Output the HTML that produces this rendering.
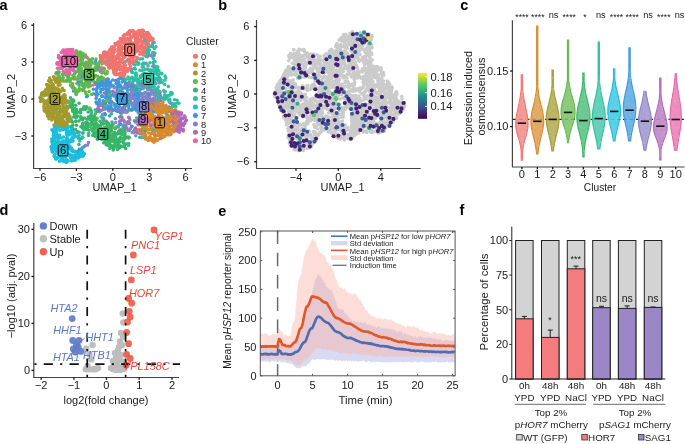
<!DOCTYPE html>
<html><head><meta charset="utf-8"><style>
html,body{margin:0;padding:0;background:#fff;}
svg{display:block;will-change:transform;}
text{font-family:"Liberation Sans", sans-serif;}
</style></head><body>
<svg width="685" height="444" viewBox="0 0 685 444">
<rect width="685" height="444" fill="#fff"/>
<g>
<circle cx="142.9" cy="122.1" r="1.75" fill="#D98B2B"/>
<circle cx="83.1" cy="53.5" r="1.75" fill="#62B84A"/>
<circle cx="57.6" cy="141.9" r="1.75" fill="#1CBEE0"/>
<circle cx="123.4" cy="127.8" r="1.75" fill="#B06AB8"/>
<circle cx="117.2" cy="143.4" r="1.75" fill="#37B56B"/>
<circle cx="100.5" cy="71.8" r="1.75" fill="#62B84A"/>
<circle cx="48.3" cy="108.1" r="1.75" fill="#A39A2E"/>
<circle cx="67.4" cy="63.2" r="1.75" fill="#E864A8"/>
<circle cx="148.5" cy="44.6" r="1.75" fill="#F07470"/>
<circle cx="125.8" cy="49.1" r="1.75" fill="#F07470"/>
<circle cx="172.8" cy="111.2" r="1.75" fill="#B06AB8"/>
<circle cx="125.8" cy="93.8" r="1.75" fill="#3A98DC"/>
<circle cx="56.3" cy="158" r="1.75" fill="#1CBEE0"/>
<circle cx="107" cy="63.2" r="1.75" fill="#F07470"/>
<circle cx="82.2" cy="60" r="1.75" fill="#62B84A"/>
<circle cx="107.8" cy="123.1" r="1.75" fill="#37B56B"/>
<circle cx="48.6" cy="84.9" r="1.75" fill="#A39A2E"/>
<circle cx="90.8" cy="125.3" r="1.75" fill="#37B56B"/>
<circle cx="80" cy="52.1" r="1.75" fill="#62B84A"/>
<circle cx="74" cy="61.1" r="1.75" fill="#E864A8"/>
<circle cx="76.9" cy="83.3" r="1.75" fill="#62B84A"/>
<circle cx="127.1" cy="68.8" r="1.75" fill="#F07470"/>
<circle cx="132.4" cy="86" r="1.75" fill="#3A98DC"/>
<circle cx="129.6" cy="84.2" r="1.75" fill="#3A98DC"/>
<circle cx="64" cy="108.3" r="1.75" fill="#A39A2E"/>
<circle cx="60.9" cy="57.8" r="1.75" fill="#E864A8"/>
<circle cx="141.2" cy="44.9" r="1.75" fill="#F07470"/>
<circle cx="160.1" cy="126.7" r="1.75" fill="#D98B2B"/>
<circle cx="71.2" cy="134" r="1.75" fill="#1CBEE0"/>
<circle cx="113.3" cy="56.1" r="1.75" fill="#F07470"/>
<circle cx="125.1" cy="112" r="1.75" fill="#3A98DC"/>
<circle cx="136.1" cy="91.1" r="1.75" fill="#62B84A"/>
<circle cx="124.4" cy="65.3" r="1.75" fill="#F07470"/>
<circle cx="143" cy="81.6" r="1.75" fill="#2EBFA0"/>
<circle cx="62.2" cy="142.5" r="1.75" fill="#1CBEE0"/>
<circle cx="122" cy="48.7" r="1.75" fill="#F07470"/>
<circle cx="169.9" cy="100.7" r="1.75" fill="#2EBFA0"/>
<circle cx="49" cy="95.2" r="1.75" fill="#A39A2E"/>
<circle cx="148.9" cy="104.6" r="1.75" fill="#D98B2B"/>
<circle cx="147.7" cy="49.6" r="1.75" fill="#2EBFA0"/>
<circle cx="56.4" cy="109.8" r="1.75" fill="#A39A2E"/>
<circle cx="97.9" cy="86.5" r="1.75" fill="#3A98DC"/>
<circle cx="127.3" cy="47.1" r="1.75" fill="#F07470"/>
<circle cx="155.8" cy="118.6" r="1.75" fill="#D98B2B"/>
<circle cx="92.2" cy="69.4" r="1.75" fill="#62B84A"/>
<circle cx="59.6" cy="135" r="1.75" fill="#1CBEE0"/>
<circle cx="122.5" cy="76.5" r="1.75" fill="#F07470"/>
<circle cx="134.2" cy="106.2" r="1.75" fill="#3A98DC"/>
<circle cx="72.4" cy="127.9" r="1.75" fill="#1CBEE0"/>
<circle cx="73.1" cy="129.9" r="1.75" fill="#37B56B"/>
<circle cx="82.6" cy="125" r="1.75" fill="#37B56B"/>
<circle cx="70.2" cy="82.1" r="1.75" fill="#62B84A"/>
<circle cx="120.6" cy="99" r="1.75" fill="#3A98DC"/>
<circle cx="126.4" cy="43.8" r="1.75" fill="#F07470"/>
<circle cx="167.3" cy="95.7" r="1.75" fill="#2EBFA0"/>
<circle cx="96.5" cy="123.7" r="1.75" fill="#37B56B"/>
<circle cx="141.4" cy="137.6" r="1.75" fill="#8C80C8"/>
<circle cx="179.2" cy="132.3" r="1.75" fill="#B06AB8"/>
<circle cx="143.3" cy="30.9" r="1.75" fill="#F07470"/>
<circle cx="144.8" cy="85.7" r="1.75" fill="#8C80C8"/>
<circle cx="148.3" cy="98.9" r="1.75" fill="#8C80C8"/>
<circle cx="149.5" cy="87.7" r="1.75" fill="#2EBFA0"/>
<circle cx="127.4" cy="137.1" r="1.75" fill="#37B56B"/>
<circle cx="86.9" cy="75.2" r="1.75" fill="#62B84A"/>
<circle cx="62.3" cy="118.6" r="1.75" fill="#A39A2E"/>
<circle cx="170.4" cy="110.5" r="1.75" fill="#D98B2B"/>
<circle cx="133" cy="98.6" r="1.75" fill="#3A98DC"/>
<circle cx="132.5" cy="106" r="1.75" fill="#3A98DC"/>
<circle cx="94.8" cy="69.1" r="1.75" fill="#62B84A"/>
<circle cx="116.4" cy="99.2" r="1.75" fill="#3A98DC"/>
<circle cx="144.2" cy="35.5" r="1.75" fill="#F07470"/>
<circle cx="65.6" cy="156.7" r="1.75" fill="#1CBEE0"/>
<circle cx="178.4" cy="129.4" r="1.75" fill="#B06AB8"/>
<circle cx="73.5" cy="151.7" r="1.75" fill="#37B56B"/>
<circle cx="85.7" cy="55.1" r="1.75" fill="#62B84A"/>
<circle cx="88.3" cy="86.9" r="1.75" fill="#62B84A"/>
<circle cx="112" cy="54" r="1.75" fill="#F07470"/>
<circle cx="139.3" cy="41.7" r="1.75" fill="#F07470"/>
<circle cx="116" cy="105.3" r="1.75" fill="#3A98DC"/>
<circle cx="126.4" cy="111.3" r="1.75" fill="#37B56B"/>
<circle cx="136.3" cy="107.3" r="1.75" fill="#8C80C8"/>
<circle cx="164.7" cy="84.4" r="1.75" fill="#2EBFA0"/>
<circle cx="77.6" cy="132.7" r="1.75" fill="#2EBFA0"/>
<circle cx="98.5" cy="136" r="1.75" fill="#37B56B"/>
<circle cx="155.4" cy="91.7" r="1.75" fill="#8C80C8"/>
<circle cx="136.5" cy="90.3" r="1.75" fill="#3A98DC"/>
<circle cx="75" cy="77.5" r="1.75" fill="#62B84A"/>
<circle cx="136.1" cy="109.4" r="1.75" fill="#8C80C8"/>
<circle cx="64.5" cy="150.2" r="1.75" fill="#1CBEE0"/>
<circle cx="47.4" cy="100.7" r="1.75" fill="#A39A2E"/>
<circle cx="60.1" cy="100.4" r="1.75" fill="#A39A2E"/>
<circle cx="101.6" cy="129.1" r="1.75" fill="#37B56B"/>
<circle cx="114.7" cy="132.3" r="1.75" fill="#37B56B"/>
<circle cx="95.1" cy="110.1" r="1.75" fill="#2EBFA0"/>
<circle cx="84" cy="146.8" r="1.75" fill="#3A98DC"/>
<circle cx="75.5" cy="129.5" r="1.75" fill="#37B56B"/>
<circle cx="139" cy="133.1" r="1.75" fill="#8C80C8"/>
<circle cx="47.9" cy="111.4" r="1.75" fill="#A39A2E"/>
<circle cx="57.4" cy="114.2" r="1.75" fill="#A39A2E"/>
<circle cx="80.8" cy="58.1" r="1.75" fill="#62B84A"/>
<circle cx="151.6" cy="116.2" r="1.75" fill="#D98B2B"/>
<circle cx="53.3" cy="103.3" r="1.75" fill="#A39A2E"/>
<circle cx="63.1" cy="126.9" r="1.75" fill="#1CBEE0"/>
<circle cx="154.2" cy="90.8" r="1.75" fill="#2EBFA0"/>
<circle cx="85.8" cy="84.1" r="1.75" fill="#E864A8"/>
<circle cx="60.3" cy="145.6" r="1.75" fill="#1CBEE0"/>
<circle cx="57.2" cy="147.2" r="1.75" fill="#1CBEE0"/>
<circle cx="125.5" cy="70" r="1.75" fill="#F07470"/>
<circle cx="64" cy="108.4" r="1.75" fill="#A39A2E"/>
<circle cx="62" cy="116" r="1.75" fill="#A39A2E"/>
<circle cx="121.1" cy="86.8" r="1.75" fill="#3A98DC"/>
<circle cx="152.9" cy="56.1" r="1.75" fill="#2EBFA0"/>
<circle cx="79.8" cy="73.2" r="1.75" fill="#62B84A"/>
<circle cx="103.4" cy="102" r="1.75" fill="#62B84A"/>
<circle cx="63.9" cy="95.1" r="1.75" fill="#A39A2E"/>
<circle cx="144.5" cy="102.5" r="1.75" fill="#8C80C8"/>
<circle cx="160.1" cy="104.5" r="1.75" fill="#8C80C8"/>
<circle cx="141.5" cy="84.7" r="1.75" fill="#2EBFA0"/>
<circle cx="149.5" cy="111.9" r="1.75" fill="#D98B2B"/>
<circle cx="76.3" cy="116.6" r="1.75" fill="#37B56B"/>
<circle cx="121.5" cy="46.1" r="1.75" fill="#F07470"/>
<circle cx="77.9" cy="61.1" r="1.75" fill="#E864A8"/>
<circle cx="173.4" cy="123.1" r="1.75" fill="#D98B2B"/>
<circle cx="148.9" cy="40.9" r="1.75" fill="#F07470"/>
<circle cx="63" cy="152.2" r="1.75" fill="#1CBEE0"/>
<circle cx="132.5" cy="104.1" r="1.75" fill="#3A98DC"/>
<circle cx="88.3" cy="117" r="1.75" fill="#37B56B"/>
<circle cx="59.9" cy="100.2" r="1.75" fill="#A39A2E"/>
<circle cx="174.1" cy="127.8" r="1.75" fill="#D98B2B"/>
<circle cx="49.5" cy="81.3" r="1.75" fill="#A39A2E"/>
<circle cx="158.2" cy="97.4" r="1.75" fill="#3A98DC"/>
<circle cx="136.2" cy="75.9" r="1.75" fill="#2EBFA0"/>
<circle cx="82.1" cy="62.4" r="1.75" fill="#62B84A"/>
<circle cx="143.6" cy="93.9" r="1.75" fill="#3A98DC"/>
<circle cx="145.5" cy="139" r="1.75" fill="#D98B2B"/>
<circle cx="76.8" cy="151.8" r="1.75" fill="#1CBEE0"/>
<circle cx="119.6" cy="94" r="1.75" fill="#62B84A"/>
<circle cx="59.9" cy="81.9" r="1.75" fill="#A39A2E"/>
<circle cx="164" cy="129" r="1.75" fill="#D98B2B"/>
<circle cx="61.8" cy="154.9" r="1.75" fill="#1CBEE0"/>
<circle cx="146.5" cy="47.4" r="1.75" fill="#F07470"/>
<circle cx="139.4" cy="84.5" r="1.75" fill="#2EBFA0"/>
<circle cx="157.3" cy="91.2" r="1.75" fill="#2EBFA0"/>
<circle cx="54.2" cy="104.2" r="1.75" fill="#A39A2E"/>
<circle cx="135.9" cy="72.9" r="1.75" fill="#2EBFA0"/>
<circle cx="63.3" cy="126.7" r="1.75" fill="#A39A2E"/>
<circle cx="110.1" cy="128.6" r="1.75" fill="#37B56B"/>
<circle cx="76" cy="157.6" r="1.75" fill="#1CBEE0"/>
<circle cx="154.9" cy="104.4" r="1.75" fill="#D98B2B"/>
<circle cx="171.7" cy="113.3" r="1.75" fill="#D98B2B"/>
<circle cx="84.3" cy="76.3" r="1.75" fill="#E864A8"/>
<circle cx="128.2" cy="101.3" r="1.75" fill="#3A98DC"/>
<circle cx="147.3" cy="40.9" r="1.75" fill="#F07470"/>
<circle cx="156.8" cy="108.8" r="1.75" fill="#2EBFA0"/>
<circle cx="139.9" cy="70.2" r="1.75" fill="#2EBFA0"/>
<circle cx="55.5" cy="143.7" r="1.75" fill="#1CBEE0"/>
<circle cx="86.7" cy="122.3" r="1.75" fill="#37B56B"/>
<circle cx="56.8" cy="78.6" r="1.75" fill="#A39A2E"/>
<circle cx="120.1" cy="145.9" r="1.75" fill="#37B56B"/>
<circle cx="154.3" cy="89.3" r="1.75" fill="#2EBFA0"/>
<circle cx="126.6" cy="96" r="1.75" fill="#8C80C8"/>
<circle cx="167.9" cy="134.7" r="1.75" fill="#D98B2B"/>
<circle cx="113.1" cy="135.6" r="1.75" fill="#37B56B"/>
<circle cx="72.3" cy="87.8" r="1.75" fill="#62B84A"/>
<circle cx="58.2" cy="140.8" r="1.75" fill="#1CBEE0"/>
<circle cx="141.9" cy="133" r="1.75" fill="#D98B2B"/>
<circle cx="106.2" cy="64.2" r="1.75" fill="#F07470"/>
<circle cx="125.6" cy="138" r="1.75" fill="#37B56B"/>
<circle cx="99.8" cy="78.1" r="1.75" fill="#37B56B"/>
<circle cx="118.5" cy="66.2" r="1.75" fill="#F07470"/>
<circle cx="51.9" cy="141.6" r="1.75" fill="#1CBEE0"/>
<circle cx="58.7" cy="63.9" r="1.75" fill="#E864A8"/>
<circle cx="173.6" cy="129.1" r="1.75" fill="#D98B2B"/>
<circle cx="153.7" cy="83.2" r="1.75" fill="#2EBFA0"/>
<circle cx="133" cy="59.1" r="1.75" fill="#F07470"/>
<circle cx="60.4" cy="126.7" r="1.75" fill="#1CBEE0"/>
<circle cx="130.8" cy="41.6" r="1.75" fill="#F07470"/>
<circle cx="173.8" cy="113.9" r="1.75" fill="#D98B2B"/>
<circle cx="117.1" cy="90.8" r="1.75" fill="#8C80C8"/>
<circle cx="134.1" cy="68.6" r="1.75" fill="#2EBFA0"/>
<circle cx="136.9" cy="129.7" r="1.75" fill="#B06AB8"/>
<circle cx="162.4" cy="132.6" r="1.75" fill="#D98B2B"/>
<circle cx="113.8" cy="71.9" r="1.75" fill="#F07470"/>
<circle cx="163.7" cy="109.9" r="1.75" fill="#D98B2B"/>
<circle cx="149.2" cy="113.8" r="1.75" fill="#D98B2B"/>
<circle cx="109.2" cy="60.7" r="1.75" fill="#F07470"/>
<circle cx="117.1" cy="83.8" r="1.75" fill="#3A98DC"/>
<circle cx="145.7" cy="135" r="1.75" fill="#B06AB8"/>
<circle cx="85.4" cy="126.6" r="1.75" fill="#37B56B"/>
<circle cx="54.7" cy="137.4" r="1.75" fill="#1CBEE0"/>
<circle cx="152.5" cy="39.5" r="1.75" fill="#F07470"/>
<circle cx="132" cy="54.7" r="1.75" fill="#F07470"/>
<circle cx="66.7" cy="57.9" r="1.75" fill="#E864A8"/>
<circle cx="171.5" cy="115.1" r="1.75" fill="#D98B2B"/>
<circle cx="127.7" cy="71.3" r="1.75" fill="#F07470"/>
<circle cx="155.7" cy="124.8" r="1.75" fill="#D98B2B"/>
<circle cx="143.6" cy="83.2" r="1.75" fill="#2EBFA0"/>
<circle cx="98" cy="83.4" r="1.75" fill="#3A98DC"/>
<circle cx="134.9" cy="85.7" r="1.75" fill="#8C80C8"/>
<circle cx="63.1" cy="96.5" r="1.75" fill="#A39A2E"/>
<circle cx="151" cy="106.5" r="1.75" fill="#2EBFA0"/>
<circle cx="162.6" cy="98.3" r="1.75" fill="#8C80C8"/>
<circle cx="58.4" cy="80.1" r="1.75" fill="#A39A2E"/>
<circle cx="72.8" cy="150.2" r="1.75" fill="#1CBEE0"/>
<circle cx="51.5" cy="85.9" r="1.75" fill="#A39A2E"/>
<circle cx="95.6" cy="124.5" r="1.75" fill="#37B56B"/>
<circle cx="58.9" cy="148.7" r="1.75" fill="#1CBEE0"/>
<circle cx="114.9" cy="145.9" r="1.75" fill="#37B56B"/>
<circle cx="154.6" cy="53.3" r="1.75" fill="#2EBFA0"/>
<circle cx="147.3" cy="74.1" r="1.75" fill="#8C80C8"/>
<circle cx="139.5" cy="48.5" r="1.75" fill="#F07470"/>
<circle cx="156.8" cy="127.9" r="1.75" fill="#D98B2B"/>
<circle cx="110.3" cy="95.1" r="1.75" fill="#3A98DC"/>
<circle cx="54.6" cy="79.2" r="1.75" fill="#A39A2E"/>
<circle cx="154" cy="106.1" r="1.75" fill="#2EBFA0"/>
<circle cx="92.6" cy="59.1" r="1.75" fill="#62B84A"/>
<circle cx="118.4" cy="82.1" r="1.75" fill="#3A98DC"/>
<circle cx="134.9" cy="34.1" r="1.75" fill="#F07470"/>
<circle cx="176" cy="122.7" r="1.75" fill="#B06AB8"/>
<circle cx="53.3" cy="135.6" r="1.75" fill="#1CBEE0"/>
<circle cx="72.6" cy="141.1" r="1.75" fill="#1CBEE0"/>
<circle cx="56.1" cy="72.7" r="1.75" fill="#62B84A"/>
<circle cx="130.6" cy="102.2" r="1.75" fill="#8C80C8"/>
<circle cx="156.9" cy="68.7" r="1.75" fill="#2EBFA0"/>
<circle cx="132.2" cy="53.2" r="1.75" fill="#F07470"/>
<circle cx="69.8" cy="54.3" r="1.75" fill="#E864A8"/>
<circle cx="68.6" cy="50" r="1.75" fill="#E864A8"/>
<circle cx="67.4" cy="146.7" r="1.75" fill="#1CBEE0"/>
<circle cx="129" cy="108.5" r="1.75" fill="#3A98DC"/>
<circle cx="123" cy="108.9" r="1.75" fill="#3A98DC"/>
<circle cx="102.3" cy="80.1" r="1.75" fill="#62B84A"/>
<circle cx="153.4" cy="86.4" r="1.75" fill="#8C80C8"/>
<circle cx="180.7" cy="126" r="1.75" fill="#B06AB8"/>
<circle cx="153.2" cy="103.3" r="1.75" fill="#D98B2B"/>
<circle cx="133" cy="43.8" r="1.75" fill="#F07470"/>
<circle cx="118.3" cy="127" r="1.75" fill="#B06AB8"/>
<circle cx="119.8" cy="68.9" r="1.75" fill="#F07470"/>
<circle cx="160.4" cy="127.3" r="1.75" fill="#D98B2B"/>
<circle cx="111.3" cy="66" r="1.75" fill="#F07470"/>
<circle cx="118.9" cy="131.1" r="1.75" fill="#37B56B"/>
<circle cx="65.3" cy="107.2" r="1.75" fill="#A39A2E"/>
<circle cx="73.3" cy="58.2" r="1.75" fill="#E864A8"/>
<circle cx="104.3" cy="106.8" r="1.75" fill="#3A98DC"/>
<circle cx="70.6" cy="85.6" r="1.75" fill="#E864A8"/>
<circle cx="73.8" cy="79.1" r="1.75" fill="#E864A8"/>
<circle cx="173" cy="115.1" r="1.75" fill="#D98B2B"/>
<circle cx="183.3" cy="129.4" r="1.75" fill="#B06AB8"/>
<circle cx="119.3" cy="59" r="1.75" fill="#F07470"/>
<circle cx="54.1" cy="141.6" r="1.75" fill="#1CBEE0"/>
<circle cx="72.9" cy="86.3" r="1.75" fill="#62B84A"/>
<circle cx="58.2" cy="152.4" r="1.75" fill="#1CBEE0"/>
<circle cx="151.9" cy="101.3" r="1.75" fill="#8C80C8"/>
<circle cx="129.9" cy="119.8" r="1.75" fill="#2EBFA0"/>
<circle cx="103.6" cy="107.7" r="1.75" fill="#3A98DC"/>
<circle cx="62.6" cy="62.2" r="1.75" fill="#E864A8"/>
<circle cx="151.3" cy="55.9" r="1.75" fill="#2EBFA0"/>
<circle cx="115.3" cy="60.9" r="1.75" fill="#F07470"/>
<circle cx="102.6" cy="96.4" r="1.75" fill="#8C80C8"/>
<circle cx="129.6" cy="110.1" r="1.75" fill="#3A98DC"/>
<circle cx="144.6" cy="136.7" r="1.75" fill="#D98B2B"/>
<circle cx="55.4" cy="119.2" r="1.75" fill="#37B56B"/>
<circle cx="114.3" cy="87.7" r="1.75" fill="#62B84A"/>
<circle cx="141.4" cy="84.7" r="1.75" fill="#8C80C8"/>
<circle cx="109.2" cy="100.1" r="1.75" fill="#3A98DC"/>
<circle cx="55.7" cy="159" r="1.75" fill="#1CBEE0"/>
<circle cx="121.5" cy="47.2" r="1.75" fill="#F07470"/>
<circle cx="128.1" cy="144.1" r="1.75" fill="#37B56B"/>
<circle cx="131.9" cy="69.2" r="1.75" fill="#2EBFA0"/>
<circle cx="66.7" cy="149" r="1.75" fill="#1CBEE0"/>
<circle cx="65.9" cy="63.6" r="1.75" fill="#E864A8"/>
<circle cx="77.2" cy="57.5" r="1.75" fill="#62B84A"/>
<circle cx="158.3" cy="118.6" r="1.75" fill="#D98B2B"/>
<circle cx="168.3" cy="86.6" r="1.75" fill="#2EBFA0"/>
<circle cx="72.9" cy="140.8" r="1.75" fill="#1CBEE0"/>
<circle cx="130.7" cy="98" r="1.75" fill="#8C80C8"/>
<circle cx="74.7" cy="66.8" r="1.75" fill="#E864A8"/>
<circle cx="146.6" cy="98.8" r="1.75" fill="#2EBFA0"/>
<circle cx="105.5" cy="139.2" r="1.75" fill="#37B56B"/>
<circle cx="94.1" cy="127.7" r="1.75" fill="#37B56B"/>
<circle cx="159.7" cy="123.5" r="1.75" fill="#D98B2B"/>
<circle cx="127.9" cy="86.5" r="1.75" fill="#3A98DC"/>
<circle cx="133.7" cy="132.8" r="1.75" fill="#B06AB8"/>
<circle cx="111.5" cy="85.6" r="1.75" fill="#3A98DC"/>
<circle cx="57.7" cy="126" r="1.75" fill="#1CBEE0"/>
<circle cx="56.6" cy="113.2" r="1.75" fill="#A39A2E"/>
<circle cx="78.4" cy="158.1" r="1.75" fill="#1CBEE0"/>
<circle cx="90.1" cy="118.6" r="1.75" fill="#62B84A"/>
<circle cx="157.2" cy="71.5" r="1.75" fill="#2EBFA0"/>
<circle cx="53.2" cy="145.4" r="1.75" fill="#1CBEE0"/>
<circle cx="86.5" cy="123.6" r="1.75" fill="#37B56B"/>
<circle cx="134.7" cy="100" r="1.75" fill="#2EBFA0"/>
<circle cx="52.1" cy="91.8" r="1.75" fill="#A39A2E"/>
<circle cx="122.3" cy="130.6" r="1.75" fill="#37B56B"/>
<circle cx="47.6" cy="89.1" r="1.75" fill="#A39A2E"/>
<circle cx="54.1" cy="138.1" r="1.75" fill="#1CBEE0"/>
<circle cx="130.8" cy="44.4" r="1.75" fill="#F07470"/>
<circle cx="72.7" cy="137.1" r="1.75" fill="#1CBEE0"/>
<circle cx="91.3" cy="110.9" r="1.75" fill="#37B56B"/>
<circle cx="120.2" cy="72.9" r="1.75" fill="#F07470"/>
<circle cx="90.9" cy="123.7" r="1.75" fill="#37B56B"/>
<circle cx="152.2" cy="133.3" r="1.75" fill="#D98B2B"/>
<circle cx="81.2" cy="68.1" r="1.75" fill="#62B84A"/>
<circle cx="63.6" cy="64.2" r="1.75" fill="#E864A8"/>
<circle cx="120.6" cy="59.2" r="1.75" fill="#F07470"/>
<circle cx="148.9" cy="94.2" r="1.75" fill="#8C80C8"/>
<circle cx="94.8" cy="123.8" r="1.75" fill="#37B56B"/>
<circle cx="80.7" cy="156" r="1.75" fill="#1CBEE0"/>
<circle cx="136.5" cy="61.4" r="1.75" fill="#2EBFA0"/>
<circle cx="81.6" cy="57.5" r="1.75" fill="#62B84A"/>
<circle cx="70.1" cy="107" r="1.75" fill="#37B56B"/>
<circle cx="62.6" cy="125.9" r="1.75" fill="#1CBEE0"/>
<circle cx="170" cy="134.8" r="1.75" fill="#D98B2B"/>
<circle cx="124.1" cy="80.1" r="1.75" fill="#62B84A"/>
<circle cx="64.4" cy="55.5" r="1.75" fill="#E864A8"/>
<circle cx="124.4" cy="139.3" r="1.75" fill="#37B56B"/>
<circle cx="108.3" cy="108.2" r="1.75" fill="#B06AB8"/>
<circle cx="152.5" cy="109.1" r="1.75" fill="#8C80C8"/>
<circle cx="89.6" cy="61" r="1.75" fill="#62B84A"/>
<circle cx="95" cy="134.3" r="1.75" fill="#37B56B"/>
<circle cx="96.6" cy="133.2" r="1.75" fill="#37B56B"/>
<circle cx="106.6" cy="61.6" r="1.75" fill="#F07470"/>
<circle cx="79.1" cy="90.8" r="1.75" fill="#62B84A"/>
<circle cx="143.9" cy="134.1" r="1.75" fill="#D98B2B"/>
<circle cx="148.1" cy="65.7" r="1.75" fill="#2EBFA0"/>
<circle cx="111.8" cy="101.8" r="1.75" fill="#3A98DC"/>
<circle cx="115.6" cy="62.8" r="1.75" fill="#F07470"/>
<circle cx="146.9" cy="118.9" r="1.75" fill="#D98B2B"/>
<circle cx="143.2" cy="120.5" r="1.75" fill="#D98B2B"/>
<circle cx="71.3" cy="129.2" r="1.75" fill="#1CBEE0"/>
<circle cx="163.6" cy="136.9" r="1.75" fill="#D98B2B"/>
<circle cx="101.7" cy="85.5" r="1.75" fill="#3A98DC"/>
<circle cx="155.1" cy="92" r="1.75" fill="#2EBFA0"/>
<circle cx="154.7" cy="53.2" r="1.75" fill="#2EBFA0"/>
<circle cx="96.8" cy="96" r="1.75" fill="#3A98DC"/>
<circle cx="46.7" cy="107.1" r="1.75" fill="#A39A2E"/>
<circle cx="153.6" cy="65.6" r="1.75" fill="#8C80C8"/>
<circle cx="79.4" cy="131.9" r="1.75" fill="#1CBEE0"/>
<circle cx="107" cy="73.4" r="1.75" fill="#62B84A"/>
<circle cx="109.6" cy="101.9" r="1.75" fill="#3A98DC"/>
<circle cx="113.5" cy="93.5" r="1.75" fill="#3A98DC"/>
<circle cx="137.5" cy="102.2" r="1.75" fill="#3A98DC"/>
<circle cx="137" cy="106.4" r="1.75" fill="#8C80C8"/>
<circle cx="75.8" cy="121.1" r="1.75" fill="#37B56B"/>
<circle cx="96.5" cy="69.3" r="1.75" fill="#E864A8"/>
<circle cx="137.5" cy="89.8" r="1.75" fill="#8C80C8"/>
<circle cx="96.1" cy="98.6" r="1.75" fill="#3A98DC"/>
<circle cx="65.9" cy="52.7" r="1.75" fill="#E864A8"/>
<circle cx="158.5" cy="77.5" r="1.75" fill="#2EBFA0"/>
<circle cx="136.9" cy="79.8" r="1.75" fill="#2EBFA0"/>
<circle cx="125.9" cy="61.6" r="1.75" fill="#2EBFA0"/>
<circle cx="172.6" cy="115.3" r="1.75" fill="#D98B2B"/>
<circle cx="64.9" cy="145.8" r="1.75" fill="#1CBEE0"/>
<circle cx="141.2" cy="122.7" r="1.75" fill="#D98B2B"/>
<circle cx="52.9" cy="108.9" r="1.75" fill="#A39A2E"/>
<circle cx="80.4" cy="112.7" r="1.75" fill="#37B56B"/>
<circle cx="147.6" cy="129.8" r="1.75" fill="#D98B2B"/>
<circle cx="173.1" cy="103.9" r="1.75" fill="#2EBFA0"/>
<circle cx="120.3" cy="51.3" r="1.75" fill="#F07470"/>
<circle cx="131.2" cy="89.2" r="1.75" fill="#3A98DC"/>
<circle cx="60.6" cy="124.7" r="1.75" fill="#1CBEE0"/>
<circle cx="161.5" cy="138.1" r="1.75" fill="#D98B2B"/>
<circle cx="183.5" cy="125.8" r="1.75" fill="#D98B2B"/>
<circle cx="111.9" cy="127.4" r="1.75" fill="#37B56B"/>
<circle cx="68.1" cy="125.9" r="1.75" fill="#1CBEE0"/>
<circle cx="108.4" cy="107" r="1.75" fill="#3A98DC"/>
<circle cx="148" cy="99.5" r="1.75" fill="#2EBFA0"/>
<circle cx="73.3" cy="65.8" r="1.75" fill="#E864A8"/>
<circle cx="74.7" cy="155.5" r="1.75" fill="#1CBEE0"/>
<circle cx="110.2" cy="91.8" r="1.75" fill="#3A98DC"/>
<circle cx="105.3" cy="132.8" r="1.75" fill="#37B56B"/>
<circle cx="121.1" cy="97.8" r="1.75" fill="#3A98DC"/>
<circle cx="53.6" cy="137.9" r="1.75" fill="#1CBEE0"/>
<circle cx="65" cy="154.9" r="1.75" fill="#1CBEE0"/>
<circle cx="108.2" cy="140.6" r="1.75" fill="#37B56B"/>
<circle cx="64.6" cy="129.1" r="1.75" fill="#1CBEE0"/>
<circle cx="117.3" cy="134" r="1.75" fill="#37B56B"/>
<circle cx="116.3" cy="126.9" r="1.75" fill="#2EBFA0"/>
<circle cx="136.2" cy="51.7" r="1.75" fill="#F07470"/>
<circle cx="63.3" cy="63.4" r="1.75" fill="#E864A8"/>
<circle cx="134.6" cy="43.9" r="1.75" fill="#F07470"/>
<circle cx="125.5" cy="105.3" r="1.75" fill="#3A98DC"/>
<circle cx="120.4" cy="129.8" r="1.75" fill="#37B56B"/>
<circle cx="166.1" cy="98.5" r="1.75" fill="#2EBFA0"/>
<circle cx="51.3" cy="147.4" r="1.75" fill="#1CBEE0"/>
<circle cx="160" cy="138.6" r="1.75" fill="#B06AB8"/>
<circle cx="74.4" cy="74.2" r="1.75" fill="#62B84A"/>
<circle cx="56.6" cy="104.6" r="1.75" fill="#A39A2E"/>
<circle cx="174.4" cy="123.9" r="1.75" fill="#D98B2B"/>
<circle cx="141.4" cy="122.1" r="1.75" fill="#B06AB8"/>
<circle cx="130.6" cy="128.6" r="1.75" fill="#8C80C8"/>
<circle cx="66.7" cy="151" r="1.75" fill="#1CBEE0"/>
<circle cx="129.2" cy="68.7" r="1.75" fill="#F07470"/>
<circle cx="95.5" cy="70.1" r="1.75" fill="#62B84A"/>
<circle cx="120" cy="78" r="1.75" fill="#3A98DC"/>
<circle cx="124.4" cy="37.4" r="1.75" fill="#F07470"/>
<circle cx="113.4" cy="141.3" r="1.75" fill="#37B56B"/>
<circle cx="79" cy="68.6" r="1.75" fill="#62B84A"/>
<circle cx="130.6" cy="94" r="1.75" fill="#8C80C8"/>
<circle cx="75.5" cy="62" r="1.75" fill="#E864A8"/>
<circle cx="137.3" cy="98" r="1.75" fill="#3A98DC"/>
<circle cx="114.1" cy="72.4" r="1.75" fill="#F07470"/>
<circle cx="93.6" cy="117.1" r="1.75" fill="#37B56B"/>
<circle cx="176.4" cy="125.9" r="1.75" fill="#B06AB8"/>
<circle cx="109.5" cy="84.7" r="1.75" fill="#3A98DC"/>
<circle cx="80.9" cy="52.6" r="1.75" fill="#62B84A"/>
<circle cx="113.9" cy="64.4" r="1.75" fill="#F07470"/>
<circle cx="58.7" cy="72.1" r="1.75" fill="#62B84A"/>
<circle cx="85.9" cy="93.5" r="1.75" fill="#62B84A"/>
<circle cx="155.8" cy="95.7" r="1.75" fill="#3A98DC"/>
<circle cx="67.8" cy="121.6" r="1.75" fill="#A39A2E"/>
<circle cx="115.6" cy="71.2" r="1.75" fill="#F07470"/>
<circle cx="42.5" cy="99.2" r="1.75" fill="#A39A2E"/>
<circle cx="71.1" cy="157.1" r="1.75" fill="#1CBEE0"/>
<circle cx="120.3" cy="50.2" r="1.75" fill="#F07470"/>
<circle cx="63.8" cy="161.2" r="1.75" fill="#1CBEE0"/>
<circle cx="57.4" cy="137.6" r="1.75" fill="#1CBEE0"/>
<circle cx="133.8" cy="34.1" r="1.75" fill="#F07470"/>
<circle cx="119" cy="41.7" r="1.75" fill="#F07470"/>
<circle cx="159" cy="127.4" r="1.75" fill="#D98B2B"/>
<circle cx="104.8" cy="113.4" r="1.75" fill="#B06AB8"/>
<circle cx="150.5" cy="38.2" r="1.75" fill="#F07470"/>
<circle cx="55.1" cy="119.8" r="1.75" fill="#A39A2E"/>
<circle cx="61.7" cy="110.4" r="1.75" fill="#A39A2E"/>
<circle cx="155.1" cy="66.3" r="1.75" fill="#2EBFA0"/>
<circle cx="62.5" cy="74.3" r="1.75" fill="#37B56B"/>
<circle cx="53.4" cy="141.4" r="1.75" fill="#1CBEE0"/>
<circle cx="69.8" cy="142" r="1.75" fill="#1CBEE0"/>
<circle cx="136.5" cy="104.9" r="1.75" fill="#3A98DC"/>
<circle cx="56.1" cy="110.6" r="1.75" fill="#A39A2E"/>
<circle cx="118.3" cy="53.7" r="1.75" fill="#F07470"/>
<circle cx="96.4" cy="70.2" r="1.75" fill="#62B84A"/>
<circle cx="111.3" cy="130" r="1.75" fill="#37B56B"/>
<circle cx="123" cy="103.6" r="1.75" fill="#3A98DC"/>
<circle cx="137" cy="104.6" r="1.75" fill="#3A98DC"/>
<circle cx="153" cy="140.6" r="1.75" fill="#B06AB8"/>
<circle cx="172.2" cy="129.1" r="1.75" fill="#D98B2B"/>
<circle cx="151.8" cy="105.7" r="1.75" fill="#8C80C8"/>
<circle cx="175.6" cy="110.1" r="1.75" fill="#D98B2B"/>
<circle cx="70" cy="132.2" r="1.75" fill="#1CBEE0"/>
<circle cx="138.2" cy="84.1" r="1.75" fill="#8C80C8"/>
<circle cx="80.8" cy="117.1" r="1.75" fill="#37B56B"/>
<circle cx="68.4" cy="72.1" r="1.75" fill="#E864A8"/>
<circle cx="64.7" cy="65.8" r="1.75" fill="#E864A8"/>
<circle cx="134" cy="52.1" r="1.75" fill="#F07470"/>
<circle cx="67.9" cy="79" r="1.75" fill="#62B84A"/>
<circle cx="65.1" cy="116.7" r="1.75" fill="#37B56B"/>
<circle cx="51.8" cy="139" r="1.75" fill="#1CBEE0"/>
<circle cx="172.8" cy="121.3" r="1.75" fill="#D98B2B"/>
<circle cx="97.9" cy="79.6" r="1.75" fill="#62B84A"/>
<circle cx="169.1" cy="128.9" r="1.75" fill="#D98B2B"/>
<circle cx="68.5" cy="115.3" r="1.75" fill="#A39A2E"/>
<circle cx="160.8" cy="80.1" r="1.75" fill="#8C80C8"/>
<circle cx="67.1" cy="138.6" r="1.75" fill="#1CBEE0"/>
<circle cx="125.9" cy="110.6" r="1.75" fill="#3A98DC"/>
<circle cx="124.4" cy="101.8" r="1.75" fill="#3A98DC"/>
<circle cx="127.4" cy="34.4" r="1.75" fill="#F07470"/>
<circle cx="118.9" cy="47.1" r="1.75" fill="#F07470"/>
<circle cx="82.8" cy="84.3" r="1.75" fill="#62B84A"/>
<circle cx="92" cy="72.5" r="1.75" fill="#62B84A"/>
<circle cx="154.6" cy="81.4" r="1.75" fill="#2EBFA0"/>
<circle cx="51.9" cy="109.3" r="1.75" fill="#A39A2E"/>
<circle cx="129.4" cy="122.9" r="1.75" fill="#8C80C8"/>
<circle cx="141.6" cy="86" r="1.75" fill="#8C80C8"/>
<circle cx="60.2" cy="108.4" r="1.75" fill="#A39A2E"/>
<circle cx="166" cy="105.5" r="1.75" fill="#D98B2B"/>
<circle cx="147.3" cy="44.7" r="1.75" fill="#F07470"/>
<circle cx="113.7" cy="86" r="1.75" fill="#3A98DC"/>
<circle cx="88" cy="64.3" r="1.75" fill="#37B56B"/>
<circle cx="159.4" cy="129.1" r="1.75" fill="#D98B2B"/>
<circle cx="142.1" cy="41.5" r="1.75" fill="#F07470"/>
<circle cx="160.1" cy="127.7" r="1.75" fill="#D98B2B"/>
<circle cx="115.2" cy="106.3" r="1.75" fill="#3A98DC"/>
<circle cx="163.5" cy="120.1" r="1.75" fill="#D98B2B"/>
<circle cx="74.4" cy="61.8" r="1.75" fill="#E864A8"/>
<circle cx="157" cy="100.8" r="1.75" fill="#3A98DC"/>
<circle cx="92.4" cy="74.7" r="1.75" fill="#62B84A"/>
<circle cx="154.1" cy="55.4" r="1.75" fill="#8C80C8"/>
<circle cx="117" cy="139.2" r="1.75" fill="#37B56B"/>
<circle cx="163.2" cy="131.4" r="1.75" fill="#D98B2B"/>
<circle cx="81.9" cy="151.6" r="1.75" fill="#1CBEE0"/>
<circle cx="109.1" cy="133.1" r="1.75" fill="#37B56B"/>
<circle cx="170.5" cy="116.7" r="1.75" fill="#D98B2B"/>
<circle cx="146.3" cy="119.4" r="1.75" fill="#D98B2B"/>
<circle cx="65.3" cy="114.4" r="1.75" fill="#A39A2E"/>
<circle cx="125.9" cy="101" r="1.75" fill="#8C80C8"/>
<circle cx="138.5" cy="39.5" r="1.75" fill="#F07470"/>
<circle cx="99.1" cy="69.1" r="1.75" fill="#62B84A"/>
<circle cx="91.7" cy="122" r="1.75" fill="#37B56B"/>
<circle cx="54.5" cy="127.6" r="1.75" fill="#1CBEE0"/>
<circle cx="99.9" cy="80.7" r="1.75" fill="#3A98DC"/>
<circle cx="67" cy="130.4" r="1.75" fill="#1CBEE0"/>
<circle cx="144.5" cy="39.7" r="1.75" fill="#F07470"/>
<circle cx="143.2" cy="117.8" r="1.75" fill="#D98B2B"/>
<circle cx="133.3" cy="131.6" r="1.75" fill="#B06AB8"/>
<circle cx="82.4" cy="137.2" r="1.75" fill="#1CBEE0"/>
<circle cx="105.7" cy="106.8" r="1.75" fill="#3A98DC"/>
<circle cx="125.7" cy="111.6" r="1.75" fill="#8C80C8"/>
<circle cx="107" cy="90.5" r="1.75" fill="#B06AB8"/>
<circle cx="112.1" cy="64.5" r="1.75" fill="#F07470"/>
<circle cx="120.2" cy="85.2" r="1.75" fill="#3A98DC"/>
<circle cx="140.6" cy="46.4" r="1.75" fill="#F07470"/>
<circle cx="110.9" cy="138.4" r="1.75" fill="#37B56B"/>
<circle cx="101.4" cy="61.2" r="1.75" fill="#F07470"/>
<circle cx="83.6" cy="85.9" r="1.75" fill="#62B84A"/>
<circle cx="149.9" cy="126.1" r="1.75" fill="#D98B2B"/>
<circle cx="107" cy="94.7" r="1.75" fill="#62B84A"/>
<circle cx="106.3" cy="121.3" r="1.75" fill="#37B56B"/>
<circle cx="158.3" cy="116.5" r="1.75" fill="#B06AB8"/>
<circle cx="119.3" cy="140.8" r="1.75" fill="#37B56B"/>
<circle cx="148" cy="51.1" r="1.75" fill="#2EBFA0"/>
<circle cx="160.9" cy="106.4" r="1.75" fill="#D98B2B"/>
<circle cx="56.5" cy="158.9" r="1.75" fill="#1CBEE0"/>
<circle cx="45.5" cy="95.3" r="1.75" fill="#A39A2E"/>
<circle cx="76.1" cy="72.1" r="1.75" fill="#37B56B"/>
<circle cx="55.3" cy="141.1" r="1.75" fill="#1CBEE0"/>
<circle cx="142.3" cy="43" r="1.75" fill="#F07470"/>
<circle cx="51.3" cy="95.1" r="1.75" fill="#A39A2E"/>
<circle cx="133.1" cy="51.8" r="1.75" fill="#F07470"/>
<circle cx="110.7" cy="135.1" r="1.75" fill="#37B56B"/>
<circle cx="66.3" cy="125.1" r="1.75" fill="#A39A2E"/>
<circle cx="102.9" cy="86.3" r="1.75" fill="#3A98DC"/>
<circle cx="50" cy="101.2" r="1.75" fill="#A39A2E"/>
<circle cx="60.6" cy="160.5" r="1.75" fill="#1CBEE0"/>
<circle cx="95.3" cy="136.6" r="1.75" fill="#37B56B"/>
<circle cx="155.6" cy="103.5" r="1.75" fill="#8C80C8"/>
<circle cx="156.2" cy="110.1" r="1.75" fill="#D98B2B"/>
<circle cx="134.2" cy="46.7" r="1.75" fill="#F07470"/>
<circle cx="164.4" cy="120.9" r="1.75" fill="#2EBFA0"/>
<circle cx="110.4" cy="126.7" r="1.75" fill="#37B56B"/>
<circle cx="105.9" cy="95.1" r="1.75" fill="#3A98DC"/>
<circle cx="52.5" cy="141.9" r="1.75" fill="#1CBEE0"/>
<circle cx="128.1" cy="77.1" r="1.75" fill="#2EBFA0"/>
<circle cx="60.3" cy="124.4" r="1.75" fill="#A39A2E"/>
<circle cx="168.2" cy="123.8" r="1.75" fill="#D98B2B"/>
<circle cx="101.7" cy="139.2" r="1.75" fill="#37B56B"/>
<circle cx="55.4" cy="157.7" r="1.75" fill="#1CBEE0"/>
<circle cx="49.4" cy="92.8" r="1.75" fill="#A39A2E"/>
<circle cx="66.9" cy="123.2" r="1.75" fill="#A39A2E"/>
<circle cx="178.9" cy="119.9" r="1.75" fill="#B06AB8"/>
<circle cx="88.5" cy="142.5" r="1.75" fill="#8C80C8"/>
<circle cx="160.2" cy="121.8" r="1.75" fill="#D98B2B"/>
<circle cx="149.4" cy="110.1" r="1.75" fill="#D98B2B"/>
<circle cx="67.2" cy="74.5" r="1.75" fill="#E864A8"/>
<circle cx="118.4" cy="95.4" r="1.75" fill="#3A98DC"/>
<circle cx="156.4" cy="79.5" r="1.75" fill="#2EBFA0"/>
<circle cx="128.4" cy="130.3" r="1.75" fill="#B06AB8"/>
<circle cx="169.1" cy="123.3" r="1.75" fill="#2EBFA0"/>
<circle cx="63.8" cy="66.4" r="1.75" fill="#E864A8"/>
<circle cx="53.3" cy="108.7" r="1.75" fill="#A39A2E"/>
<circle cx="106.6" cy="96.5" r="1.75" fill="#3A98DC"/>
<circle cx="58.5" cy="147.2" r="1.75" fill="#1CBEE0"/>
<circle cx="50.6" cy="97.8" r="1.75" fill="#A39A2E"/>
<circle cx="125.9" cy="44.8" r="1.75" fill="#F07470"/>
<circle cx="92.1" cy="123" r="1.75" fill="#37B56B"/>
<circle cx="152.6" cy="85.5" r="1.75" fill="#2EBFA0"/>
<circle cx="144.1" cy="51.1" r="1.75" fill="#F07470"/>
<circle cx="92.6" cy="120.2" r="1.75" fill="#37B56B"/>
<circle cx="92.9" cy="76.8" r="1.75" fill="#62B84A"/>
<circle cx="164.7" cy="111.9" r="1.75" fill="#D98B2B"/>
<circle cx="148.7" cy="133" r="1.75" fill="#D98B2B"/>
<circle cx="72.5" cy="132.4" r="1.75" fill="#1CBEE0"/>
<circle cx="44.2" cy="110.6" r="1.75" fill="#A39A2E"/>
<circle cx="124.8" cy="46.8" r="1.75" fill="#F07470"/>
<circle cx="146.9" cy="87.2" r="1.75" fill="#8C80C8"/>
<circle cx="83.3" cy="85.2" r="1.75" fill="#62B84A"/>
<circle cx="131.8" cy="77.3" r="1.75" fill="#2EBFA0"/>
<circle cx="146.5" cy="79.8" r="1.75" fill="#2EBFA0"/>
<circle cx="142.5" cy="100.4" r="1.75" fill="#8C80C8"/>
<circle cx="54.5" cy="95.9" r="1.75" fill="#A39A2E"/>
<circle cx="175.3" cy="110.2" r="1.75" fill="#D98B2B"/>
<circle cx="101.9" cy="134" r="1.75" fill="#37B56B"/>
<circle cx="109.6" cy="103" r="1.75" fill="#3A98DC"/>
<circle cx="140.4" cy="118.3" r="1.75" fill="#8C80C8"/>
<circle cx="59" cy="127" r="1.75" fill="#1CBEE0"/>
<circle cx="122.8" cy="69.2" r="1.75" fill="#F07470"/>
<circle cx="118.9" cy="48" r="1.75" fill="#F07470"/>
<circle cx="151.8" cy="114.3" r="1.75" fill="#D98B2B"/>
<circle cx="144.3" cy="129.1" r="1.75" fill="#D98B2B"/>
<circle cx="83.6" cy="72.2" r="1.75" fill="#37B56B"/>
<circle cx="119.6" cy="117" r="1.75" fill="#B06AB8"/>
<circle cx="155" cy="61.4" r="1.75" fill="#2EBFA0"/>
<circle cx="143.9" cy="73.2" r="1.75" fill="#8C80C8"/>
<circle cx="154.5" cy="125.3" r="1.75" fill="#D98B2B"/>
<circle cx="148" cy="96.8" r="1.75" fill="#3A98DC"/>
<circle cx="98.8" cy="138" r="1.75" fill="#37B56B"/>
<circle cx="147.9" cy="116.7" r="1.75" fill="#D98B2B"/>
<circle cx="149.8" cy="79.9" r="1.75" fill="#2EBFA0"/>
<circle cx="109" cy="135.6" r="1.75" fill="#37B56B"/>
<circle cx="145.8" cy="52.6" r="1.75" fill="#2EBFA0"/>
<circle cx="63.1" cy="129.7" r="1.75" fill="#1CBEE0"/>
<circle cx="123.9" cy="57.7" r="1.75" fill="#F07470"/>
<circle cx="101.9" cy="70.7" r="1.75" fill="#62B84A"/>
<circle cx="137.4" cy="37.2" r="1.75" fill="#F07470"/>
<circle cx="99.5" cy="84.8" r="1.75" fill="#3A98DC"/>
<circle cx="135.3" cy="69" r="1.75" fill="#2EBFA0"/>
<circle cx="74.7" cy="112.7" r="1.75" fill="#37B56B"/>
<circle cx="166.2" cy="124.6" r="1.75" fill="#D98B2B"/>
<circle cx="69.8" cy="81.6" r="1.75" fill="#62B84A"/>
<circle cx="118.6" cy="145.3" r="1.75" fill="#62B84A"/>
<circle cx="69.9" cy="149.1" r="1.75" fill="#1CBEE0"/>
<circle cx="61.4" cy="80.3" r="1.75" fill="#A39A2E"/>
<circle cx="48" cy="94" r="1.75" fill="#A39A2E"/>
<circle cx="110.3" cy="140.3" r="1.75" fill="#37B56B"/>
<circle cx="73.5" cy="90.9" r="1.75" fill="#3A98DC"/>
<circle cx="134.1" cy="53.6" r="1.75" fill="#F07470"/>
<circle cx="160" cy="119.5" r="1.75" fill="#D98B2B"/>
<circle cx="105.2" cy="140.6" r="1.75" fill="#37B56B"/>
<circle cx="104.4" cy="135.5" r="1.75" fill="#37B56B"/>
<circle cx="67.2" cy="54.7" r="1.75" fill="#E864A8"/>
<circle cx="150.6" cy="75.9" r="1.75" fill="#2EBFA0"/>
<circle cx="64.9" cy="123.1" r="1.75" fill="#A39A2E"/>
<circle cx="114.2" cy="109.7" r="1.75" fill="#3A98DC"/>
<circle cx="136.1" cy="32.1" r="1.75" fill="#F07470"/>
<circle cx="137.9" cy="87.7" r="1.75" fill="#8C80C8"/>
<circle cx="144.6" cy="43.6" r="1.75" fill="#F07470"/>
<circle cx="96.5" cy="103" r="1.75" fill="#8C80C8"/>
<circle cx="124.6" cy="66.5" r="1.75" fill="#F07470"/>
<circle cx="40.2" cy="97.5" r="1.75" fill="#37B56B"/>
<circle cx="125.8" cy="49.4" r="1.75" fill="#F07470"/>
<circle cx="129.3" cy="130.8" r="1.75" fill="#B06AB8"/>
<circle cx="58.1" cy="104.3" r="1.75" fill="#A39A2E"/>
<circle cx="174.4" cy="114.4" r="1.75" fill="#D98B2B"/>
<circle cx="152.7" cy="42.7" r="1.75" fill="#2EBFA0"/>
<circle cx="69.1" cy="75" r="1.75" fill="#62B84A"/>
<circle cx="80.9" cy="119" r="1.75" fill="#37B56B"/>
<circle cx="104.1" cy="85.8" r="1.75" fill="#3A98DC"/>
<circle cx="131.6" cy="78.1" r="1.75" fill="#2EBFA0"/>
<circle cx="110.8" cy="140.1" r="1.75" fill="#37B56B"/>
<circle cx="113" cy="47.9" r="1.75" fill="#F07470"/>
<circle cx="155.1" cy="116.8" r="1.75" fill="#D98B2B"/>
<circle cx="96.1" cy="125.4" r="1.75" fill="#37B56B"/>
<circle cx="139.6" cy="120.8" r="1.75" fill="#D98B2B"/>
<circle cx="153.3" cy="118.4" r="1.75" fill="#3A98DC"/>
<circle cx="153.8" cy="117.8" r="1.75" fill="#D98B2B"/>
<circle cx="106.1" cy="142.3" r="1.75" fill="#62B84A"/>
<circle cx="183.5" cy="118.3" r="1.75" fill="#B06AB8"/>
<circle cx="172.8" cy="130.1" r="1.75" fill="#D98B2B"/>
<circle cx="113.4" cy="70.1" r="1.75" fill="#2EBFA0"/>
<circle cx="134.3" cy="106.4" r="1.75" fill="#3A98DC"/>
<circle cx="118" cy="67.3" r="1.75" fill="#F07470"/>
<circle cx="72.1" cy="51.8" r="1.75" fill="#E864A8"/>
<circle cx="58.8" cy="112.8" r="1.75" fill="#A39A2E"/>
<circle cx="123.9" cy="76.8" r="1.75" fill="#F07470"/>
<circle cx="105" cy="108.7" r="1.75" fill="#3A98DC"/>
<circle cx="51" cy="91.2" r="1.75" fill="#A39A2E"/>
<circle cx="175.9" cy="106.6" r="1.75" fill="#2EBFA0"/>
<circle cx="99.5" cy="81.1" r="1.75" fill="#62B84A"/>
<circle cx="144.9" cy="36.6" r="1.75" fill="#F07470"/>
<circle cx="76.6" cy="112.7" r="1.75" fill="#37B56B"/>
<circle cx="59.8" cy="119.2" r="1.75" fill="#A39A2E"/>
<circle cx="112.6" cy="59.4" r="1.75" fill="#F07470"/>
<circle cx="118.3" cy="148.3" r="1.75" fill="#37B56B"/>
<circle cx="143.5" cy="31.1" r="1.75" fill="#2EBFA0"/>
<circle cx="135.6" cy="101" r="1.75" fill="#3A98DC"/>
<circle cx="143.9" cy="34.7" r="1.75" fill="#F07470"/>
<circle cx="66.7" cy="72.8" r="1.75" fill="#E864A8"/>
<circle cx="153.1" cy="62.5" r="1.75" fill="#2EBFA0"/>
<circle cx="98" cy="82" r="1.75" fill="#3A98DC"/>
<circle cx="64" cy="114.9" r="1.75" fill="#A39A2E"/>
<circle cx="167.5" cy="126" r="1.75" fill="#D98B2B"/>
<circle cx="139.7" cy="120.7" r="1.75" fill="#D98B2B"/>
<circle cx="78.9" cy="144.5" r="1.75" fill="#37B56B"/>
<circle cx="113.1" cy="67.7" r="1.75" fill="#F07470"/>
<circle cx="101.3" cy="61.2" r="1.75" fill="#F07470"/>
<circle cx="153.2" cy="91.7" r="1.75" fill="#8C80C8"/>
<circle cx="91.7" cy="129" r="1.75" fill="#37B56B"/>
<circle cx="56.7" cy="141.7" r="1.75" fill="#1CBEE0"/>
<circle cx="107.9" cy="78.9" r="1.75" fill="#3A98DC"/>
<circle cx="61.8" cy="118.5" r="1.75" fill="#A39A2E"/>
<circle cx="175.8" cy="118.1" r="1.75" fill="#D98B2B"/>
<circle cx="150.5" cy="89.8" r="1.75" fill="#2EBFA0"/>
<circle cx="131.5" cy="71.8" r="1.75" fill="#2EBFA0"/>
<circle cx="118.1" cy="58.5" r="1.75" fill="#F07470"/>
<circle cx="140.3" cy="131.5" r="1.75" fill="#D98B2B"/>
<circle cx="166" cy="129.1" r="1.75" fill="#D98B2B"/>
<circle cx="142.6" cy="126.1" r="1.75" fill="#D98B2B"/>
<circle cx="78.5" cy="76.4" r="1.75" fill="#E864A8"/>
<circle cx="130.5" cy="66.6" r="1.75" fill="#F07470"/>
<circle cx="59.3" cy="64.8" r="1.75" fill="#E864A8"/>
<circle cx="142.3" cy="67.1" r="1.75" fill="#8C80C8"/>
<circle cx="175.4" cy="120" r="1.75" fill="#D98B2B"/>
<circle cx="133.6" cy="104.2" r="1.75" fill="#8C80C8"/>
<circle cx="107.3" cy="124.9" r="1.75" fill="#37B56B"/>
<circle cx="108.8" cy="98.3" r="1.75" fill="#B06AB8"/>
<circle cx="81.7" cy="150.3" r="1.75" fill="#1CBEE0"/>
<circle cx="180.3" cy="129.6" r="1.75" fill="#B06AB8"/>
<circle cx="66" cy="141.7" r="1.75" fill="#1CBEE0"/>
<circle cx="118.7" cy="73.9" r="1.75" fill="#F07470"/>
<circle cx="115.3" cy="59.9" r="1.75" fill="#F07470"/>
<circle cx="59.9" cy="142.1" r="1.75" fill="#1CBEE0"/>
<circle cx="129.6" cy="95.2" r="1.75" fill="#3A98DC"/>
<circle cx="48.5" cy="86.5" r="1.75" fill="#A39A2E"/>
<circle cx="142.5" cy="58.8" r="1.75" fill="#2EBFA0"/>
<circle cx="113.1" cy="47" r="1.75" fill="#F07470"/>
<circle cx="128" cy="93.9" r="1.75" fill="#3A98DC"/>
<circle cx="82.7" cy="133" r="1.75" fill="#37B56B"/>
<circle cx="136.4" cy="96" r="1.75" fill="#8C80C8"/>
<circle cx="104" cy="68.3" r="1.75" fill="#62B84A"/>
<circle cx="129.1" cy="101" r="1.75" fill="#2EBFA0"/>
<circle cx="112.2" cy="49.9" r="1.75" fill="#F07470"/>
<circle cx="175.1" cy="115.5" r="1.75" fill="#D98B2B"/>
<circle cx="103.5" cy="132.5" r="1.75" fill="#37B56B"/>
<circle cx="74.1" cy="59.2" r="1.75" fill="#E864A8"/>
<circle cx="44.9" cy="111.2" r="1.75" fill="#A39A2E"/>
<circle cx="152.5" cy="113.9" r="1.75" fill="#D98B2B"/>
<circle cx="181.6" cy="129.9" r="1.75" fill="#B06AB8"/>
<circle cx="62.8" cy="80.7" r="1.75" fill="#62B84A"/>
<circle cx="74.6" cy="71.5" r="1.75" fill="#62B84A"/>
<circle cx="124.5" cy="107.9" r="1.75" fill="#3A98DC"/>
<circle cx="138.9" cy="90.6" r="1.75" fill="#2EBFA0"/>
<circle cx="70" cy="69.2" r="1.75" fill="#E864A8"/>
<circle cx="157.3" cy="135.6" r="1.75" fill="#D98B2B"/>
<circle cx="136.5" cy="106.8" r="1.75" fill="#3A98DC"/>
<circle cx="120.3" cy="38.4" r="1.75" fill="#F07470"/>
<circle cx="76.1" cy="110.2" r="1.75" fill="#37B56B"/>
<circle cx="122.1" cy="82" r="1.75" fill="#3A98DC"/>
<circle cx="40.6" cy="101.4" r="1.75" fill="#A39A2E"/>
<circle cx="110.2" cy="53.4" r="1.75" fill="#F07470"/>
<circle cx="129.8" cy="40.6" r="1.75" fill="#F07470"/>
<circle cx="136.7" cy="75.1" r="1.75" fill="#2EBFA0"/>
<circle cx="150.3" cy="94" r="1.75" fill="#2EBFA0"/>
<circle cx="149.6" cy="89.1" r="1.75" fill="#8C80C8"/>
<circle cx="55.9" cy="104" r="1.75" fill="#A39A2E"/>
<circle cx="94.3" cy="77.2" r="1.75" fill="#62B84A"/>
<circle cx="142.7" cy="126.4" r="1.75" fill="#D98B2B"/>
<circle cx="130" cy="38.3" r="1.75" fill="#F07470"/>
<circle cx="74.9" cy="52.3" r="1.75" fill="#E864A8"/>
<circle cx="148.2" cy="88" r="1.75" fill="#2EBFA0"/>
<circle cx="125" cy="47.4" r="1.75" fill="#F07470"/>
<circle cx="150" cy="118.4" r="1.75" fill="#D98B2B"/>
<circle cx="149" cy="34.6" r="1.75" fill="#F07470"/>
<circle cx="113.8" cy="96" r="1.75" fill="#3A98DC"/>
<circle cx="73.6" cy="69.6" r="1.75" fill="#E864A8"/>
<circle cx="57.4" cy="120.7" r="1.75" fill="#A39A2E"/>
<circle cx="142.8" cy="116.1" r="1.75" fill="#B06AB8"/>
<circle cx="126" cy="125.1" r="1.75" fill="#B06AB8"/>
<circle cx="167.8" cy="123.5" r="1.75" fill="#B06AB8"/>
<circle cx="50.8" cy="97.4" r="1.75" fill="#A39A2E"/>
<circle cx="53.9" cy="87.8" r="1.75" fill="#A39A2E"/>
<circle cx="144.7" cy="83.8" r="1.75" fill="#8C80C8"/>
<circle cx="123.5" cy="53.5" r="1.75" fill="#F07470"/>
<circle cx="156.4" cy="139.7" r="1.75" fill="#D98B2B"/>
<circle cx="124.6" cy="132.5" r="1.75" fill="#37B56B"/>
<circle cx="132" cy="126.2" r="1.75" fill="#3A98DC"/>
<circle cx="174.5" cy="99.7" r="1.75" fill="#2EBFA0"/>
<circle cx="132.3" cy="132.6" r="1.75" fill="#2EBFA0"/>
<circle cx="76.6" cy="109.8" r="1.75" fill="#37B56B"/>
<circle cx="84" cy="153.3" r="1.75" fill="#1CBEE0"/>
<circle cx="83.4" cy="90.5" r="1.75" fill="#62B84A"/>
<circle cx="124.6" cy="40.6" r="1.75" fill="#F07470"/>
<circle cx="127.3" cy="123.1" r="1.75" fill="#B06AB8"/>
<circle cx="152.7" cy="66.3" r="1.75" fill="#8C80C8"/>
<circle cx="99.8" cy="133.1" r="1.75" fill="#37B56B"/>
<circle cx="71" cy="127.5" r="1.75" fill="#1CBEE0"/>
<circle cx="79.6" cy="111.7" r="1.75" fill="#37B56B"/>
<circle cx="112.2" cy="64.2" r="1.75" fill="#F07470"/>
<circle cx="113" cy="91.2" r="1.75" fill="#B06AB8"/>
<circle cx="139.8" cy="119.9" r="1.75" fill="#D98B2B"/>
<circle cx="70.6" cy="119.2" r="1.75" fill="#A39A2E"/>
<circle cx="142.6" cy="86.5" r="1.75" fill="#2EBFA0"/>
<circle cx="124.4" cy="110" r="1.75" fill="#3A98DC"/>
<circle cx="110" cy="142.5" r="1.75" fill="#37B56B"/>
<circle cx="135.5" cy="92.9" r="1.75" fill="#8C80C8"/>
<circle cx="133.8" cy="45.7" r="1.75" fill="#F07470"/>
<circle cx="138.4" cy="104.4" r="1.75" fill="#3A98DC"/>
<circle cx="49" cy="118.7" r="1.75" fill="#A39A2E"/>
<circle cx="151.4" cy="114.9" r="1.75" fill="#D98B2B"/>
<circle cx="157.5" cy="89.6" r="1.75" fill="#2EBFA0"/>
<circle cx="60.5" cy="146.8" r="1.75" fill="#1CBEE0"/>
<circle cx="162" cy="124.2" r="1.75" fill="#D98B2B"/>
<circle cx="122.2" cy="59.6" r="1.75" fill="#F07470"/>
<circle cx="123.2" cy="56.3" r="1.75" fill="#F07470"/>
<circle cx="161.7" cy="128.2" r="1.75" fill="#D98B2B"/>
<circle cx="129.9" cy="31.1" r="1.75" fill="#F07470"/>
<circle cx="67.3" cy="145.8" r="1.75" fill="#1CBEE0"/>
<circle cx="133.8" cy="34.2" r="1.75" fill="#F07470"/>
<circle cx="91.5" cy="70.9" r="1.75" fill="#62B84A"/>
<circle cx="81.8" cy="118.2" r="1.75" fill="#37B56B"/>
<circle cx="131.6" cy="126.4" r="1.75" fill="#3A98DC"/>
<circle cx="157.1" cy="126.7" r="1.75" fill="#D98B2B"/>
<circle cx="171.3" cy="109" r="1.75" fill="#D98B2B"/>
<circle cx="57.7" cy="72.1" r="1.75" fill="#62B84A"/>
<circle cx="61.7" cy="110.5" r="1.75" fill="#A39A2E"/>
<circle cx="64.6" cy="126.5" r="1.75" fill="#1CBEE0"/>
<circle cx="133.4" cy="46.3" r="1.75" fill="#F07470"/>
<circle cx="75.1" cy="108.4" r="1.75" fill="#37B56B"/>
<circle cx="145.5" cy="112.6" r="1.75" fill="#D98B2B"/>
<circle cx="135.9" cy="92.8" r="1.75" fill="#3A98DC"/>
<circle cx="108.1" cy="79.2" r="1.75" fill="#3A98DC"/>
<circle cx="134.6" cy="129.2" r="1.75" fill="#2EBFA0"/>
<circle cx="120" cy="65" r="1.75" fill="#F07470"/>
<circle cx="101.4" cy="77" r="1.75" fill="#37B56B"/>
<circle cx="159.5" cy="100.7" r="1.75" fill="#D98B2B"/>
<circle cx="145.7" cy="106.5" r="1.75" fill="#8C80C8"/>
<circle cx="153.3" cy="58.8" r="1.75" fill="#2EBFA0"/>
<circle cx="110.7" cy="107.6" r="1.75" fill="#3A98DC"/>
<circle cx="62.5" cy="144" r="1.75" fill="#1CBEE0"/>
<circle cx="180.9" cy="126.2" r="1.75" fill="#B06AB8"/>
<circle cx="132.9" cy="63.1" r="1.75" fill="#F07470"/>
<circle cx="127.4" cy="92.4" r="1.75" fill="#2EBFA0"/>
<circle cx="151" cy="71.7" r="1.75" fill="#2EBFA0"/>
<circle cx="105.3" cy="57" r="1.75" fill="#F07470"/>
<circle cx="66.5" cy="132.3" r="1.75" fill="#1CBEE0"/>
<circle cx="106.9" cy="59.7" r="1.75" fill="#F07470"/>
<circle cx="139" cy="93.9" r="1.75" fill="#3A98DC"/>
<circle cx="85.5" cy="145.6" r="1.75" fill="#8C80C8"/>
<circle cx="174.9" cy="111.7" r="1.75" fill="#D98B2B"/>
<circle cx="101.1" cy="131.5" r="1.75" fill="#37B56B"/>
<circle cx="144.1" cy="53.1" r="1.75" fill="#F07470"/>
<circle cx="68.5" cy="77" r="1.75" fill="#62B84A"/>
<circle cx="152.5" cy="44.7" r="1.75" fill="#8C80C8"/>
<circle cx="152.5" cy="110" r="1.75" fill="#8C80C8"/>
<circle cx="142.3" cy="41.6" r="1.75" fill="#F07470"/>
<circle cx="41.8" cy="93.2" r="1.75" fill="#A39A2E"/>
<circle cx="71.6" cy="121.1" r="1.75" fill="#37B56B"/>
<circle cx="86.2" cy="125.7" r="1.75" fill="#37B56B"/>
<circle cx="64.3" cy="146.4" r="1.75" fill="#1CBEE0"/>
<circle cx="175.2" cy="127.3" r="1.75" fill="#D98B2B"/>
<circle cx="81.5" cy="56.7" r="1.75" fill="#62B84A"/>
<circle cx="119.6" cy="103.9" r="1.75" fill="#3A98DC"/>
<circle cx="54.3" cy="87.3" r="1.75" fill="#A39A2E"/>
<circle cx="98.3" cy="125.4" r="1.75" fill="#37B56B"/>
<circle cx="150.9" cy="138.6" r="1.75" fill="#D98B2B"/>
<circle cx="52.8" cy="111.2" r="1.75" fill="#A39A2E"/>
<circle cx="52.6" cy="145.3" r="1.75" fill="#1CBEE0"/>
<circle cx="151.5" cy="78.7" r="1.75" fill="#2EBFA0"/>
<circle cx="60" cy="79.2" r="1.75" fill="#A39A2E"/>
<circle cx="52.5" cy="151.9" r="1.75" fill="#1CBEE0"/>
<circle cx="158.3" cy="74.7" r="1.75" fill="#2EBFA0"/>
<circle cx="59.2" cy="143.3" r="1.75" fill="#1CBEE0"/>
<circle cx="72.7" cy="83.7" r="1.75" fill="#62B84A"/>
<circle cx="151.9" cy="86.7" r="1.75" fill="#2EBFA0"/>
<circle cx="43.5" cy="100.3" r="1.75" fill="#A39A2E"/>
<circle cx="67.4" cy="56.8" r="1.75" fill="#E864A8"/>
<circle cx="56.2" cy="125.4" r="1.75" fill="#A39A2E"/>
<circle cx="162.3" cy="106" r="1.75" fill="#D98B2B"/>
<circle cx="64.6" cy="111" r="1.75" fill="#A39A2E"/>
<circle cx="160" cy="135.7" r="1.75" fill="#D98B2B"/>
<circle cx="100.8" cy="129.4" r="1.75" fill="#37B56B"/>
<circle cx="65.5" cy="72.3" r="1.75" fill="#E864A8"/>
<circle cx="97.4" cy="84.4" r="1.75" fill="#3A98DC"/>
<circle cx="137" cy="132.7" r="1.75" fill="#B06AB8"/>
<circle cx="73" cy="101.5" r="1.75" fill="#37B56B"/>
<circle cx="93.5" cy="118.8" r="1.75" fill="#37B56B"/>
<circle cx="117.9" cy="88.2" r="1.75" fill="#B06AB8"/>
<circle cx="175.5" cy="126.7" r="1.75" fill="#D98B2B"/>
<circle cx="67" cy="60.9" r="1.75" fill="#E864A8"/>
<circle cx="175.7" cy="118.1" r="1.75" fill="#D98B2B"/>
<circle cx="124.8" cy="54.8" r="1.75" fill="#F07470"/>
<circle cx="151.2" cy="79.9" r="1.75" fill="#2EBFA0"/>
<circle cx="179.9" cy="119.1" r="1.75" fill="#B06AB8"/>
<circle cx="57.5" cy="115.6" r="1.75" fill="#A39A2E"/>
<circle cx="161" cy="128.5" r="1.75" fill="#D98B2B"/>
<circle cx="154.4" cy="117.2" r="1.75" fill="#B06AB8"/>
<circle cx="73" cy="104.5" r="1.75" fill="#37B56B"/>
<circle cx="98.9" cy="133.9" r="1.75" fill="#2EBFA0"/>
<circle cx="148.7" cy="52" r="1.75" fill="#2EBFA0"/>
<circle cx="153.3" cy="141.3" r="1.75" fill="#D98B2B"/>
<circle cx="65.9" cy="162.2" r="1.75" fill="#1CBEE0"/>
<circle cx="63.2" cy="71.4" r="1.75" fill="#E864A8"/>
<circle cx="109.1" cy="111" r="1.75" fill="#8C80C8"/>
<circle cx="70.2" cy="146.8" r="1.75" fill="#1CBEE0"/>
<circle cx="109.3" cy="68.2" r="1.75" fill="#F07470"/>
<circle cx="135.3" cy="122" r="1.75" fill="#B06AB8"/>
<circle cx="167.1" cy="119.3" r="1.75" fill="#D98B2B"/>
<circle cx="151.4" cy="118.9" r="1.75" fill="#D98B2B"/>
<circle cx="66" cy="114.8" r="1.75" fill="#A39A2E"/>
<circle cx="162.8" cy="132.1" r="1.75" fill="#D98B2B"/>
<circle cx="143.2" cy="94.1" r="1.75" fill="#3A98DC"/>
<circle cx="154.1" cy="109.4" r="1.75" fill="#D98B2B"/>
<circle cx="67.7" cy="153.3" r="1.75" fill="#1CBEE0"/>
<circle cx="112.7" cy="58" r="1.75" fill="#F07470"/>
<circle cx="66.8" cy="55.3" r="1.75" fill="#E864A8"/>
<circle cx="132.7" cy="62.6" r="1.75" fill="#F07470"/>
<circle cx="141.8" cy="84.2" r="1.75" fill="#8C80C8"/>
<circle cx="127" cy="96.7" r="1.75" fill="#3A98DC"/>
<circle cx="130.3" cy="90.1" r="1.75" fill="#8C80C8"/>
<circle cx="50.1" cy="92.7" r="1.75" fill="#A39A2E"/>
<circle cx="52.4" cy="107.9" r="1.75" fill="#A39A2E"/>
<circle cx="55.1" cy="92.8" r="1.75" fill="#A39A2E"/>
<circle cx="149" cy="89.5" r="1.75" fill="#8C80C8"/>
<circle cx="130.7" cy="94.5" r="1.75" fill="#8C80C8"/>
<circle cx="97.8" cy="76.5" r="1.75" fill="#62B84A"/>
<circle cx="118" cy="74.6" r="1.75" fill="#F07470"/>
<circle cx="141.6" cy="93.8" r="1.75" fill="#3A98DC"/>
<circle cx="115.4" cy="80.4" r="1.75" fill="#3A98DC"/>
<circle cx="136.8" cy="59.2" r="1.75" fill="#F07470"/>
<circle cx="84.3" cy="57" r="1.75" fill="#37B56B"/>
<circle cx="97.3" cy="87.7" r="1.75" fill="#3A98DC"/>
<circle cx="148.6" cy="119.4" r="1.75" fill="#D98B2B"/>
<circle cx="147.2" cy="52.9" r="1.75" fill="#2EBFA0"/>
<circle cx="88.5" cy="135.4" r="1.75" fill="#37B56B"/>
<circle cx="84.3" cy="66" r="1.75" fill="#62B84A"/>
<circle cx="66.9" cy="70.2" r="1.75" fill="#E864A8"/>
<circle cx="106" cy="92.5" r="1.75" fill="#3A98DC"/>
<circle cx="119.7" cy="94.6" r="1.75" fill="#3A98DC"/>
<circle cx="174.2" cy="106.1" r="1.75" fill="#2EBFA0"/>
<circle cx="170.6" cy="118.4" r="1.75" fill="#D98B2B"/>
<circle cx="103.5" cy="52.6" r="1.75" fill="#F07470"/>
<circle cx="142.8" cy="33.4" r="1.75" fill="#F07470"/>
<circle cx="59" cy="72" r="1.75" fill="#62B84A"/>
<circle cx="64.7" cy="100.6" r="1.75" fill="#A39A2E"/>
<circle cx="148.7" cy="70.3" r="1.75" fill="#2EBFA0"/>
<circle cx="62.3" cy="88.3" r="1.75" fill="#A39A2E"/>
<circle cx="140.5" cy="33.1" r="1.75" fill="#F07470"/>
<circle cx="80.6" cy="77.9" r="1.75" fill="#62B84A"/>
<circle cx="57.9" cy="123.3" r="1.75" fill="#A39A2E"/>
<circle cx="124.2" cy="73.5" r="1.75" fill="#F07470"/>
<circle cx="146.5" cy="97.6" r="1.75" fill="#8C80C8"/>
<circle cx="78.8" cy="64" r="1.75" fill="#62B84A"/>
<circle cx="163" cy="102.5" r="1.75" fill="#D98B2B"/>
<circle cx="165.4" cy="123" r="1.75" fill="#D98B2B"/>
<circle cx="176.7" cy="124.8" r="1.75" fill="#B06AB8"/>
<circle cx="126.8" cy="111.8" r="1.75" fill="#3A98DC"/>
<circle cx="106.9" cy="95.7" r="1.75" fill="#B06AB8"/>
<circle cx="136.1" cy="41.5" r="1.75" fill="#F07470"/>
<circle cx="121.3" cy="41.6" r="1.75" fill="#F07470"/>
<circle cx="56.5" cy="88.8" r="1.75" fill="#A39A2E"/>
<circle cx="57.3" cy="116.6" r="1.75" fill="#A39A2E"/>
<circle cx="143.8" cy="107.4" r="1.75" fill="#8C80C8"/>
<circle cx="89.8" cy="84.6" r="1.75" fill="#62B84A"/>
<circle cx="73.7" cy="160.2" r="1.75" fill="#1CBEE0"/>
<circle cx="78.4" cy="71.2" r="1.75" fill="#E864A8"/>
<circle cx="60.4" cy="119.4" r="1.75" fill="#A39A2E"/>
<circle cx="174.9" cy="129.8" r="1.75" fill="#D98B2B"/>
<circle cx="62.3" cy="129.6" r="1.75" fill="#1CBEE0"/>
<circle cx="115.3" cy="96.1" r="1.75" fill="#3A98DC"/>
<circle cx="80" cy="156.6" r="1.75" fill="#1CBEE0"/>
<circle cx="61.2" cy="60.1" r="1.75" fill="#E864A8"/>
<circle cx="135.3" cy="98.3" r="1.75" fill="#8C80C8"/>
<circle cx="115.4" cy="128.4" r="1.75" fill="#37B56B"/>
<circle cx="69.5" cy="51.1" r="1.75" fill="#E864A8"/>
<circle cx="152.6" cy="100.1" r="1.75" fill="#D98B2B"/>
<circle cx="140" cy="93.4" r="1.75" fill="#8C80C8"/>
<circle cx="133.7" cy="80.8" r="1.75" fill="#8C80C8"/>
<circle cx="140" cy="101.3" r="1.75" fill="#8C80C8"/>
<circle cx="60.9" cy="100.1" r="1.75" fill="#A39A2E"/>
<circle cx="70.5" cy="105.7" r="1.75" fill="#37B56B"/>
<circle cx="127.1" cy="50" r="1.75" fill="#F07470"/>
<circle cx="155.8" cy="111.9" r="1.75" fill="#D98B2B"/>
<circle cx="70.8" cy="131.2" r="1.75" fill="#1CBEE0"/>
<circle cx="100" cy="121.3" r="1.75" fill="#37B56B"/>
<circle cx="147.5" cy="100.5" r="1.75" fill="#8C80C8"/>
<circle cx="118.3" cy="48.4" r="1.75" fill="#F07470"/>
<circle cx="153.3" cy="52.2" r="1.75" fill="#2EBFA0"/>
<circle cx="146.4" cy="120.4" r="1.75" fill="#D98B2B"/>
<circle cx="59" cy="101.9" r="1.75" fill="#A39A2E"/>
<circle cx="104.6" cy="127.6" r="1.75" fill="#37B56B"/>
<circle cx="102" cy="72.9" r="1.75" fill="#62B84A"/>
<circle cx="93.4" cy="89.3" r="1.75" fill="#3A98DC"/>
<circle cx="125.8" cy="71.8" r="1.75" fill="#F07470"/>
<circle cx="158.4" cy="104.5" r="1.75" fill="#B06AB8"/>
<circle cx="88.6" cy="62.7" r="1.75" fill="#62B84A"/>
<circle cx="120.8" cy="133.8" r="1.75" fill="#37B56B"/>
<circle cx="100.7" cy="58.8" r="1.75" fill="#F07470"/>
<circle cx="135.5" cy="74.8" r="1.75" fill="#2EBFA0"/>
<circle cx="166.4" cy="124" r="1.75" fill="#B06AB8"/>
<circle cx="122.9" cy="40.4" r="1.75" fill="#F07470"/>
<circle cx="48.4" cy="89.6" r="1.75" fill="#A39A2E"/>
<circle cx="174.9" cy="124.4" r="1.75" fill="#D98B2B"/>
<circle cx="52" cy="86.6" r="1.75" fill="#A39A2E"/>
<circle cx="138.2" cy="50.8" r="1.75" fill="#F07470"/>
<circle cx="58.7" cy="73" r="1.75" fill="#62B84A"/>
<circle cx="138.4" cy="97.1" r="1.75" fill="#3A98DC"/>
<circle cx="60.4" cy="110.8" r="1.75" fill="#A39A2E"/>
<circle cx="96.5" cy="89.7" r="1.75" fill="#3A98DC"/>
<circle cx="146.8" cy="49.2" r="1.75" fill="#8C80C8"/>
<circle cx="122.1" cy="107.9" r="1.75" fill="#3A98DC"/>
<circle cx="53.6" cy="147.8" r="1.75" fill="#1CBEE0"/>
<circle cx="68.7" cy="147.7" r="1.75" fill="#1CBEE0"/>
<circle cx="51.7" cy="88.6" r="1.75" fill="#A39A2E"/>
<circle cx="63.2" cy="77.7" r="1.75" fill="#62B84A"/>
<circle cx="149.1" cy="103.3" r="1.75" fill="#D98B2B"/>
<circle cx="139.2" cy="120.9" r="1.75" fill="#8C80C8"/>
<circle cx="151.6" cy="70.5" r="1.75" fill="#2EBFA0"/>
<circle cx="112" cy="138.8" r="1.75" fill="#37B56B"/>
<circle cx="84" cy="106.5" r="1.75" fill="#62B84A"/>
<circle cx="110.8" cy="139.2" r="1.75" fill="#37B56B"/>
<circle cx="181.1" cy="117.9" r="1.75" fill="#B06AB8"/>
<circle cx="93.9" cy="118.5" r="1.75" fill="#37B56B"/>
<circle cx="87.1" cy="57.6" r="1.75" fill="#E864A8"/>
<circle cx="58.2" cy="117.7" r="1.75" fill="#A39A2E"/>
<circle cx="163.6" cy="136.5" r="1.75" fill="#D98B2B"/>
<circle cx="80.6" cy="109.5" r="1.75" fill="#37B56B"/>
<circle cx="121.7" cy="53.6" r="1.75" fill="#F07470"/>
<circle cx="57.5" cy="80.1" r="1.75" fill="#A39A2E"/>
<circle cx="66.7" cy="50.8" r="1.75" fill="#E864A8"/>
<circle cx="110.8" cy="59.9" r="1.75" fill="#F07470"/>
<circle cx="93.2" cy="124.9" r="1.75" fill="#37B56B"/>
<circle cx="89.1" cy="60" r="1.75" fill="#62B84A"/>
<circle cx="56.8" cy="146.3" r="1.75" fill="#1CBEE0"/>
<circle cx="117.4" cy="89.6" r="1.75" fill="#3A98DC"/>
<circle cx="103.9" cy="53.2" r="1.75" fill="#F07470"/>
<circle cx="128.4" cy="40.1" r="1.75" fill="#2EBFA0"/>
<circle cx="67.1" cy="119.2" r="1.75" fill="#A39A2E"/>
<circle cx="142.2" cy="129" r="1.75" fill="#D98B2B"/>
<circle cx="165.9" cy="133.6" r="1.75" fill="#D98B2B"/>
<circle cx="77.8" cy="54.1" r="1.75" fill="#62B84A"/>
<circle cx="55" cy="80.3" r="1.75" fill="#A39A2E"/>
<circle cx="171.6" cy="94.3" r="1.75" fill="#2EBFA0"/>
<circle cx="153.9" cy="124" r="1.75" fill="#B06AB8"/>
<circle cx="158.9" cy="109.1" r="1.75" fill="#D98B2B"/>
<circle cx="135.5" cy="96.8" r="1.75" fill="#3A98DC"/>
<circle cx="125.3" cy="71.8" r="1.75" fill="#F07470"/>
<circle cx="106.9" cy="52.4" r="1.75" fill="#F07470"/>
<circle cx="127.2" cy="54" r="1.75" fill="#F07470"/>
<circle cx="157.1" cy="69.6" r="1.75" fill="#2EBFA0"/>
<circle cx="66.6" cy="146.5" r="1.75" fill="#1CBEE0"/>
<circle cx="95.1" cy="84.3" r="1.75" fill="#B06AB8"/>
<circle cx="149.7" cy="70.3" r="1.75" fill="#8C80C8"/>
<circle cx="51.8" cy="147.7" r="1.75" fill="#1CBEE0"/>
<circle cx="118.9" cy="45.1" r="1.75" fill="#F07470"/>
<circle cx="147.1" cy="93.4" r="1.75" fill="#8C80C8"/>
<circle cx="157.9" cy="94.4" r="1.75" fill="#2EBFA0"/>
<circle cx="115" cy="74.1" r="1.75" fill="#F07470"/>
<circle cx="148.3" cy="87.4" r="1.75" fill="#8C80C8"/>
<circle cx="151.6" cy="117.2" r="1.75" fill="#D98B2B"/>
<circle cx="154.4" cy="130" r="1.75" fill="#D98B2B"/>
<circle cx="143.6" cy="121.1" r="1.75" fill="#D98B2B"/>
<circle cx="93" cy="70" r="1.75" fill="#62B84A"/>
<circle cx="136.8" cy="47.5" r="1.75" fill="#F07470"/>
<circle cx="82.4" cy="76.5" r="1.75" fill="#62B84A"/>
<circle cx="100.5" cy="57.1" r="1.75" fill="#F07470"/>
<circle cx="71.6" cy="126.2" r="1.75" fill="#37B56B"/>
<circle cx="169.7" cy="102.4" r="1.75" fill="#2EBFA0"/>
<circle cx="70.5" cy="97.7" r="1.75" fill="#37B56B"/>
<circle cx="110.2" cy="87" r="1.75" fill="#8C80C8"/>
<circle cx="173.2" cy="117.6" r="1.75" fill="#D98B2B"/>
<circle cx="138.5" cy="124.9" r="1.75" fill="#D98B2B"/>
<circle cx="69.9" cy="116.5" r="1.75" fill="#A39A2E"/>
<circle cx="160" cy="118.7" r="1.75" fill="#D98B2B"/>
<circle cx="51.3" cy="82.7" r="1.75" fill="#A39A2E"/>
<circle cx="113.8" cy="148.8" r="1.75" fill="#37B56B"/>
<circle cx="54.5" cy="155.7" r="1.75" fill="#1CBEE0"/>
<circle cx="141.8" cy="99.1" r="1.75" fill="#8C80C8"/>
<circle cx="93.6" cy="128" r="1.75" fill="#37B56B"/>
<circle cx="53.6" cy="131.7" r="1.75" fill="#1CBEE0"/>
<circle cx="100.8" cy="89.6" r="1.75" fill="#3A98DC"/>
<circle cx="141.6" cy="37.2" r="1.75" fill="#F07470"/>
<circle cx="127.6" cy="103.4" r="1.75" fill="#8C80C8"/>
<circle cx="112.5" cy="110.7" r="1.75" fill="#B06AB8"/>
<circle cx="73.1" cy="70.4" r="1.75" fill="#E864A8"/>
<circle cx="108.3" cy="143.5" r="1.75" fill="#62B84A"/>
<circle cx="95.9" cy="120.3" r="1.75" fill="#37B56B"/>
<circle cx="131.7" cy="50.3" r="1.75" fill="#F07470"/>
<circle cx="84.1" cy="129.8" r="1.75" fill="#2EBFA0"/>
<circle cx="58.5" cy="108.8" r="1.75" fill="#A39A2E"/>
<circle cx="99.6" cy="70.3" r="1.75" fill="#3A98DC"/>
<circle cx="113.9" cy="137.6" r="1.75" fill="#37B56B"/>
<circle cx="140.7" cy="112.9" r="1.75" fill="#2EBFA0"/>
<circle cx="158.9" cy="106.2" r="1.75" fill="#D98B2B"/>
<circle cx="69.1" cy="49.8" r="1.75" fill="#E864A8"/>
<circle cx="102.7" cy="132.7" r="1.75" fill="#37B56B"/>
<circle cx="54.7" cy="142.3" r="1.75" fill="#1CBEE0"/>
<circle cx="168.9" cy="116.1" r="1.75" fill="#D98B2B"/>
<circle cx="60.9" cy="138" r="1.75" fill="#1CBEE0"/>
<circle cx="119" cy="48.5" r="1.75" fill="#F07470"/>
<circle cx="99.7" cy="69.5" r="1.75" fill="#62B84A"/>
<circle cx="103.9" cy="106.5" r="1.75" fill="#B06AB8"/>
<circle cx="54.3" cy="102.2" r="1.75" fill="#A39A2E"/>
<circle cx="59" cy="84.6" r="1.75" fill="#A39A2E"/>
<circle cx="82.1" cy="77.7" r="1.75" fill="#62B84A"/>
<circle cx="62.1" cy="102" r="1.75" fill="#A39A2E"/>
<circle cx="59.9" cy="103" r="1.75" fill="#A39A2E"/>
<circle cx="71.4" cy="120.9" r="1.75" fill="#A39A2E"/>
<circle cx="66.2" cy="138.9" r="1.75" fill="#1CBEE0"/>
<circle cx="148.8" cy="93.4" r="1.75" fill="#8C80C8"/>
<circle cx="100.6" cy="104" r="1.75" fill="#3A98DC"/>
<circle cx="153.8" cy="95" r="1.75" fill="#8C80C8"/>
<circle cx="148.9" cy="83" r="1.75" fill="#2EBFA0"/>
<circle cx="116.5" cy="64.9" r="1.75" fill="#F07470"/>
<circle cx="67.8" cy="54.9" r="1.75" fill="#E864A8"/>
<circle cx="67.5" cy="147.9" r="1.75" fill="#1CBEE0"/>
<circle cx="104.7" cy="51.9" r="1.75" fill="#F07470"/>
<circle cx="93.8" cy="124.4" r="1.75" fill="#37B56B"/>
<circle cx="70.7" cy="141.4" r="1.75" fill="#1CBEE0"/>
<circle cx="160.4" cy="120" r="1.75" fill="#D98B2B"/>
<circle cx="151.8" cy="111.1" r="1.75" fill="#D98B2B"/>
<circle cx="93" cy="63" r="1.75" fill="#62B84A"/>
<circle cx="80.9" cy="126.7" r="1.75" fill="#37B56B"/>
<circle cx="156.7" cy="68.6" r="1.75" fill="#2EBFA0"/>
<circle cx="112.7" cy="141.6" r="1.75" fill="#62B84A"/>
<circle cx="104.2" cy="61.6" r="1.75" fill="#F07470"/>
<circle cx="90.4" cy="117.3" r="1.75" fill="#62B84A"/>
<circle cx="65.4" cy="73.7" r="1.75" fill="#62B84A"/>
<circle cx="84.7" cy="109.2" r="1.75" fill="#37B56B"/>
<circle cx="58.4" cy="77.3" r="1.75" fill="#A39A2E"/>
<circle cx="62.6" cy="101.2" r="1.75" fill="#A39A2E"/>
<circle cx="133.5" cy="31.4" r="1.75" fill="#F07470"/>
<circle cx="161" cy="130.9" r="1.75" fill="#D98B2B"/>
<circle cx="49.1" cy="87.1" r="1.75" fill="#A39A2E"/>
<circle cx="128.8" cy="105.4" r="1.75" fill="#8C80C8"/>
<circle cx="162.9" cy="118.5" r="1.75" fill="#D98B2B"/>
<circle cx="170.8" cy="132.5" r="1.75" fill="#D98B2B"/>
<circle cx="138.5" cy="96" r="1.75" fill="#3A98DC"/>
<circle cx="119.7" cy="52.6" r="1.75" fill="#F07470"/>
<circle cx="156.2" cy="140.4" r="1.75" fill="#D98B2B"/>
<circle cx="151" cy="126.1" r="1.75" fill="#B06AB8"/>
<circle cx="153.2" cy="106.9" r="1.75" fill="#2EBFA0"/>
<circle cx="112.4" cy="57.7" r="1.75" fill="#2EBFA0"/>
<circle cx="136.6" cy="35.7" r="1.75" fill="#F07470"/>
<circle cx="147.9" cy="121.7" r="1.75" fill="#D98B2B"/>
<circle cx="153.9" cy="119.2" r="1.75" fill="#D98B2B"/>
<circle cx="144.8" cy="63.7" r="1.75" fill="#2EBFA0"/>
<circle cx="171.3" cy="107.4" r="1.75" fill="#D98B2B"/>
<circle cx="107.3" cy="82.4" r="1.75" fill="#3A98DC"/>
<circle cx="127.3" cy="89.8" r="1.75" fill="#3A98DC"/>
<circle cx="134.7" cy="35.6" r="1.75" fill="#F07470"/>
<circle cx="161.1" cy="118.2" r="1.75" fill="#D98B2B"/>
<circle cx="172.4" cy="125.5" r="1.75" fill="#D98B2B"/>
<circle cx="132.6" cy="81.8" r="1.75" fill="#2EBFA0"/>
<circle cx="59.4" cy="112.2" r="1.75" fill="#37B56B"/>
<circle cx="70.4" cy="148.5" r="1.75" fill="#1CBEE0"/>
<circle cx="130.5" cy="101.6" r="1.75" fill="#8C80C8"/>
<circle cx="67.3" cy="128.6" r="1.75" fill="#1CBEE0"/>
<circle cx="152.6" cy="38.4" r="1.75" fill="#F07470"/>
<circle cx="114.2" cy="46.7" r="1.75" fill="#F07470"/>
<circle cx="96.5" cy="130.1" r="1.75" fill="#37B56B"/>
<circle cx="159.5" cy="82.1" r="1.75" fill="#2EBFA0"/>
<circle cx="110.4" cy="109.6" r="1.75" fill="#8C80C8"/>
<circle cx="149.5" cy="55.1" r="1.75" fill="#2EBFA0"/>
<circle cx="150.8" cy="76.7" r="1.75" fill="#2EBFA0"/>
<circle cx="46.9" cy="113.4" r="1.75" fill="#A39A2E"/>
<circle cx="184.6" cy="115.9" r="1.75" fill="#B06AB8"/>
<circle cx="109.3" cy="86" r="1.75" fill="#8C80C8"/>
<circle cx="72.4" cy="106.8" r="1.75" fill="#37B56B"/>
<circle cx="109.1" cy="67.7" r="1.75" fill="#F07470"/>
<circle cx="146.6" cy="111" r="1.75" fill="#D98B2B"/>
<circle cx="111.5" cy="102" r="1.75" fill="#3A98DC"/>
<circle cx="125.9" cy="97.1" r="1.75" fill="#2EBFA0"/>
<circle cx="135.4" cy="33" r="1.75" fill="#F07470"/>
<circle cx="98.4" cy="80.9" r="1.75" fill="#37B56B"/>
<circle cx="66.1" cy="112.9" r="1.75" fill="#A39A2E"/>
<circle cx="87.1" cy="129.1" r="1.75" fill="#37B56B"/>
<circle cx="134.6" cy="42.8" r="1.75" fill="#F07470"/>
<circle cx="114.5" cy="58.6" r="1.75" fill="#F07470"/>
<circle cx="113" cy="124.6" r="1.75" fill="#B06AB8"/>
<circle cx="58.4" cy="113.2" r="1.75" fill="#A39A2E"/>
<circle cx="153.6" cy="106.1" r="1.75" fill="#2EBFA0"/>
<circle cx="67.2" cy="62.8" r="1.75" fill="#E864A8"/>
<circle cx="61.3" cy="52.3" r="1.75" fill="#E864A8"/>
<circle cx="87.3" cy="128.9" r="1.75" fill="#37B56B"/>
<circle cx="126.1" cy="50.3" r="1.75" fill="#F07470"/>
<circle cx="65.8" cy="156.1" r="1.75" fill="#1CBEE0"/>
<circle cx="65.3" cy="97.8" r="1.75" fill="#A39A2E"/>
<circle cx="110" cy="62.4" r="1.75" fill="#F07470"/>
<circle cx="160" cy="122.7" r="1.75" fill="#D98B2B"/>
<circle cx="51.1" cy="101.4" r="1.75" fill="#A39A2E"/>
<circle cx="97" cy="66.7" r="1.75" fill="#62B84A"/>
<circle cx="160.4" cy="124.5" r="1.75" fill="#D98B2B"/>
<circle cx="157.7" cy="125.3" r="1.75" fill="#D98B2B"/>
<circle cx="155.4" cy="130.1" r="1.75" fill="#D98B2B"/>
<circle cx="47.6" cy="115.9" r="1.75" fill="#A39A2E"/>
<circle cx="53.5" cy="97.4" r="1.75" fill="#A39A2E"/>
<circle cx="115.5" cy="93.3" r="1.75" fill="#3A98DC"/>
<circle cx="150.8" cy="38.2" r="1.75" fill="#F07470"/>
<circle cx="82.8" cy="123.3" r="1.75" fill="#37B56B"/>
<circle cx="55.7" cy="124.6" r="1.75" fill="#1CBEE0"/>
<circle cx="99.8" cy="111.7" r="1.75" fill="#8C80C8"/>
<circle cx="75.1" cy="159.8" r="1.75" fill="#1CBEE0"/>
<circle cx="117.4" cy="81.3" r="1.75" fill="#B06AB8"/>
<circle cx="103.6" cy="61.9" r="1.75" fill="#F07470"/>
<circle cx="174.7" cy="124.4" r="1.75" fill="#B06AB8"/>
<circle cx="142.4" cy="64.3" r="1.75" fill="#2EBFA0"/>
<circle cx="68.5" cy="119.2" r="1.75" fill="#A39A2E"/>
<circle cx="130.3" cy="101.6" r="1.75" fill="#8C80C8"/>
<circle cx="108.3" cy="56.9" r="1.75" fill="#F07470"/>
<circle cx="116.2" cy="146" r="1.75" fill="#37B56B"/>
<circle cx="122.9" cy="141.5" r="1.75" fill="#37B56B"/>
<circle cx="53" cy="87.6" r="1.75" fill="#A39A2E"/>
<circle cx="144.8" cy="74.5" r="1.75" fill="#2EBFA0"/>
<circle cx="143.4" cy="131.3" r="1.75" fill="#8C80C8"/>
<circle cx="52" cy="107.4" r="1.75" fill="#A39A2E"/>
<circle cx="62.1" cy="68.4" r="1.75" fill="#E864A8"/>
<circle cx="154.4" cy="128.8" r="1.75" fill="#D98B2B"/>
<circle cx="65.7" cy="149" r="1.75" fill="#1CBEE0"/>
<circle cx="118" cy="111.4" r="1.75" fill="#3A98DC"/>
<circle cx="133.6" cy="95.4" r="1.75" fill="#B06AB8"/>
<circle cx="100.6" cy="127.7" r="1.75" fill="#62B84A"/>
<circle cx="167.5" cy="111.4" r="1.75" fill="#D98B2B"/>
<circle cx="85.4" cy="129.2" r="1.75" fill="#37B56B"/>
<circle cx="174.1" cy="119" r="1.75" fill="#B06AB8"/>
<circle cx="76.9" cy="136.4" r="1.75" fill="#1CBEE0"/>
<circle cx="86.6" cy="106.7" r="1.75" fill="#37B56B"/>
<circle cx="119.6" cy="138.2" r="1.75" fill="#37B56B"/>
<circle cx="73.6" cy="60.9" r="1.75" fill="#E864A8"/>
<circle cx="125.9" cy="44.7" r="1.75" fill="#F07470"/>
<circle cx="120" cy="110" r="1.75" fill="#B06AB8"/>
<circle cx="57" cy="80.3" r="1.75" fill="#A39A2E"/>
<circle cx="166.6" cy="108" r="1.75" fill="#D98B2B"/>
<circle cx="109" cy="56.9" r="1.75" fill="#F07470"/>
<circle cx="66.1" cy="63.6" r="1.75" fill="#E864A8"/>
<circle cx="82.4" cy="58.5" r="1.75" fill="#62B84A"/>
<circle cx="63.6" cy="99.6" r="1.75" fill="#A39A2E"/>
<circle cx="124.6" cy="74.5" r="1.75" fill="#F07470"/>
<circle cx="116.6" cy="106.5" r="1.75" fill="#3A98DC"/>
<circle cx="112.6" cy="147.2" r="1.75" fill="#37B56B"/>
<circle cx="154.2" cy="42.5" r="1.75" fill="#2EBFA0"/>
<circle cx="74.3" cy="61.1" r="1.75" fill="#E864A8"/>
<circle cx="69.7" cy="140.6" r="1.75" fill="#1CBEE0"/>
<circle cx="134.5" cy="61.7" r="1.75" fill="#2EBFA0"/>
<circle cx="142.5" cy="30.3" r="1.75" fill="#F07470"/>
<circle cx="60.6" cy="60" r="1.75" fill="#E864A8"/>
<circle cx="85.8" cy="107.8" r="1.75" fill="#37B56B"/>
<circle cx="61.1" cy="91" r="1.75" fill="#A39A2E"/>
<circle cx="121.8" cy="73.2" r="1.75" fill="#F07470"/>
<circle cx="156.4" cy="69.5" r="1.75" fill="#2EBFA0"/>
<circle cx="186.3" cy="120.2" r="1.75" fill="#B06AB8"/>
<circle cx="155.5" cy="68.5" r="1.75" fill="#2EBFA0"/>
<circle cx="131.2" cy="56" r="1.75" fill="#F07470"/>
<circle cx="71.4" cy="100.2" r="1.75" fill="#2EBFA0"/>
<circle cx="100.3" cy="127.5" r="1.75" fill="#37B56B"/>
<circle cx="125.2" cy="144.6" r="1.75" fill="#37B56B"/>
<circle cx="146.4" cy="127.5" r="1.75" fill="#D98B2B"/>
<circle cx="71.7" cy="155.1" r="1.75" fill="#1CBEE0"/>
<circle cx="54.6" cy="126.4" r="1.75" fill="#1CBEE0"/>
<circle cx="97.4" cy="139.3" r="1.75" fill="#37B56B"/>
<circle cx="57.3" cy="82.2" r="1.75" fill="#A39A2E"/>
<circle cx="57.5" cy="68.2" r="1.75" fill="#E864A8"/>
<circle cx="129.7" cy="64.2" r="1.75" fill="#F07470"/>
<circle cx="114.6" cy="69" r="1.75" fill="#F07470"/>
<circle cx="148.3" cy="140.3" r="1.75" fill="#D98B2B"/>
<circle cx="66.8" cy="126" r="1.75" fill="#37B56B"/>
<circle cx="48.6" cy="116" r="1.75" fill="#A39A2E"/>
<circle cx="52.8" cy="148.4" r="1.75" fill="#1CBEE0"/>
<circle cx="78.1" cy="154.3" r="1.75" fill="#1CBEE0"/>
<circle cx="72.9" cy="125" r="1.75" fill="#37B56B"/>
<circle cx="124.3" cy="106.5" r="1.75" fill="#62B84A"/>
<circle cx="61.3" cy="64.6" r="1.75" fill="#E864A8"/>
<circle cx="124.9" cy="56.7" r="1.75" fill="#F07470"/>
<circle cx="129.2" cy="54.8" r="1.75" fill="#F07470"/>
<circle cx="155.9" cy="46.7" r="1.75" fill="#2EBFA0"/>
<circle cx="180.3" cy="124.9" r="1.75" fill="#B06AB8"/>
<circle cx="129.1" cy="97.2" r="1.75" fill="#8C80C8"/>
<circle cx="152.6" cy="91.5" r="1.75" fill="#2EBFA0"/>
<circle cx="154.3" cy="48.5" r="1.75" fill="#2EBFA0"/>
<circle cx="86" cy="108.7" r="1.75" fill="#37B56B"/>
<circle cx="111.1" cy="138.7" r="1.75" fill="#37B56B"/>
<circle cx="146.6" cy="32.8" r="1.75" fill="#F07470"/>
<circle cx="65.2" cy="125.9" r="1.75" fill="#A39A2E"/>
<circle cx="137.3" cy="81.5" r="1.75" fill="#2EBFA0"/>
<circle cx="108.8" cy="54.1" r="1.75" fill="#F07470"/>
<circle cx="96.3" cy="95.6" r="1.75" fill="#8C80C8"/>
<circle cx="117.9" cy="51.4" r="1.75" fill="#F07470"/>
<circle cx="94.9" cy="122.1" r="1.75" fill="#62B84A"/>
<circle cx="53.6" cy="134" r="1.75" fill="#1CBEE0"/>
<circle cx="143.1" cy="55" r="1.75" fill="#F07470"/>
<circle cx="60" cy="130.4" r="1.75" fill="#1CBEE0"/>
<circle cx="55.5" cy="112.6" r="1.75" fill="#A39A2E"/>
<circle cx="129.7" cy="68.2" r="1.75" fill="#F07470"/>
<circle cx="71.6" cy="148.2" r="1.75" fill="#1CBEE0"/>
<circle cx="142" cy="119.1" r="1.75" fill="#D98B2B"/>
<circle cx="161" cy="133.9" r="1.75" fill="#D98B2B"/>
<circle cx="144.7" cy="86.6" r="1.75" fill="#8C80C8"/>
<circle cx="144" cy="129" r="1.75" fill="#D98B2B"/>
<circle cx="62.1" cy="58.7" r="1.75" fill="#E864A8"/>
<circle cx="150.8" cy="113.1" r="1.75" fill="#D98B2B"/>
<circle cx="160.2" cy="109.5" r="1.75" fill="#D98B2B"/>
<circle cx="109.9" cy="144.4" r="1.75" fill="#37B56B"/>
<circle cx="68.1" cy="106.7" r="1.75" fill="#A39A2E"/>
<circle cx="165.7" cy="119.4" r="1.75" fill="#D98B2B"/>
<circle cx="55.8" cy="131.6" r="1.75" fill="#1CBEE0"/>
<circle cx="106" cy="122.9" r="1.75" fill="#37B56B"/>
<circle cx="55.3" cy="125.3" r="1.75" fill="#1CBEE0"/>
<circle cx="108.2" cy="145.4" r="1.75" fill="#37B56B"/>
<circle cx="75.8" cy="116.9" r="1.75" fill="#37B56B"/>
<circle cx="85.7" cy="72.1" r="1.75" fill="#62B84A"/>
<circle cx="156.1" cy="92" r="1.75" fill="#8C80C8"/>
<circle cx="93.7" cy="119.2" r="1.75" fill="#37B56B"/>
<circle cx="42.3" cy="101" r="1.75" fill="#A39A2E"/>
<circle cx="105.2" cy="140.1" r="1.75" fill="#37B56B"/>
<circle cx="159.7" cy="105.6" r="1.75" fill="#D98B2B"/>
<circle cx="66.6" cy="162.2" r="1.75" fill="#1CBEE0"/>
<circle cx="78.9" cy="120.9" r="1.75" fill="#37B56B"/>
<circle cx="137.4" cy="33.9" r="1.75" fill="#F07470"/>
<circle cx="174.2" cy="127.6" r="1.75" fill="#D98B2B"/>
<circle cx="167.3" cy="114.8" r="1.75" fill="#D98B2B"/>
<circle cx="129.1" cy="137.4" r="1.75" fill="#37B56B"/>
<circle cx="106.8" cy="63.8" r="1.75" fill="#F07470"/>
<circle cx="103.8" cy="79.7" r="1.75" fill="#3A98DC"/>
<circle cx="70.3" cy="58.5" r="1.75" fill="#E864A8"/>
<circle cx="134.4" cy="120.8" r="1.75" fill="#B06AB8"/>
<circle cx="139.6" cy="84.3" r="1.75" fill="#8C80C8"/>
<circle cx="113.8" cy="51.7" r="1.75" fill="#F07470"/>
<circle cx="171.8" cy="113.5" r="1.75" fill="#D98B2B"/>
<circle cx="179.7" cy="112.2" r="1.75" fill="#D98B2B"/>
<circle cx="158.3" cy="80.5" r="1.75" fill="#8C80C8"/>
<circle cx="151.1" cy="129.1" r="1.75" fill="#D98B2B"/>
<circle cx="77.5" cy="116" r="1.75" fill="#37B56B"/>
<circle cx="73.8" cy="65" r="1.75" fill="#E864A8"/>
<circle cx="154.5" cy="71" r="1.75" fill="#2EBFA0"/>
<circle cx="174.4" cy="126.7" r="1.75" fill="#B06AB8"/>
<circle cx="72" cy="61" r="1.75" fill="#E864A8"/>
<circle cx="52.8" cy="140.6" r="1.75" fill="#37B56B"/>
<circle cx="128.4" cy="100.5" r="1.75" fill="#B06AB8"/>
<circle cx="51.7" cy="149.5" r="1.75" fill="#1CBEE0"/>
<circle cx="67.3" cy="114" r="1.75" fill="#A39A2E"/>
<circle cx="97.9" cy="80.5" r="1.75" fill="#62B84A"/>
<circle cx="133.2" cy="88.3" r="1.75" fill="#8C80C8"/>
<circle cx="75.3" cy="109.4" r="1.75" fill="#37B56B"/>
<circle cx="145.6" cy="37.7" r="1.75" fill="#F07470"/>
<circle cx="146.5" cy="129.2" r="1.75" fill="#D98B2B"/>
<circle cx="170.5" cy="118.6" r="1.75" fill="#D98B2B"/>
<circle cx="127.2" cy="48.8" r="1.75" fill="#F07470"/>
<circle cx="139.8" cy="94.8" r="1.75" fill="#3A98DC"/>
<circle cx="64.4" cy="152.2" r="1.75" fill="#1CBEE0"/>
<circle cx="162.1" cy="117.6" r="1.75" fill="#D98B2B"/>
<circle cx="68.6" cy="133.6" r="1.75" fill="#37B56B"/>
<circle cx="119" cy="87.7" r="1.75" fill="#3A98DC"/>
<circle cx="140.6" cy="106" r="1.75" fill="#8C80C8"/>
<circle cx="84.7" cy="127.2" r="1.75" fill="#37B56B"/>
<circle cx="105.6" cy="88.7" r="1.75" fill="#3A98DC"/>
<circle cx="108.2" cy="129.1" r="1.75" fill="#37B56B"/>
<circle cx="148.1" cy="86.9" r="1.75" fill="#2EBFA0"/>
<circle cx="64.2" cy="98.9" r="1.75" fill="#A39A2E"/>
<circle cx="63.7" cy="103.3" r="1.75" fill="#A39A2E"/>
<circle cx="82.3" cy="58.2" r="1.75" fill="#62B84A"/>
<circle cx="119.3" cy="58.9" r="1.75" fill="#F07470"/>
<circle cx="105.6" cy="52.7" r="1.75" fill="#F07470"/>
<circle cx="158.4" cy="116.3" r="1.75" fill="#B06AB8"/>
<circle cx="175.8" cy="110.5" r="1.75" fill="#D98B2B"/>
<circle cx="144.3" cy="37.5" r="1.75" fill="#F07470"/>
<circle cx="129" cy="85.9" r="1.75" fill="#3A98DC"/>
<circle cx="147.1" cy="42.3" r="1.75" fill="#F07470"/>
<circle cx="140.7" cy="77.7" r="1.75" fill="#2EBFA0"/>
<circle cx="82.7" cy="89.7" r="1.75" fill="#62B84A"/>
<circle cx="103.7" cy="62.8" r="1.75" fill="#F07470"/>
<circle cx="56" cy="149" r="1.75" fill="#1CBEE0"/>
<circle cx="62.7" cy="142.6" r="1.75" fill="#1CBEE0"/>
<circle cx="177.2" cy="129.1" r="1.75" fill="#B06AB8"/>
<circle cx="152.4" cy="121" r="1.75" fill="#D98B2B"/>
<circle cx="75" cy="152" r="1.75" fill="#1CBEE0"/>
<circle cx="70.9" cy="140.6" r="1.75" fill="#1CBEE0"/>
<circle cx="102.9" cy="114.3" r="1.75" fill="#2EBFA0"/>
<circle cx="104.8" cy="138" r="1.75" fill="#37B56B"/>
<circle cx="147" cy="125.8" r="1.75" fill="#D98B2B"/>
<circle cx="56.9" cy="64" r="1.75" fill="#E864A8"/>
<circle cx="147.6" cy="54.2" r="1.75" fill="#2EBFA0"/>
<circle cx="125.6" cy="48" r="1.75" fill="#F07470"/>
<circle cx="99.6" cy="137.7" r="1.75" fill="#37B56B"/>
<circle cx="136.4" cy="102.4" r="1.75" fill="#3A98DC"/>
<circle cx="153.9" cy="110.8" r="1.75" fill="#D98B2B"/>
<circle cx="120.5" cy="132.3" r="1.75" fill="#37B56B"/>
<circle cx="120.5" cy="59.4" r="1.75" fill="#F07470"/>
<circle cx="77" cy="63.2" r="1.75" fill="#E864A8"/>
<circle cx="156.7" cy="122.4" r="1.75" fill="#D98B2B"/>
<circle cx="111.8" cy="108.8" r="1.75" fill="#3A98DC"/>
<circle cx="59.9" cy="84.9" r="1.75" fill="#A39A2E"/>
<circle cx="103.5" cy="79.7" r="1.75" fill="#B06AB8"/>
<circle cx="150.2" cy="70" r="1.75" fill="#2EBFA0"/>
<circle cx="175.9" cy="130.5" r="1.75" fill="#D98B2B"/>
<circle cx="65.9" cy="100.6" r="1.75" fill="#A39A2E"/>
<circle cx="74.1" cy="132.7" r="1.75" fill="#1CBEE0"/>
<circle cx="151.2" cy="106.8" r="1.75" fill="#D98B2B"/>
<circle cx="118.4" cy="146.8" r="1.75" fill="#37B56B"/>
<circle cx="140.5" cy="132.9" r="1.75" fill="#37B56B"/>
<circle cx="131.9" cy="94" r="1.75" fill="#3A98DC"/>
<circle cx="151.9" cy="77.1" r="1.75" fill="#8C80C8"/>
<circle cx="147.5" cy="56.8" r="1.75" fill="#8C80C8"/>
<circle cx="107.9" cy="93.6" r="1.75" fill="#62B84A"/>
<circle cx="109.6" cy="93.4" r="1.75" fill="#3A98DC"/>
<circle cx="86.6" cy="96.7" r="1.75" fill="#62B84A"/>
<circle cx="72.5" cy="111.1" r="1.75" fill="#37B56B"/>
<circle cx="50.4" cy="109.1" r="1.75" fill="#A39A2E"/>
<circle cx="109.3" cy="101.6" r="1.75" fill="#3A98DC"/>
<circle cx="134.3" cy="56.5" r="1.75" fill="#F07470"/>
<circle cx="88.3" cy="67.3" r="1.75" fill="#62B84A"/>
<circle cx="113.9" cy="103.8" r="1.75" fill="#62B84A"/>
<circle cx="59.9" cy="106.5" r="1.75" fill="#A39A2E"/>
<circle cx="99.3" cy="137.6" r="1.75" fill="#37B56B"/>
<circle cx="164.8" cy="80.2" r="1.75" fill="#2EBFA0"/>
<circle cx="66.7" cy="49.7" r="1.75" fill="#E864A8"/>
<circle cx="120.3" cy="69.4" r="1.75" fill="#F07470"/>
<circle cx="125.1" cy="134.7" r="1.75" fill="#62B84A"/>
<circle cx="170.5" cy="129.9" r="1.75" fill="#D98B2B"/>
<circle cx="120.4" cy="43" r="1.75" fill="#F07470"/>
<circle cx="169.5" cy="126.3" r="1.75" fill="#D98B2B"/>
<circle cx="63.9" cy="159.5" r="1.75" fill="#1CBEE0"/>
<circle cx="108.3" cy="129" r="1.75" fill="#37B56B"/>
<circle cx="110.3" cy="98.5" r="1.75" fill="#3A98DC"/>
<circle cx="174.4" cy="125.8" r="1.75" fill="#D98B2B"/>
<circle cx="62.4" cy="123.8" r="1.75" fill="#1CBEE0"/>
<circle cx="152.6" cy="110.4" r="1.75" fill="#8C80C8"/>
<circle cx="62" cy="157.9" r="1.75" fill="#1CBEE0"/>
<circle cx="44.9" cy="93.6" r="1.75" fill="#A39A2E"/>
<circle cx="156.3" cy="73.4" r="1.75" fill="#2EBFA0"/>
<circle cx="180.3" cy="119.8" r="1.75" fill="#B06AB8"/>
<circle cx="129.7" cy="60.9" r="1.75" fill="#F07470"/>
<circle cx="123.2" cy="142.5" r="1.75" fill="#37B56B"/>
<circle cx="103.3" cy="80.3" r="1.75" fill="#62B84A"/>
<circle cx="74.7" cy="113.6" r="1.75" fill="#37B56B"/>
<circle cx="157" cy="88.8" r="1.75" fill="#2EBFA0"/>
<circle cx="128.5" cy="105.7" r="1.75" fill="#3A98DC"/>
<circle cx="163.7" cy="108.8" r="1.75" fill="#D98B2B"/>
<circle cx="132.2" cy="84.4" r="1.75" fill="#3A98DC"/>
<circle cx="96" cy="94.6" r="1.75" fill="#3A98DC"/>
<circle cx="54.6" cy="144.3" r="1.75" fill="#1CBEE0"/>
<circle cx="56.7" cy="122.2" r="1.75" fill="#A39A2E"/>
<circle cx="144.2" cy="36.8" r="1.75" fill="#F07470"/>
<circle cx="124.6" cy="136" r="1.75" fill="#37B56B"/>
<circle cx="68.7" cy="147.6" r="1.75" fill="#1CBEE0"/>
<circle cx="150.2" cy="109.1" r="1.75" fill="#D98B2B"/>
<circle cx="76.5" cy="125.3" r="1.75" fill="#37B56B"/>
<circle cx="136.5" cy="110.7" r="1.75" fill="#2EBFA0"/>
<circle cx="58.2" cy="152.4" r="1.75" fill="#1CBEE0"/>
<circle cx="145.3" cy="126.6" r="1.75" fill="#D98B2B"/>
<circle cx="113.6" cy="127.7" r="1.75" fill="#62B84A"/>
<circle cx="126" cy="100.7" r="1.75" fill="#8C80C8"/>
<circle cx="145.3" cy="85.4" r="1.75" fill="#8C80C8"/>
<circle cx="79.1" cy="135.2" r="1.75" fill="#1CBEE0"/>
<circle cx="119.1" cy="133.7" r="1.75" fill="#37B56B"/>
<circle cx="142.5" cy="76" r="1.75" fill="#2EBFA0"/>
<circle cx="124.5" cy="39.5" r="1.75" fill="#F07470"/>
<circle cx="156.9" cy="90.8" r="1.75" fill="#2EBFA0"/>
<circle cx="140" cy="59" r="1.75" fill="#2EBFA0"/>
<circle cx="111.4" cy="113.8" r="1.75" fill="#37B56B"/>
<circle cx="65.7" cy="51.2" r="1.75" fill="#E864A8"/>
<circle cx="51.1" cy="116" r="1.75" fill="#A39A2E"/>
<circle cx="57.1" cy="134.5" r="1.75" fill="#1CBEE0"/>
<circle cx="114.2" cy="48.4" r="1.75" fill="#F07470"/>
<circle cx="146.2" cy="52.2" r="1.75" fill="#2EBFA0"/>
<circle cx="148.6" cy="88.3" r="1.75" fill="#8C80C8"/>
<circle cx="142.1" cy="98" r="1.75" fill="#8C80C8"/>
<circle cx="107.7" cy="60.1" r="1.75" fill="#F07470"/>
<circle cx="135" cy="46" r="1.75" fill="#F07470"/>
<circle cx="168.5" cy="124.1" r="1.75" fill="#D98B2B"/>
<circle cx="76.2" cy="91.1" r="1.75" fill="#62B84A"/>
<circle cx="121.7" cy="77" r="1.75" fill="#F07470"/>
<circle cx="128.9" cy="42.3" r="1.75" fill="#F07470"/>
<circle cx="133.2" cy="106.2" r="1.75" fill="#2EBFA0"/>
<circle cx="73.3" cy="78.1" r="1.75" fill="#62B84A"/>
<circle cx="67.1" cy="137.7" r="1.75" fill="#1CBEE0"/>
<circle cx="125.9" cy="144.1" r="1.75" fill="#37B56B"/>
<circle cx="52.2" cy="113.2" r="1.75" fill="#A39A2E"/>
<circle cx="146" cy="84.4" r="1.75" fill="#8C80C8"/>
<circle cx="60.5" cy="98.6" r="1.75" fill="#A39A2E"/>
<circle cx="48.5" cy="95.3" r="1.75" fill="#A39A2E"/>
<circle cx="117.9" cy="69.4" r="1.75" fill="#F07470"/>
<circle cx="131.7" cy="85.7" r="1.75" fill="#8C80C8"/>
<circle cx="95.1" cy="129.5" r="1.75" fill="#37B56B"/>
<circle cx="121.1" cy="111.1" r="1.75" fill="#3A98DC"/>
<circle cx="166.6" cy="117.6" r="1.75" fill="#D98B2B"/>
<circle cx="49.5" cy="108.3" r="1.75" fill="#A39A2E"/>
<circle cx="51.3" cy="80.2" r="1.75" fill="#A39A2E"/>
<circle cx="85.7" cy="74.4" r="1.75" fill="#62B84A"/>
<circle cx="118.5" cy="54.8" r="1.75" fill="#F07470"/>
<circle cx="161.2" cy="124.4" r="1.75" fill="#D98B2B"/>
<circle cx="64.6" cy="110.5" r="1.75" fill="#A39A2E"/>
<circle cx="73.1" cy="138" r="1.75" fill="#1CBEE0"/>
<circle cx="66.5" cy="75.1" r="1.75" fill="#E864A8"/>
<circle cx="183.3" cy="117.9" r="1.75" fill="#B06AB8"/>
<circle cx="114.5" cy="133.7" r="1.75" fill="#37B56B"/>
<circle cx="144.7" cy="123.2" r="1.75" fill="#D98B2B"/>
<circle cx="166" cy="131.6" r="1.75" fill="#B06AB8"/>
<circle cx="54.1" cy="156" r="1.75" fill="#1CBEE0"/>
<circle cx="115.1" cy="43.6" r="1.75" fill="#F07470"/>
<circle cx="103.7" cy="72.2" r="1.75" fill="#62B84A"/>
<circle cx="113.4" cy="51.2" r="1.75" fill="#F07470"/>
<circle cx="133.3" cy="60.5" r="1.75" fill="#F07470"/>
<circle cx="141.4" cy="130.3" r="1.75" fill="#B06AB8"/>
<circle cx="114.3" cy="140.6" r="1.75" fill="#37B56B"/>
<circle cx="116" cy="74.8" r="1.75" fill="#F07470"/>
<circle cx="127.4" cy="105.7" r="1.75" fill="#2EBFA0"/>
<circle cx="60.8" cy="60" r="1.75" fill="#E864A8"/>
<circle cx="71.2" cy="151.1" r="1.75" fill="#1CBEE0"/>
<circle cx="171.7" cy="112" r="1.75" fill="#D98B2B"/>
<circle cx="114.2" cy="68.2" r="1.75" fill="#F07470"/>
<circle cx="67.6" cy="108.8" r="1.75" fill="#A39A2E"/>
<circle cx="166.6" cy="120.9" r="1.75" fill="#D98B2B"/>
<circle cx="66.2" cy="129" r="1.75" fill="#1CBEE0"/>
<circle cx="65.9" cy="141.7" r="1.75" fill="#1CBEE0"/>
<circle cx="64.1" cy="90.4" r="1.75" fill="#A39A2E"/>
<circle cx="72.5" cy="100.7" r="1.75" fill="#37B56B"/>
<circle cx="108.2" cy="109.9" r="1.75" fill="#3A98DC"/>
<circle cx="80.3" cy="54.3" r="1.75" fill="#62B84A"/>
<circle cx="174.1" cy="115.4" r="1.75" fill="#B06AB8"/>
<circle cx="101.9" cy="63.9" r="1.75" fill="#62B84A"/>
<circle cx="147.5" cy="42.3" r="1.75" fill="#F07470"/>
<circle cx="96" cy="59" r="1.75" fill="#62B84A"/>
<circle cx="84.3" cy="87.9" r="1.75" fill="#62B84A"/>
<circle cx="54.1" cy="113.6" r="1.75" fill="#A39A2E"/>
<circle cx="137.8" cy="124.6" r="1.75" fill="#B06AB8"/>
<circle cx="146.4" cy="110.2" r="1.75" fill="#8C80C8"/>
<circle cx="143.3" cy="121.9" r="1.75" fill="#D98B2B"/>
<circle cx="119.7" cy="147.5" r="1.75" fill="#37B56B"/>
<circle cx="108.1" cy="141.2" r="1.75" fill="#37B56B"/>
<circle cx="140.3" cy="35.6" r="1.75" fill="#F07470"/>
<circle cx="137.9" cy="96.2" r="1.75" fill="#8C80C8"/>
<circle cx="76.4" cy="66.5" r="1.75" fill="#3A98DC"/>
<circle cx="92.8" cy="135.5" r="1.75" fill="#37B56B"/>
<circle cx="66.5" cy="130.1" r="1.75" fill="#1CBEE0"/>
<circle cx="108.5" cy="128.6" r="1.75" fill="#37B56B"/>
<circle cx="121.5" cy="38.7" r="1.75" fill="#F07470"/>
<circle cx="115.5" cy="137" r="1.75" fill="#2EBFA0"/>
<circle cx="123.1" cy="62.7" r="1.75" fill="#F07470"/>
<circle cx="55.4" cy="125.1" r="1.75" fill="#37B56B"/>
<circle cx="54.3" cy="133.3" r="1.75" fill="#1CBEE0"/>
<circle cx="163.2" cy="129.7" r="1.75" fill="#D98B2B"/>
<circle cx="173.5" cy="111.1" r="1.75" fill="#B06AB8"/>
<circle cx="88.7" cy="124.3" r="1.75" fill="#2EBFA0"/>
<circle cx="59.3" cy="64.9" r="1.75" fill="#E864A8"/>
<circle cx="78.2" cy="138.1" r="1.75" fill="#1CBEE0"/>
<circle cx="52.4" cy="117.9" r="1.75" fill="#A39A2E"/>
<circle cx="73" cy="63.2" r="1.75" fill="#62B84A"/>
<circle cx="97.2" cy="118.3" r="1.75" fill="#62B84A"/>
<circle cx="121.5" cy="55.1" r="1.75" fill="#F07470"/>
<circle cx="74.5" cy="134.4" r="1.75" fill="#1CBEE0"/>
<circle cx="136.6" cy="118.1" r="1.75" fill="#2EBFA0"/>
<circle cx="76" cy="155.1" r="1.75" fill="#1CBEE0"/>
<circle cx="57.8" cy="143.1" r="1.75" fill="#1CBEE0"/>
<circle cx="102.4" cy="129.6" r="1.75" fill="#37B56B"/>
<circle cx="98" cy="126.9" r="1.75" fill="#37B56B"/>
<circle cx="75.2" cy="54.5" r="1.75" fill="#E864A8"/>
<circle cx="182" cy="129.5" r="1.75" fill="#B06AB8"/>
<circle cx="104.2" cy="93" r="1.75" fill="#B06AB8"/>
<circle cx="91.6" cy="68.9" r="1.75" fill="#62B84A"/>
<circle cx="89.1" cy="91.4" r="1.75" fill="#62B84A"/>
<circle cx="137" cy="49.7" r="1.75" fill="#F07470"/>
<circle cx="155.9" cy="83.6" r="1.75" fill="#8C80C8"/>
<circle cx="105.5" cy="102.8" r="1.75" fill="#3A98DC"/>
<circle cx="146.1" cy="118.5" r="1.75" fill="#D98B2B"/>
<circle cx="73.6" cy="117" r="1.75" fill="#37B56B"/>
<circle cx="128" cy="32.4" r="1.75" fill="#F07470"/>
<circle cx="92.2" cy="120" r="1.75" fill="#37B56B"/>
<circle cx="58.5" cy="64.2" r="1.75" fill="#E864A8"/>
<circle cx="152.4" cy="128" r="1.75" fill="#D98B2B"/>
<circle cx="54.2" cy="95.7" r="1.75" fill="#A39A2E"/>
<circle cx="118" cy="79.6" r="1.75" fill="#3A98DC"/>
<circle cx="174.1" cy="113.9" r="1.75" fill="#D98B2B"/>
<circle cx="158.6" cy="101.4" r="1.75" fill="#8C80C8"/>
<circle cx="66.3" cy="153.7" r="1.75" fill="#1CBEE0"/>
<circle cx="141.1" cy="95.6" r="1.75" fill="#3A98DC"/>
<circle cx="152.4" cy="128.8" r="1.75" fill="#D98B2B"/>
<circle cx="101.4" cy="137.4" r="1.75" fill="#37B56B"/>
<circle cx="158.5" cy="133" r="1.75" fill="#D98B2B"/>
<circle cx="102" cy="122.9" r="1.75" fill="#2EBFA0"/>
<circle cx="124.1" cy="43.4" r="1.75" fill="#F07470"/>
<circle cx="134.8" cy="37.2" r="1.75" fill="#F07470"/>
<circle cx="109" cy="141.1" r="1.75" fill="#37B56B"/>
<circle cx="95.5" cy="75.4" r="1.75" fill="#62B84A"/>
<circle cx="68.5" cy="64.5" r="1.75" fill="#E864A8"/>
<circle cx="122.1" cy="130.2" r="1.75" fill="#37B56B"/>
<circle cx="113.5" cy="69.5" r="1.75" fill="#F07470"/>
<circle cx="156.3" cy="68.1" r="1.75" fill="#2EBFA0"/>
<circle cx="159.5" cy="96.6" r="1.75" fill="#8C80C8"/>
<circle cx="105.1" cy="103.8" r="1.75" fill="#3A98DC"/>
<circle cx="179.2" cy="114.9" r="1.75" fill="#B06AB8"/>
<circle cx="145.3" cy="135.7" r="1.75" fill="#D98B2B"/>
<circle cx="111.1" cy="64.4" r="1.75" fill="#F07470"/>
<circle cx="164.4" cy="92.1" r="1.75" fill="#2EBFA0"/>
<circle cx="52.4" cy="98.5" r="1.75" fill="#A39A2E"/>
<circle cx="123.3" cy="92.9" r="1.75" fill="#3A98DC"/>
<circle cx="152.5" cy="101" r="1.75" fill="#3A98DC"/>
<circle cx="85.1" cy="79.2" r="1.75" fill="#62B84A"/>
<circle cx="52" cy="100.8" r="1.75" fill="#A39A2E"/>
<circle cx="93.8" cy="133.4" r="1.75" fill="#37B56B"/>
<circle cx="158.3" cy="133.7" r="1.75" fill="#D98B2B"/>
<circle cx="99.8" cy="61.5" r="1.75" fill="#62B84A"/>
<circle cx="147.7" cy="32.5" r="1.75" fill="#F07470"/>
<circle cx="89.8" cy="117.5" r="1.75" fill="#37B56B"/>
<circle cx="175.6" cy="119.4" r="1.75" fill="#D98B2B"/>
<circle cx="132.4" cy="62.2" r="1.75" fill="#F07470"/>
<circle cx="132.8" cy="54.5" r="1.75" fill="#F07470"/>
<circle cx="62.3" cy="119.2" r="1.75" fill="#A39A2E"/>
<circle cx="97.5" cy="136.5" r="1.75" fill="#37B56B"/>
<circle cx="92.5" cy="120" r="1.75" fill="#37B56B"/>
<circle cx="95.6" cy="61.5" r="1.75" fill="#3A98DC"/>
<circle cx="79.4" cy="74.2" r="1.75" fill="#62B84A"/>
<circle cx="163.3" cy="112.5" r="1.75" fill="#D98B2B"/>
<circle cx="104.4" cy="54.5" r="1.75" fill="#F07470"/>
<circle cx="78.5" cy="78.5" r="1.75" fill="#62B84A"/>
<circle cx="66.6" cy="134.8" r="1.75" fill="#1CBEE0"/>
<circle cx="128.5" cy="47.6" r="1.75" fill="#F07470"/>
<circle cx="52.7" cy="85.1" r="1.75" fill="#A39A2E"/>
<circle cx="53.8" cy="105.3" r="1.75" fill="#A39A2E"/>
<circle cx="169.8" cy="121.9" r="1.75" fill="#D98B2B"/>
<circle cx="51.6" cy="100.4" r="1.75" fill="#A39A2E"/>
<circle cx="89" cy="59.2" r="1.75" fill="#62B84A"/>
<circle cx="76.4" cy="117.5" r="1.75" fill="#37B56B"/>
<circle cx="175.3" cy="116.8" r="1.75" fill="#B06AB8"/>
<circle cx="98" cy="94.2" r="1.75" fill="#3A98DC"/>
<circle cx="78.8" cy="54" r="1.75" fill="#62B84A"/>
<circle cx="162.9" cy="105" r="1.75" fill="#D98B2B"/>
<circle cx="129.8" cy="79.3" r="1.75" fill="#2EBFA0"/>
<circle cx="135.6" cy="98.3" r="1.75" fill="#8C80C8"/>
<circle cx="138.2" cy="48.4" r="1.75" fill="#F07470"/>
<circle cx="159.7" cy="108.9" r="1.75" fill="#D98B2B"/>
<circle cx="184.6" cy="123.4" r="1.75" fill="#B06AB8"/>
<circle cx="59.2" cy="107.6" r="1.75" fill="#A39A2E"/>
<circle cx="82" cy="148.1" r="1.75" fill="#3A98DC"/>
<circle cx="138.4" cy="83.5" r="1.75" fill="#2EBFA0"/>
<circle cx="53.3" cy="105.6" r="1.75" fill="#A39A2E"/>
<circle cx="164.1" cy="135.9" r="1.75" fill="#B06AB8"/>
<circle cx="93" cy="77.5" r="1.75" fill="#62B84A"/>
<circle cx="50.8" cy="106.5" r="1.75" fill="#A39A2E"/>
<circle cx="121.9" cy="134.5" r="1.75" fill="#37B56B"/>
<circle cx="57.8" cy="142.4" r="1.75" fill="#1CBEE0"/>
<circle cx="68" cy="147.4" r="1.75" fill="#1CBEE0"/>
<circle cx="169.1" cy="111.5" r="1.75" fill="#B06AB8"/>
<circle cx="152.6" cy="53" r="1.75" fill="#2EBFA0"/>
<circle cx="89.7" cy="119.5" r="1.75" fill="#37B56B"/>
<circle cx="129.7" cy="39.3" r="1.75" fill="#F07470"/>
<circle cx="67.2" cy="76" r="1.75" fill="#62B84A"/>
<circle cx="53.5" cy="76.8" r="1.75" fill="#A39A2E"/>
<circle cx="138.9" cy="122.9" r="1.75" fill="#D98B2B"/>
<circle cx="108.7" cy="88.7" r="1.75" fill="#3A98DC"/>
<circle cx="68.8" cy="144.9" r="1.75" fill="#1CBEE0"/>
<circle cx="59.2" cy="58.1" r="1.75" fill="#E864A8"/>
<circle cx="88.9" cy="66.2" r="1.75" fill="#3A98DC"/>
<circle cx="137.2" cy="57.6" r="1.75" fill="#F07470"/>
<circle cx="118.9" cy="51.2" r="1.75" fill="#F07470"/>
<circle cx="51.3" cy="116.2" r="1.75" fill="#A39A2E"/>
<circle cx="151.8" cy="111.9" r="1.75" fill="#D98B2B"/>
<circle cx="174.6" cy="112.2" r="1.75" fill="#B06AB8"/>
<circle cx="98.5" cy="63.5" r="1.75" fill="#62B84A"/>
<circle cx="148.7" cy="129.6" r="1.75" fill="#D98B2B"/>
<circle cx="148.8" cy="36" r="1.75" fill="#F07470"/>
<circle cx="51.7" cy="120.1" r="1.75" fill="#A39A2E"/>
<circle cx="109.6" cy="109.5" r="1.75" fill="#B06AB8"/>
<circle cx="115" cy="142.4" r="1.75" fill="#37B56B"/>
<circle cx="51.3" cy="146.6" r="1.75" fill="#1CBEE0"/>
<circle cx="64.4" cy="156.8" r="1.75" fill="#1CBEE0"/>
<circle cx="46.1" cy="111.7" r="1.75" fill="#A39A2E"/>
<circle cx="139" cy="103" r="1.75" fill="#3A98DC"/>
<circle cx="79" cy="89.6" r="1.75" fill="#62B84A"/>
<circle cx="158.8" cy="123.5" r="1.75" fill="#B06AB8"/>
<circle cx="154.6" cy="108.7" r="1.75" fill="#D98B2B"/>
<circle cx="95.3" cy="82.4" r="1.75" fill="#8C80C8"/>
<circle cx="92.9" cy="129.3" r="1.75" fill="#37B56B"/>
<circle cx="66.2" cy="105.9" r="1.75" fill="#A39A2E"/>
<circle cx="175.3" cy="125.6" r="1.75" fill="#B06AB8"/>
<circle cx="100.2" cy="84" r="1.75" fill="#3A98DC"/>
<circle cx="149.1" cy="89.3" r="1.75" fill="#2EBFA0"/>
<circle cx="107.5" cy="52.2" r="1.75" fill="#F07470"/>
<circle cx="99.9" cy="105.1" r="1.75" fill="#37B56B"/>
<circle cx="55.5" cy="105.9" r="1.75" fill="#A39A2E"/>
<circle cx="125.3" cy="65.2" r="1.75" fill="#F07470"/>
<circle cx="88.6" cy="125.9" r="1.75" fill="#37B56B"/>
<circle cx="127.3" cy="97.5" r="1.75" fill="#8C80C8"/>
<circle cx="57.9" cy="136" r="1.75" fill="#1CBEE0"/>
<circle cx="168" cy="119.9" r="1.75" fill="#B06AB8"/>
<circle cx="138.8" cy="110.9" r="1.75" fill="#8C80C8"/>
<circle cx="150.6" cy="37.1" r="1.75" fill="#F07470"/>
<circle cx="87.6" cy="95.6" r="1.75" fill="#62B84A"/>
<circle cx="65.4" cy="125.6" r="1.75" fill="#1CBEE0"/>
<circle cx="112.1" cy="58.5" r="1.75" fill="#F07470"/>
<circle cx="129.9" cy="31.1" r="1.75" fill="#F07470"/>
<circle cx="110" cy="108.5" r="1.75" fill="#3A98DC"/>
<circle cx="120.3" cy="100.9" r="1.75" fill="#3A98DC"/>
<circle cx="155.4" cy="136.6" r="1.75" fill="#D98B2B"/>
<circle cx="137.3" cy="105.8" r="1.75" fill="#3A98DC"/>
<circle cx="109.7" cy="101.4" r="1.75" fill="#3A98DC"/>
<circle cx="134.5" cy="89.7" r="1.75" fill="#3A98DC"/>
<circle cx="134.6" cy="68.6" r="1.75" fill="#2EBFA0"/>
<circle cx="150.9" cy="70.3" r="1.75" fill="#2EBFA0"/>
<circle cx="113.4" cy="58.9" r="1.75" fill="#F07470"/>
<circle cx="162.4" cy="109.6" r="1.75" fill="#D98B2B"/>
<circle cx="123.1" cy="125.6" r="1.75" fill="#2EBFA0"/>
<circle cx="151.1" cy="133.8" r="1.75" fill="#D98B2B"/>
<circle cx="61.2" cy="124.2" r="1.75" fill="#1CBEE0"/>
<circle cx="53.7" cy="107.5" r="1.75" fill="#A39A2E"/>
<circle cx="142.3" cy="74.8" r="1.75" fill="#2EBFA0"/>
<circle cx="47.3" cy="93.4" r="1.75" fill="#A39A2E"/>
<circle cx="158.7" cy="129.5" r="1.75" fill="#D98B2B"/>
<circle cx="72.6" cy="87.6" r="1.75" fill="#62B84A"/>
<circle cx="118.4" cy="81.4" r="1.75" fill="#3A98DC"/>
<circle cx="111" cy="56.8" r="1.75" fill="#F07470"/>
<circle cx="174.4" cy="122.9" r="1.75" fill="#B06AB8"/>
<circle cx="151.8" cy="115.4" r="1.75" fill="#D98B2B"/>
<circle cx="160.1" cy="122.7" r="1.75" fill="#D98B2B"/>
<circle cx="154.3" cy="117.1" r="1.75" fill="#D98B2B"/>
<circle cx="44.4" cy="91.7" r="1.75" fill="#A39A2E"/>
<circle cx="66.5" cy="159.8" r="1.75" fill="#1CBEE0"/>
<circle cx="57" cy="125.4" r="1.75" fill="#1CBEE0"/>
<circle cx="141.1" cy="46.8" r="1.75" fill="#F07470"/>
<circle cx="48.1" cy="103.4" r="1.75" fill="#A39A2E"/>
<circle cx="72.8" cy="99.7" r="1.75" fill="#37B56B"/>
<circle cx="124.2" cy="136.4" r="1.75" fill="#37B56B"/>
<circle cx="161.2" cy="136.7" r="1.75" fill="#D98B2B"/>
<circle cx="93.5" cy="93.7" r="1.75" fill="#3A98DC"/>
<circle cx="155" cy="100.4" r="1.75" fill="#D98B2B"/>
<circle cx="79.7" cy="74.1" r="1.75" fill="#62B84A"/>
<circle cx="145.6" cy="83.5" r="1.75" fill="#2EBFA0"/>
<circle cx="129.1" cy="55.3" r="1.75" fill="#F07470"/>
<circle cx="106.3" cy="86.6" r="1.75" fill="#B06AB8"/>
<circle cx="53.3" cy="86.2" r="1.75" fill="#A39A2E"/>
<circle cx="65.3" cy="148.1" r="1.75" fill="#1CBEE0"/>
<circle cx="154.4" cy="134.7" r="1.75" fill="#D98B2B"/>
<circle cx="111.9" cy="125.2" r="1.75" fill="#37B56B"/>
<circle cx="153.3" cy="76.6" r="1.75" fill="#2EBFA0"/>
<circle cx="127.3" cy="106" r="1.75" fill="#8C80C8"/>
<circle cx="135" cy="87.1" r="1.75" fill="#8C80C8"/>
<circle cx="76.4" cy="151.8" r="1.75" fill="#1CBEE0"/>
<circle cx="63.7" cy="116.3" r="1.75" fill="#A39A2E"/>
<circle cx="169.6" cy="99.1" r="1.75" fill="#2EBFA0"/>
<circle cx="105.5" cy="97.8" r="1.75" fill="#3A98DC"/>
<circle cx="55.8" cy="150.6" r="1.75" fill="#1CBEE0"/>
<circle cx="56.2" cy="74.1" r="1.75" fill="#E864A8"/>
<circle cx="178.9" cy="103.2" r="1.75" fill="#2EBFA0"/>
<circle cx="82.8" cy="155.4" r="1.75" fill="#1CBEE0"/>
<circle cx="148.3" cy="137.8" r="1.75" fill="#D98B2B"/>
<circle cx="176.4" cy="114.1" r="1.75" fill="#B06AB8"/>
<circle cx="68.7" cy="78.7" r="1.75" fill="#62B84A"/>
<circle cx="103.7" cy="109.1" r="1.75" fill="#37B56B"/>
<circle cx="58.3" cy="154.5" r="1.75" fill="#1CBEE0"/>
<circle cx="122.5" cy="61.9" r="1.75" fill="#F07470"/>
<circle cx="55.1" cy="89.2" r="1.75" fill="#A39A2E"/>
<circle cx="57.9" cy="62.5" r="1.75" fill="#E864A8"/>
<circle cx="65.4" cy="74.1" r="1.75" fill="#E864A8"/>
<circle cx="159.1" cy="74.2" r="1.75" fill="#2EBFA0"/>
<circle cx="133.5" cy="63.1" r="1.75" fill="#F07470"/>
<circle cx="71.5" cy="85.6" r="1.75" fill="#62B84A"/>
<circle cx="167" cy="112.2" r="1.75" fill="#D98B2B"/>
<circle cx="76" cy="156.3" r="1.75" fill="#1CBEE0"/>
<circle cx="56.3" cy="95.9" r="1.75" fill="#A39A2E"/>
<circle cx="119.8" cy="55.2" r="1.75" fill="#F07470"/>
<circle cx="79.1" cy="157" r="1.75" fill="#1CBEE0"/>
<circle cx="153.5" cy="104.1" r="1.75" fill="#D98B2B"/>
<circle cx="132.9" cy="77.9" r="1.75" fill="#2EBFA0"/>
<circle cx="72.5" cy="108.7" r="1.75" fill="#37B56B"/>
<circle cx="65.8" cy="128.5" r="1.75" fill="#1CBEE0"/>
<circle cx="70.8" cy="158.2" r="1.75" fill="#1CBEE0"/>
<circle cx="87.9" cy="81.7" r="1.75" fill="#3A98DC"/>
<circle cx="118.1" cy="125.9" r="1.75" fill="#2EBFA0"/>
<circle cx="148.3" cy="110.3" r="1.75" fill="#D98B2B"/>
<circle cx="144.9" cy="69.6" r="1.75" fill="#2EBFA0"/>
<circle cx="109.4" cy="127.8" r="1.75" fill="#37B56B"/>
<circle cx="119.8" cy="61.7" r="1.75" fill="#F07470"/>
<circle cx="101.4" cy="105.6" r="1.75" fill="#B06AB8"/>
<circle cx="89.7" cy="62.5" r="1.75" fill="#62B84A"/>
<circle cx="159.5" cy="93" r="1.75" fill="#8C80C8"/>
<circle cx="117.1" cy="110.8" r="1.75" fill="#8C80C8"/>
<circle cx="75.5" cy="59.4" r="1.75" fill="#E864A8"/>
<circle cx="63.8" cy="148" r="1.75" fill="#1CBEE0"/>
<circle cx="66.4" cy="101.5" r="1.75" fill="#A39A2E"/>
<circle cx="149.7" cy="84.5" r="1.75" fill="#2EBFA0"/>
<circle cx="55.6" cy="101.1" r="1.75" fill="#A39A2E"/>
<circle cx="124" cy="107" r="1.75" fill="#3A98DC"/>
<circle cx="66.5" cy="111.3" r="1.75" fill="#A39A2E"/>
<circle cx="153.4" cy="106.5" r="1.75" fill="#8C80C8"/>
<circle cx="80.1" cy="54" r="1.75" fill="#62B84A"/>
<circle cx="108.5" cy="107" r="1.75" fill="#3A98DC"/>
<circle cx="118.3" cy="74.5" r="1.75" fill="#F07470"/>
<circle cx="50.8" cy="100.2" r="1.75" fill="#A39A2E"/>
<circle cx="106.5" cy="134.1" r="1.75" fill="#37B56B"/>
<circle cx="124" cy="47.8" r="1.75" fill="#F07470"/>
<circle cx="144" cy="51.5" r="1.75" fill="#F07470"/>
<circle cx="178" cy="126.1" r="1.75" fill="#B06AB8"/>
<circle cx="100.3" cy="55.6" r="1.75" fill="#F07470"/>
<circle cx="53.3" cy="111.2" r="1.75" fill="#A39A2E"/>
<circle cx="158.8" cy="94.5" r="1.75" fill="#2EBFA0"/>
<circle cx="129.6" cy="32.8" r="1.75" fill="#F07470"/>
<circle cx="140.3" cy="119.7" r="1.75" fill="#D98B2B"/>
<circle cx="148.8" cy="87.8" r="1.75" fill="#8C80C8"/>
<circle cx="133.5" cy="63.9" r="1.75" fill="#8C80C8"/>
<circle cx="70.5" cy="118.5" r="1.75" fill="#2EBFA0"/>
<circle cx="80" cy="60.5" r="1.75" fill="#62B84A"/>
<circle cx="118.6" cy="48.5" r="1.75" fill="#F07470"/>
<circle cx="133.5" cy="96.5" r="1.75" fill="#8C80C8"/>
<circle cx="136.1" cy="40.3" r="1.75" fill="#F07470"/>
<circle cx="133.9" cy="45.3" r="1.75" fill="#F07470"/>
<circle cx="154.6" cy="77.9" r="1.75" fill="#2EBFA0"/>
<circle cx="146.1" cy="63.2" r="1.75" fill="#8C80C8"/>
<circle cx="135.4" cy="127.9" r="1.75" fill="#B06AB8"/>
<circle cx="48.1" cy="110.8" r="1.75" fill="#A39A2E"/>
<circle cx="70.9" cy="49.4" r="1.75" fill="#E864A8"/>
<circle cx="129.6" cy="34.4" r="1.75" fill="#F07470"/>
<circle cx="148.2" cy="52.2" r="1.75" fill="#2EBFA0"/>
<circle cx="161.2" cy="73.5" r="1.75" fill="#2EBFA0"/>
<circle cx="60.6" cy="65.1" r="1.75" fill="#E864A8"/>
<circle cx="59.7" cy="57.9" r="1.75" fill="#E864A8"/>
<circle cx="146.1" cy="37.1" r="1.75" fill="#F07470"/>
<circle cx="54" cy="125" r="1.75" fill="#A39A2E"/>
<circle cx="125" cy="70.5" r="1.75" fill="#F07470"/>
<circle cx="127.3" cy="96.8" r="1.75" fill="#8C80C8"/>
<circle cx="89.6" cy="108.4" r="1.75" fill="#37B56B"/>
<circle cx="118.4" cy="45.9" r="1.75" fill="#F07470"/>
<circle cx="164" cy="97.4" r="1.75" fill="#2EBFA0"/>
<circle cx="59.9" cy="114.7" r="1.75" fill="#A39A2E"/>
<circle cx="73.9" cy="55.5" r="1.75" fill="#E864A8"/>
<circle cx="137.1" cy="80.3" r="1.75" fill="#2EBFA0"/>
<circle cx="171.4" cy="93.7" r="1.75" fill="#2EBFA0"/>
<circle cx="137.8" cy="109.7" r="1.75" fill="#3A98DC"/>
<circle cx="141.6" cy="94.9" r="1.75" fill="#8C80C8"/>
<circle cx="151.8" cy="127.9" r="1.75" fill="#D98B2B"/>
<circle cx="81.7" cy="138.5" r="1.75" fill="#37B56B"/>
<circle cx="175.9" cy="113.2" r="1.75" fill="#B06AB8"/>
<circle cx="115.6" cy="43.9" r="1.75" fill="#F07470"/>
<circle cx="160.9" cy="98.1" r="1.75" fill="#2EBFA0"/>
<circle cx="122.6" cy="92" r="1.75" fill="#3A98DC"/>
<circle cx="64.2" cy="52.9" r="1.75" fill="#E864A8"/>
<circle cx="102.4" cy="80.2" r="1.75" fill="#E864A8"/>
<circle cx="68.4" cy="155.6" r="1.75" fill="#1CBEE0"/>
<circle cx="85.8" cy="81.5" r="1.75" fill="#62B84A"/>
<circle cx="48.6" cy="80.7" r="1.75" fill="#A39A2E"/>
<circle cx="147.3" cy="68.9" r="1.75" fill="#2EBFA0"/>
<circle cx="98.5" cy="106" r="1.75" fill="#3A98DC"/>
<circle cx="54.4" cy="77.8" r="1.75" fill="#A39A2E"/>
<circle cx="50.9" cy="103.2" r="1.75" fill="#A39A2E"/>
<circle cx="67.2" cy="130.9" r="1.75" fill="#1CBEE0"/>
<circle cx="113.3" cy="62.3" r="1.75" fill="#F07470"/>
<circle cx="172.5" cy="114.5" r="1.75" fill="#D98B2B"/>
<circle cx="149.3" cy="103.2" r="1.75" fill="#2EBFA0"/>
<circle cx="145.1" cy="115.5" r="1.75" fill="#D98B2B"/>
<circle cx="110.6" cy="49.1" r="1.75" fill="#F07470"/>
<circle cx="171.8" cy="119" r="1.75" fill="#D98B2B"/>
<circle cx="143.5" cy="99.8" r="1.75" fill="#3A98DC"/>
<circle cx="135.8" cy="91.2" r="1.75" fill="#2EBFA0"/>
<circle cx="106.1" cy="133.7" r="1.75" fill="#37B56B"/>
<circle cx="179.7" cy="120.5" r="1.75" fill="#B06AB8"/>
<circle cx="118.5" cy="55.6" r="1.75" fill="#F07470"/>
<circle cx="134.6" cy="50.7" r="1.75" fill="#F07470"/>
<circle cx="50.2" cy="87.6" r="1.75" fill="#A39A2E"/>
<circle cx="118.7" cy="141.4" r="1.75" fill="#37B56B"/>
<circle cx="71.7" cy="133.3" r="1.75" fill="#1CBEE0"/>
<circle cx="132.7" cy="72.6" r="1.75" fill="#2EBFA0"/>
<circle cx="78.3" cy="68.2" r="1.75" fill="#62B84A"/>
<circle cx="131.8" cy="37" r="1.75" fill="#F07470"/>
<circle cx="155.1" cy="122.7" r="1.75" fill="#D98B2B"/>
<circle cx="138.4" cy="42.5" r="1.75" fill="#F07470"/>
<circle cx="162.8" cy="105.2" r="1.75" fill="#D98B2B"/>
<circle cx="113" cy="139.3" r="1.75" fill="#37B56B"/>
<circle cx="54.3" cy="88.1" r="1.75" fill="#A39A2E"/>
<circle cx="124.2" cy="111" r="1.75" fill="#3A98DC"/>
<circle cx="143.5" cy="63.1" r="1.75" fill="#2EBFA0"/>
<circle cx="57" cy="81.9" r="1.75" fill="#A39A2E"/>
<circle cx="151.8" cy="104" r="1.75" fill="#8C80C8"/>
<circle cx="103.2" cy="89.3" r="1.75" fill="#3A98DC"/>
<circle cx="75.7" cy="105.3" r="1.75" fill="#37B56B"/>
<circle cx="118.3" cy="49.1" r="1.75" fill="#F07470"/>
<circle cx="97.2" cy="134.6" r="1.75" fill="#2EBFA0"/>
<circle cx="53.9" cy="143.1" r="1.75" fill="#1CBEE0"/>
<circle cx="68.2" cy="116.9" r="1.75" fill="#A39A2E"/>
<circle cx="70.5" cy="68.7" r="1.75" fill="#E864A8"/>
<circle cx="78.5" cy="55.9" r="1.75" fill="#62B84A"/>
<circle cx="80" cy="65.6" r="1.75" fill="#62B84A"/>
<circle cx="181.2" cy="123.8" r="1.75" fill="#B06AB8"/>
<circle cx="110.2" cy="53.3" r="1.75" fill="#F07470"/>
<circle cx="186.2" cy="120.3" r="1.75" fill="#B06AB8"/>
<circle cx="168.5" cy="117.1" r="1.75" fill="#D98B2B"/>
<circle cx="71.6" cy="155.8" r="1.75" fill="#1CBEE0"/>
<circle cx="128.7" cy="143.6" r="1.75" fill="#37B56B"/>
<circle cx="155.1" cy="104.5" r="1.75" fill="#8C80C8"/>
<circle cx="71" cy="121.6" r="1.75" fill="#A39A2E"/>
<circle cx="65.5" cy="53.2" r="1.75" fill="#E864A8"/>
<circle cx="148.3" cy="85.8" r="1.75" fill="#8C80C8"/>
<circle cx="137.2" cy="86.8" r="1.75" fill="#8C80C8"/>
<circle cx="168.4" cy="130" r="1.75" fill="#B06AB8"/>
<circle cx="106.1" cy="96.8" r="1.75" fill="#3A98DC"/>
<circle cx="143.7" cy="85.3" r="1.75" fill="#8C80C8"/>
<circle cx="133" cy="103.1" r="1.75" fill="#8C80C8"/>
<circle cx="49.6" cy="111.7" r="1.75" fill="#A39A2E"/>
<circle cx="143.4" cy="131.9" r="1.75" fill="#D98B2B"/>
<circle cx="62.9" cy="51.6" r="1.75" fill="#E864A8"/>
<circle cx="100.4" cy="132.8" r="1.75" fill="#37B56B"/>
<circle cx="102.8" cy="119.6" r="1.75" fill="#2EBFA0"/>
<circle cx="111.7" cy="51.2" r="1.75" fill="#F07470"/>
<circle cx="62.6" cy="104.1" r="1.75" fill="#A39A2E"/>
<circle cx="76.4" cy="94" r="1.75" fill="#62B84A"/>
<circle cx="149" cy="84.1" r="1.75" fill="#2EBFA0"/>
<circle cx="137.9" cy="41.6" r="1.75" fill="#F07470"/>
<circle cx="94.4" cy="116.5" r="1.75" fill="#37B56B"/>
<circle cx="162.2" cy="82.6" r="1.75" fill="#2EBFA0"/>
<circle cx="54.6" cy="129.2" r="1.75" fill="#1CBEE0"/>
<circle cx="139.5" cy="81.6" r="1.75" fill="#2EBFA0"/>
<circle cx="127" cy="128.1" r="1.75" fill="#B06AB8"/>
<circle cx="162" cy="118.7" r="1.75" fill="#D98B2B"/>
<circle cx="81" cy="153.2" r="1.75" fill="#1CBEE0"/>
<circle cx="120.3" cy="112.7" r="1.75" fill="#3A98DC"/>
<circle cx="98.9" cy="105.5" r="1.75" fill="#8C80C8"/>
<circle cx="136.5" cy="88.2" r="1.75" fill="#8C80C8"/>
<circle cx="78.5" cy="76.6" r="1.75" fill="#62B84A"/>
<circle cx="172.6" cy="114.6" r="1.75" fill="#B06AB8"/>
<circle cx="178.3" cy="126.3" r="1.75" fill="#B06AB8"/>
<circle cx="85.7" cy="109.1" r="1.75" fill="#37B56B"/>
<circle cx="66.5" cy="139.9" r="1.75" fill="#1CBEE0"/>
<circle cx="79.9" cy="70.9" r="1.75" fill="#3A98DC"/>
<circle cx="44.8" cy="103" r="1.75" fill="#A39A2E"/>
<circle cx="123" cy="70.8" r="1.75" fill="#F07470"/>
<circle cx="52" cy="89.9" r="1.75" fill="#A39A2E"/>
<circle cx="96.9" cy="88.7" r="1.75" fill="#3A98DC"/>
<circle cx="175.1" cy="103.7" r="1.75" fill="#2EBFA0"/>
<circle cx="99.3" cy="83.1" r="1.75" fill="#3A98DC"/>
<circle cx="101.7" cy="104" r="1.75" fill="#3A98DC"/>
<circle cx="87" cy="65.8" r="1.75" fill="#62B84A"/>
<circle cx="153.4" cy="84" r="1.75" fill="#2EBFA0"/>
<circle cx="155.2" cy="123" r="1.75" fill="#D98B2B"/>
<circle cx="62.5" cy="89.5" r="1.75" fill="#A39A2E"/>
<circle cx="178.4" cy="112.2" r="1.75" fill="#B06AB8"/>
<circle cx="145.3" cy="92.4" r="1.75" fill="#8C80C8"/>
<circle cx="147.6" cy="48.9" r="1.75" fill="#2EBFA0"/>
<circle cx="82.7" cy="155.9" r="1.75" fill="#1CBEE0"/>
<circle cx="85.9" cy="128.6" r="1.75" fill="#37B56B"/>
<circle cx="141.7" cy="85.3" r="1.75" fill="#2EBFA0"/>
<circle cx="75.9" cy="92.5" r="1.75" fill="#62B84A"/>
<circle cx="70.3" cy="102.9" r="1.75" fill="#37B56B"/>
<circle cx="138.9" cy="91.5" r="1.75" fill="#8C80C8"/>
<circle cx="145" cy="136.3" r="1.75" fill="#D98B2B"/>
<circle cx="137.1" cy="44.5" r="1.75" fill="#F07470"/>
<circle cx="149.4" cy="78.8" r="1.75" fill="#2EBFA0"/>
<circle cx="135.8" cy="94" r="1.75" fill="#8C80C8"/>
<circle cx="117.2" cy="86.8" r="1.75" fill="#3A98DC"/>
<circle cx="46.1" cy="103.4" r="1.75" fill="#A39A2E"/>
<circle cx="120.4" cy="75.9" r="1.75" fill="#F07470"/>
<circle cx="43.3" cy="93.8" r="1.75" fill="#A39A2E"/>
<circle cx="63.4" cy="59.1" r="1.75" fill="#E864A8"/>
<circle cx="57.1" cy="63" r="1.75" fill="#E864A8"/>
<circle cx="59.8" cy="91.9" r="1.75" fill="#A39A2E"/>
<circle cx="160.5" cy="108.5" r="1.75" fill="#D98B2B"/>
<circle cx="146.3" cy="32.8" r="1.75" fill="#F07470"/>
<circle cx="82.9" cy="71.4" r="1.75" fill="#62B84A"/>
<circle cx="90.3" cy="66.1" r="1.75" fill="#62B84A"/>
<circle cx="126.4" cy="79.3" r="1.75" fill="#2EBFA0"/>
<circle cx="110.2" cy="131.6" r="1.75" fill="#62B84A"/>
<circle cx="70.3" cy="131.6" r="1.75" fill="#1CBEE0"/>
<circle cx="78.6" cy="157.4" r="1.75" fill="#1CBEE0"/>
<circle cx="105.5" cy="74.1" r="1.75" fill="#62B84A"/>
<circle cx="87.6" cy="70.6" r="1.75" fill="#62B84A"/>
<circle cx="58.8" cy="137.9" r="1.75" fill="#37B56B"/>
<circle cx="166.4" cy="130.5" r="1.75" fill="#D98B2B"/>
<circle cx="132.3" cy="56.9" r="1.75" fill="#F07470"/>
<circle cx="145.8" cy="130.5" r="1.75" fill="#D98B2B"/>
<circle cx="154.3" cy="86.5" r="1.75" fill="#2EBFA0"/>
<circle cx="152.2" cy="46.5" r="1.75" fill="#2EBFA0"/>
<circle cx="123" cy="124.9" r="1.75" fill="#8C80C8"/>
<circle cx="124.3" cy="70.5" r="1.75" fill="#F07470"/>
<circle cx="152.4" cy="141" r="1.75" fill="#D98B2B"/>
<circle cx="84.7" cy="86.8" r="1.75" fill="#62B84A"/>
<circle cx="107.8" cy="84.3" r="1.75" fill="#3A98DC"/>
<circle cx="171.1" cy="129.4" r="1.75" fill="#D98B2B"/>
<circle cx="73.8" cy="157.5" r="1.75" fill="#1CBEE0"/>
<circle cx="66.8" cy="133.3" r="1.75" fill="#1CBEE0"/>
<circle cx="60.9" cy="126.3" r="1.75" fill="#1CBEE0"/>
<circle cx="70.6" cy="55.1" r="1.75" fill="#E864A8"/>
<circle cx="139.7" cy="137.2" r="1.75" fill="#2EBFA0"/>
<circle cx="164.5" cy="129.4" r="1.75" fill="#D98B2B"/>
<circle cx="66.7" cy="125.5" r="1.75" fill="#1CBEE0"/>
<circle cx="138.3" cy="98.8" r="1.75" fill="#3A98DC"/>
<circle cx="131.6" cy="44.7" r="1.75" fill="#F07470"/>
<circle cx="111.1" cy="95.4" r="1.75" fill="#3A98DC"/>
<circle cx="52.4" cy="109.5" r="1.75" fill="#A39A2E"/>
<circle cx="144.3" cy="128.4" r="1.75" fill="#2EBFA0"/>
<circle cx="95.9" cy="69.2" r="1.75" fill="#37B56B"/>
<circle cx="62.6" cy="97.1" r="1.75" fill="#A39A2E"/>
<circle cx="84.7" cy="63.5" r="1.75" fill="#62B84A"/>
<circle cx="56.6" cy="158" r="1.75" fill="#1CBEE0"/>
<circle cx="149.9" cy="104.7" r="1.75" fill="#D98B2B"/>
<circle cx="53.1" cy="84.7" r="1.75" fill="#A39A2E"/>
<circle cx="102" cy="68.1" r="1.75" fill="#62B84A"/>
<circle cx="152.8" cy="75" r="1.75" fill="#2EBFA0"/>
<circle cx="79.8" cy="112.7" r="1.75" fill="#37B56B"/>
<circle cx="101.2" cy="124.6" r="1.75" fill="#37B56B"/>
<circle cx="60" cy="117.7" r="1.75" fill="#A39A2E"/>
<circle cx="109.8" cy="100.8" r="1.75" fill="#8C80C8"/>
<circle cx="61.3" cy="156.1" r="1.75" fill="#1CBEE0"/>
<circle cx="146.2" cy="121.6" r="1.75" fill="#D98B2B"/>
<circle cx="157.7" cy="102.8" r="1.75" fill="#8C80C8"/>
<circle cx="106.6" cy="126.7" r="1.75" fill="#37B56B"/>
<circle cx="80.5" cy="112.3" r="1.75" fill="#37B56B"/>
<circle cx="117.1" cy="140.6" r="1.75" fill="#37B56B"/>
<circle cx="84" cy="108" r="1.75" fill="#37B56B"/>
<circle cx="158.9" cy="94.2" r="1.75" fill="#8C80C8"/>
<circle cx="76" cy="91.7" r="1.75" fill="#62B84A"/>
<circle cx="74.9" cy="110.1" r="1.75" fill="#37B56B"/>
<circle cx="152.3" cy="129.2" r="1.75" fill="#D98B2B"/>
<circle cx="80.1" cy="65" r="1.75" fill="#62B84A"/>
<circle cx="138" cy="84.4" r="1.75" fill="#2EBFA0"/>
<circle cx="133.6" cy="86.8" r="1.75" fill="#8C80C8"/>
<circle cx="151.5" cy="129.9" r="1.75" fill="#D98B2B"/>
<circle cx="126.7" cy="94.4" r="1.75" fill="#8C80C8"/>
<circle cx="108.8" cy="124" r="1.75" fill="#37B56B"/>
<circle cx="116.3" cy="146.6" r="1.75" fill="#37B56B"/>
<circle cx="145" cy="86.9" r="1.75" fill="#2EBFA0"/>
<circle cx="132.4" cy="109.3" r="1.75" fill="#3A98DC"/>
<circle cx="121" cy="115.9" r="1.75" fill="#37B56B"/>
<circle cx="61.2" cy="119.8" r="1.75" fill="#A39A2E"/>
<circle cx="121.3" cy="133.6" r="1.75" fill="#37B56B"/>
<circle cx="145.7" cy="129.2" r="1.75" fill="#D98B2B"/>
<circle cx="124.7" cy="122.1" r="1.75" fill="#2EBFA0"/>
<circle cx="59.9" cy="121.4" r="1.75" fill="#A39A2E"/>
<circle cx="183.3" cy="130.9" r="1.75" fill="#B06AB8"/>
<circle cx="181.6" cy="113.1" r="1.75" fill="#B06AB8"/>
<circle cx="166.6" cy="109.4" r="1.75" fill="#D98B2B"/>
<circle cx="71.2" cy="69.2" r="1.75" fill="#E864A8"/>
<circle cx="147.8" cy="37.5" r="1.75" fill="#F07470"/>
<circle cx="44.1" cy="108.4" r="1.75" fill="#A39A2E"/>
<circle cx="63.4" cy="125.3" r="1.75" fill="#A39A2E"/>
<circle cx="135.8" cy="49.4" r="1.75" fill="#F07470"/>
<circle cx="79.3" cy="149.2" r="1.75" fill="#3A98DC"/>
<circle cx="81.7" cy="82.8" r="1.75" fill="#62B84A"/>
<circle cx="98.7" cy="108.8" r="1.75" fill="#8C80C8"/>
<circle cx="161.4" cy="131.3" r="1.75" fill="#D98B2B"/>
<circle cx="151" cy="124.7" r="1.75" fill="#B06AB8"/>
<circle cx="141.8" cy="134.2" r="1.75" fill="#D98B2B"/>
<circle cx="142.4" cy="88.2" r="1.75" fill="#2EBFA0"/>
<circle cx="117.6" cy="88.5" r="1.75" fill="#3A98DC"/>
<circle cx="111.2" cy="67.2" r="1.75" fill="#F07470"/>
<circle cx="115" cy="105.9" r="1.75" fill="#3A98DC"/>
<circle cx="125.1" cy="41.3" r="1.75" fill="#F07470"/>
<circle cx="101.2" cy="117" r="1.75" fill="#2EBFA0"/>
<circle cx="58.4" cy="89.7" r="1.75" fill="#A39A2E"/>
<circle cx="66.8" cy="50.4" r="1.75" fill="#E864A8"/>
<circle cx="173.7" cy="131.7" r="1.75" fill="#D98B2B"/>
<circle cx="62.4" cy="112.2" r="1.75" fill="#A39A2E"/>
<circle cx="144" cy="129.8" r="1.75" fill="#D98B2B"/>
<circle cx="56.2" cy="133.2" r="1.75" fill="#1CBEE0"/>
<circle cx="135.8" cy="131.2" r="1.75" fill="#B06AB8"/>
<circle cx="117.4" cy="133.6" r="1.75" fill="#37B56B"/>
<circle cx="89.6" cy="117.2" r="1.75" fill="#37B56B"/>
<circle cx="154.3" cy="91.8" r="1.75" fill="#8C80C8"/>
<circle cx="134.1" cy="53.5" r="1.75" fill="#F07470"/>
<circle cx="62.2" cy="57" r="1.75" fill="#E864A8"/>
<circle cx="67.9" cy="107.4" r="1.75" fill="#A39A2E"/>
<circle cx="129.1" cy="95.1" r="1.75" fill="#B06AB8"/>
<circle cx="161.9" cy="73.7" r="1.75" fill="#2EBFA0"/>
<circle cx="140.9" cy="109.8" r="1.75" fill="#8C80C8"/>
<circle cx="147.2" cy="41.4" r="1.75" fill="#F07470"/>
<circle cx="181.1" cy="122.7" r="1.75" fill="#B06AB8"/>
<circle cx="176" cy="117.3" r="1.75" fill="#D98B2B"/>
<circle cx="177.3" cy="102.9" r="1.75" fill="#2EBFA0"/>
<circle cx="143.1" cy="46.7" r="1.75" fill="#F07470"/>
<circle cx="101.3" cy="84.2" r="1.75" fill="#3A98DC"/>
<circle cx="124.5" cy="129.7" r="1.75" fill="#37B56B"/>
<circle cx="141.7" cy="124.9" r="1.75" fill="#2EBFA0"/>
<circle cx="122.1" cy="109.9" r="1.75" fill="#3A98DC"/>
<circle cx="96.1" cy="125.3" r="1.75" fill="#37B56B"/>
<circle cx="72.2" cy="54.6" r="1.75" fill="#E864A8"/>
<circle cx="161.2" cy="134.1" r="1.75" fill="#D98B2B"/>
<circle cx="170.9" cy="92.5" r="1.75" fill="#2EBFA0"/>
<circle cx="59.7" cy="84.6" r="1.75" fill="#A39A2E"/>
<circle cx="144" cy="47.9" r="1.75" fill="#F07470"/>
<circle cx="178.3" cy="121.4" r="1.75" fill="#B06AB8"/>
<circle cx="128.8" cy="137.3" r="1.75" fill="#37B56B"/>
<circle cx="141.7" cy="130.4" r="1.75" fill="#D98B2B"/>
<circle cx="57.1" cy="151.9" r="1.75" fill="#1CBEE0"/>
<circle cx="156.5" cy="102.7" r="1.75" fill="#8C80C8"/>
<circle cx="129.4" cy="123.4" r="1.75" fill="#B06AB8"/>
<circle cx="62.2" cy="142.7" r="1.75" fill="#1CBEE0"/>
<circle cx="99.6" cy="99.7" r="1.75" fill="#3A98DC"/>
<circle cx="154.8" cy="116.5" r="1.75" fill="#D98B2B"/>
<circle cx="123.6" cy="67.2" r="1.75" fill="#F07470"/>
<circle cx="83.6" cy="154.2" r="1.75" fill="#1CBEE0"/>
<circle cx="53.3" cy="139.6" r="1.75" fill="#1CBEE0"/>
<circle cx="95.4" cy="131.1" r="1.75" fill="#37B56B"/>
<circle cx="51.9" cy="93.6" r="1.75" fill="#A39A2E"/>
<circle cx="54.8" cy="156.4" r="1.75" fill="#1CBEE0"/>
<circle cx="141.3" cy="30.4" r="1.75" fill="#F07470"/>
<circle cx="160.7" cy="79.5" r="1.75" fill="#2EBFA0"/>
<circle cx="106.8" cy="85" r="1.75" fill="#3A98DC"/>
<circle cx="143.7" cy="114.8" r="1.75" fill="#D98B2B"/>
<circle cx="62.1" cy="97.1" r="1.75" fill="#A39A2E"/>
<circle cx="44" cy="103.9" r="1.75" fill="#A39A2E"/>
<circle cx="70" cy="132.6" r="1.75" fill="#1CBEE0"/>
<circle cx="146.1" cy="118.4" r="1.75" fill="#B06AB8"/>
<circle cx="137.4" cy="48.1" r="1.75" fill="#F07470"/>
<circle cx="92.3" cy="70.2" r="1.75" fill="#62B84A"/>
<circle cx="106.5" cy="81.8" r="1.75" fill="#3A98DC"/>
<circle cx="151.9" cy="90.8" r="1.75" fill="#8C80C8"/>
<circle cx="148" cy="88.4" r="1.75" fill="#2EBFA0"/>
<circle cx="98.9" cy="67.1" r="1.75" fill="#3A98DC"/>
<circle cx="143.7" cy="97.1" r="1.75" fill="#8C80C8"/>
<circle cx="111.2" cy="84.7" r="1.75" fill="#3A98DC"/>
<circle cx="79.9" cy="154.9" r="1.75" fill="#1CBEE0"/>
<circle cx="181.1" cy="119.4" r="1.75" fill="#B06AB8"/>
<circle cx="53.9" cy="138.4" r="1.75" fill="#1CBEE0"/>
<circle cx="103.4" cy="60.8" r="1.75" fill="#F07470"/>
<circle cx="106.4" cy="55.3" r="1.75" fill="#F07470"/>
<circle cx="103.3" cy="59" r="1.75" fill="#F07470"/>
<circle cx="120.1" cy="123.5" r="1.75" fill="#B06AB8"/>
<circle cx="69.4" cy="140.2" r="1.75" fill="#1CBEE0"/>
<circle cx="159.8" cy="92.7" r="1.75" fill="#2EBFA0"/>
<circle cx="127.9" cy="130.5" r="1.75" fill="#8C80C8"/>
<circle cx="66.7" cy="53.6" r="1.75" fill="#E864A8"/>
<circle cx="118.9" cy="83.8" r="1.75" fill="#3A98DC"/>
<circle cx="140.3" cy="130.3" r="1.75" fill="#D98B2B"/>
<circle cx="52.8" cy="94.6" r="1.75" fill="#A39A2E"/>
<circle cx="99.1" cy="101.5" r="1.75" fill="#3A98DC"/>
<circle cx="103.4" cy="57.7" r="1.75" fill="#F07470"/>
<circle cx="151" cy="55.6" r="1.75" fill="#8C80C8"/>
<circle cx="70.1" cy="147.7" r="1.75" fill="#1CBEE0"/>
<circle cx="70.4" cy="54.5" r="1.75" fill="#E864A8"/>
<circle cx="156.3" cy="92.6" r="1.75" fill="#2EBFA0"/>
<circle cx="146.2" cy="46.3" r="1.75" fill="#F07470"/>
<circle cx="58.5" cy="57.5" r="1.75" fill="#E864A8"/>
<circle cx="52.1" cy="102.7" r="1.75" fill="#A39A2E"/>
<circle cx="146.7" cy="128.5" r="1.75" fill="#D98B2B"/>
<circle cx="128.9" cy="60.7" r="1.75" fill="#F07470"/>
<circle cx="167.7" cy="132.8" r="1.75" fill="#D98B2B"/>
<circle cx="157.2" cy="78" r="1.75" fill="#2EBFA0"/>
<circle cx="98.3" cy="80.9" r="1.75" fill="#62B84A"/>
<circle cx="160.3" cy="94.9" r="1.75" fill="#3A98DC"/>
<circle cx="47.7" cy="87" r="1.75" fill="#A39A2E"/>
<circle cx="156.4" cy="105.2" r="1.75" fill="#D98B2B"/>
<circle cx="113.5" cy="69.9" r="1.75" fill="#F07470"/>
<circle cx="76.5" cy="64.8" r="1.75" fill="#62B84A"/>
<circle cx="149.1" cy="86.7" r="1.75" fill="#2EBFA0"/>
<circle cx="69.7" cy="80.2" r="1.75" fill="#62B84A"/>
<circle cx="127.5" cy="111.1" r="1.75" fill="#62B84A"/>
<circle cx="148.4" cy="33.4" r="1.75" fill="#F07470"/>
<circle cx="69.1" cy="66.3" r="1.75" fill="#E864A8"/>
<circle cx="82.2" cy="152" r="1.75" fill="#1CBEE0"/>
<circle cx="156.1" cy="119.5" r="1.75" fill="#D98B2B"/>
<circle cx="116.1" cy="110.8" r="1.75" fill="#3A98DC"/>
<circle cx="85.7" cy="91.9" r="1.75" fill="#62B84A"/>
<circle cx="70" cy="105.3" r="1.75" fill="#37B56B"/>
<circle cx="106.7" cy="79.5" r="1.75" fill="#3A98DC"/>
<circle cx="69.3" cy="141.4" r="1.75" fill="#1CBEE0"/>
<circle cx="124.6" cy="34.5" r="1.75" fill="#F07470"/>
<circle cx="161.8" cy="111.2" r="1.75" fill="#D98B2B"/>
<circle cx="107.7" cy="105.8" r="1.75" fill="#8C80C8"/>
<circle cx="94.3" cy="116.3" r="1.75" fill="#37B56B"/>
<circle cx="142.3" cy="80.9" r="1.75" fill="#2EBFA0"/>
<circle cx="126.6" cy="45.7" r="1.75" fill="#F07470"/>
<circle cx="70.8" cy="120.8" r="1.75" fill="#A39A2E"/>
<circle cx="96.5" cy="111.7" r="1.75" fill="#37B56B"/>
<circle cx="102.3" cy="61.2" r="1.75" fill="#F07470"/>
<circle cx="144" cy="84.4" r="1.75" fill="#8C80C8"/>
<circle cx="150.3" cy="94.1" r="1.75" fill="#2EBFA0"/>
<circle cx="84.4" cy="75.6" r="1.75" fill="#62B84A"/>
<circle cx="130.2" cy="103" r="1.75" fill="#8C80C8"/>
<circle cx="125.7" cy="148.4" r="1.75" fill="#37B56B"/>
<circle cx="103.6" cy="142.8" r="1.75" fill="#37B56B"/>
<circle cx="170.7" cy="132.1" r="1.75" fill="#D98B2B"/>
<circle cx="144.9" cy="73.6" r="1.75" fill="#8C80C8"/>
<circle cx="68.3" cy="160.8" r="1.75" fill="#1CBEE0"/>
<circle cx="49.5" cy="99.2" r="1.75" fill="#A39A2E"/>
<circle cx="74.5" cy="158.1" r="1.75" fill="#1CBEE0"/>
<circle cx="124.7" cy="61.9" r="1.75" fill="#F07470"/>
<circle cx="129.1" cy="63" r="1.75" fill="#F07470"/>
<circle cx="147.7" cy="37.7" r="1.75" fill="#F07470"/>
<circle cx="115.6" cy="65.3" r="1.75" fill="#F07470"/>
<circle cx="156.7" cy="106.1" r="1.75" fill="#D98B2B"/>
<circle cx="86.4" cy="78.7" r="1.75" fill="#62B84A"/>
<circle cx="137.7" cy="48.3" r="1.75" fill="#F07470"/>
<circle cx="61.2" cy="153.2" r="1.75" fill="#1CBEE0"/>
<circle cx="184.6" cy="123.5" r="1.75" fill="#B06AB8"/>
<circle cx="66.5" cy="74.4" r="1.75" fill="#E864A8"/>
<circle cx="154.7" cy="134.1" r="1.75" fill="#B06AB8"/>
<circle cx="164.6" cy="136.4" r="1.75" fill="#D98B2B"/>
<circle cx="159.6" cy="92.6" r="1.75" fill="#8C80C8"/>
<circle cx="127.9" cy="121.7" r="1.75" fill="#B06AB8"/>
<circle cx="179.2" cy="121.2" r="1.75" fill="#B06AB8"/>
<circle cx="77.1" cy="65.6" r="1.75" fill="#37B56B"/>
<circle cx="84.2" cy="56.7" r="1.75" fill="#62B84A"/>
<circle cx="107.4" cy="80.4" r="1.75" fill="#3A98DC"/>
<circle cx="56.9" cy="121" r="1.75" fill="#A39A2E"/>
<circle cx="102.5" cy="133.4" r="1.75" fill="#37B56B"/>
<circle cx="105.3" cy="114.8" r="1.75" fill="#3A98DC"/>
<circle cx="128.8" cy="33" r="1.75" fill="#F07470"/>
<circle cx="115.7" cy="122.6" r="1.75" fill="#8C80C8"/>
<circle cx="101.5" cy="58.3" r="1.75" fill="#F07470"/>
<circle cx="142.4" cy="87.9" r="1.75" fill="#8C80C8"/>
<circle cx="128.7" cy="96.3" r="1.75" fill="#8C80C8"/>
<circle cx="153.2" cy="105.8" r="1.75" fill="#8C80C8"/>
<circle cx="75.7" cy="52.5" r="1.75" fill="#E864A8"/>
<circle cx="141" cy="132.4" r="1.75" fill="#B06AB8"/>
<circle cx="150.4" cy="84.4" r="1.75" fill="#2EBFA0"/>
<circle cx="99.4" cy="79" r="1.75" fill="#37B56B"/>
<circle cx="136.6" cy="102.2" r="1.75" fill="#8C80C8"/>
<circle cx="41.3" cy="94.9" r="1.75" fill="#A39A2E"/>
<circle cx="147.4" cy="83.6" r="1.75" fill="#8C80C8"/>
<circle cx="56.9" cy="90.1" r="1.75" fill="#A39A2E"/>
<circle cx="105.5" cy="136.9" r="1.75" fill="#37B56B"/>
<circle cx="150.8" cy="104.6" r="1.75" fill="#D98B2B"/>
<circle cx="95.8" cy="82.4" r="1.75" fill="#3A98DC"/>
<circle cx="152.3" cy="81.7" r="1.75" fill="#2EBFA0"/>
<circle cx="144.8" cy="110.4" r="1.75" fill="#8C80C8"/>
<circle cx="94.9" cy="124.1" r="1.75" fill="#37B56B"/>
<circle cx="138.2" cy="94.9" r="1.75" fill="#3A98DC"/>
<circle cx="61.1" cy="122.3" r="1.75" fill="#A39A2E"/>
<circle cx="102.2" cy="69.2" r="1.75" fill="#62B84A"/>
<circle cx="101.8" cy="95.7" r="1.75" fill="#3A98DC"/>
<circle cx="42.3" cy="100.5" r="1.75" fill="#A39A2E"/>
<circle cx="170.9" cy="134.3" r="1.75" fill="#D98B2B"/>
<circle cx="90.4" cy="110" r="1.75" fill="#37B56B"/>
<circle cx="69.2" cy="71.5" r="1.75" fill="#E864A8"/>
<circle cx="122.8" cy="131" r="1.75" fill="#37B56B"/>
<circle cx="144.3" cy="73.6" r="1.75" fill="#2EBFA0"/>
<circle cx="92.1" cy="59.1" r="1.75" fill="#62B84A"/>
<circle cx="146.4" cy="107.2" r="1.75" fill="#D98B2B"/>
<circle cx="65.7" cy="122.2" r="1.75" fill="#A39A2E"/>
<circle cx="144.1" cy="117" r="1.75" fill="#D98B2B"/>
<circle cx="121.3" cy="66.2" r="1.75" fill="#F07470"/>
<circle cx="137" cy="106.1" r="1.75" fill="#3A98DC"/>
<circle cx="117" cy="93.2" r="1.75" fill="#3A98DC"/>
<circle cx="108.5" cy="138.3" r="1.75" fill="#37B56B"/>
<circle cx="144.1" cy="119.1" r="1.75" fill="#D98B2B"/>
<circle cx="158.9" cy="100.2" r="1.75" fill="#D98B2B"/>
<circle cx="173.7" cy="120.7" r="1.75" fill="#D98B2B"/>
<circle cx="69" cy="54.9" r="1.75" fill="#E864A8"/>
<circle cx="109.4" cy="60" r="1.75" fill="#F07470"/>
<circle cx="62.5" cy="61.2" r="1.75" fill="#E864A8"/>
<circle cx="47.4" cy="106.6" r="1.75" fill="#A39A2E"/>
<circle cx="129" cy="32.2" r="1.75" fill="#F07470"/>
<circle cx="165" cy="75.9" r="1.75" fill="#2EBFA0"/>
<circle cx="135.3" cy="88.1" r="1.75" fill="#3A98DC"/>
<circle cx="117.4" cy="66.8" r="1.75" fill="#F07470"/>
<circle cx="107.4" cy="99.7" r="1.75" fill="#B06AB8"/>
<circle cx="58.5" cy="89.1" r="1.75" fill="#A39A2E"/>
<circle cx="109.8" cy="148.4" r="1.75" fill="#37B56B"/>
<circle cx="109.6" cy="141" r="1.75" fill="#37B56B"/>
<circle cx="145.6" cy="114.6" r="1.75" fill="#D98B2B"/>
<circle cx="146.6" cy="79.4" r="1.75" fill="#8C80C8"/>
<circle cx="144.2" cy="115.6" r="1.75" fill="#D98B2B"/>
<circle cx="102.2" cy="89.4" r="1.75" fill="#3A98DC"/>
<circle cx="82.8" cy="89.6" r="1.75" fill="#62B84A"/>
<circle cx="137.5" cy="79.8" r="1.75" fill="#2EBFA0"/>
<circle cx="55.5" cy="122.1" r="1.75" fill="#A39A2E"/>
<circle cx="78.7" cy="82.1" r="1.75" fill="#3A98DC"/>
<circle cx="62" cy="120.1" r="1.75" fill="#A39A2E"/>
<circle cx="116.8" cy="141.7" r="1.75" fill="#37B56B"/>
<circle cx="161.8" cy="135.7" r="1.75" fill="#D98B2B"/>
<circle cx="172.1" cy="103.7" r="1.75" fill="#2EBFA0"/>
<circle cx="107.5" cy="93.8" r="1.75" fill="#3A98DC"/>
<circle cx="136.9" cy="33" r="1.75" fill="#F07470"/>
<circle cx="54.8" cy="116.8" r="1.75" fill="#A39A2E"/>
<circle cx="119.6" cy="142.1" r="1.75" fill="#37B56B"/>
<circle cx="175.3" cy="109.9" r="1.75" fill="#D98B2B"/>
<circle cx="57.6" cy="107.8" r="1.75" fill="#A39A2E"/>
<circle cx="117.4" cy="68.3" r="1.75" fill="#F07470"/>
<circle cx="147" cy="36.1" r="1.75" fill="#F07470"/>
<circle cx="155" cy="98.8" r="1.75" fill="#8C80C8"/>
<circle cx="159.4" cy="129.3" r="1.75" fill="#D98B2B"/>
<circle cx="129.1" cy="118.1" r="1.75" fill="#B06AB8"/>
<circle cx="161.8" cy="116.1" r="1.75" fill="#D98B2B"/>
<circle cx="55" cy="109" r="1.75" fill="#A39A2E"/>
<circle cx="144" cy="93.3" r="1.75" fill="#8C80C8"/>
<circle cx="145.8" cy="56.2" r="1.75" fill="#2EBFA0"/>
<circle cx="62.8" cy="126.6" r="1.75" fill="#A39A2E"/>
<circle cx="157.8" cy="100.7" r="1.75" fill="#D98B2B"/>
<circle cx="144.8" cy="87" r="1.75" fill="#8C80C8"/>
<circle cx="123.3" cy="80.8" r="1.75" fill="#3A98DC"/>
<circle cx="128.1" cy="122.2" r="1.75" fill="#8C80C8"/>
<circle cx="149.3" cy="87.6" r="1.75" fill="#3A98DC"/>
<circle cx="163.7" cy="90.5" r="1.75" fill="#2EBFA0"/>
<circle cx="172.8" cy="104.2" r="1.75" fill="#2EBFA0"/>
<circle cx="59.2" cy="75.9" r="1.75" fill="#62B84A"/>
<circle cx="180.6" cy="122.8" r="1.75" fill="#B06AB8"/>
<circle cx="50.6" cy="100.7" r="1.75" fill="#A39A2E"/>
<circle cx="140.4" cy="89.1" r="1.75" fill="#3A98DC"/>
<circle cx="60.6" cy="144.4" r="1.75" fill="#1CBEE0"/>
<circle cx="128.1" cy="97.9" r="1.75" fill="#8C80C8"/>
<circle cx="64.5" cy="154.3" r="1.75" fill="#1CBEE0"/>
<circle cx="69.7" cy="73.3" r="1.75" fill="#E864A8"/>
<circle cx="165.3" cy="96.2" r="1.75" fill="#2EBFA0"/>
<circle cx="167.7" cy="121" r="1.75" fill="#D98B2B"/>
<circle cx="155.3" cy="106.4" r="1.75" fill="#B06AB8"/>
<circle cx="168.6" cy="133.3" r="1.75" fill="#B06AB8"/>
<circle cx="160.6" cy="97.1" r="1.75" fill="#2EBFA0"/>
<circle cx="106.4" cy="82.3" r="1.75" fill="#3A98DC"/>
<circle cx="96.9" cy="126.8" r="1.75" fill="#37B56B"/>
<circle cx="114.5" cy="61.7" r="1.75" fill="#F07470"/>
<circle cx="62.3" cy="80.1" r="1.75" fill="#62B84A"/>
<circle cx="104.9" cy="57.3" r="1.75" fill="#F07470"/>
<circle cx="124.9" cy="87.7" r="1.75" fill="#8C80C8"/>
<circle cx="58.6" cy="105.7" r="1.75" fill="#A39A2E"/>
<circle cx="98.3" cy="131.5" r="1.75" fill="#37B56B"/>
<circle cx="112" cy="122" r="1.75" fill="#37B56B"/>
<circle cx="52.2" cy="151.8" r="1.75" fill="#1CBEE0"/>
<circle cx="149.8" cy="84.7" r="1.75" fill="#2EBFA0"/>
<circle cx="163.8" cy="127.9" r="1.75" fill="#D98B2B"/>
<circle cx="87" cy="64.1" r="1.75" fill="#E864A8"/>
<circle cx="134.1" cy="106.8" r="1.75" fill="#3A98DC"/>
<circle cx="125.5" cy="83.9" r="1.75" fill="#3A98DC"/>
<circle cx="62.2" cy="110.8" r="1.75" fill="#A39A2E"/>
<circle cx="108.5" cy="56.9" r="1.75" fill="#F07470"/>
<circle cx="84.5" cy="65.5" r="1.75" fill="#62B84A"/>
<circle cx="116" cy="61.9" r="1.75" fill="#F07470"/>
<circle cx="71.3" cy="131.2" r="1.75" fill="#1CBEE0"/>
<circle cx="62.3" cy="156.2" r="1.75" fill="#1CBEE0"/>
<circle cx="67.3" cy="144.2" r="1.75" fill="#1CBEE0"/>
<circle cx="129.7" cy="53.9" r="1.75" fill="#F07470"/>
<circle cx="109.3" cy="94.1" r="1.75" fill="#62B84A"/>
<circle cx="143.4" cy="75" r="1.75" fill="#2EBFA0"/>
<circle cx="178.1" cy="127.4" r="1.75" fill="#B06AB8"/>
<circle cx="138.1" cy="79.9" r="1.75" fill="#2EBFA0"/>
<circle cx="64.2" cy="81" r="1.75" fill="#A39A2E"/>
<circle cx="118.2" cy="54.8" r="1.75" fill="#F07470"/>
<circle cx="151.1" cy="118.1" r="1.75" fill="#B06AB8"/>
<circle cx="87.1" cy="76.9" r="1.75" fill="#62B84A"/>
<circle cx="153.9" cy="83.6" r="1.75" fill="#2EBFA0"/>
<circle cx="125.9" cy="85" r="1.75" fill="#3A98DC"/>
<circle cx="128.6" cy="117.3" r="1.75" fill="#B06AB8"/>
<circle cx="102.6" cy="136.2" r="1.75" fill="#62B84A"/>
<circle cx="99.2" cy="132.5" r="1.75" fill="#37B56B"/>
<circle cx="124.6" cy="87.7" r="1.75" fill="#3A98DC"/>
<circle cx="45.5" cy="93.1" r="1.75" fill="#A39A2E"/>
<circle cx="131" cy="69.8" r="1.75" fill="#8C80C8"/>
<circle cx="134.1" cy="97.9" r="1.75" fill="#8C80C8"/>
<circle cx="158.2" cy="113.5" r="1.75" fill="#D98B2B"/>
<circle cx="135.2" cy="64.9" r="1.75" fill="#2EBFA0"/>
<circle cx="69.9" cy="62.1" r="1.75" fill="#E864A8"/>
<circle cx="69.7" cy="154.7" r="1.75" fill="#1CBEE0"/>
<circle cx="104.4" cy="52.3" r="1.75" fill="#F07470"/>
<circle cx="161" cy="73.2" r="1.75" fill="#2EBFA0"/>
<circle cx="111.5" cy="131.2" r="1.75" fill="#37B56B"/>
<circle cx="64.8" cy="95.4" r="1.75" fill="#A39A2E"/>
<circle cx="57.5" cy="151.6" r="1.75" fill="#1CBEE0"/>
<circle cx="72.5" cy="133" r="1.75" fill="#1CBEE0"/>
<circle cx="148.6" cy="47.6" r="1.75" fill="#2EBFA0"/>
<circle cx="122.5" cy="88.4" r="1.75" fill="#3A98DC"/>
<circle cx="54.8" cy="89.9" r="1.75" fill="#A39A2E"/>
<circle cx="83.8" cy="64.7" r="1.75" fill="#62B84A"/>
<circle cx="118.2" cy="108.5" r="1.75" fill="#8C80C8"/>
<circle cx="58.7" cy="154.6" r="1.75" fill="#1CBEE0"/>
<circle cx="134" cy="78.4" r="1.75" fill="#2EBFA0"/>
<circle cx="67.8" cy="134.7" r="1.75" fill="#1CBEE0"/>
<circle cx="75.8" cy="121.6" r="1.75" fill="#37B56B"/>
<circle cx="43.7" cy="95.7" r="1.75" fill="#A39A2E"/>
<circle cx="132.1" cy="72" r="1.75" fill="#2EBFA0"/>
<circle cx="148.2" cy="139.1" r="1.75" fill="#B06AB8"/>
<circle cx="69.5" cy="56.5" r="1.75" fill="#E864A8"/>
<circle cx="123.2" cy="79.5" r="1.75" fill="#3A98DC"/>
<circle cx="57.5" cy="73.1" r="1.75" fill="#37B56B"/>
<circle cx="106.5" cy="63.2" r="1.75" fill="#F07470"/>
<circle cx="142.6" cy="46.2" r="1.75" fill="#F07470"/>
<circle cx="130.2" cy="86.3" r="1.75" fill="#3A98DC"/>
<circle cx="78.7" cy="60.6" r="1.75" fill="#62B84A"/>
<circle cx="83.1" cy="108.7" r="1.75" fill="#37B56B"/>
<circle cx="104.8" cy="130.5" r="1.75" fill="#37B56B"/>
<circle cx="60.8" cy="98" r="1.75" fill="#A39A2E"/>
<circle cx="59.8" cy="77.9" r="1.75" fill="#62B84A"/>
<circle cx="128.5" cy="59.6" r="1.75" fill="#F07470"/>
<circle cx="158.5" cy="132.2" r="1.75" fill="#D98B2B"/>
<circle cx="126.7" cy="96" r="1.75" fill="#8C80C8"/>
<circle cx="64.9" cy="57.7" r="1.75" fill="#E864A8"/>
<circle cx="96.3" cy="126.6" r="1.75" fill="#37B56B"/>
<circle cx="104.7" cy="108.5" r="1.75" fill="#3A98DC"/>
<circle cx="79.7" cy="82" r="1.75" fill="#3A98DC"/>
<circle cx="103.2" cy="55.7" r="1.75" fill="#F07470"/>
<circle cx="106.3" cy="53.2" r="1.75" fill="#F07470"/>
<circle cx="110.4" cy="82" r="1.75" fill="#3A98DC"/>
<circle cx="160.9" cy="100.7" r="1.75" fill="#B06AB8"/>
<circle cx="135.7" cy="102.3" r="1.75" fill="#3A98DC"/>
<circle cx="82.1" cy="75.7" r="1.75" fill="#62B84A"/>
<circle cx="139.2" cy="129.4" r="1.75" fill="#D98B2B"/>
<circle cx="144" cy="137.4" r="1.75" fill="#2EBFA0"/>
<circle cx="92.6" cy="116.4" r="1.75" fill="#37B56B"/>
<circle cx="175.6" cy="121.7" r="1.75" fill="#D98B2B"/>
<circle cx="128" cy="103.7" r="1.75" fill="#3A98DC"/>
<circle cx="87.6" cy="145.1" r="1.75" fill="#8C80C8"/>
<circle cx="153.8" cy="117.8" r="1.75" fill="#D98B2B"/>
<circle cx="116.4" cy="58.4" r="1.75" fill="#F07470"/>
<circle cx="155.5" cy="131.1" r="1.75" fill="#D98B2B"/>
<circle cx="129.8" cy="32.8" r="1.75" fill="#F07470"/>
<circle cx="159.8" cy="109.8" r="1.75" fill="#D98B2B"/>
<circle cx="94.4" cy="127.4" r="1.75" fill="#37B56B"/>
<circle cx="102.6" cy="56" r="1.75" fill="#F07470"/>
<circle cx="45.9" cy="110.2" r="1.75" fill="#A39A2E"/>
<circle cx="83.1" cy="85.7" r="1.75" fill="#37B56B"/>
<circle cx="86.5" cy="80" r="1.75" fill="#62B84A"/>
<circle cx="159.8" cy="106.5" r="1.75" fill="#8C80C8"/>
<circle cx="109.9" cy="84.7" r="1.75" fill="#3A98DC"/>
<circle cx="159.1" cy="129.2" r="1.75" fill="#D98B2B"/>
<circle cx="124.9" cy="56.2" r="1.75" fill="#F07470"/>
<circle cx="152.2" cy="109.6" r="1.75" fill="#8C80C8"/>
<circle cx="164.2" cy="117.8" r="1.75" fill="#D98B2B"/>
<circle cx="84.7" cy="83.5" r="1.75" fill="#62B84A"/>
<circle cx="89.9" cy="116.6" r="1.75" fill="#37B56B"/>
<circle cx="83.2" cy="73.7" r="1.75" fill="#37B56B"/>
<circle cx="83" cy="133.1" r="1.75" fill="#37B56B"/>
<circle cx="113.9" cy="52.3" r="1.75" fill="#F07470"/>
<circle cx="59.5" cy="62.6" r="1.75" fill="#E864A8"/>
<circle cx="47.9" cy="90.8" r="1.75" fill="#A39A2E"/>
<circle cx="108.1" cy="60.5" r="1.75" fill="#2EBFA0"/>
<circle cx="143.4" cy="106" r="1.75" fill="#8C80C8"/>
<circle cx="149.9" cy="140.1" r="1.75" fill="#D98B2B"/>
<circle cx="126.8" cy="34" r="1.75" fill="#F07470"/>
<circle cx="125.4" cy="98.3" r="1.75" fill="#8C80C8"/>
<circle cx="52.2" cy="83.4" r="1.75" fill="#A39A2E"/>
<circle cx="158.9" cy="70.8" r="1.75" fill="#2EBFA0"/>
<circle cx="145.6" cy="130.9" r="1.75" fill="#D98B2B"/>
<circle cx="141.4" cy="84" r="1.75" fill="#3A98DC"/>
<circle cx="96.7" cy="91.7" r="1.75" fill="#3A98DC"/>
<circle cx="125.1" cy="85.3" r="1.75" fill="#B06AB8"/>
<circle cx="81.9" cy="64.1" r="1.75" fill="#37B56B"/>
<circle cx="139.7" cy="90.5" r="1.75" fill="#8C80C8"/>
<circle cx="140.9" cy="35.9" r="1.75" fill="#F07470"/>
<circle cx="52.9" cy="92" r="1.75" fill="#A39A2E"/>
<circle cx="154.4" cy="108.8" r="1.75" fill="#D98B2B"/>
<circle cx="165.3" cy="91.5" r="1.75" fill="#2EBFA0"/>
<circle cx="143.5" cy="115.9" r="1.75" fill="#D98B2B"/>
<circle cx="152.5" cy="101.9" r="1.75" fill="#D98B2B"/>
<circle cx="144.2" cy="48.5" r="1.75" fill="#F07470"/>
<circle cx="103.2" cy="100.8" r="1.75" fill="#3A98DC"/>
<circle cx="67.9" cy="115.5" r="1.75" fill="#A39A2E"/>
<circle cx="82.8" cy="156.2" r="1.75" fill="#1CBEE0"/>
<circle cx="149.6" cy="112.6" r="1.75" fill="#D98B2B"/>
<circle cx="168.6" cy="100.5" r="1.75" fill="#2EBFA0"/>
<circle cx="144.9" cy="83.7" r="1.75" fill="#8C80C8"/>
<circle cx="122.1" cy="138.7" r="1.75" fill="#37B56B"/>
<circle cx="56.3" cy="127.4" r="1.75" fill="#1CBEE0"/>
<circle cx="133" cy="84.2" r="1.75" fill="#8C80C8"/>
<circle cx="57" cy="117.6" r="1.75" fill="#A39A2E"/>
<circle cx="63.9" cy="125.7" r="1.75" fill="#A39A2E"/>
<circle cx="140" cy="133.5" r="1.75" fill="#B06AB8"/>
<circle cx="167.9" cy="128.2" r="1.75" fill="#D98B2B"/>
<circle cx="60.5" cy="78.2" r="1.75" fill="#62B84A"/>
<circle cx="68.5" cy="78.9" r="1.75" fill="#62B84A"/>
<circle cx="153.2" cy="98.4" r="1.75" fill="#8C80C8"/>
<circle cx="142.9" cy="86.3" r="1.75" fill="#8C80C8"/>
<circle cx="111" cy="60" r="1.75" fill="#F07470"/>
<circle cx="119.3" cy="106.8" r="1.75" fill="#3A98DC"/>
<circle cx="121.4" cy="42.6" r="1.75" fill="#F07470"/>
<circle cx="98.9" cy="111.1" r="1.75" fill="#3A98DC"/>
<circle cx="55.5" cy="150.2" r="1.75" fill="#1CBEE0"/>
<circle cx="57" cy="82.5" r="1.75" fill="#A39A2E"/>
<circle cx="153.2" cy="81.6" r="1.75" fill="#2EBFA0"/>
<circle cx="97.9" cy="80.9" r="1.75" fill="#62B84A"/>
<circle cx="164.9" cy="96.6" r="1.75" fill="#2EBFA0"/>
<circle cx="79.3" cy="88.6" r="1.75" fill="#62B84A"/>
<circle cx="63.5" cy="141" r="1.75" fill="#1CBEE0"/>
<circle cx="129.6" cy="100.7" r="1.75" fill="#3A98DC"/>
<circle cx="76.2" cy="50.8" r="1.75" fill="#62B84A"/>
<circle cx="158.2" cy="91.5" r="1.75" fill="#2EBFA0"/>
<circle cx="158.1" cy="100.2" r="1.75" fill="#2EBFA0"/>
<circle cx="130.6" cy="36.8" r="1.75" fill="#F07470"/>
<circle cx="55.3" cy="108.3" r="1.75" fill="#A39A2E"/>
<circle cx="111.9" cy="145.8" r="1.75" fill="#37B56B"/>
<circle cx="153.7" cy="62" r="1.75" fill="#2EBFA0"/>
<circle cx="75.7" cy="58.1" r="1.75" fill="#E864A8"/>
<circle cx="91.3" cy="112.7" r="1.75" fill="#2EBFA0"/>
<circle cx="49.7" cy="91.9" r="1.75" fill="#A39A2E"/>
<circle cx="127" cy="111.5" r="1.75" fill="#3A98DC"/>
<circle cx="45.6" cy="107.4" r="1.75" fill="#A39A2E"/>
<circle cx="124.8" cy="132.8" r="1.75" fill="#37B56B"/>
<circle cx="149.9" cy="117.6" r="1.75" fill="#D98B2B"/>
<circle cx="112.8" cy="53" r="1.75" fill="#F07470"/>
<circle cx="114.1" cy="66.1" r="1.75" fill="#F07470"/>
<circle cx="157.7" cy="139.9" r="1.75" fill="#D98B2B"/>
<circle cx="55.7" cy="111.8" r="1.75" fill="#A39A2E"/>
<circle cx="138.8" cy="63.9" r="1.75" fill="#2EBFA0"/>
<circle cx="57.2" cy="80.8" r="1.75" fill="#A39A2E"/>
<circle cx="149.3" cy="89.4" r="1.75" fill="#3A98DC"/>
<circle cx="66.6" cy="80.9" r="1.75" fill="#3A98DC"/>
<circle cx="129.3" cy="95.8" r="1.75" fill="#8C80C8"/>
<circle cx="150.4" cy="113.9" r="1.75" fill="#D98B2B"/>
<circle cx="82.4" cy="53.6" r="1.75" fill="#62B84A"/>
<circle cx="154.7" cy="103.5" r="1.75" fill="#D98B2B"/>
<circle cx="116.4" cy="97.9" r="1.75" fill="#3A98DC"/>
<circle cx="78.6" cy="151.4" r="1.75" fill="#3A98DC"/>
<circle cx="73.5" cy="132.7" r="1.75" fill="#1CBEE0"/>
<circle cx="166.3" cy="114.5" r="1.75" fill="#2EBFA0"/>
<circle cx="74.7" cy="156.3" r="1.75" fill="#1CBEE0"/>
<circle cx="65.6" cy="112.9" r="1.75" fill="#A39A2E"/>
<circle cx="122.8" cy="128.5" r="1.75" fill="#8C80C8"/>
<circle cx="117.5" cy="149.4" r="1.75" fill="#37B56B"/>
<circle cx="107.1" cy="100.2" r="1.75" fill="#3A98DC"/>
<circle cx="172.2" cy="121.8" r="1.75" fill="#B06AB8"/>
<circle cx="48" cy="111.3" r="1.75" fill="#A39A2E"/>
<circle cx="171.1" cy="103.6" r="1.75" fill="#8C80C8"/>
<circle cx="82.9" cy="109.3" r="1.75" fill="#37B56B"/>
<circle cx="122" cy="117.6" r="1.75" fill="#B06AB8"/>
<circle cx="136.1" cy="94.1" r="1.75" fill="#B06AB8"/>
<circle cx="161.1" cy="133" r="1.75" fill="#D98B2B"/>
<circle cx="103.3" cy="77.9" r="1.75" fill="#62B84A"/>
<circle cx="169.2" cy="106.9" r="1.75" fill="#3A98DC"/>
<circle cx="146.4" cy="83.1" r="1.75" fill="#8C80C8"/>
<circle cx="143" cy="123.4" r="1.75" fill="#D98B2B"/>
<circle cx="89.9" cy="64.7" r="1.75" fill="#62B84A"/>
<circle cx="89.8" cy="108.1" r="1.75" fill="#62B84A"/>
<circle cx="91.1" cy="114.8" r="1.75" fill="#37B56B"/>
<circle cx="104.9" cy="142.2" r="1.75" fill="#37B56B"/>
<circle cx="141.2" cy="99.7" r="1.75" fill="#8C80C8"/>
<circle cx="122.5" cy="110.7" r="1.75" fill="#3A98DC"/>
<circle cx="49.2" cy="114.9" r="1.75" fill="#A39A2E"/>
<circle cx="93.3" cy="80.6" r="1.75" fill="#62B84A"/>
<circle cx="48.6" cy="106.3" r="1.75" fill="#A39A2E"/>
<circle cx="151.5" cy="116.6" r="1.75" fill="#D98B2B"/>
<circle cx="64.1" cy="156.6" r="1.75" fill="#1CBEE0"/>
<circle cx="129.5" cy="100.7" r="1.75" fill="#3A98DC"/>
<circle cx="128.6" cy="59.9" r="1.75" fill="#F07470"/>
<circle cx="120.9" cy="120.6" r="1.75" fill="#B06AB8"/>
<circle cx="87" cy="96.5" r="1.75" fill="#3A98DC"/>
<circle cx="145.7" cy="35.6" r="1.75" fill="#F07470"/>
<circle cx="66.3" cy="55.8" r="1.75" fill="#E864A8"/>
<circle cx="58.3" cy="85.3" r="1.75" fill="#A39A2E"/>
<circle cx="125" cy="127.4" r="1.75" fill="#37B56B"/>
<circle cx="58.9" cy="113.5" r="1.75" fill="#A39A2E"/>
<circle cx="62.7" cy="61.9" r="1.75" fill="#E864A8"/>
<circle cx="100.6" cy="67.9" r="1.75" fill="#E864A8"/>
<circle cx="123.6" cy="120.2" r="1.75" fill="#B06AB8"/>
<circle cx="68.1" cy="127.1" r="1.75" fill="#1CBEE0"/>
<circle cx="137.3" cy="101.1" r="1.75" fill="#3A98DC"/>
<circle cx="144.9" cy="131.5" r="1.75" fill="#37B56B"/>
<circle cx="110" cy="140.1" r="1.75" fill="#37B56B"/>
<circle cx="180.1" cy="126.8" r="1.75" fill="#B06AB8"/>
<circle cx="148.1" cy="139.9" r="1.75" fill="#D98B2B"/>
<circle cx="84.4" cy="117.9" r="1.75" fill="#37B56B"/>
<circle cx="131.4" cy="56.8" r="1.75" fill="#F07470"/>
<circle cx="52.4" cy="116.4" r="1.75" fill="#A39A2E"/>
<circle cx="73.2" cy="62.9" r="1.75" fill="#E864A8"/>
<circle cx="107" cy="91.1" r="1.75" fill="#3A98DC"/>
<circle cx="165.8" cy="134.9" r="1.75" fill="#D98B2B"/>
<circle cx="153.4" cy="111.9" r="1.75" fill="#3A98DC"/>
<circle cx="136.8" cy="106.1" r="1.75" fill="#3A98DC"/>
<circle cx="111.3" cy="67.6" r="1.75" fill="#F07470"/>
<circle cx="114.9" cy="72.5" r="1.75" fill="#F07470"/>
<circle cx="70.6" cy="68.3" r="1.75" fill="#E864A8"/>
<circle cx="108.7" cy="136.6" r="1.75" fill="#37B56B"/>
<circle cx="104" cy="109.2" r="1.75" fill="#8C80C8"/>
<circle cx="67.5" cy="76.4" r="1.75" fill="#62B84A"/>
<circle cx="111" cy="125.5" r="1.75" fill="#37B56B"/>
<circle cx="159.4" cy="107.8" r="1.75" fill="#D98B2B"/>
<circle cx="68.2" cy="101" r="1.75" fill="#A39A2E"/>
<circle cx="48.1" cy="114.3" r="1.75" fill="#A39A2E"/>
<circle cx="155.7" cy="79.5" r="1.75" fill="#2EBFA0"/>
<circle cx="151" cy="46.5" r="1.75" fill="#2EBFA0"/>
<circle cx="149" cy="78.6" r="1.75" fill="#2EBFA0"/>
<circle cx="159.2" cy="83.1" r="1.75" fill="#2EBFA0"/>
<circle cx="57.5" cy="125.5" r="1.75" fill="#A39A2E"/>
<circle cx="154.6" cy="100" r="1.75" fill="#8C80C8"/>
<circle cx="158.7" cy="135.5" r="1.75" fill="#D98B2B"/>
<circle cx="159.4" cy="91.2" r="1.75" fill="#2EBFA0"/>
<circle cx="89.8" cy="82.4" r="1.75" fill="#62B84A"/>
<circle cx="85.5" cy="69.4" r="1.75" fill="#62B84A"/>
<circle cx="143.3" cy="67.1" r="1.75" fill="#2EBFA0"/>
<circle cx="149.4" cy="109.3" r="1.75" fill="#8C80C8"/>
<circle cx="70.2" cy="69.8" r="1.75" fill="#E864A8"/>
<circle cx="143.1" cy="118.6" r="1.75" fill="#3A98DC"/>
<circle cx="114" cy="73.1" r="1.75" fill="#F07470"/>
<circle cx="65.8" cy="102.1" r="1.75" fill="#A39A2E"/>
<circle cx="159.5" cy="77.8" r="1.75" fill="#2EBFA0"/>
<circle cx="66.2" cy="103" r="1.75" fill="#A39A2E"/>
<circle cx="47.9" cy="115.9" r="1.75" fill="#A39A2E"/>
<circle cx="82.6" cy="119.7" r="1.75" fill="#37B56B"/>
<circle cx="156.5" cy="124" r="1.75" fill="#D98B2B"/>
<circle cx="169.1" cy="119.8" r="1.75" fill="#D98B2B"/>
<circle cx="143.7" cy="120.3" r="1.75" fill="#D98B2B"/>
<circle cx="87" cy="119.2" r="1.75" fill="#37B56B"/>
<circle cx="104.4" cy="69.2" r="1.75" fill="#62B84A"/>
<circle cx="64.1" cy="109" r="1.75" fill="#A39A2E"/>
<circle cx="85.7" cy="67.5" r="1.75" fill="#62B84A"/>
<circle cx="63.1" cy="147.2" r="1.75" fill="#1CBEE0"/>
<circle cx="181.4" cy="114.2" r="1.75" fill="#B06AB8"/>
<circle cx="155.4" cy="108.4" r="1.75" fill="#D98B2B"/>
<circle cx="82" cy="62" r="1.75" fill="#62B84A"/>
<circle cx="117.6" cy="110" r="1.75" fill="#3A98DC"/>
<circle cx="101.5" cy="69.8" r="1.75" fill="#E864A8"/>
<circle cx="119.7" cy="110.3" r="1.75" fill="#8C80C8"/>
<circle cx="124.9" cy="97.8" r="1.75" fill="#8C80C8"/>
<circle cx="41.1" cy="98.1" r="1.75" fill="#A39A2E"/>
<circle cx="80.6" cy="72.8" r="1.75" fill="#62B84A"/>
<circle cx="148.4" cy="34.1" r="1.75" fill="#F07470"/>
<circle cx="55" cy="136.3" r="1.75" fill="#1CBEE0"/>
<circle cx="135.1" cy="78.7" r="1.75" fill="#2EBFA0"/>
<circle cx="156.8" cy="90.1" r="1.75" fill="#2EBFA0"/>
<circle cx="77.7" cy="132.3" r="1.75" fill="#1CBEE0"/>
<circle cx="132.2" cy="61.9" r="1.75" fill="#F07470"/>
<circle cx="108.2" cy="141.7" r="1.75" fill="#37B56B"/>
<circle cx="50.5" cy="89.8" r="1.75" fill="#A39A2E"/>
<circle cx="142.3" cy="123.8" r="1.75" fill="#D98B2B"/>
<circle cx="119.2" cy="131.4" r="1.75" fill="#37B56B"/>
<circle cx="150.5" cy="39.9" r="1.75" fill="#F07470"/>
<circle cx="68.6" cy="102.2" r="1.75" fill="#A39A2E"/>
<circle cx="75.2" cy="151.2" r="1.75" fill="#1CBEE0"/>
<circle cx="82.4" cy="127.4" r="1.75" fill="#37B56B"/>
<circle cx="79.3" cy="138.2" r="1.75" fill="#37B56B"/>
<circle cx="63.7" cy="100.4" r="1.75" fill="#A39A2E"/>
<circle cx="170.1" cy="117.9" r="1.75" fill="#D98B2B"/>
<circle cx="142" cy="49.7" r="1.75" fill="#F07470"/>
<circle cx="40.3" cy="98.8" r="1.75" fill="#A39A2E"/>
<circle cx="185.1" cy="121.4" r="1.75" fill="#B06AB8"/>
<circle cx="74.3" cy="57.7" r="1.75" fill="#E864A8"/>
<circle cx="103.1" cy="62.2" r="1.75" fill="#F07470"/>
<circle cx="174.4" cy="125.4" r="1.75" fill="#D98B2B"/>
<circle cx="57.7" cy="157.4" r="1.75" fill="#1CBEE0"/>
<circle cx="45.7" cy="89.8" r="1.75" fill="#A39A2E"/>
<circle cx="126.5" cy="111.5" r="1.75" fill="#8C80C8"/>
<circle cx="143.1" cy="88.7" r="1.75" fill="#2EBFA0"/>
<circle cx="86" cy="125.5" r="1.75" fill="#37B56B"/>
<circle cx="161.8" cy="104.6" r="1.75" fill="#D98B2B"/>
<circle cx="145" cy="136.9" r="1.75" fill="#D98B2B"/>
<circle cx="147.8" cy="89.9" r="1.75" fill="#8C80C8"/>
<circle cx="50" cy="89" r="1.75" fill="#A39A2E"/>
<circle cx="147.3" cy="85.7" r="1.75" fill="#2EBFA0"/>
<circle cx="88.9" cy="77.5" r="1.75" fill="#37B56B"/>
<circle cx="73.1" cy="77.7" r="1.75" fill="#62B84A"/>
<circle cx="124" cy="108.3" r="1.75" fill="#3A98DC"/>
<circle cx="74.9" cy="88.5" r="1.75" fill="#62B84A"/>
<circle cx="142.8" cy="30.2" r="1.75" fill="#F07470"/>
<circle cx="134.9" cy="97.1" r="1.75" fill="#2EBFA0"/>
<circle cx="147.5" cy="139.7" r="1.75" fill="#D98B2B"/>
<circle cx="71.3" cy="51.6" r="1.75" fill="#E864A8"/>
<circle cx="116.3" cy="44.7" r="1.75" fill="#F07470"/>
<circle cx="161.5" cy="121" r="1.75" fill="#D98B2B"/>
<circle cx="160.3" cy="128.3" r="1.75" fill="#D98B2B"/>
<circle cx="106.1" cy="144.7" r="1.75" fill="#37B56B"/>
<circle cx="113.1" cy="53.2" r="1.75" fill="#F07470"/>
<circle cx="163.3" cy="124.6" r="1.75" fill="#D98B2B"/>
<circle cx="119.6" cy="121.3" r="1.75" fill="#B06AB8"/>
<circle cx="63" cy="50.3" r="1.75" fill="#E864A8"/>
<circle cx="151.7" cy="107" r="1.75" fill="#D98B2B"/>
<circle cx="168" cy="131.4" r="1.75" fill="#D98B2B"/>
<circle cx="107.8" cy="79.7" r="1.75" fill="#8C80C8"/>
<circle cx="126.4" cy="101.6" r="1.75" fill="#3A98DC"/>
<circle cx="61.8" cy="52.6" r="1.75" fill="#E864A8"/>
<circle cx="105" cy="107.1" r="1.75" fill="#2EBFA0"/>
<circle cx="119.2" cy="66.3" r="1.75" fill="#F07470"/>
<circle cx="157.6" cy="108.1" r="1.75" fill="#D98B2B"/>
<circle cx="52.7" cy="130.7" r="1.75" fill="#1CBEE0"/>
<circle cx="154.9" cy="104.5" r="1.75" fill="#D98B2B"/>
<circle cx="169.2" cy="131.5" r="1.75" fill="#D98B2B"/>
<circle cx="115.5" cy="71.1" r="1.75" fill="#F07470"/>
<circle cx="138.9" cy="30.6" r="1.75" fill="#F07470"/>
<circle cx="134.1" cy="80.3" r="1.75" fill="#2EBFA0"/>
<circle cx="95" cy="69.7" r="1.75" fill="#62B84A"/>
<circle cx="100.2" cy="83.6" r="1.75" fill="#3A98DC"/>
<circle cx="125.6" cy="105" r="1.75" fill="#8C80C8"/>
<circle cx="149.1" cy="89.6" r="1.75" fill="#8C80C8"/>
<circle cx="148.9" cy="109.2" r="1.75" fill="#2EBFA0"/>
<circle cx="108.4" cy="131.5" r="1.75" fill="#37B56B"/>
<circle cx="135.9" cy="73.6" r="1.75" fill="#2EBFA0"/>
<circle cx="138.8" cy="62.9" r="1.75" fill="#2EBFA0"/>
<circle cx="160.2" cy="127.5" r="1.75" fill="#D98B2B"/>
<circle cx="117.8" cy="42.2" r="1.75" fill="#F07470"/>
<circle cx="103.6" cy="82.9" r="1.75" fill="#8C80C8"/>
<circle cx="151.2" cy="89.5" r="1.75" fill="#2EBFA0"/>
<circle cx="128.6" cy="145.4" r="1.75" fill="#2EBFA0"/>
<circle cx="152.4" cy="114" r="1.75" fill="#D98B2B"/>
<circle cx="145.1" cy="134.7" r="1.75" fill="#D98B2B"/>
<circle cx="152.9" cy="39.5" r="1.75" fill="#F07470"/>
<circle cx="83.1" cy="76.2" r="1.75" fill="#62B84A"/>
<circle cx="87.9" cy="85.9" r="1.75" fill="#62B84A"/>
<circle cx="67.5" cy="132" r="1.75" fill="#1CBEE0"/>
<circle cx="149.9" cy="95.6" r="1.75" fill="#8C80C8"/>
<circle cx="134.2" cy="97.4" r="1.75" fill="#8C80C8"/>
<circle cx="138.1" cy="79.1" r="1.75" fill="#2EBFA0"/>
<circle cx="121.7" cy="60" r="1.75" fill="#F07470"/>
<circle cx="128.7" cy="138.1" r="1.75" fill="#37B56B"/>
<circle cx="57.6" cy="94.6" r="1.75" fill="#A39A2E"/>
<circle cx="76.7" cy="112.5" r="1.75" fill="#37B56B"/>
<circle cx="75.3" cy="154.9" r="1.75" fill="#1CBEE0"/>
<circle cx="85.6" cy="66.6" r="1.75" fill="#62B84A"/>
<circle cx="62.9" cy="75.3" r="1.75" fill="#62B84A"/>
<circle cx="104.3" cy="128.2" r="1.75" fill="#37B56B"/>
<circle cx="90.5" cy="85.9" r="1.75" fill="#62B84A"/>
<circle cx="107.2" cy="79.4" r="1.75" fill="#3A98DC"/>
<circle cx="60" cy="125.1" r="1.75" fill="#A39A2E"/>
<circle cx="148.2" cy="84.6" r="1.75" fill="#8C80C8"/>
<circle cx="124.6" cy="64.8" r="1.75" fill="#F07470"/>
<circle cx="59.4" cy="161.2" r="1.75" fill="#1CBEE0"/>
<circle cx="150" cy="98.2" r="1.75" fill="#8C80C8"/>
<circle cx="148" cy="44.6" r="1.75" fill="#2EBFA0"/>
<circle cx="90.8" cy="80" r="1.75" fill="#62B84A"/>
<circle cx="149.6" cy="122.7" r="1.75" fill="#D98B2B"/>
<circle cx="97.3" cy="103.4" r="1.75" fill="#8C80C8"/>
<circle cx="164.4" cy="99.6" r="1.75" fill="#2EBFA0"/>
<circle cx="164.8" cy="95.1" r="1.75" fill="#2EBFA0"/>
<circle cx="131.3" cy="50.6" r="1.75" fill="#F07470"/>
<circle cx="145.8" cy="105" r="1.75" fill="#8C80C8"/>
<circle cx="129" cy="103.4" r="1.75" fill="#3A98DC"/>
<circle cx="58.5" cy="79.5" r="1.75" fill="#A39A2E"/>
<circle cx="69.3" cy="72.6" r="1.75" fill="#E864A8"/>
<circle cx="65.9" cy="149.1" r="1.75" fill="#1CBEE0"/>
<circle cx="143" cy="115" r="1.75" fill="#B06AB8"/>
<circle cx="75.6" cy="159.9" r="1.75" fill="#1CBEE0"/>
<circle cx="98.8" cy="79.8" r="1.75" fill="#62B84A"/>
<circle cx="163.1" cy="112.3" r="1.75" fill="#D98B2B"/>
<circle cx="138" cy="35" r="1.75" fill="#F07470"/>
<circle cx="93.4" cy="84.9" r="1.75" fill="#E864A8"/>
<circle cx="151.5" cy="90.5" r="1.75" fill="#8C80C8"/>
<circle cx="163.8" cy="121.9" r="1.75" fill="#B06AB8"/>
<circle cx="108.4" cy="97.4" r="1.75" fill="#3A98DC"/>
<circle cx="149.6" cy="82.1" r="1.75" fill="#2EBFA0"/>
<circle cx="131.4" cy="53.1" r="1.75" fill="#F07470"/>
<circle cx="65.3" cy="123.3" r="1.75" fill="#A39A2E"/>
<circle cx="78.7" cy="66.5" r="1.75" fill="#62B84A"/>
<circle cx="84.2" cy="154" r="1.75" fill="#1CBEE0"/>
<circle cx="55.9" cy="127.9" r="1.75" fill="#1CBEE0"/>
<circle cx="147.7" cy="103.5" r="1.75" fill="#8C80C8"/>
<circle cx="135.9" cy="94.5" r="1.75" fill="#3A98DC"/>
<circle cx="40.4" cy="97.6" r="1.75" fill="#A39A2E"/>
<circle cx="55.1" cy="148.9" r="1.75" fill="#1CBEE0"/>
<circle cx="114.6" cy="73.9" r="1.75" fill="#F07470"/>
<circle cx="155.3" cy="139.7" r="1.75" fill="#D98B2B"/>
<circle cx="129.3" cy="101.9" r="1.75" fill="#2EBFA0"/>
<circle cx="63" cy="161.2" r="1.75" fill="#1CBEE0"/>
<circle cx="49.4" cy="98.1" r="1.75" fill="#A39A2E"/>
<circle cx="77.4" cy="92" r="1.75" fill="#62B84A"/>
<circle cx="146.5" cy="47" r="1.75" fill="#F07470"/>
<circle cx="148.4" cy="44.6" r="1.75" fill="#F07470"/>
<circle cx="97.4" cy="108.8" r="1.75" fill="#B06AB8"/>
<circle cx="125.6" cy="82.7" r="1.75" fill="#3A98DC"/>
<circle cx="74.5" cy="114.3" r="1.75" fill="#37B56B"/>
<circle cx="105.4" cy="139.8" r="1.75" fill="#37B56B"/>
<circle cx="63.2" cy="102.8" r="1.75" fill="#A39A2E"/>
<circle cx="150.1" cy="110.6" r="1.75" fill="#D98B2B"/>
<circle cx="68.4" cy="115.8" r="1.75" fill="#A39A2E"/>
<circle cx="140.4" cy="52.6" r="1.75" fill="#F07470"/>
<circle cx="125.4" cy="95.8" r="1.75" fill="#3A98DC"/>
<circle cx="55.1" cy="153.7" r="1.75" fill="#1CBEE0"/>
<circle cx="103.2" cy="104.8" r="1.75" fill="#37B56B"/>
<circle cx="109.6" cy="50.1" r="1.75" fill="#F07470"/>
<circle cx="56.8" cy="130.5" r="1.75" fill="#1CBEE0"/>
<circle cx="131.8" cy="98.2" r="1.75" fill="#8C80C8"/>
<circle cx="58" cy="77.1" r="1.75" fill="#62B84A"/>
<circle cx="69.5" cy="121.3" r="1.75" fill="#A39A2E"/>
<circle cx="83.4" cy="56.3" r="1.75" fill="#62B84A"/>
<circle cx="82.1" cy="76.3" r="1.75" fill="#3A98DC"/>
<circle cx="79.1" cy="103.3" r="1.75" fill="#37B56B"/>
<circle cx="150.3" cy="101.9" r="1.75" fill="#D98B2B"/>
<circle cx="121.5" cy="146.6" r="1.75" fill="#37B56B"/>
<circle cx="103.3" cy="118" r="1.75" fill="#8C80C8"/>
<circle cx="63.9" cy="142.3" r="1.75" fill="#1CBEE0"/>
<circle cx="74.7" cy="113.8" r="1.75" fill="#37B56B"/>
<circle cx="107.7" cy="82.7" r="1.75" fill="#3A98DC"/>
<circle cx="58.6" cy="92.1" r="1.75" fill="#A39A2E"/>
<circle cx="109.1" cy="64.4" r="1.75" fill="#F07470"/>
<circle cx="178.9" cy="116" r="1.75" fill="#B06AB8"/>
<circle cx="140" cy="119.3" r="1.75" fill="#8C80C8"/>
<circle cx="130.6" cy="98.4" r="1.75" fill="#8C80C8"/>
<circle cx="101.8" cy="96.3" r="1.75" fill="#3A98DC"/>
<circle cx="133.5" cy="96.3" r="1.75" fill="#3A98DC"/>
<circle cx="46.6" cy="84.5" r="1.75" fill="#A39A2E"/>
<circle cx="140.2" cy="130.6" r="1.75" fill="#D98B2B"/>
<circle cx="56.4" cy="126.7" r="1.75" fill="#1CBEE0"/>
<circle cx="183" cy="125.5" r="1.75" fill="#B06AB8"/>
<circle cx="108.4" cy="82.4" r="1.75" fill="#3A98DC"/>
<circle cx="52.6" cy="104.1" r="1.75" fill="#A39A2E"/>
<circle cx="123.2" cy="36" r="1.75" fill="#F07470"/>
<circle cx="83" cy="126.9" r="1.75" fill="#37B56B"/>
<circle cx="172.1" cy="93.1" r="1.75" fill="#2EBFA0"/>
<circle cx="119.1" cy="145.3" r="1.75" fill="#37B56B"/>
<circle cx="61.7" cy="61.2" r="1.75" fill="#E864A8"/>
<circle cx="74.2" cy="137.1" r="1.75" fill="#1CBEE0"/>
<circle cx="135.1" cy="97.5" r="1.75" fill="#8C80C8"/>
<circle cx="175" cy="125.2" r="1.75" fill="#D98B2B"/>
<circle cx="95.2" cy="114.1" r="1.75" fill="#62B84A"/>
<circle cx="109.6" cy="116.1" r="1.75" fill="#3A98DC"/>
<circle cx="139" cy="33.5" r="1.75" fill="#F07470"/>
<circle cx="181.5" cy="124.3" r="1.75" fill="#B06AB8"/>
<circle cx="55.3" cy="131.5" r="1.75" fill="#1CBEE0"/>
<circle cx="164.1" cy="108.3" r="1.75" fill="#D98B2B"/>
<circle cx="123.9" cy="111.1" r="1.75" fill="#8C80C8"/>
<circle cx="175.4" cy="111.4" r="1.75" fill="#B06AB8"/>
<circle cx="137.5" cy="96.1" r="1.75" fill="#3A98DC"/>
<circle cx="153" cy="105.7" r="1.75" fill="#B06AB8"/>
<circle cx="134.9" cy="86.5" r="1.75" fill="#8C80C8"/>
<circle cx="154.4" cy="108.7" r="1.75" fill="#D98B2B"/>
<circle cx="61.3" cy="125.8" r="1.75" fill="#A39A2E"/>
<circle cx="128" cy="59.3" r="1.75" fill="#F07470"/>
<circle cx="157.7" cy="66.7" r="1.75" fill="#2EBFA0"/>
<circle cx="89.7" cy="75.5" r="1.75" fill="#37B56B"/>
<circle cx="149.9" cy="62.8" r="1.75" fill="#2EBFA0"/>
<circle cx="71.3" cy="157.4" r="1.75" fill="#1CBEE0"/>
<circle cx="90.2" cy="126.5" r="1.75" fill="#62B84A"/>
<circle cx="133.8" cy="62.6" r="1.75" fill="#F07470"/>
<circle cx="55.2" cy="147.3" r="1.75" fill="#1CBEE0"/>
<circle cx="114.8" cy="109.4" r="1.75" fill="#3A98DC"/>
<circle cx="158" cy="105.4" r="1.75" fill="#8C80C8"/>
<circle cx="82" cy="90" r="1.75" fill="#62B84A"/>
<circle cx="116.1" cy="71.4" r="1.75" fill="#F07470"/>
<circle cx="155.2" cy="68.7" r="1.75" fill="#2EBFA0"/>
<circle cx="65.2" cy="125.6" r="1.75" fill="#A39A2E"/>
<circle cx="174.5" cy="127.4" r="1.75" fill="#D98B2B"/>
<circle cx="144" cy="41.4" r="1.75" fill="#F07470"/>
<circle cx="127.9" cy="104.7" r="1.75" fill="#3A98DC"/>
<circle cx="62.5" cy="67.6" r="1.75" fill="#E864A8"/>
<circle cx="129.6" cy="81.4" r="1.75" fill="#2EBFA0"/>
<circle cx="56.7" cy="95.1" r="1.75" fill="#A39A2E"/>
<circle cx="140.7" cy="85.5" r="1.75" fill="#2EBFA0"/>
<circle cx="159.8" cy="91.7" r="1.75" fill="#8C80C8"/>
<circle cx="145.3" cy="40.4" r="1.75" fill="#2EBFA0"/>
<circle cx="75.8" cy="59.3" r="1.75" fill="#E864A8"/>
<circle cx="134.9" cy="108.7" r="1.75" fill="#3A98DC"/>
<circle cx="152.8" cy="130" r="1.75" fill="#D98B2B"/>
<circle cx="114.6" cy="144.8" r="1.75" fill="#37B56B"/>
<circle cx="172.2" cy="112.9" r="1.75" fill="#B06AB8"/>
<circle cx="138.4" cy="112.9" r="1.75" fill="#8C80C8"/>
<circle cx="151.8" cy="115.4" r="1.75" fill="#D98B2B"/>
<circle cx="128" cy="95.1" r="1.75" fill="#3A98DC"/>
<circle cx="99.4" cy="86.7" r="1.75" fill="#3A98DC"/>
<circle cx="152" cy="107.1" r="1.75" fill="#D98B2B"/>
<circle cx="102.1" cy="82.1" r="1.75" fill="#3A98DC"/>
<circle cx="159.7" cy="122.1" r="1.75" fill="#D98B2B"/>
<circle cx="68.9" cy="134.9" r="1.75" fill="#1CBEE0"/>
<circle cx="52.8" cy="144.8" r="1.75" fill="#1CBEE0"/>
<circle cx="52.2" cy="116.9" r="1.75" fill="#A39A2E"/>
<circle cx="142.5" cy="81.5" r="1.75" fill="#2EBFA0"/>
<circle cx="79.7" cy="141" r="1.75" fill="#2EBFA0"/>
<circle cx="144.7" cy="127.7" r="1.75" fill="#D98B2B"/>
<circle cx="128" cy="48.1" r="1.75" fill="#F07470"/>
<circle cx="102.1" cy="123.6" r="1.75" fill="#37B56B"/>
<circle cx="129" cy="61.1" r="1.75" fill="#F07470"/>
<circle cx="177.7" cy="131" r="1.75" fill="#B06AB8"/>
<circle cx="120.9" cy="78.4" r="1.75" fill="#3A98DC"/>
<circle cx="155.4" cy="90.5" r="1.75" fill="#2EBFA0"/>
<circle cx="140.3" cy="77.2" r="1.75" fill="#2EBFA0"/>
<circle cx="118.9" cy="139.2" r="1.75" fill="#37B56B"/>
<circle cx="129" cy="54.5" r="1.75" fill="#F07470"/>
<circle cx="132.9" cy="106.3" r="1.75" fill="#2EBFA0"/>
<circle cx="156.8" cy="71.8" r="1.75" fill="#2EBFA0"/>
<circle cx="150" cy="36.8" r="1.75" fill="#F07470"/>
<circle cx="51.3" cy="106.9" r="1.75" fill="#A39A2E"/>
<circle cx="168.7" cy="122.5" r="1.75" fill="#D98B2B"/>
<circle cx="182" cy="125.3" r="1.75" fill="#B06AB8"/>
<circle cx="49.7" cy="107.4" r="1.75" fill="#A39A2E"/>
<circle cx="111.1" cy="105.5" r="1.75" fill="#3A98DC"/>
<circle cx="170" cy="108.4" r="1.75" fill="#D98B2B"/>
<circle cx="54.6" cy="78.1" r="1.75" fill="#A39A2E"/>
<circle cx="103.8" cy="120.8" r="1.75" fill="#37B56B"/>
<circle cx="140.4" cy="85.5" r="1.75" fill="#8C80C8"/>
<circle cx="124.3" cy="63.4" r="1.75" fill="#F07470"/>
<circle cx="118.8" cy="89.5" r="1.75" fill="#62B84A"/>
<circle cx="150" cy="136.5" r="1.75" fill="#D98B2B"/>
<circle cx="58.9" cy="127.9" r="1.75" fill="#1CBEE0"/>
<circle cx="138.5" cy="106.6" r="1.75" fill="#8C80C8"/>
<circle cx="113" cy="134.2" r="1.75" fill="#37B56B"/>
<circle cx="165" cy="108.1" r="1.75" fill="#B06AB8"/>
<circle cx="88" cy="123.3" r="1.75" fill="#37B56B"/>
<circle cx="116.6" cy="56.2" r="1.75" fill="#F07470"/>
<circle cx="152.2" cy="77.6" r="1.75" fill="#2EBFA0"/>
<circle cx="91.6" cy="94.5" r="1.75" fill="#62B84A"/>
<circle cx="95.4" cy="67.4" r="1.75" fill="#62B84A"/>
<circle cx="94.2" cy="115.9" r="1.75" fill="#37B56B"/>
<circle cx="154" cy="68.1" r="1.75" fill="#2EBFA0"/>
<circle cx="49.7" cy="78.1" r="1.75" fill="#A39A2E"/>
<circle cx="133.6" cy="87.9" r="1.75" fill="#62B84A"/>
<circle cx="153.2" cy="80.9" r="1.75" fill="#2EBFA0"/>
<circle cx="66.7" cy="116.6" r="1.75" fill="#A39A2E"/>
<circle cx="115.2" cy="71.3" r="1.75" fill="#F07470"/>
<circle cx="64.9" cy="116.5" r="1.75" fill="#A39A2E"/>
<circle cx="154.7" cy="93.6" r="1.75" fill="#8C80C8"/>
<circle cx="121.8" cy="113" r="1.75" fill="#B06AB8"/>
<circle cx="148.5" cy="94.2" r="1.75" fill="#3A98DC"/>
<circle cx="130.7" cy="50.3" r="1.75" fill="#F07470"/>
<circle cx="51.8" cy="101" r="1.75" fill="#A39A2E"/>
<circle cx="121.1" cy="146.4" r="1.75" fill="#37B56B"/>
<circle cx="158.9" cy="96.7" r="1.75" fill="#8C80C8"/>
<circle cx="111.7" cy="47.1" r="1.75" fill="#F07470"/>
<circle cx="88.1" cy="111.9" r="1.75" fill="#37B56B"/>
<circle cx="100.2" cy="78.9" r="1.75" fill="#62B84A"/>
<circle cx="131.3" cy="45.6" r="1.75" fill="#F07470"/>
<circle cx="133.1" cy="86.4" r="1.75" fill="#3A98DC"/>
<circle cx="75" cy="61.2" r="1.75" fill="#E864A8"/>
<circle cx="72.8" cy="49.6" r="1.75" fill="#E864A8"/>
<circle cx="130.8" cy="38.1" r="1.75" fill="#F07470"/>
<circle cx="108.3" cy="66.7" r="1.75" fill="#F07470"/>
<circle cx="156.3" cy="106.7" r="1.75" fill="#D98B2B"/>
<circle cx="139.9" cy="121.1" r="1.75" fill="#D98B2B"/>
<circle cx="114.2" cy="87.6" r="1.75" fill="#8C80C8"/>
<circle cx="95.7" cy="64.3" r="1.75" fill="#62B84A"/>
<circle cx="132.2" cy="85.3" r="1.75" fill="#3A98DC"/>
<circle cx="138.8" cy="46" r="1.75" fill="#F07470"/>
<circle cx="138" cy="93.6" r="1.75" fill="#3A98DC"/>
<circle cx="119.1" cy="85.3" r="1.75" fill="#3A98DC"/>
<circle cx="98.4" cy="65" r="1.75" fill="#62B84A"/>
<circle cx="59.4" cy="107" r="1.75" fill="#A39A2E"/>
<circle cx="154.3" cy="73.4" r="1.75" fill="#2EBFA0"/>
<circle cx="124.4" cy="144.2" r="1.75" fill="#37B56B"/>
<circle cx="71.7" cy="55.5" r="1.75" fill="#E864A8"/>
<circle cx="106.8" cy="108.3" r="1.75" fill="#3A98DC"/>
<circle cx="169.5" cy="95.3" r="1.75" fill="#2EBFA0"/>
<circle cx="149.5" cy="99.3" r="1.75" fill="#8C80C8"/>
<circle cx="168.8" cy="134.7" r="1.75" fill="#D98B2B"/>
<circle cx="66.4" cy="56.6" r="1.75" fill="#E864A8"/>
<circle cx="176.2" cy="116.8" r="1.75" fill="#B06AB8"/>
<circle cx="147.5" cy="39.2" r="1.75" fill="#F07470"/>
<circle cx="118.8" cy="91.9" r="1.75" fill="#8C80C8"/>
<circle cx="99.4" cy="84.2" r="1.75" fill="#3A98DC"/>
<circle cx="152.4" cy="92.4" r="1.75" fill="#8C80C8"/>
<circle cx="126.5" cy="40" r="1.75" fill="#F07470"/>
<circle cx="158.7" cy="111" r="1.75" fill="#D98B2B"/>
<circle cx="71.3" cy="78.8" r="1.75" fill="#62B84A"/>
<circle cx="96.1" cy="102" r="1.75" fill="#3A98DC"/>
<circle cx="52.3" cy="143.8" r="1.75" fill="#1CBEE0"/>
<circle cx="120.4" cy="111.3" r="1.75" fill="#3A98DC"/>
<circle cx="124.5" cy="71.5" r="1.75" fill="#F07470"/>
<circle cx="102.4" cy="115" r="1.75" fill="#2EBFA0"/>
<circle cx="96.4" cy="94.2" r="1.75" fill="#3A98DC"/>
<circle cx="175.8" cy="124.6" r="1.75" fill="#D98B2B"/>
<circle cx="120.5" cy="137.5" r="1.75" fill="#37B56B"/>
<circle cx="76.8" cy="64" r="1.75" fill="#62B84A"/>
<circle cx="184.8" cy="117.2" r="1.75" fill="#B06AB8"/>
<circle cx="142.9" cy="133" r="1.75" fill="#D98B2B"/>
<circle cx="137.4" cy="49.4" r="1.75" fill="#F07470"/>
<circle cx="56.5" cy="144.1" r="1.75" fill="#1CBEE0"/>
<circle cx="101.3" cy="110.2" r="1.75" fill="#B06AB8"/>
<circle cx="165.7" cy="77.9" r="1.75" fill="#2EBFA0"/>
<circle cx="77.4" cy="52.1" r="1.75" fill="#62B84A"/>
<circle cx="113.2" cy="150" r="1.75" fill="#37B56B"/>
<circle cx="53.8" cy="149.1" r="1.75" fill="#1CBEE0"/>
<circle cx="172.6" cy="106.2" r="1.75" fill="#2EBFA0"/>
<circle cx="75.8" cy="158.7" r="1.75" fill="#1CBEE0"/>
<circle cx="130.5" cy="37.5" r="1.75" fill="#F07470"/>
<circle cx="54.5" cy="145.7" r="1.75" fill="#1CBEE0"/>
<circle cx="125.2" cy="79.4" r="1.75" fill="#2EBFA0"/>
<circle cx="83.3" cy="128.8" r="1.75" fill="#37B56B"/>
<circle cx="132.4" cy="92.8" r="1.75" fill="#8C80C8"/>
<circle cx="100.6" cy="92.3" r="1.75" fill="#3A98DC"/>
<circle cx="168.5" cy="110" r="1.75" fill="#D98B2B"/>
<circle cx="81.7" cy="80.4" r="1.75" fill="#62B84A"/>
<circle cx="157.9" cy="95.5" r="1.75" fill="#2EBFA0"/>
<circle cx="158.6" cy="103.6" r="1.75" fill="#D98B2B"/>
<circle cx="64.8" cy="95.1" r="1.75" fill="#A39A2E"/>
<circle cx="101.2" cy="103.4" r="1.75" fill="#8C80C8"/>
<circle cx="51.4" cy="93.7" r="1.75" fill="#A39A2E"/>
<circle cx="58.4" cy="105.4" r="1.75" fill="#A39A2E"/>
<circle cx="88.9" cy="69.6" r="1.75" fill="#3A98DC"/>
<circle cx="120.1" cy="124.4" r="1.75" fill="#2EBFA0"/>
<circle cx="177" cy="100.2" r="1.75" fill="#2EBFA0"/>
<circle cx="113" cy="140" r="1.75" fill="#37B56B"/>
<circle cx="77.2" cy="60" r="1.75" fill="#E864A8"/>
<circle cx="62.7" cy="141" r="1.75" fill="#1CBEE0"/>
<circle cx="61.8" cy="124.7" r="1.75" fill="#A39A2E"/>
<circle cx="101.9" cy="81.2" r="1.75" fill="#3A98DC"/>
<circle cx="137.4" cy="104.8" r="1.75" fill="#3A98DC"/>
<circle cx="46.2" cy="101.4" r="1.75" fill="#A39A2E"/>
<circle cx="148.3" cy="37.2" r="1.75" fill="#F07470"/>
<circle cx="152.8" cy="100.1" r="1.75" fill="#8C80C8"/>
<circle cx="95.6" cy="130.5" r="1.75" fill="#62B84A"/>
<circle cx="101.3" cy="132" r="1.75" fill="#37B56B"/>
<circle cx="115.9" cy="146.5" r="1.75" fill="#37B56B"/>
<circle cx="122.8" cy="76" r="1.75" fill="#F07470"/>
<circle cx="152.9" cy="138.5" r="1.75" fill="#D98B2B"/>
<circle cx="115.5" cy="136.4" r="1.75" fill="#37B56B"/>
<circle cx="169" cy="127" r="1.75" fill="#D98B2B"/>
<circle cx="143.2" cy="86.8" r="1.75" fill="#8C80C8"/>
<circle cx="65.9" cy="80.9" r="1.75" fill="#62B84A"/>
<circle cx="179.6" cy="122.5" r="1.75" fill="#B06AB8"/>
<circle cx="113.2" cy="62" r="1.75" fill="#F07470"/>
<circle cx="116.1" cy="44.6" r="1.75" fill="#F07470"/>
<circle cx="95.9" cy="119.7" r="1.75" fill="#37B56B"/>
<circle cx="173.9" cy="122.9" r="1.75" fill="#B06AB8"/>
<circle cx="139.6" cy="90.3" r="1.75" fill="#2EBFA0"/>
<circle cx="73.3" cy="63.6" r="1.75" fill="#E864A8"/>
<circle cx="124.9" cy="38.2" r="1.75" fill="#F07470"/>
<circle cx="77.4" cy="131.8" r="1.75" fill="#37B56B"/>
<circle cx="67.6" cy="53.1" r="1.75" fill="#E864A8"/>
<circle cx="103" cy="61.6" r="1.75" fill="#F07470"/>
<circle cx="143.9" cy="120.3" r="1.75" fill="#D98B2B"/>
<circle cx="82.6" cy="64.3" r="1.75" fill="#62B84A"/>
<circle cx="136.1" cy="75.9" r="1.75" fill="#2EBFA0"/>
<circle cx="113" cy="54.9" r="1.75" fill="#F07470"/>
<circle cx="135.3" cy="39.5" r="1.75" fill="#F07470"/>
<circle cx="118.2" cy="62.2" r="1.75" fill="#F07470"/>
<circle cx="52.7" cy="114.8" r="1.75" fill="#A39A2E"/>
<circle cx="81.2" cy="69.9" r="1.75" fill="#62B84A"/>
<circle cx="157.7" cy="130.3" r="1.75" fill="#D98B2B"/>
<circle cx="107.7" cy="140.2" r="1.75" fill="#37B56B"/>
<circle cx="86.1" cy="62.2" r="1.75" fill="#62B84A"/>
<circle cx="97.1" cy="103.7" r="1.75" fill="#3A98DC"/>
<circle cx="60" cy="119.7" r="1.75" fill="#A39A2E"/>
<circle cx="120.8" cy="91" r="1.75" fill="#3A98DC"/>
<circle cx="49.9" cy="81.2" r="1.75" fill="#A39A2E"/>
<circle cx="114.2" cy="93.9" r="1.75" fill="#8C80C8"/>
<circle cx="64.8" cy="56.1" r="1.75" fill="#E864A8"/>
<circle cx="55.6" cy="110.7" r="1.75" fill="#A39A2E"/>
<circle cx="103.4" cy="135.8" r="1.75" fill="#37B56B"/>
<circle cx="63.8" cy="50" r="1.75" fill="#E864A8"/>
<circle cx="157.1" cy="110.4" r="1.75" fill="#D98B2B"/>
<circle cx="53.9" cy="101.5" r="1.75" fill="#A39A2E"/>
<circle cx="87.7" cy="127.5" r="1.75" fill="#37B56B"/>
<circle cx="127.2" cy="112.1" r="1.75" fill="#8C80C8"/>
<circle cx="146.4" cy="95.9" r="1.75" fill="#8C80C8"/>
<circle cx="166.6" cy="97.3" r="1.75" fill="#2EBFA0"/>
<circle cx="68.7" cy="114.1" r="1.75" fill="#A39A2E"/>
<circle cx="103.1" cy="128.6" r="1.75" fill="#62B84A"/>
<circle cx="117.1" cy="95.6" r="1.75" fill="#3A98DC"/>
<circle cx="129.8" cy="40.6" r="1.75" fill="#F07470"/>
<circle cx="169.7" cy="126.6" r="1.75" fill="#D98B2B"/>
<circle cx="135.8" cy="135.7" r="1.75" fill="#8C80C8"/>
<circle cx="160.4" cy="110.6" r="1.75" fill="#D98B2B"/>
<circle cx="112.7" cy="80.1" r="1.75" fill="#3A98DC"/>
<circle cx="124.1" cy="146.6" r="1.75" fill="#37B56B"/>
<circle cx="115.4" cy="118.8" r="1.75" fill="#3A98DC"/>
<circle cx="76.8" cy="79.5" r="1.75" fill="#62B84A"/>
<circle cx="164.8" cy="108.3" r="1.75" fill="#D98B2B"/>
<circle cx="141.1" cy="75.7" r="1.75" fill="#2EBFA0"/>
<circle cx="120.1" cy="102.6" r="1.75" fill="#3A98DC"/>
<circle cx="136.5" cy="121" r="1.75" fill="#3A98DC"/>
<circle cx="175.9" cy="130.7" r="1.75" fill="#B06AB8"/>
<circle cx="142.1" cy="53.4" r="1.75" fill="#F07470"/>
<circle cx="91.5" cy="79.8" r="1.75" fill="#3A98DC"/>
<circle cx="114.8" cy="50" r="1.75" fill="#F07470"/>
<circle cx="133" cy="89.9" r="1.75" fill="#3A98DC"/>
<circle cx="152.3" cy="103.1" r="1.75" fill="#B06AB8"/>
<circle cx="88.7" cy="133.3" r="1.75" fill="#2EBFA0"/>
<circle cx="114" cy="62.6" r="1.75" fill="#F07470"/>
<circle cx="127.9" cy="83.2" r="1.75" fill="#3A98DC"/>
<circle cx="135.3" cy="102.3" r="1.75" fill="#8C80C8"/>
<circle cx="110.9" cy="147.3" r="1.75" fill="#37B56B"/>
<circle cx="131.9" cy="110.2" r="1.75" fill="#3A98DC"/>
<circle cx="132.3" cy="31.5" r="1.75" fill="#F07470"/>
<circle cx="103.5" cy="124.1" r="1.75" fill="#37B56B"/>
<circle cx="73.9" cy="101.1" r="1.75" fill="#37B56B"/>
<circle cx="66.3" cy="125.9" r="1.75" fill="#A39A2E"/>
<circle cx="49.1" cy="98.7" r="1.75" fill="#A39A2E"/>
<circle cx="62.9" cy="103.1" r="1.75" fill="#A39A2E"/>
<circle cx="55.7" cy="81.9" r="1.75" fill="#A39A2E"/>
<circle cx="132.7" cy="30.4" r="1.75" fill="#F07470"/>
<circle cx="158.3" cy="87.1" r="1.75" fill="#2EBFA0"/>
<circle cx="128.5" cy="44.8" r="1.75" fill="#F07470"/>
<circle cx="56.8" cy="148.7" r="1.75" fill="#1CBEE0"/>
<circle cx="70.4" cy="155.8" r="1.75" fill="#1CBEE0"/>
<circle cx="62.2" cy="151.6" r="1.75" fill="#1CBEE0"/>
<circle cx="80.7" cy="116.8" r="1.75" fill="#37B56B"/>
<circle cx="156.8" cy="74.2" r="1.75" fill="#2EBFA0"/>
<circle cx="118.6" cy="63.5" r="1.75" fill="#F07470"/>
<circle cx="179.6" cy="124.7" r="1.75" fill="#B06AB8"/>
<circle cx="85.5" cy="122.7" r="1.75" fill="#37B56B"/>
<circle cx="50.4" cy="81.9" r="1.75" fill="#A39A2E"/>
<circle cx="73.1" cy="60.2" r="1.75" fill="#E864A8"/>
<circle cx="56.6" cy="141.1" r="1.75" fill="#1CBEE0"/>
<circle cx="87.4" cy="84.2" r="1.75" fill="#62B84A"/>
<circle cx="160.3" cy="113.2" r="1.75" fill="#D98B2B"/>
<circle cx="51.7" cy="96.1" r="1.75" fill="#A39A2E"/>
<circle cx="82.7" cy="137" r="1.75" fill="#1CBEE0"/>
<circle cx="150.8" cy="101" r="1.75" fill="#8C80C8"/>
<circle cx="92.1" cy="70.3" r="1.75" fill="#62B84A"/>
<circle cx="128.8" cy="84.3" r="1.75" fill="#B06AB8"/>
<circle cx="98.4" cy="138.4" r="1.75" fill="#37B56B"/>
<circle cx="66.9" cy="143.8" r="1.75" fill="#1CBEE0"/>
<circle cx="142.4" cy="109.3" r="1.75" fill="#8C80C8"/>
<circle cx="63.1" cy="106.3" r="1.75" fill="#A39A2E"/>
<circle cx="121.9" cy="112.5" r="1.75" fill="#3A98DC"/>
<circle cx="67.5" cy="70.3" r="1.75" fill="#E864A8"/>
<circle cx="65.3" cy="151.8" r="1.75" fill="#1CBEE0"/>
<circle cx="149.3" cy="49.9" r="1.75" fill="#2EBFA0"/>
<circle cx="119.7" cy="69.6" r="1.75" fill="#F07470"/>
<circle cx="141.4" cy="116.4" r="1.75" fill="#D98B2B"/>
<circle cx="140.9" cy="118.6" r="1.75" fill="#37B56B"/>
<circle cx="154" cy="142.3" r="1.75" fill="#D98B2B"/>
<circle cx="56.9" cy="81.9" r="1.75" fill="#A39A2E"/>
<circle cx="74" cy="134.1" r="1.75" fill="#1CBEE0"/>
<circle cx="140.9" cy="130.7" r="1.75" fill="#B06AB8"/>
<circle cx="62.7" cy="100.8" r="1.75" fill="#A39A2E"/>
<circle cx="103.8" cy="118.9" r="1.75" fill="#8C80C8"/>
<circle cx="154" cy="133.8" r="1.75" fill="#D98B2B"/>
<circle cx="44.8" cy="93.4" r="1.75" fill="#A39A2E"/>
<circle cx="80.3" cy="152" r="1.75" fill="#1CBEE0"/>
<circle cx="52.5" cy="87.5" r="1.75" fill="#A39A2E"/>
<circle cx="108.4" cy="59.8" r="1.75" fill="#F07470"/>
<circle cx="56.6" cy="150.1" r="1.75" fill="#1CBEE0"/>
<circle cx="159.1" cy="127.5" r="1.75" fill="#D98B2B"/>
<circle cx="131.5" cy="86.4" r="1.75" fill="#3A98DC"/>
<circle cx="93.8" cy="70.8" r="1.75" fill="#62B84A"/>
<circle cx="76" cy="90.5" r="1.75" fill="#62B84A"/>
<circle cx="149.1" cy="109.7" r="1.75" fill="#8C80C8"/>
<circle cx="117.9" cy="144.7" r="1.75" fill="#37B56B"/>
<circle cx="51.9" cy="129.8" r="1.75" fill="#1CBEE0"/>
<circle cx="47.5" cy="111.9" r="1.75" fill="#A39A2E"/>
<circle cx="155" cy="118.6" r="1.75" fill="#D98B2B"/>
<circle cx="128.9" cy="69" r="1.75" fill="#F07470"/>
<circle cx="133.2" cy="105.5" r="1.75" fill="#8C80C8"/>
<circle cx="55" cy="142.6" r="1.75" fill="#1CBEE0"/>
<circle cx="110.9" cy="102.2" r="1.75" fill="#3A98DC"/>
<circle cx="175.5" cy="113.3" r="1.75" fill="#B06AB8"/>
<circle cx="104.9" cy="83.3" r="1.75" fill="#3A98DC"/>
<circle cx="119.6" cy="44.8" r="1.75" fill="#F07470"/>
<circle cx="79.2" cy="85.3" r="1.75" fill="#37B56B"/>
<circle cx="64.3" cy="52" r="1.75" fill="#E864A8"/>
<circle cx="90.9" cy="61.6" r="1.75" fill="#62B84A"/>
<circle cx="88.2" cy="67.4" r="1.75" fill="#62B84A"/>
<circle cx="65.1" cy="153.1" r="1.75" fill="#1CBEE0"/>
<circle cx="146" cy="107.9" r="1.75" fill="#8C80C8"/>
<circle cx="148.9" cy="109.7" r="1.75" fill="#B06AB8"/>
<circle cx="135.6" cy="38" r="1.75" fill="#F07470"/>
<circle cx="93" cy="81.1" r="1.75" fill="#62B84A"/>
<circle cx="184.7" cy="117.3" r="1.75" fill="#B06AB8"/>
<circle cx="165.9" cy="131.6" r="1.75" fill="#D98B2B"/>
<circle cx="137.5" cy="86.4" r="1.75" fill="#2EBFA0"/>
<circle cx="43.8" cy="106.5" r="1.75" fill="#A39A2E"/>
<circle cx="72.4" cy="122.1" r="1.75" fill="#37B56B"/>
<circle cx="106.6" cy="100" r="1.75" fill="#62B84A"/>
<circle cx="120.6" cy="61.9" r="1.75" fill="#F07470"/>
<circle cx="129.4" cy="59" r="1.75" fill="#F07470"/>
<circle cx="152.8" cy="139.8" r="1.75" fill="#D98B2B"/>
<circle cx="60.4" cy="157.3" r="1.75" fill="#1CBEE0"/>
<circle cx="99.1" cy="84.2" r="1.75" fill="#3A98DC"/>
<circle cx="108.8" cy="65.3" r="1.75" fill="#F07470"/>
<circle cx="107.9" cy="131.3" r="1.75" fill="#2EBFA0"/>
<circle cx="53.5" cy="138.3" r="1.75" fill="#1CBEE0"/>
<circle cx="68.3" cy="154" r="1.75" fill="#1CBEE0"/>
<circle cx="127.1" cy="89.1" r="1.75" fill="#3A98DC"/>
<circle cx="71.7" cy="161" r="1.75" fill="#1CBEE0"/>
<circle cx="158.7" cy="119.3" r="1.75" fill="#D98B2B"/>
<circle cx="43.9" cy="93.6" r="1.75" fill="#A39A2E"/>
<circle cx="180.1" cy="126.2" r="1.75" fill="#B06AB8"/>
<circle cx="152.9" cy="130.3" r="1.75" fill="#2EBFA0"/>
<circle cx="92.9" cy="131.3" r="1.75" fill="#37B56B"/>
<circle cx="73" cy="75.3" r="1.75" fill="#62B84A"/>
<circle cx="121.5" cy="51.8" r="1.75" fill="#F07470"/>
<circle cx="107.2" cy="71.4" r="1.75" fill="#62B84A"/>
<circle cx="139.9" cy="54.2" r="1.75" fill="#F07470"/>
<circle cx="73.1" cy="111.5" r="1.75" fill="#37B56B"/>
<circle cx="65.9" cy="69.7" r="1.75" fill="#E864A8"/>
<circle cx="120.5" cy="132.8" r="1.75" fill="#37B56B"/>
<circle cx="132" cy="90.9" r="1.75" fill="#8C80C8"/>
<circle cx="107" cy="101" r="1.75" fill="#62B84A"/>
<circle cx="110.2" cy="82.4" r="1.75" fill="#3A98DC"/>
<circle cx="78" cy="70" r="1.75" fill="#62B84A"/>
<circle cx="136.4" cy="89.2" r="1.75" fill="#3A98DC"/>
<circle cx="42.4" cy="92.6" r="1.75" fill="#A39A2E"/>
<circle cx="90.5" cy="72.8" r="1.75" fill="#62B84A"/>
<circle cx="60.4" cy="109.5" r="1.75" fill="#A39A2E"/>
<circle cx="82.4" cy="85.7" r="1.75" fill="#62B84A"/>
<circle cx="104.2" cy="137.9" r="1.75" fill="#37B56B"/>
<circle cx="58.5" cy="149.8" r="1.75" fill="#1CBEE0"/>
<circle cx="149.2" cy="83.6" r="1.75" fill="#2EBFA0"/>
<circle cx="117.6" cy="143.5" r="1.75" fill="#37B56B"/>
<circle cx="95.5" cy="75.7" r="1.75" fill="#62B84A"/>
<circle cx="65.6" cy="113.6" r="1.75" fill="#A39A2E"/>
<circle cx="101.9" cy="78.5" r="1.75" fill="#62B84A"/>
<circle cx="103.7" cy="131.4" r="1.75" fill="#62B84A"/>
<circle cx="74.3" cy="58.4" r="1.75" fill="#E864A8"/>
<circle cx="96.8" cy="124.3" r="1.75" fill="#37B56B"/>
<circle cx="89" cy="130.2" r="1.75" fill="#37B56B"/>
<circle cx="71.8" cy="138.6" r="1.75" fill="#1CBEE0"/>
<circle cx="121.7" cy="111" r="1.75" fill="#B06AB8"/>
<circle cx="63.5" cy="121" r="1.75" fill="#A39A2E"/>
<circle cx="137.7" cy="64.1" r="1.75" fill="#2EBFA0"/>
<circle cx="49.5" cy="112.7" r="1.75" fill="#A39A2E"/>
<circle cx="140.5" cy="132.5" r="1.75" fill="#D98B2B"/>
<circle cx="113.7" cy="49.3" r="1.75" fill="#F07470"/>
<circle cx="149.8" cy="120.5" r="1.75" fill="#D98B2B"/>
<circle cx="131.3" cy="93.8" r="1.75" fill="#8C80C8"/>
<circle cx="59.3" cy="136.5" r="1.75" fill="#1CBEE0"/>
<circle cx="129.8" cy="30.9" r="1.75" fill="#F07470"/>
<circle cx="59.9" cy="68.5" r="1.75" fill="#E864A8"/>
<circle cx="57.9" cy="148.2" r="1.75" fill="#1CBEE0"/>
<circle cx="116.2" cy="83.4" r="1.75" fill="#3A98DC"/>
<circle cx="172.4" cy="110.6" r="1.75" fill="#D98B2B"/>
<circle cx="117.2" cy="44.6" r="1.75" fill="#F07470"/>
<circle cx="73.3" cy="56" r="1.75" fill="#E864A8"/>
<circle cx="141.7" cy="102.9" r="1.75" fill="#8C80C8"/>
<circle cx="67.2" cy="128.2" r="1.75" fill="#1CBEE0"/>
<circle cx="142.1" cy="70.5" r="1.75" fill="#2EBFA0"/>
<circle cx="170.4" cy="132.5" r="1.75" fill="#D98B2B"/>
<circle cx="127.4" cy="34.3" r="1.75" fill="#F07470"/>
<circle cx="137.5" cy="120.7" r="1.75" fill="#3A98DC"/>
<circle cx="55.9" cy="88" r="1.75" fill="#A39A2E"/>
<circle cx="63.4" cy="137" r="1.75" fill="#1CBEE0"/>
<circle cx="108.7" cy="91.7" r="1.75" fill="#3A98DC"/>
<circle cx="130.3" cy="43.6" r="1.75" fill="#F07470"/>
<circle cx="90.7" cy="65" r="1.75" fill="#62B84A"/>
<circle cx="136.9" cy="104.7" r="1.75" fill="#3A98DC"/>
<circle cx="64.6" cy="114.3" r="1.75" fill="#A39A2E"/>
<circle cx="66.7" cy="153.8" r="1.75" fill="#1CBEE0"/>
<circle cx="60.5" cy="145.7" r="1.75" fill="#1CBEE0"/>
<circle cx="76.1" cy="94.4" r="1.75" fill="#62B84A"/>
<circle cx="61.1" cy="109.5" r="1.75" fill="#A39A2E"/>
<circle cx="119.8" cy="124" r="1.75" fill="#3A98DC"/>
<circle cx="141.1" cy="125.2" r="1.75" fill="#D98B2B"/>
<circle cx="127.5" cy="38.2" r="1.75" fill="#F07470"/>
<circle cx="127.7" cy="34.7" r="1.75" fill="#F07470"/>
<circle cx="140.4" cy="75.9" r="1.75" fill="#2EBFA0"/>
<circle cx="160.6" cy="105.7" r="1.75" fill="#D98B2B"/>
<circle cx="45.9" cy="101.2" r="1.75" fill="#A39A2E"/>
<circle cx="50.1" cy="95.4" r="1.75" fill="#A39A2E"/>
<circle cx="145.3" cy="81.2" r="1.75" fill="#2EBFA0"/>
<circle cx="92.2" cy="78.2" r="1.75" fill="#62B84A"/>
<circle cx="149.4" cy="120.6" r="1.75" fill="#B06AB8"/>
<circle cx="119.6" cy="44.8" r="1.75" fill="#F07470"/>
<circle cx="140.4" cy="39.4" r="1.75" fill="#F07470"/>
<circle cx="175.1" cy="116.3" r="1.75" fill="#D98B2B"/>
<circle cx="112.7" cy="136" r="1.75" fill="#37B56B"/>
<circle cx="65.9" cy="154.6" r="1.75" fill="#1CBEE0"/>
<circle cx="125.2" cy="49.7" r="1.75" fill="#F07470"/>
<circle cx="58.6" cy="55.5" r="1.75" fill="#E864A8"/>
<circle cx="168.3" cy="122.1" r="1.75" fill="#D98B2B"/>
<circle cx="117.1" cy="100.5" r="1.75" fill="#3A98DC"/>
<circle cx="160.9" cy="125.7" r="1.75" fill="#D98B2B"/>
<circle cx="115.3" cy="104.2" r="1.75" fill="#3A98DC"/>
<circle cx="146.4" cy="85.1" r="1.75" fill="#2EBFA0"/>
<circle cx="125.6" cy="68.4" r="1.75" fill="#F07470"/>
<circle cx="87" cy="70.7" r="1.75" fill="#62B84A"/>
<circle cx="54.1" cy="96.6" r="1.75" fill="#A39A2E"/>
<circle cx="165.8" cy="125.7" r="1.75" fill="#D98B2B"/>
<circle cx="109.7" cy="83.6" r="1.75" fill="#3A98DC"/>
</g>
<rect x="124.8" y="44.1" width="9.8" height="11.5" rx="1.2" fill="#F07470" stroke="#111" stroke-width="1"/>
<text x="129.7" y="53.7" font-size="11.2" text-anchor="middle" font-weight="normal" font-style="normal" fill="#000" >0</text>
<rect x="62" y="56.3" width="15.4" height="10.5" rx="1.2" fill="#E864A8" stroke="#111" stroke-width="1"/>
<text x="69.7" y="64.9" font-size="11.2" text-anchor="middle" font-weight="normal" font-style="normal" fill="#000" >10</text>
<rect x="84.4" y="69.4" width="9.4" height="10.4" rx="1.2" fill="#62B84A" stroke="#111" stroke-width="1"/>
<text x="89.1" y="77.9" font-size="11.2" text-anchor="middle" font-weight="normal" font-style="normal" fill="#000" >3</text>
<rect x="143.4" y="73.4" width="10.1" height="11.1" rx="1.2" fill="#2EBFA0" stroke="#111" stroke-width="1"/>
<text x="148.4" y="82.6" font-size="11.2" text-anchor="middle" font-weight="normal" font-style="normal" fill="#000" >5</text>
<rect x="50.2" y="93.4" width="9.6" height="11" rx="1.2" fill="#A39A2E" stroke="#111" stroke-width="1"/>
<text x="55" y="102.5" font-size="11.2" text-anchor="middle" font-weight="normal" font-style="normal" fill="#000" >2</text>
<rect x="117.2" y="93.6" width="9.7" height="10.7" rx="1.2" fill="#3A98DC" stroke="#111" stroke-width="1"/>
<text x="122.1" y="102.4" font-size="11.2" text-anchor="middle" font-weight="normal" font-style="normal" fill="#000" >7</text>
<rect x="139.5" y="101.8" width="9.2" height="10.2" rx="1.2" fill="#8C80C8" stroke="#111" stroke-width="1"/>
<text x="144.1" y="110.1" font-size="11.2" text-anchor="middle" font-weight="normal" font-style="normal" fill="#000" >8</text>
<rect x="138.9" y="114.4" width="8.7" height="10.4" rx="1.2" fill="#B06AB8" stroke="#111" stroke-width="1"/>
<text x="143.2" y="122.9" font-size="11.2" text-anchor="middle" font-weight="normal" font-style="normal" fill="#000" >9</text>
<rect x="155" y="117.7" width="9.5" height="10.1" rx="1.2" fill="#D98B2B" stroke="#111" stroke-width="1"/>
<text x="159.8" y="125.9" font-size="11.2" text-anchor="middle" font-weight="normal" font-style="normal" fill="#000" >1</text>
<rect x="98.1" y="128.5" width="9.7" height="11" rx="1.2" fill="#37B56B" stroke="#111" stroke-width="1"/>
<text x="102.9" y="137.6" font-size="11.2" text-anchor="middle" font-weight="normal" font-style="normal" fill="#000" >4</text>
<rect x="58.3" y="144.8" width="9.6" height="11" rx="1.2" fill="#1CBEE0" stroke="#111" stroke-width="1"/>
<text x="63.1" y="153.9" font-size="11.2" text-anchor="middle" font-weight="normal" font-style="normal" fill="#000" >6</text>
<line x1="33.6" y1="23" x2="33.6" y2="168.5" stroke="#444" stroke-width="1.2" />
<line x1="33.1" y1="168.5" x2="192" y2="168.5" stroke="#444" stroke-width="1.2" />
<line x1="31.3" y1="25.2" x2="33.6" y2="25.2" stroke="#111" stroke-width="1.3" />
<text x="27.2" y="28.7" font-size="11" text-anchor="end" font-weight="normal" font-style="normal" fill="#1a1a1a" >6</text>
<line x1="31.3" y1="62" x2="33.6" y2="62" stroke="#111" stroke-width="1.3" />
<text x="27.2" y="65.5" font-size="11" text-anchor="end" font-weight="normal" font-style="normal" fill="#1a1a1a" >3</text>
<line x1="31.3" y1="99" x2="33.6" y2="99" stroke="#111" stroke-width="1.3" />
<text x="27.2" y="102.5" font-size="11" text-anchor="end" font-weight="normal" font-style="normal" fill="#1a1a1a" >0</text>
<line x1="31.3" y1="136" x2="33.6" y2="136" stroke="#111" stroke-width="1.3" />
<text x="27.2" y="139.5" font-size="11" text-anchor="end" font-weight="normal" font-style="normal" fill="#1a1a1a" >−3</text>
<line x1="40" y1="168.5" x2="40" y2="170.8" stroke="#111" stroke-width="1.3" />
<text x="40" y="181.2" font-size="11" text-anchor="middle" font-weight="normal" font-style="normal" fill="#1a1a1a" >−6</text>
<line x1="76.4" y1="168.5" x2="76.4" y2="170.8" stroke="#111" stroke-width="1.3" />
<text x="76.4" y="181.2" font-size="11" text-anchor="middle" font-weight="normal" font-style="normal" fill="#1a1a1a" >−3</text>
<line x1="112.8" y1="168.5" x2="112.8" y2="170.8" stroke="#111" stroke-width="1.3" />
<text x="112.8" y="181.2" font-size="11" text-anchor="middle" font-weight="normal" font-style="normal" fill="#1a1a1a" >0</text>
<line x1="149.2" y1="168.5" x2="149.2" y2="170.8" stroke="#111" stroke-width="1.3" />
<text x="149.2" y="181.2" font-size="11" text-anchor="middle" font-weight="normal" font-style="normal" fill="#1a1a1a" >3</text>
<line x1="185.6" y1="168.5" x2="185.6" y2="170.8" stroke="#111" stroke-width="1.3" />
<text x="185.6" y="181.2" font-size="11" text-anchor="middle" font-weight="normal" font-style="normal" fill="#1a1a1a" >6</text>
<text x="114.5" y="191" font-size="11" text-anchor="middle" font-weight="normal" font-style="normal" fill="#1a1a1a" >UMAP_1</text>
<text x="15.2" y="96" font-size="11" text-anchor="middle" font-weight="normal" font-style="normal" fill="#1a1a1a" transform="rotate(-90 15.2 96)">UMAP_2</text>
<text x="186" y="45" font-size="10.3" text-anchor="start" font-weight="normal" font-style="normal" fill="#1a1a1a" >Cluster</text>
<circle cx="195.4" cy="56.2" r="2.5" fill="#F07470"/>
<text x="200.9" y="59.8" font-size="9.3" text-anchor="start" font-weight="normal" font-style="normal" fill="#1a1a1a" >0</text>
<circle cx="195.4" cy="64.7" r="2.5" fill="#D98B2B"/>
<text x="200.9" y="68.3" font-size="9.3" text-anchor="start" font-weight="normal" font-style="normal" fill="#1a1a1a" >1</text>
<circle cx="195.4" cy="73.1" r="2.5" fill="#A39A2E"/>
<text x="200.9" y="76.7" font-size="9.3" text-anchor="start" font-weight="normal" font-style="normal" fill="#1a1a1a" >2</text>
<circle cx="195.4" cy="81.6" r="2.5" fill="#62B84A"/>
<text x="200.9" y="85.2" font-size="9.3" text-anchor="start" font-weight="normal" font-style="normal" fill="#1a1a1a" >3</text>
<circle cx="195.4" cy="90" r="2.5" fill="#37B56B"/>
<text x="200.9" y="93.6" font-size="9.3" text-anchor="start" font-weight="normal" font-style="normal" fill="#1a1a1a" >4</text>
<circle cx="195.4" cy="98.5" r="2.5" fill="#2EBFA0"/>
<text x="200.9" y="102.1" font-size="9.3" text-anchor="start" font-weight="normal" font-style="normal" fill="#1a1a1a" >5</text>
<circle cx="195.4" cy="107" r="2.5" fill="#1CBEE0"/>
<text x="200.9" y="110.6" font-size="9.3" text-anchor="start" font-weight="normal" font-style="normal" fill="#1a1a1a" >6</text>
<circle cx="195.4" cy="115.4" r="2.5" fill="#3A98DC"/>
<text x="200.9" y="119" font-size="9.3" text-anchor="start" font-weight="normal" font-style="normal" fill="#1a1a1a" >7</text>
<circle cx="195.4" cy="123.9" r="2.5" fill="#8C80C8"/>
<text x="200.9" y="127.5" font-size="9.3" text-anchor="start" font-weight="normal" font-style="normal" fill="#1a1a1a" >8</text>
<circle cx="195.4" cy="132.3" r="2.5" fill="#B06AB8"/>
<text x="200.9" y="135.9" font-size="9.3" text-anchor="start" font-weight="normal" font-style="normal" fill="#1a1a1a" >9</text>
<circle cx="195.4" cy="140.8" r="2.5" fill="#E864A8"/>
<text x="200.9" y="144.4" font-size="9.3" text-anchor="start" font-weight="normal" font-style="normal" fill="#1a1a1a" >10</text>
<g fill="#CBCBCB">
<circle cx="355.3" cy="120.2" r="1.75"/>
<circle cx="277" cy="87" r="1.75"/>
<circle cx="397.5" cy="109.1" r="1.75"/>
<circle cx="335" cy="60.7" r="1.75"/>
<circle cx="310" cy="141.2" r="1.75"/>
<circle cx="354.6" cy="46.2" r="1.75"/>
<circle cx="300.8" cy="56.9" r="1.75"/>
<circle cx="311.3" cy="146.7" r="1.75"/>
<circle cx="300.2" cy="144.2" r="1.75"/>
<circle cx="312.9" cy="103.6" r="1.75"/>
<circle cx="317.7" cy="68.3" r="1.75"/>
<circle cx="381.1" cy="88.8" r="1.75"/>
<circle cx="314.8" cy="88.9" r="1.75"/>
<circle cx="366.1" cy="37.9" r="1.75"/>
<circle cx="372" cy="132.6" r="1.75"/>
<circle cx="321.5" cy="100.6" r="1.75"/>
<circle cx="297" cy="145.9" r="1.75"/>
<circle cx="318.6" cy="73.7" r="1.75"/>
<circle cx="342.4" cy="124.3" r="1.75"/>
<circle cx="287.4" cy="121" r="1.75"/>
<circle cx="285.2" cy="72" r="1.75"/>
<circle cx="345" cy="68.6" r="1.75"/>
<circle cx="351.5" cy="130.4" r="1.75"/>
<circle cx="333.3" cy="81.7" r="1.75"/>
<circle cx="277.5" cy="90.4" r="1.75"/>
<circle cx="356.3" cy="125.8" r="1.75"/>
<circle cx="287.3" cy="83.3" r="1.75"/>
<circle cx="292.9" cy="132.6" r="1.75"/>
<circle cx="312.1" cy="85.5" r="1.75"/>
<circle cx="337.5" cy="118.8" r="1.75"/>
<circle cx="336.3" cy="66" r="1.75"/>
<circle cx="399.7" cy="106.4" r="1.75"/>
<circle cx="339" cy="71.7" r="1.75"/>
<circle cx="320.8" cy="125.6" r="1.75"/>
<circle cx="375.3" cy="114.6" r="1.75"/>
<circle cx="360.7" cy="122.4" r="1.75"/>
<circle cx="321.1" cy="115.7" r="1.75"/>
<circle cx="310.2" cy="89.4" r="1.75"/>
<circle cx="374.7" cy="114.1" r="1.75"/>
<circle cx="311.9" cy="144.7" r="1.75"/>
<circle cx="358.8" cy="100.9" r="1.75"/>
<circle cx="274.7" cy="96.8" r="1.75"/>
<circle cx="306.2" cy="111.8" r="1.75"/>
<circle cx="334.2" cy="129.2" r="1.75"/>
<circle cx="358.5" cy="127" r="1.75"/>
<circle cx="319.1" cy="108.5" r="1.75"/>
<circle cx="370.4" cy="130.6" r="1.75"/>
<circle cx="319.3" cy="132.4" r="1.75"/>
<circle cx="387.9" cy="113.8" r="1.75"/>
<circle cx="341.5" cy="94.7" r="1.75"/>
<circle cx="295.1" cy="131.6" r="1.75"/>
<circle cx="364.3" cy="117.6" r="1.75"/>
<circle cx="369.5" cy="51.7" r="1.75"/>
<circle cx="376.1" cy="100.9" r="1.75"/>
<circle cx="355.4" cy="124.2" r="1.75"/>
<circle cx="357.1" cy="117.7" r="1.75"/>
<circle cx="331.3" cy="109.2" r="1.75"/>
<circle cx="302.1" cy="113.5" r="1.75"/>
<circle cx="356.3" cy="36" r="1.75"/>
<circle cx="335.4" cy="58.2" r="1.75"/>
<circle cx="334.5" cy="76.7" r="1.75"/>
<circle cx="353.8" cy="102" r="1.75"/>
<circle cx="304.5" cy="139.7" r="1.75"/>
<circle cx="288.4" cy="131" r="1.75"/>
<circle cx="354.1" cy="42.4" r="1.75"/>
<circle cx="381.1" cy="81.4" r="1.75"/>
<circle cx="380.4" cy="108.3" r="1.75"/>
<circle cx="351.7" cy="98.8" r="1.75"/>
<circle cx="353.4" cy="73.2" r="1.75"/>
<circle cx="287.4" cy="99.1" r="1.75"/>
<circle cx="354.3" cy="47.9" r="1.75"/>
<circle cx="322.7" cy="82.9" r="1.75"/>
<circle cx="303" cy="66.1" r="1.75"/>
<circle cx="351.7" cy="62.3" r="1.75"/>
<circle cx="328" cy="69.4" r="1.75"/>
<circle cx="310.9" cy="88.4" r="1.75"/>
<circle cx="289.3" cy="105.8" r="1.75"/>
<circle cx="331.6" cy="66.3" r="1.75"/>
<circle cx="376.2" cy="130.5" r="1.75"/>
<circle cx="274.9" cy="95.1" r="1.75"/>
<circle cx="309.3" cy="143.5" r="1.75"/>
<circle cx="353.3" cy="88.1" r="1.75"/>
<circle cx="358.2" cy="103.6" r="1.75"/>
<circle cx="371.2" cy="45.2" r="1.75"/>
<circle cx="373.4" cy="67.2" r="1.75"/>
<circle cx="343.5" cy="71.4" r="1.75"/>
<circle cx="334.4" cy="74.4" r="1.75"/>
<circle cx="371.4" cy="102.1" r="1.75"/>
<circle cx="390.2" cy="96.6" r="1.75"/>
<circle cx="329.6" cy="100.2" r="1.75"/>
<circle cx="366.5" cy="107.1" r="1.75"/>
<circle cx="324" cy="78.1" r="1.75"/>
<circle cx="364.8" cy="83.1" r="1.75"/>
<circle cx="336.3" cy="97.1" r="1.75"/>
<circle cx="338.8" cy="70.8" r="1.75"/>
<circle cx="293.4" cy="101.5" r="1.75"/>
<circle cx="303.5" cy="129.6" r="1.75"/>
<circle cx="377.6" cy="110.8" r="1.75"/>
<circle cx="365.6" cy="36.9" r="1.75"/>
<circle cx="367.1" cy="47.2" r="1.75"/>
<circle cx="311.8" cy="141.4" r="1.75"/>
<circle cx="292.9" cy="104.5" r="1.75"/>
<circle cx="355.2" cy="36.2" r="1.75"/>
<circle cx="287.5" cy="76.6" r="1.75"/>
<circle cx="330.1" cy="68.8" r="1.75"/>
<circle cx="352.3" cy="89.9" r="1.75"/>
<circle cx="293.1" cy="107" r="1.75"/>
<circle cx="346.3" cy="105.7" r="1.75"/>
<circle cx="306.7" cy="121.3" r="1.75"/>
<circle cx="341.3" cy="47.1" r="1.75"/>
<circle cx="304.1" cy="75.7" r="1.75"/>
<circle cx="370.3" cy="52.6" r="1.75"/>
<circle cx="367.2" cy="109.8" r="1.75"/>
<circle cx="284.4" cy="111.4" r="1.75"/>
<circle cx="351.5" cy="59.7" r="1.75"/>
<circle cx="388.8" cy="88.8" r="1.75"/>
<circle cx="315.8" cy="126.8" r="1.75"/>
<circle cx="398.7" cy="112.9" r="1.75"/>
<circle cx="401.4" cy="111" r="1.75"/>
<circle cx="355.5" cy="73.6" r="1.75"/>
<circle cx="304.2" cy="71.1" r="1.75"/>
<circle cx="354.1" cy="72.9" r="1.75"/>
<circle cx="382.7" cy="108.9" r="1.75"/>
<circle cx="379.2" cy="83.1" r="1.75"/>
<circle cx="385.4" cy="93.3" r="1.75"/>
<circle cx="351.3" cy="100" r="1.75"/>
<circle cx="370.8" cy="78.6" r="1.75"/>
<circle cx="390.4" cy="88.9" r="1.75"/>
<circle cx="354.8" cy="82.6" r="1.75"/>
<circle cx="293.6" cy="50.1" r="1.75"/>
<circle cx="322.6" cy="77.4" r="1.75"/>
<circle cx="306.7" cy="64.4" r="1.75"/>
<circle cx="294.5" cy="65.5" r="1.75"/>
<circle cx="304.2" cy="89" r="1.75"/>
<circle cx="363.8" cy="112.1" r="1.75"/>
<circle cx="288.7" cy="111.4" r="1.75"/>
<circle cx="311.6" cy="112.1" r="1.75"/>
<circle cx="369.3" cy="50.6" r="1.75"/>
<circle cx="321.2" cy="68.5" r="1.75"/>
<circle cx="334.9" cy="65.1" r="1.75"/>
<circle cx="369.7" cy="117.4" r="1.75"/>
<circle cx="294.7" cy="59.9" r="1.75"/>
<circle cx="341.6" cy="73.1" r="1.75"/>
<circle cx="391.7" cy="90.1" r="1.75"/>
<circle cx="296.8" cy="92.2" r="1.75"/>
<circle cx="326.2" cy="94.9" r="1.75"/>
<circle cx="287.4" cy="96.2" r="1.75"/>
<circle cx="394.6" cy="103" r="1.75"/>
<circle cx="275.5" cy="95.9" r="1.75"/>
<circle cx="322.8" cy="106.2" r="1.75"/>
<circle cx="313.7" cy="85" r="1.75"/>
<circle cx="288.4" cy="68.5" r="1.75"/>
<circle cx="381.2" cy="68.6" r="1.75"/>
<circle cx="329.7" cy="100.4" r="1.75"/>
<circle cx="365.5" cy="36.8" r="1.75"/>
<circle cx="299.5" cy="65.4" r="1.75"/>
<circle cx="328.6" cy="68.8" r="1.75"/>
<circle cx="372.4" cy="97.9" r="1.75"/>
<circle cx="391.3" cy="109.7" r="1.75"/>
<circle cx="373.3" cy="100.1" r="1.75"/>
<circle cx="331.5" cy="129.3" r="1.75"/>
<circle cx="369.2" cy="115.4" r="1.75"/>
<circle cx="307.8" cy="112.3" r="1.75"/>
<circle cx="373.9" cy="98" r="1.75"/>
<circle cx="290.3" cy="74" r="1.75"/>
<circle cx="353.9" cy="58.8" r="1.75"/>
<circle cx="329.7" cy="74.6" r="1.75"/>
<circle cx="350.2" cy="130.5" r="1.75"/>
<circle cx="369" cy="42.5" r="1.75"/>
<circle cx="343.1" cy="51.6" r="1.75"/>
<circle cx="366.7" cy="84.7" r="1.75"/>
<circle cx="288.8" cy="69.1" r="1.75"/>
<circle cx="330.4" cy="84.1" r="1.75"/>
<circle cx="351.8" cy="43.5" r="1.75"/>
<circle cx="380.5" cy="81.5" r="1.75"/>
<circle cx="277.5" cy="100.4" r="1.75"/>
<circle cx="336.7" cy="137.1" r="1.75"/>
<circle cx="325" cy="56.9" r="1.75"/>
<circle cx="309.7" cy="55.2" r="1.75"/>
<circle cx="347.3" cy="73.9" r="1.75"/>
<circle cx="372.2" cy="60.1" r="1.75"/>
<circle cx="319.6" cy="60.9" r="1.75"/>
<circle cx="385.2" cy="105.4" r="1.75"/>
<circle cx="382.8" cy="90" r="1.75"/>
<circle cx="286.2" cy="117.3" r="1.75"/>
<circle cx="378.2" cy="70" r="1.75"/>
<circle cx="355.3" cy="127.3" r="1.75"/>
<circle cx="297.5" cy="77.8" r="1.75"/>
<circle cx="314.3" cy="77.1" r="1.75"/>
<circle cx="336" cy="115.6" r="1.75"/>
<circle cx="364.5" cy="111.6" r="1.75"/>
<circle cx="343.9" cy="127.1" r="1.75"/>
<circle cx="321" cy="102.4" r="1.75"/>
<circle cx="362.8" cy="93.8" r="1.75"/>
<circle cx="284.7" cy="73.8" r="1.75"/>
<circle cx="367.4" cy="67.9" r="1.75"/>
<circle cx="367.6" cy="39.7" r="1.75"/>
<circle cx="372.5" cy="111.6" r="1.75"/>
<circle cx="363.8" cy="131.8" r="1.75"/>
<circle cx="370.5" cy="104.5" r="1.75"/>
<circle cx="300.7" cy="93.2" r="1.75"/>
<circle cx="401.7" cy="96.4" r="1.75"/>
<circle cx="393.2" cy="104.8" r="1.75"/>
<circle cx="364" cy="97.6" r="1.75"/>
<circle cx="367.5" cy="76" r="1.75"/>
<circle cx="313.5" cy="63.2" r="1.75"/>
<circle cx="295.3" cy="107.1" r="1.75"/>
<circle cx="281.5" cy="99.1" r="1.75"/>
<circle cx="369.2" cy="81.1" r="1.75"/>
<circle cx="329.3" cy="94.6" r="1.75"/>
<circle cx="310.2" cy="103.8" r="1.75"/>
<circle cx="347.3" cy="103.6" r="1.75"/>
<circle cx="297.4" cy="53.9" r="1.75"/>
<circle cx="351.6" cy="108.8" r="1.75"/>
<circle cx="364.2" cy="118.7" r="1.75"/>
<circle cx="281.3" cy="89.3" r="1.75"/>
<circle cx="315.2" cy="133.3" r="1.75"/>
<circle cx="303.4" cy="114.8" r="1.75"/>
<circle cx="384" cy="88.3" r="1.75"/>
<circle cx="293.2" cy="105.1" r="1.75"/>
<circle cx="287" cy="122.2" r="1.75"/>
<circle cx="370.2" cy="129.2" r="1.75"/>
<circle cx="379.1" cy="116.8" r="1.75"/>
<circle cx="322.6" cy="86.2" r="1.75"/>
<circle cx="362.9" cy="120.4" r="1.75"/>
<circle cx="284.2" cy="79.5" r="1.75"/>
<circle cx="344.8" cy="76.1" r="1.75"/>
<circle cx="288.7" cy="102.8" r="1.75"/>
<circle cx="322.5" cy="113.3" r="1.75"/>
<circle cx="373.3" cy="117.8" r="1.75"/>
<circle cx="336.3" cy="73.6" r="1.75"/>
<circle cx="323.6" cy="66" r="1.75"/>
<circle cx="338.9" cy="114.8" r="1.75"/>
<circle cx="377.2" cy="100.3" r="1.75"/>
<circle cx="312.2" cy="71.5" r="1.75"/>
<circle cx="385" cy="93.5" r="1.75"/>
<circle cx="279.8" cy="81.6" r="1.75"/>
<circle cx="304.5" cy="111.1" r="1.75"/>
<circle cx="285.9" cy="88.5" r="1.75"/>
<circle cx="285.3" cy="73.8" r="1.75"/>
<circle cx="374.1" cy="74.4" r="1.75"/>
<circle cx="333.6" cy="77.1" r="1.75"/>
<circle cx="341.3" cy="37.4" r="1.75"/>
<circle cx="302" cy="148.2" r="1.75"/>
<circle cx="331.5" cy="87.8" r="1.75"/>
<circle cx="399" cy="113.7" r="1.75"/>
<circle cx="325" cy="124.6" r="1.75"/>
<circle cx="330.5" cy="102.4" r="1.75"/>
<circle cx="392.1" cy="108.6" r="1.75"/>
<circle cx="357" cy="35.3" r="1.75"/>
<circle cx="292.7" cy="124.9" r="1.75"/>
<circle cx="328.7" cy="63.6" r="1.75"/>
<circle cx="335.1" cy="65.5" r="1.75"/>
<circle cx="361" cy="45.8" r="1.75"/>
<circle cx="295.5" cy="86.1" r="1.75"/>
<circle cx="282.9" cy="76.9" r="1.75"/>
<circle cx="352.1" cy="47.4" r="1.75"/>
<circle cx="304.4" cy="141.7" r="1.75"/>
<circle cx="308.4" cy="121.7" r="1.75"/>
<circle cx="322.4" cy="124.3" r="1.75"/>
<circle cx="293.2" cy="93.4" r="1.75"/>
<circle cx="358" cy="76.1" r="1.75"/>
<circle cx="321.8" cy="88.5" r="1.75"/>
<circle cx="305" cy="99.4" r="1.75"/>
<circle cx="369.6" cy="47.1" r="1.75"/>
<circle cx="336.6" cy="115.9" r="1.75"/>
<circle cx="328.4" cy="91.7" r="1.75"/>
<circle cx="353.7" cy="126.4" r="1.75"/>
<circle cx="280.6" cy="91.2" r="1.75"/>
<circle cx="312.4" cy="85.1" r="1.75"/>
<circle cx="322" cy="94.8" r="1.75"/>
<circle cx="332.3" cy="119.6" r="1.75"/>
<circle cx="342.9" cy="77.8" r="1.75"/>
<circle cx="345.9" cy="130.8" r="1.75"/>
<circle cx="291.4" cy="73.2" r="1.75"/>
<circle cx="370.9" cy="62.5" r="1.75"/>
<circle cx="382.5" cy="106.3" r="1.75"/>
<circle cx="324.4" cy="106.6" r="1.75"/>
<circle cx="305.6" cy="62.7" r="1.75"/>
<circle cx="388.7" cy="83.8" r="1.75"/>
<circle cx="370.7" cy="98.5" r="1.75"/>
<circle cx="381.8" cy="90.5" r="1.75"/>
<circle cx="350.8" cy="45.1" r="1.75"/>
<circle cx="368.2" cy="104.5" r="1.75"/>
<circle cx="353.9" cy="57.6" r="1.75"/>
<circle cx="333.9" cy="109.1" r="1.75"/>
<circle cx="390.8" cy="117.7" r="1.75"/>
<circle cx="282.3" cy="108.4" r="1.75"/>
<circle cx="373.1" cy="93" r="1.75"/>
<circle cx="392.1" cy="87" r="1.75"/>
<circle cx="293.7" cy="57" r="1.75"/>
<circle cx="307.9" cy="144.9" r="1.75"/>
<circle cx="329.2" cy="105.8" r="1.75"/>
<circle cx="359" cy="52" r="1.75"/>
<circle cx="291.5" cy="90.1" r="1.75"/>
<circle cx="363.8" cy="84.8" r="1.75"/>
<circle cx="292.3" cy="63.2" r="1.75"/>
<circle cx="338.3" cy="95.5" r="1.75"/>
<circle cx="391.8" cy="97.8" r="1.75"/>
<circle cx="376.6" cy="131.6" r="1.75"/>
<circle cx="307.4" cy="74" r="1.75"/>
<circle cx="356.2" cy="108.1" r="1.75"/>
<circle cx="374.7" cy="71.5" r="1.75"/>
<circle cx="286.8" cy="107" r="1.75"/>
<circle cx="384.5" cy="101.1" r="1.75"/>
<circle cx="323.8" cy="107.5" r="1.75"/>
<circle cx="368.6" cy="62.4" r="1.75"/>
<circle cx="327" cy="70.6" r="1.75"/>
<circle cx="367.7" cy="80.4" r="1.75"/>
<circle cx="391.3" cy="91.9" r="1.75"/>
<circle cx="286.9" cy="81.1" r="1.75"/>
<circle cx="347.7" cy="65.9" r="1.75"/>
<circle cx="287.4" cy="92.5" r="1.75"/>
<circle cx="344" cy="41.1" r="1.75"/>
<circle cx="330.9" cy="63.7" r="1.75"/>
<circle cx="329.6" cy="56.2" r="1.75"/>
<circle cx="323.5" cy="107.3" r="1.75"/>
<circle cx="380.1" cy="94.6" r="1.75"/>
<circle cx="348.9" cy="91.2" r="1.75"/>
<circle cx="310.6" cy="120.5" r="1.75"/>
<circle cx="307" cy="87.6" r="1.75"/>
<circle cx="373.2" cy="103.8" r="1.75"/>
<circle cx="290.9" cy="55.4" r="1.75"/>
<circle cx="364.8" cy="118.7" r="1.75"/>
<circle cx="285" cy="84.7" r="1.75"/>
<circle cx="354.9" cy="134.1" r="1.75"/>
<circle cx="294.7" cy="115.1" r="1.75"/>
<circle cx="287.1" cy="100.8" r="1.75"/>
<circle cx="306.4" cy="73.9" r="1.75"/>
<circle cx="289.3" cy="122.9" r="1.75"/>
<circle cx="317.5" cy="102.2" r="1.75"/>
<circle cx="357.4" cy="89.8" r="1.75"/>
<circle cx="310.4" cy="71.2" r="1.75"/>
<circle cx="328.6" cy="80.9" r="1.75"/>
<circle cx="359.5" cy="122.1" r="1.75"/>
<circle cx="385.6" cy="110.6" r="1.75"/>
<circle cx="328.7" cy="131.8" r="1.75"/>
<circle cx="362.3" cy="71.9" r="1.75"/>
<circle cx="369.7" cy="91.8" r="1.75"/>
<circle cx="367" cy="104.9" r="1.75"/>
<circle cx="377.4" cy="123.8" r="1.75"/>
<circle cx="343.7" cy="88.6" r="1.75"/>
<circle cx="288.9" cy="55.4" r="1.75"/>
<circle cx="304.6" cy="130.7" r="1.75"/>
<circle cx="359" cy="77.3" r="1.75"/>
<circle cx="358.2" cy="58.5" r="1.75"/>
<circle cx="359.7" cy="100.9" r="1.75"/>
<circle cx="371.2" cy="91.6" r="1.75"/>
<circle cx="330.5" cy="67.9" r="1.75"/>
<circle cx="370.1" cy="75.8" r="1.75"/>
<circle cx="351.9" cy="122.1" r="1.75"/>
<circle cx="331.8" cy="113.5" r="1.75"/>
<circle cx="333.6" cy="83.7" r="1.75"/>
<circle cx="379" cy="88.3" r="1.75"/>
<circle cx="378" cy="123.3" r="1.75"/>
<circle cx="355.4" cy="131.4" r="1.75"/>
<circle cx="354.1" cy="117.1" r="1.75"/>
<circle cx="385.4" cy="105.3" r="1.75"/>
<circle cx="286.4" cy="75.4" r="1.75"/>
<circle cx="312.7" cy="118.7" r="1.75"/>
<circle cx="364" cy="57.1" r="1.75"/>
<circle cx="326.3" cy="85.3" r="1.75"/>
<circle cx="333.3" cy="123.4" r="1.75"/>
<circle cx="363.2" cy="122.8" r="1.75"/>
<circle cx="377.7" cy="81.1" r="1.75"/>
<circle cx="360.2" cy="110.2" r="1.75"/>
<circle cx="389.5" cy="116.8" r="1.75"/>
<circle cx="331.6" cy="53.9" r="1.75"/>
<circle cx="316.4" cy="61.1" r="1.75"/>
<circle cx="363.1" cy="123.6" r="1.75"/>
<circle cx="298.5" cy="95.2" r="1.75"/>
<circle cx="383.9" cy="75" r="1.75"/>
<circle cx="285.7" cy="103.9" r="1.75"/>
<circle cx="292.8" cy="82.2" r="1.75"/>
<circle cx="280.9" cy="103.4" r="1.75"/>
<circle cx="373" cy="88.5" r="1.75"/>
<circle cx="379.1" cy="85.3" r="1.75"/>
<circle cx="394.3" cy="104.1" r="1.75"/>
<circle cx="344" cy="51.5" r="1.75"/>
<circle cx="329.4" cy="84" r="1.75"/>
<circle cx="282.5" cy="95.6" r="1.75"/>
<circle cx="302.1" cy="111" r="1.75"/>
<circle cx="351.5" cy="42.3" r="1.75"/>
<circle cx="369.4" cy="80" r="1.75"/>
<circle cx="315.5" cy="134" r="1.75"/>
<circle cx="375.8" cy="68.2" r="1.75"/>
<circle cx="362.5" cy="45.9" r="1.75"/>
<circle cx="341.6" cy="40.9" r="1.75"/>
<circle cx="357.1" cy="35.9" r="1.75"/>
<circle cx="340.8" cy="87.5" r="1.75"/>
<circle cx="331.6" cy="49.2" r="1.75"/>
<circle cx="282.6" cy="112.1" r="1.75"/>
<circle cx="305.3" cy="65.9" r="1.75"/>
<circle cx="285.8" cy="72.6" r="1.75"/>
<circle cx="318.3" cy="56.1" r="1.75"/>
<circle cx="363.1" cy="86.5" r="1.75"/>
<circle cx="316.4" cy="113.5" r="1.75"/>
<circle cx="310.8" cy="62.8" r="1.75"/>
<circle cx="381.5" cy="91.4" r="1.75"/>
<circle cx="318.9" cy="92" r="1.75"/>
<circle cx="384.7" cy="99.5" r="1.75"/>
<circle cx="332.7" cy="110" r="1.75"/>
<circle cx="354.3" cy="79.8" r="1.75"/>
<circle cx="313.5" cy="74.9" r="1.75"/>
<circle cx="352.7" cy="102" r="1.75"/>
<circle cx="369.9" cy="36" r="1.75"/>
<circle cx="287.5" cy="121.9" r="1.75"/>
<circle cx="283.9" cy="106.4" r="1.75"/>
<circle cx="310.7" cy="110" r="1.75"/>
<circle cx="277.7" cy="85.9" r="1.75"/>
<circle cx="294.5" cy="71" r="1.75"/>
<circle cx="364.6" cy="92.4" r="1.75"/>
<circle cx="354.8" cy="133" r="1.75"/>
<circle cx="296.6" cy="88.1" r="1.75"/>
<circle cx="315.3" cy="106.2" r="1.75"/>
<circle cx="287.9" cy="137.5" r="1.75"/>
<circle cx="322" cy="125.3" r="1.75"/>
<circle cx="371.7" cy="118.5" r="1.75"/>
<circle cx="333.5" cy="64.4" r="1.75"/>
<circle cx="306.9" cy="105.5" r="1.75"/>
<circle cx="330.8" cy="104.8" r="1.75"/>
<circle cx="333.1" cy="65.5" r="1.75"/>
<circle cx="360.1" cy="60.3" r="1.75"/>
<circle cx="375.8" cy="67.9" r="1.75"/>
<circle cx="317.8" cy="104.6" r="1.75"/>
<circle cx="294.6" cy="143.4" r="1.75"/>
<circle cx="279.2" cy="91.1" r="1.75"/>
<circle cx="302.3" cy="85.9" r="1.75"/>
<circle cx="298.5" cy="149.4" r="1.75"/>
<circle cx="314.3" cy="60.8" r="1.75"/>
<circle cx="295.5" cy="63.5" r="1.75"/>
<circle cx="368.1" cy="90.1" r="1.75"/>
<circle cx="369.3" cy="119" r="1.75"/>
<circle cx="393.4" cy="98" r="1.75"/>
<circle cx="323.7" cy="100" r="1.75"/>
<circle cx="307.5" cy="86" r="1.75"/>
<circle cx="305.8" cy="75.3" r="1.75"/>
<circle cx="383.5" cy="120.5" r="1.75"/>
<circle cx="351.3" cy="69.8" r="1.75"/>
<circle cx="325" cy="69.2" r="1.75"/>
<circle cx="356.8" cy="133.9" r="1.75"/>
<circle cx="377.4" cy="66.5" r="1.75"/>
<circle cx="350.2" cy="58.4" r="1.75"/>
<circle cx="303.3" cy="55.7" r="1.75"/>
<circle cx="360.8" cy="101.3" r="1.75"/>
<circle cx="310.3" cy="118.9" r="1.75"/>
<circle cx="300.4" cy="141.8" r="1.75"/>
<circle cx="288.9" cy="102.2" r="1.75"/>
<circle cx="366.1" cy="119.1" r="1.75"/>
<circle cx="337.4" cy="135.8" r="1.75"/>
<circle cx="356.1" cy="114.1" r="1.75"/>
<circle cx="334.6" cy="96.6" r="1.75"/>
<circle cx="285.7" cy="120.2" r="1.75"/>
<circle cx="318.9" cy="88.2" r="1.75"/>
<circle cx="342" cy="131.9" r="1.75"/>
<circle cx="313" cy="98.3" r="1.75"/>
<circle cx="353" cy="109.8" r="1.75"/>
<circle cx="314.3" cy="64.6" r="1.75"/>
<circle cx="335.2" cy="103.3" r="1.75"/>
<circle cx="358.2" cy="47.1" r="1.75"/>
<circle cx="332" cy="98.4" r="1.75"/>
<circle cx="338.9" cy="66.4" r="1.75"/>
<circle cx="319.6" cy="114.6" r="1.75"/>
<circle cx="355.6" cy="33.5" r="1.75"/>
<circle cx="303.4" cy="64.8" r="1.75"/>
<circle cx="307.1" cy="88.8" r="1.75"/>
<circle cx="337.1" cy="49" r="1.75"/>
<circle cx="361.1" cy="117.7" r="1.75"/>
<circle cx="336.1" cy="95.6" r="1.75"/>
<circle cx="354" cy="36.3" r="1.75"/>
<circle cx="339.8" cy="110.7" r="1.75"/>
<circle cx="316.8" cy="113.3" r="1.75"/>
<circle cx="321.7" cy="105.2" r="1.75"/>
<circle cx="354.1" cy="111.6" r="1.75"/>
<circle cx="395.2" cy="116.1" r="1.75"/>
<circle cx="366.7" cy="115.7" r="1.75"/>
<circle cx="303.6" cy="104.9" r="1.75"/>
<circle cx="355" cy="38.3" r="1.75"/>
<circle cx="338.1" cy="94" r="1.75"/>
<circle cx="368.4" cy="123.1" r="1.75"/>
<circle cx="331.6" cy="99.1" r="1.75"/>
<circle cx="359.1" cy="95.9" r="1.75"/>
<circle cx="292.5" cy="89.5" r="1.75"/>
<circle cx="354.3" cy="115.1" r="1.75"/>
<circle cx="317.2" cy="123.6" r="1.75"/>
<circle cx="343.3" cy="111.3" r="1.75"/>
<circle cx="338.2" cy="90.4" r="1.75"/>
<circle cx="359.9" cy="98.6" r="1.75"/>
<circle cx="305" cy="111.3" r="1.75"/>
<circle cx="348.1" cy="138.8" r="1.75"/>
<circle cx="336" cy="70.5" r="1.75"/>
<circle cx="307.3" cy="74.8" r="1.75"/>
<circle cx="292.8" cy="68.8" r="1.75"/>
<circle cx="319.9" cy="61.1" r="1.75"/>
<circle cx="311.9" cy="106.7" r="1.75"/>
<circle cx="336.3" cy="45.1" r="1.75"/>
<circle cx="342.2" cy="63.4" r="1.75"/>
<circle cx="292.2" cy="125.5" r="1.75"/>
<circle cx="287.1" cy="83.9" r="1.75"/>
<circle cx="374.2" cy="96.3" r="1.75"/>
<circle cx="370.4" cy="128.6" r="1.75"/>
<circle cx="329.4" cy="93.6" r="1.75"/>
<circle cx="333" cy="68.3" r="1.75"/>
<circle cx="313.8" cy="124.5" r="1.75"/>
<circle cx="404.6" cy="105.7" r="1.75"/>
<circle cx="342.2" cy="112" r="1.75"/>
<circle cx="361.8" cy="93.7" r="1.75"/>
<circle cx="362.1" cy="71.6" r="1.75"/>
<circle cx="304" cy="68.7" r="1.75"/>
<circle cx="338.2" cy="56.2" r="1.75"/>
<circle cx="385.5" cy="89.1" r="1.75"/>
<circle cx="390.5" cy="100.6" r="1.75"/>
<circle cx="311.6" cy="116.8" r="1.75"/>
<circle cx="396.6" cy="110.9" r="1.75"/>
<circle cx="279.9" cy="82.2" r="1.75"/>
<circle cx="383.5" cy="102.4" r="1.75"/>
<circle cx="300.7" cy="59.2" r="1.75"/>
<circle cx="281.6" cy="93.8" r="1.75"/>
<circle cx="338" cy="125.3" r="1.75"/>
<circle cx="290.9" cy="145" r="1.75"/>
<circle cx="387.3" cy="89.1" r="1.75"/>
<circle cx="396.4" cy="118.5" r="1.75"/>
<circle cx="362.9" cy="35.7" r="1.75"/>
<circle cx="319" cy="72.5" r="1.75"/>
<circle cx="295.8" cy="58.1" r="1.75"/>
<circle cx="341.2" cy="75.8" r="1.75"/>
<circle cx="398" cy="102.8" r="1.75"/>
<circle cx="370.7" cy="121.6" r="1.75"/>
<circle cx="354.2" cy="88.3" r="1.75"/>
<circle cx="368.4" cy="82.5" r="1.75"/>
<circle cx="298.8" cy="57.4" r="1.75"/>
<circle cx="319.1" cy="80.6" r="1.75"/>
<circle cx="338.1" cy="51.5" r="1.75"/>
<circle cx="279.3" cy="86.2" r="1.75"/>
<circle cx="302.3" cy="107.9" r="1.75"/>
<circle cx="320.5" cy="66.8" r="1.75"/>
<circle cx="313.1" cy="104.1" r="1.75"/>
<circle cx="339.5" cy="89.7" r="1.75"/>
<circle cx="362.9" cy="87.9" r="1.75"/>
<circle cx="355.1" cy="101.9" r="1.75"/>
<circle cx="377.3" cy="116.6" r="1.75"/>
<circle cx="363.8" cy="70.6" r="1.75"/>
<circle cx="320.4" cy="83.5" r="1.75"/>
<circle cx="365.6" cy="57.4" r="1.75"/>
<circle cx="349.7" cy="108.5" r="1.75"/>
<circle cx="311.1" cy="137.9" r="1.75"/>
<circle cx="353.6" cy="116.4" r="1.75"/>
<circle cx="291.5" cy="131.1" r="1.75"/>
<circle cx="311.1" cy="105.4" r="1.75"/>
<circle cx="370.3" cy="69.8" r="1.75"/>
<circle cx="308.2" cy="70.7" r="1.75"/>
<circle cx="402.1" cy="110.1" r="1.75"/>
<circle cx="335.3" cy="98.6" r="1.75"/>
<circle cx="349.9" cy="103" r="1.75"/>
<circle cx="402.1" cy="105.7" r="1.75"/>
<circle cx="338.6" cy="81.7" r="1.75"/>
<circle cx="335.3" cy="75.7" r="1.75"/>
<circle cx="373.4" cy="100.2" r="1.75"/>
<circle cx="342.6" cy="121.1" r="1.75"/>
<circle cx="345.3" cy="101.8" r="1.75"/>
<circle cx="349.1" cy="44.8" r="1.75"/>
<circle cx="290.4" cy="118.9" r="1.75"/>
<circle cx="380.7" cy="121" r="1.75"/>
<circle cx="373.9" cy="77.6" r="1.75"/>
<circle cx="290.6" cy="122.4" r="1.75"/>
<circle cx="301.6" cy="111.4" r="1.75"/>
<circle cx="365" cy="63.9" r="1.75"/>
<circle cx="377.4" cy="101.8" r="1.75"/>
<circle cx="369.6" cy="83.4" r="1.75"/>
<circle cx="349.7" cy="67.4" r="1.75"/>
<circle cx="303.6" cy="97" r="1.75"/>
<circle cx="352.8" cy="91.1" r="1.75"/>
<circle cx="359" cy="106.5" r="1.75"/>
<circle cx="327" cy="63.1" r="1.75"/>
<circle cx="363.1" cy="77.5" r="1.75"/>
<circle cx="320.5" cy="113.6" r="1.75"/>
<circle cx="359.7" cy="90" r="1.75"/>
<circle cx="380.8" cy="70.3" r="1.75"/>
<circle cx="319.5" cy="121.4" r="1.75"/>
<circle cx="343.9" cy="134.3" r="1.75"/>
<circle cx="379.6" cy="95.1" r="1.75"/>
<circle cx="360.8" cy="108.2" r="1.75"/>
<circle cx="363.3" cy="39.5" r="1.75"/>
<circle cx="298.3" cy="145.3" r="1.75"/>
<circle cx="338.9" cy="121.8" r="1.75"/>
<circle cx="318.8" cy="60.2" r="1.75"/>
<circle cx="298.5" cy="139.9" r="1.75"/>
<circle cx="389.6" cy="112.9" r="1.75"/>
<circle cx="308.2" cy="118.9" r="1.75"/>
<circle cx="392.5" cy="102.3" r="1.75"/>
<circle cx="302.2" cy="104.4" r="1.75"/>
<circle cx="399.3" cy="102.1" r="1.75"/>
<circle cx="292.9" cy="55.4" r="1.75"/>
<circle cx="356.3" cy="36.8" r="1.75"/>
<circle cx="307.1" cy="90.4" r="1.75"/>
<circle cx="282.9" cy="98.3" r="1.75"/>
<circle cx="362.2" cy="69.1" r="1.75"/>
<circle cx="349.9" cy="94.4" r="1.75"/>
<circle cx="377.2" cy="100.3" r="1.75"/>
<circle cx="357.3" cy="98.8" r="1.75"/>
<circle cx="288.2" cy="135.1" r="1.75"/>
<circle cx="391" cy="104.3" r="1.75"/>
<circle cx="386" cy="115.3" r="1.75"/>
<circle cx="374" cy="116.4" r="1.75"/>
<circle cx="335.2" cy="63.6" r="1.75"/>
<circle cx="334.3" cy="56.3" r="1.75"/>
<circle cx="296.5" cy="54.7" r="1.75"/>
<circle cx="369.4" cy="77.5" r="1.75"/>
<circle cx="335.7" cy="113.3" r="1.75"/>
<circle cx="309.2" cy="102.5" r="1.75"/>
<circle cx="300.1" cy="57.6" r="1.75"/>
<circle cx="345.1" cy="82.5" r="1.75"/>
<circle cx="320.9" cy="131.6" r="1.75"/>
<circle cx="295.2" cy="61" r="1.75"/>
<circle cx="362.8" cy="93.9" r="1.75"/>
<circle cx="311.5" cy="61.6" r="1.75"/>
<circle cx="342.1" cy="61.7" r="1.75"/>
<circle cx="389.8" cy="86.8" r="1.75"/>
<circle cx="344.5" cy="62.1" r="1.75"/>
<circle cx="373" cy="75.2" r="1.75"/>
<circle cx="389.7" cy="116.1" r="1.75"/>
<circle cx="322" cy="101.1" r="1.75"/>
<circle cx="364" cy="113.6" r="1.75"/>
<circle cx="377.3" cy="86.4" r="1.75"/>
<circle cx="345.9" cy="103" r="1.75"/>
<circle cx="313.7" cy="110.9" r="1.75"/>
<circle cx="382.2" cy="98.2" r="1.75"/>
<circle cx="292.1" cy="120.6" r="1.75"/>
<circle cx="298.7" cy="51.1" r="1.75"/>
<circle cx="354.9" cy="46.7" r="1.75"/>
<circle cx="383" cy="109.2" r="1.75"/>
<circle cx="388.9" cy="118.3" r="1.75"/>
<circle cx="369.5" cy="63.2" r="1.75"/>
<circle cx="328.9" cy="76.7" r="1.75"/>
<circle cx="330.7" cy="127.1" r="1.75"/>
<circle cx="356.3" cy="41" r="1.75"/>
<circle cx="300.9" cy="100.5" r="1.75"/>
<circle cx="306.1" cy="76.4" r="1.75"/>
<circle cx="333.7" cy="81.5" r="1.75"/>
<circle cx="395.1" cy="104.2" r="1.75"/>
<circle cx="309.9" cy="72.4" r="1.75"/>
<circle cx="340.1" cy="50.3" r="1.75"/>
<circle cx="391.7" cy="102.8" r="1.75"/>
<circle cx="323.9" cy="98.4" r="1.75"/>
<circle cx="346.4" cy="52.2" r="1.75"/>
<circle cx="344.4" cy="90.8" r="1.75"/>
<circle cx="383.4" cy="108.2" r="1.75"/>
<circle cx="316.6" cy="59.7" r="1.75"/>
<circle cx="356.3" cy="97.5" r="1.75"/>
<circle cx="312.5" cy="87.7" r="1.75"/>
<circle cx="326.8" cy="106.5" r="1.75"/>
<circle cx="344.1" cy="98.6" r="1.75"/>
<circle cx="361.1" cy="60.3" r="1.75"/>
<circle cx="305.7" cy="142" r="1.75"/>
<circle cx="292.4" cy="112.9" r="1.75"/>
<circle cx="307.5" cy="90.1" r="1.75"/>
<circle cx="332.7" cy="59.8" r="1.75"/>
<circle cx="296.4" cy="146.2" r="1.75"/>
<circle cx="370.6" cy="75.7" r="1.75"/>
<circle cx="298.9" cy="124.4" r="1.75"/>
<circle cx="366.4" cy="78.7" r="1.75"/>
<circle cx="404.7" cy="102.8" r="1.75"/>
<circle cx="391.1" cy="110.8" r="1.75"/>
<circle cx="290.6" cy="84.1" r="1.75"/>
<circle cx="366.2" cy="49.4" r="1.75"/>
<circle cx="394.9" cy="109.3" r="1.75"/>
<circle cx="367.5" cy="83.9" r="1.75"/>
<circle cx="339" cy="40" r="1.75"/>
<circle cx="292.3" cy="145.6" r="1.75"/>
<circle cx="363.2" cy="82.5" r="1.75"/>
<circle cx="334.2" cy="59" r="1.75"/>
<circle cx="373.8" cy="125" r="1.75"/>
<circle cx="368.9" cy="82.7" r="1.75"/>
<circle cx="337.9" cy="78.6" r="1.75"/>
<circle cx="334.5" cy="70.2" r="1.75"/>
<circle cx="361.6" cy="129.6" r="1.75"/>
<circle cx="355.6" cy="76.8" r="1.75"/>
<circle cx="334.7" cy="97" r="1.75"/>
<circle cx="386.5" cy="106.9" r="1.75"/>
<circle cx="378.2" cy="78.1" r="1.75"/>
<circle cx="297.2" cy="127.6" r="1.75"/>
<circle cx="349.3" cy="58.1" r="1.75"/>
<circle cx="391" cy="90.1" r="1.75"/>
<circle cx="345.2" cy="65.3" r="1.75"/>
<circle cx="365.1" cy="62.9" r="1.75"/>
<circle cx="363.3" cy="105" r="1.75"/>
<circle cx="321.8" cy="111.7" r="1.75"/>
<circle cx="322.7" cy="125" r="1.75"/>
<circle cx="324.3" cy="130.1" r="1.75"/>
<circle cx="305.4" cy="67.8" r="1.75"/>
<circle cx="338.8" cy="46.9" r="1.75"/>
<circle cx="352.9" cy="67.2" r="1.75"/>
<circle cx="373.3" cy="71.7" r="1.75"/>
<circle cx="387.9" cy="82" r="1.75"/>
<circle cx="364.4" cy="121.3" r="1.75"/>
<circle cx="365.8" cy="121.5" r="1.75"/>
<circle cx="314" cy="84" r="1.75"/>
<circle cx="318" cy="118.4" r="1.75"/>
<circle cx="332.9" cy="108.7" r="1.75"/>
<circle cx="340.8" cy="74.4" r="1.75"/>
<circle cx="376.4" cy="92.1" r="1.75"/>
<circle cx="371.9" cy="121.4" r="1.75"/>
<circle cx="292.4" cy="129.9" r="1.75"/>
<circle cx="371.7" cy="129.1" r="1.75"/>
<circle cx="313.1" cy="77.4" r="1.75"/>
<circle cx="370" cy="66.4" r="1.75"/>
<circle cx="290.3" cy="144.5" r="1.75"/>
<circle cx="305.5" cy="54.8" r="1.75"/>
<circle cx="330.9" cy="51.6" r="1.75"/>
<circle cx="395.1" cy="99.7" r="1.75"/>
<circle cx="384.2" cy="90.1" r="1.75"/>
<circle cx="289.7" cy="58.1" r="1.75"/>
<circle cx="386.1" cy="101.9" r="1.75"/>
<circle cx="374.9" cy="104.4" r="1.75"/>
<circle cx="372.2" cy="95" r="1.75"/>
<circle cx="302.1" cy="70.1" r="1.75"/>
<circle cx="395.1" cy="94.3" r="1.75"/>
<circle cx="404.2" cy="106.3" r="1.75"/>
<circle cx="338.1" cy="85.9" r="1.75"/>
<circle cx="356.3" cy="105" r="1.75"/>
<circle cx="390.1" cy="125.1" r="1.75"/>
<circle cx="368.8" cy="117.5" r="1.75"/>
<circle cx="299.2" cy="90" r="1.75"/>
<circle cx="308.3" cy="55.6" r="1.75"/>
<circle cx="380.6" cy="131.3" r="1.75"/>
<circle cx="296.6" cy="108.6" r="1.75"/>
<circle cx="366.7" cy="73.7" r="1.75"/>
<circle cx="352.2" cy="50.6" r="1.75"/>
<circle cx="359.9" cy="125" r="1.75"/>
<circle cx="376.4" cy="98.7" r="1.75"/>
<circle cx="399.4" cy="113.2" r="1.75"/>
<circle cx="387.7" cy="107.4" r="1.75"/>
<circle cx="329.5" cy="78.2" r="1.75"/>
<circle cx="293.2" cy="129.4" r="1.75"/>
<circle cx="357.9" cy="72.3" r="1.75"/>
<circle cx="364.7" cy="64" r="1.75"/>
<circle cx="371.5" cy="98.2" r="1.75"/>
<circle cx="350.3" cy="37.8" r="1.75"/>
<circle cx="373.5" cy="66.3" r="1.75"/>
<circle cx="368.4" cy="45" r="1.75"/>
<circle cx="335.3" cy="65.8" r="1.75"/>
<circle cx="282.5" cy="83.3" r="1.75"/>
<circle cx="304.5" cy="52.1" r="1.75"/>
<circle cx="329.7" cy="92" r="1.75"/>
<circle cx="280.5" cy="96.3" r="1.75"/>
<circle cx="366.9" cy="132.6" r="1.75"/>
<circle cx="288.7" cy="60.7" r="1.75"/>
<circle cx="355.1" cy="54.8" r="1.75"/>
<circle cx="336.6" cy="70.2" r="1.75"/>
<circle cx="336.4" cy="105" r="1.75"/>
<circle cx="340.2" cy="128.6" r="1.75"/>
<circle cx="340" cy="54.2" r="1.75"/>
<circle cx="301.2" cy="77.8" r="1.75"/>
<circle cx="340.4" cy="75.3" r="1.75"/>
<circle cx="333.4" cy="115" r="1.75"/>
<circle cx="339.5" cy="79.7" r="1.75"/>
<circle cx="349.7" cy="64.1" r="1.75"/>
<circle cx="363.2" cy="82" r="1.75"/>
<circle cx="366.2" cy="72.9" r="1.75"/>
<circle cx="357.3" cy="54.6" r="1.75"/>
<circle cx="337.1" cy="90.2" r="1.75"/>
<circle cx="333.9" cy="123.1" r="1.75"/>
<circle cx="380.2" cy="132.5" r="1.75"/>
<circle cx="299" cy="49.2" r="1.75"/>
<circle cx="291.5" cy="126.3" r="1.75"/>
<circle cx="298.2" cy="69.1" r="1.75"/>
<circle cx="291.4" cy="140.3" r="1.75"/>
<circle cx="300.8" cy="59.3" r="1.75"/>
<circle cx="351.5" cy="115.6" r="1.75"/>
<circle cx="278.3" cy="100.8" r="1.75"/>
<circle cx="343" cy="97.7" r="1.75"/>
<circle cx="341.1" cy="127" r="1.75"/>
<circle cx="357.1" cy="88.7" r="1.75"/>
<circle cx="371.6" cy="131.2" r="1.75"/>
<circle cx="369.7" cy="114.4" r="1.75"/>
<circle cx="317.1" cy="118.4" r="1.75"/>
<circle cx="357.5" cy="57.3" r="1.75"/>
<circle cx="387.7" cy="87.9" r="1.75"/>
<circle cx="343.2" cy="54.8" r="1.75"/>
<circle cx="382.7" cy="88" r="1.75"/>
<circle cx="371" cy="132.3" r="1.75"/>
<circle cx="334.3" cy="59.6" r="1.75"/>
<circle cx="331" cy="72.1" r="1.75"/>
<circle cx="305" cy="124.3" r="1.75"/>
<circle cx="298.8" cy="76.8" r="1.75"/>
<circle cx="354.5" cy="124" r="1.75"/>
<circle cx="329.6" cy="53.4" r="1.75"/>
<circle cx="324" cy="99.3" r="1.75"/>
<circle cx="400.7" cy="109.3" r="1.75"/>
<circle cx="384.5" cy="131.3" r="1.75"/>
<circle cx="329.7" cy="91.9" r="1.75"/>
<circle cx="383.1" cy="118" r="1.75"/>
<circle cx="325.9" cy="53.7" r="1.75"/>
<circle cx="369.6" cy="66.2" r="1.75"/>
<circle cx="308.1" cy="61.2" r="1.75"/>
<circle cx="363.7" cy="108.8" r="1.75"/>
<circle cx="396.7" cy="101.9" r="1.75"/>
<circle cx="336.9" cy="137.4" r="1.75"/>
<circle cx="291.5" cy="101.9" r="1.75"/>
<circle cx="327.6" cy="129.7" r="1.75"/>
<circle cx="313.6" cy="62.7" r="1.75"/>
<circle cx="306.8" cy="71.9" r="1.75"/>
<circle cx="332.8" cy="94.9" r="1.75"/>
<circle cx="290.9" cy="139.7" r="1.75"/>
<circle cx="313.4" cy="138.7" r="1.75"/>
<circle cx="396.3" cy="99.6" r="1.75"/>
<circle cx="285.6" cy="75.7" r="1.75"/>
<circle cx="366" cy="99.1" r="1.75"/>
<circle cx="281.3" cy="79.5" r="1.75"/>
<circle cx="381.9" cy="77.6" r="1.75"/>
<circle cx="334.7" cy="51.2" r="1.75"/>
<circle cx="367.1" cy="81.2" r="1.75"/>
<circle cx="324" cy="124" r="1.75"/>
<circle cx="357.8" cy="119.8" r="1.75"/>
<circle cx="390" cy="92.2" r="1.75"/>
<circle cx="311.2" cy="101.6" r="1.75"/>
<circle cx="393.8" cy="110.7" r="1.75"/>
<circle cx="295.2" cy="67.3" r="1.75"/>
<circle cx="303" cy="56.1" r="1.75"/>
<circle cx="277.3" cy="86.6" r="1.75"/>
<circle cx="338" cy="46.9" r="1.75"/>
<circle cx="388.5" cy="95.2" r="1.75"/>
<circle cx="291.9" cy="117.3" r="1.75"/>
<circle cx="312.7" cy="138.3" r="1.75"/>
<circle cx="310.7" cy="120" r="1.75"/>
<circle cx="338.5" cy="59.8" r="1.75"/>
<circle cx="337.9" cy="82.8" r="1.75"/>
<circle cx="293.7" cy="96.7" r="1.75"/>
<circle cx="343.3" cy="115.2" r="1.75"/>
<circle cx="318" cy="104.9" r="1.75"/>
<circle cx="299.3" cy="93.8" r="1.75"/>
<circle cx="304.8" cy="125.5" r="1.75"/>
<circle cx="298.4" cy="66" r="1.75"/>
<circle cx="344.5" cy="58.5" r="1.75"/>
<circle cx="289.1" cy="138.5" r="1.75"/>
<circle cx="314.1" cy="57" r="1.75"/>
<circle cx="363.1" cy="131.9" r="1.75"/>
<circle cx="358.5" cy="127.7" r="1.75"/>
<circle cx="311.6" cy="98.6" r="1.75"/>
<circle cx="294.7" cy="143.6" r="1.75"/>
<circle cx="340.7" cy="52.2" r="1.75"/>
<circle cx="402.9" cy="105.6" r="1.75"/>
<circle cx="301.2" cy="132.7" r="1.75"/>
<circle cx="355.7" cy="105.9" r="1.75"/>
<circle cx="309.8" cy="99.6" r="1.75"/>
<circle cx="300" cy="115.1" r="1.75"/>
<circle cx="336.1" cy="55.1" r="1.75"/>
<circle cx="378.2" cy="133.1" r="1.75"/>
<circle cx="347.9" cy="127.4" r="1.75"/>
<circle cx="316.7" cy="75.3" r="1.75"/>
<circle cx="355.4" cy="99.3" r="1.75"/>
<circle cx="280.1" cy="99.1" r="1.75"/>
<circle cx="362.9" cy="128.5" r="1.75"/>
<circle cx="332.2" cy="101.7" r="1.75"/>
<circle cx="345.3" cy="92.1" r="1.75"/>
<circle cx="314.2" cy="132.4" r="1.75"/>
<circle cx="293.6" cy="144.2" r="1.75"/>
<circle cx="306.7" cy="117" r="1.75"/>
<circle cx="357.8" cy="69" r="1.75"/>
<circle cx="366.9" cy="72.1" r="1.75"/>
<circle cx="347.2" cy="53.7" r="1.75"/>
<circle cx="346.9" cy="36.1" r="1.75"/>
<circle cx="349.1" cy="88" r="1.75"/>
<circle cx="325.6" cy="121.1" r="1.75"/>
<circle cx="331.6" cy="79.1" r="1.75"/>
<circle cx="368.5" cy="52.8" r="1.75"/>
<circle cx="318.3" cy="59.9" r="1.75"/>
<circle cx="300.3" cy="134.9" r="1.75"/>
<circle cx="314.3" cy="119.6" r="1.75"/>
<circle cx="335" cy="120.5" r="1.75"/>
<circle cx="287.2" cy="103.6" r="1.75"/>
<circle cx="285.5" cy="77.1" r="1.75"/>
<circle cx="374.6" cy="122.7" r="1.75"/>
<circle cx="381.3" cy="84.6" r="1.75"/>
<circle cx="365" cy="121.4" r="1.75"/>
<circle cx="377.2" cy="93.8" r="1.75"/>
<circle cx="340" cy="138.4" r="1.75"/>
<circle cx="388.5" cy="91.7" r="1.75"/>
<circle cx="290.6" cy="104.7" r="1.75"/>
<circle cx="290.9" cy="71.3" r="1.75"/>
<circle cx="348.1" cy="91.4" r="1.75"/>
<circle cx="358.1" cy="129.7" r="1.75"/>
<circle cx="319.1" cy="122" r="1.75"/>
<circle cx="378.1" cy="130.4" r="1.75"/>
<circle cx="314.7" cy="105.3" r="1.75"/>
<circle cx="289.6" cy="136" r="1.75"/>
<circle cx="347.8" cy="81.5" r="1.75"/>
<circle cx="377.7" cy="84.4" r="1.75"/>
<circle cx="291.5" cy="73.1" r="1.75"/>
<circle cx="373.4" cy="108.2" r="1.75"/>
<circle cx="396.8" cy="113.8" r="1.75"/>
<circle cx="323.6" cy="120.8" r="1.75"/>
<circle cx="361.3" cy="100.6" r="1.75"/>
<circle cx="376.7" cy="97.5" r="1.75"/>
<circle cx="344.1" cy="62.1" r="1.75"/>
<circle cx="285.7" cy="106.7" r="1.75"/>
<circle cx="298.6" cy="87.2" r="1.75"/>
<circle cx="307.5" cy="89" r="1.75"/>
<circle cx="354.4" cy="54.7" r="1.75"/>
<circle cx="292.9" cy="57.3" r="1.75"/>
<circle cx="383" cy="100.7" r="1.75"/>
<circle cx="300.6" cy="137.2" r="1.75"/>
<circle cx="288.5" cy="108" r="1.75"/>
<circle cx="361.8" cy="115.1" r="1.75"/>
<circle cx="356.4" cy="66.3" r="1.75"/>
<circle cx="353" cy="120" r="1.75"/>
<circle cx="349" cy="70.6" r="1.75"/>
<circle cx="286.4" cy="91.5" r="1.75"/>
<circle cx="331.8" cy="99.6" r="1.75"/>
<circle cx="300.1" cy="142.7" r="1.75"/>
<circle cx="343.6" cy="77.8" r="1.75"/>
<circle cx="371.7" cy="35.6" r="1.75"/>
<circle cx="307" cy="85.5" r="1.75"/>
<circle cx="401.5" cy="102.7" r="1.75"/>
<circle cx="349.8" cy="103.5" r="1.75"/>
<circle cx="296.2" cy="73.2" r="1.75"/>
<circle cx="325.9" cy="76.9" r="1.75"/>
<circle cx="367.9" cy="115.2" r="1.75"/>
<circle cx="307" cy="104.5" r="1.75"/>
<circle cx="364.5" cy="125.9" r="1.75"/>
<circle cx="291.7" cy="71" r="1.75"/>
<circle cx="354.1" cy="68.9" r="1.75"/>
<circle cx="366.5" cy="39.2" r="1.75"/>
<circle cx="360.2" cy="88.1" r="1.75"/>
<circle cx="292" cy="92" r="1.75"/>
<circle cx="338.9" cy="55.2" r="1.75"/>
<circle cx="391.8" cy="120" r="1.75"/>
<circle cx="295.1" cy="105.8" r="1.75"/>
<circle cx="280.4" cy="81.7" r="1.75"/>
<circle cx="293.5" cy="121.3" r="1.75"/>
<circle cx="354.4" cy="108.3" r="1.75"/>
<circle cx="369.7" cy="106.5" r="1.75"/>
<circle cx="345.3" cy="93.3" r="1.75"/>
<circle cx="364" cy="80.9" r="1.75"/>
<circle cx="332.6" cy="132.8" r="1.75"/>
<circle cx="324.1" cy="118.6" r="1.75"/>
<circle cx="379.2" cy="131.1" r="1.75"/>
<circle cx="304.1" cy="104.1" r="1.75"/>
<circle cx="334.7" cy="101.6" r="1.75"/>
<circle cx="305.6" cy="125.3" r="1.75"/>
<circle cx="376.4" cy="77.1" r="1.75"/>
<circle cx="353" cy="84" r="1.75"/>
<circle cx="344" cy="63.1" r="1.75"/>
<circle cx="288.9" cy="135" r="1.75"/>
<circle cx="331.6" cy="108" r="1.75"/>
<circle cx="352.7" cy="103.7" r="1.75"/>
<circle cx="341.1" cy="127.5" r="1.75"/>
<circle cx="298.1" cy="76.6" r="1.75"/>
<circle cx="348.8" cy="102.1" r="1.75"/>
<circle cx="365" cy="91.9" r="1.75"/>
<circle cx="286.5" cy="125.1" r="1.75"/>
<circle cx="363.4" cy="105.9" r="1.75"/>
<circle cx="307.2" cy="106.2" r="1.75"/>
<circle cx="343.6" cy="128.9" r="1.75"/>
<circle cx="295.8" cy="105.6" r="1.75"/>
<circle cx="373" cy="81.8" r="1.75"/>
<circle cx="340.6" cy="61.3" r="1.75"/>
<circle cx="403.2" cy="109.5" r="1.75"/>
<circle cx="349.6" cy="99.2" r="1.75"/>
<circle cx="291.8" cy="94.7" r="1.75"/>
<circle cx="365.5" cy="53.1" r="1.75"/>
<circle cx="390.6" cy="121.5" r="1.75"/>
<circle cx="289.1" cy="66.7" r="1.75"/>
<circle cx="383.4" cy="101.5" r="1.75"/>
<circle cx="320.9" cy="59.9" r="1.75"/>
<circle cx="300.1" cy="69.7" r="1.75"/>
<circle cx="291.1" cy="55.3" r="1.75"/>
<circle cx="307" cy="148.3" r="1.75"/>
<circle cx="329.1" cy="105.3" r="1.75"/>
<circle cx="388.1" cy="119.8" r="1.75"/>
<circle cx="353.3" cy="70.8" r="1.75"/>
<circle cx="318" cy="120.3" r="1.75"/>
<circle cx="348.6" cy="56.8" r="1.75"/>
<circle cx="290" cy="136.4" r="1.75"/>
<circle cx="300.5" cy="92.4" r="1.75"/>
<circle cx="383.6" cy="89.4" r="1.75"/>
<circle cx="336.1" cy="50.7" r="1.75"/>
<circle cx="396.6" cy="103.4" r="1.75"/>
<circle cx="361.2" cy="78.3" r="1.75"/>
<circle cx="367" cy="76.6" r="1.75"/>
<circle cx="296.7" cy="73.8" r="1.75"/>
<circle cx="341" cy="110.4" r="1.75"/>
<circle cx="396.4" cy="109.2" r="1.75"/>
<circle cx="388.2" cy="121.3" r="1.75"/>
<circle cx="348.4" cy="102.3" r="1.75"/>
<circle cx="325.7" cy="103.4" r="1.75"/>
<circle cx="370.4" cy="76" r="1.75"/>
<circle cx="357.4" cy="56.8" r="1.75"/>
<circle cx="393.4" cy="95.5" r="1.75"/>
<circle cx="299.4" cy="112.6" r="1.75"/>
<circle cx="390.8" cy="112" r="1.75"/>
<circle cx="357.9" cy="49.9" r="1.75"/>
<circle cx="357.4" cy="34.1" r="1.75"/>
<circle cx="335.6" cy="80.7" r="1.75"/>
<circle cx="358.4" cy="73.7" r="1.75"/>
<circle cx="288.1" cy="75.3" r="1.75"/>
<circle cx="361.5" cy="120.5" r="1.75"/>
<circle cx="355.7" cy="103.2" r="1.75"/>
<circle cx="321.5" cy="93.9" r="1.75"/>
<circle cx="298.8" cy="53.5" r="1.75"/>
<circle cx="394.4" cy="101.7" r="1.75"/>
<circle cx="337.7" cy="98.6" r="1.75"/>
<circle cx="310.5" cy="135.2" r="1.75"/>
<circle cx="370.2" cy="82.4" r="1.75"/>
<circle cx="277.3" cy="85.1" r="1.75"/>
<circle cx="341.5" cy="75.6" r="1.75"/>
<circle cx="312.4" cy="144.1" r="1.75"/>
<circle cx="365.7" cy="58.8" r="1.75"/>
<circle cx="286.9" cy="77.9" r="1.75"/>
<circle cx="353.3" cy="56.1" r="1.75"/>
<circle cx="310.2" cy="101.4" r="1.75"/>
<circle cx="343.7" cy="59" r="1.75"/>
<circle cx="344.5" cy="62.7" r="1.75"/>
<circle cx="389.4" cy="107.4" r="1.75"/>
<circle cx="316.8" cy="110.7" r="1.75"/>
<circle cx="291.1" cy="69.4" r="1.75"/>
<circle cx="317" cy="97.6" r="1.75"/>
<circle cx="338.4" cy="49.7" r="1.75"/>
<circle cx="382.6" cy="116.3" r="1.75"/>
<circle cx="297.3" cy="51.4" r="1.75"/>
<circle cx="288" cy="92.5" r="1.75"/>
<circle cx="357.1" cy="117.6" r="1.75"/>
<circle cx="304.6" cy="135.1" r="1.75"/>
<circle cx="392.1" cy="87.9" r="1.75"/>
<circle cx="368" cy="39" r="1.75"/>
<circle cx="355.5" cy="117.2" r="1.75"/>
<circle cx="385.3" cy="127.1" r="1.75"/>
<circle cx="344.5" cy="54.5" r="1.75"/>
<circle cx="311.3" cy="143.1" r="1.75"/>
<circle cx="281.3" cy="102" r="1.75"/>
<circle cx="360.5" cy="46.2" r="1.75"/>
<circle cx="286.6" cy="71.1" r="1.75"/>
<circle cx="317.9" cy="115" r="1.75"/>
<circle cx="400.9" cy="110.7" r="1.75"/>
<circle cx="335.2" cy="93.3" r="1.75"/>
<circle cx="287.1" cy="108.5" r="1.75"/>
<circle cx="367.1" cy="88.2" r="1.75"/>
<circle cx="355.2" cy="113.9" r="1.75"/>
<circle cx="389.6" cy="119.3" r="1.75"/>
<circle cx="389.1" cy="108.3" r="1.75"/>
<circle cx="376.1" cy="72.7" r="1.75"/>
<circle cx="295.5" cy="129.6" r="1.75"/>
<circle cx="344.1" cy="134.3" r="1.75"/>
<circle cx="296.5" cy="138.8" r="1.75"/>
<circle cx="288.1" cy="92.8" r="1.75"/>
<circle cx="308.5" cy="109.4" r="1.75"/>
<circle cx="371.7" cy="97.7" r="1.75"/>
<circle cx="384.8" cy="95.8" r="1.75"/>
<circle cx="323.8" cy="128.9" r="1.75"/>
<circle cx="365.3" cy="35.4" r="1.75"/>
<circle cx="347.4" cy="57.2" r="1.75"/>
<circle cx="327.4" cy="81.5" r="1.75"/>
<circle cx="365.3" cy="107.7" r="1.75"/>
<circle cx="319.6" cy="58.6" r="1.75"/>
<circle cx="356" cy="34.2" r="1.75"/>
<circle cx="284.1" cy="108.3" r="1.75"/>
<circle cx="376.9" cy="107.2" r="1.75"/>
<circle cx="348" cy="95.2" r="1.75"/>
<circle cx="298.1" cy="104.5" r="1.75"/>
<circle cx="335.1" cy="115.1" r="1.75"/>
<circle cx="377.4" cy="127.1" r="1.75"/>
<circle cx="363.3" cy="43" r="1.75"/>
<circle cx="299" cy="75.7" r="1.75"/>
<circle cx="341.9" cy="63.6" r="1.75"/>
<circle cx="327.8" cy="124" r="1.75"/>
<circle cx="383.4" cy="72.6" r="1.75"/>
<circle cx="353.6" cy="42.6" r="1.75"/>
<circle cx="333.6" cy="57.7" r="1.75"/>
<circle cx="327.5" cy="93.9" r="1.75"/>
<circle cx="311" cy="115.6" r="1.75"/>
<circle cx="354.9" cy="132.8" r="1.75"/>
<circle cx="275.5" cy="91.6" r="1.75"/>
<circle cx="355.6" cy="76.2" r="1.75"/>
<circle cx="288.5" cy="67.1" r="1.75"/>
<circle cx="335.8" cy="135.2" r="1.75"/>
<circle cx="352.7" cy="106" r="1.75"/>
<circle cx="374.4" cy="102.7" r="1.75"/>
<circle cx="305.2" cy="142.1" r="1.75"/>
<circle cx="345.1" cy="103.9" r="1.75"/>
<circle cx="386.4" cy="122.5" r="1.75"/>
<circle cx="300.9" cy="59.1" r="1.75"/>
<circle cx="288" cy="128.5" r="1.75"/>
<circle cx="336.8" cy="81.8" r="1.75"/>
<circle cx="391.2" cy="107.6" r="1.75"/>
<circle cx="390.8" cy="121.8" r="1.75"/>
<circle cx="291.5" cy="114.1" r="1.75"/>
<circle cx="334.8" cy="117" r="1.75"/>
<circle cx="393.5" cy="120.7" r="1.75"/>
<circle cx="306.1" cy="124.2" r="1.75"/>
<circle cx="370" cy="44.9" r="1.75"/>
<circle cx="295.9" cy="135.8" r="1.75"/>
<circle cx="342.8" cy="39.8" r="1.75"/>
<circle cx="355.3" cy="62.2" r="1.75"/>
<circle cx="347.7" cy="75.1" r="1.75"/>
<circle cx="342.5" cy="86.1" r="1.75"/>
<circle cx="344.5" cy="63.1" r="1.75"/>
<circle cx="334.1" cy="85.2" r="1.75"/>
<circle cx="318.3" cy="106.5" r="1.75"/>
<circle cx="321.7" cy="91.8" r="1.75"/>
<circle cx="369" cy="61.8" r="1.75"/>
<circle cx="281.9" cy="107.9" r="1.75"/>
<circle cx="396.5" cy="92.8" r="1.75"/>
<circle cx="362.7" cy="110.6" r="1.75"/>
<circle cx="374.3" cy="109.3" r="1.75"/>
<circle cx="363.6" cy="116.7" r="1.75"/>
<circle cx="306.4" cy="137.2" r="1.75"/>
<circle cx="353.5" cy="91.3" r="1.75"/>
<circle cx="356.4" cy="72.5" r="1.75"/>
<circle cx="304.9" cy="141" r="1.75"/>
<circle cx="301.1" cy="74" r="1.75"/>
<circle cx="351.2" cy="90.7" r="1.75"/>
<circle cx="336.7" cy="44.2" r="1.75"/>
<circle cx="331.2" cy="87.3" r="1.75"/>
<circle cx="340.7" cy="57.6" r="1.75"/>
<circle cx="313.5" cy="54.1" r="1.75"/>
<circle cx="331.3" cy="70.8" r="1.75"/>
<circle cx="374" cy="69.3" r="1.75"/>
<circle cx="314.5" cy="55.6" r="1.75"/>
<circle cx="356.6" cy="40.1" r="1.75"/>
<circle cx="349.2" cy="68.1" r="1.75"/>
<circle cx="361.2" cy="43.7" r="1.75"/>
<circle cx="364" cy="63.1" r="1.75"/>
<circle cx="295.2" cy="70.2" r="1.75"/>
<circle cx="367.3" cy="113.9" r="1.75"/>
<circle cx="324.5" cy="73" r="1.75"/>
<circle cx="389.7" cy="91.1" r="1.75"/>
<circle cx="331.7" cy="71.8" r="1.75"/>
<circle cx="371.6" cy="53.1" r="1.75"/>
<circle cx="320.9" cy="71.9" r="1.75"/>
<circle cx="378.9" cy="125.6" r="1.75"/>
<circle cx="303.1" cy="150.5" r="1.75"/>
<circle cx="318" cy="102.5" r="1.75"/>
<circle cx="329.5" cy="117.3" r="1.75"/>
<circle cx="393" cy="114.6" r="1.75"/>
<circle cx="319.6" cy="114.4" r="1.75"/>
<circle cx="378.5" cy="102.4" r="1.75"/>
<circle cx="372.3" cy="114.4" r="1.75"/>
<circle cx="367.1" cy="41" r="1.75"/>
<circle cx="299.6" cy="140.5" r="1.75"/>
<circle cx="367.8" cy="47.8" r="1.75"/>
<circle cx="390" cy="117.2" r="1.75"/>
<circle cx="301.7" cy="72.3" r="1.75"/>
<circle cx="362.8" cy="106.1" r="1.75"/>
<circle cx="350" cy="133.7" r="1.75"/>
<circle cx="315.1" cy="134" r="1.75"/>
<circle cx="330.8" cy="60.5" r="1.75"/>
<circle cx="339.2" cy="78.8" r="1.75"/>
<circle cx="361.1" cy="41.6" r="1.75"/>
<circle cx="289.4" cy="68.4" r="1.75"/>
<circle cx="344.5" cy="126.2" r="1.75"/>
<circle cx="317.3" cy="70" r="1.75"/>
<circle cx="294.5" cy="126.1" r="1.75"/>
<circle cx="338.6" cy="123" r="1.75"/>
<circle cx="294.9" cy="143" r="1.75"/>
<circle cx="281.7" cy="81.5" r="1.75"/>
<circle cx="344.4" cy="140.1" r="1.75"/>
<circle cx="329.1" cy="120.8" r="1.75"/>
<circle cx="282.3" cy="109.9" r="1.75"/>
<circle cx="332.4" cy="58.8" r="1.75"/>
<circle cx="320.7" cy="104.5" r="1.75"/>
<circle cx="370.7" cy="89" r="1.75"/>
<circle cx="329.5" cy="65.5" r="1.75"/>
<circle cx="353.4" cy="120.1" r="1.75"/>
<circle cx="365.9" cy="63.1" r="1.75"/>
<circle cx="372.9" cy="97.7" r="1.75"/>
<circle cx="285.4" cy="72.3" r="1.75"/>
<circle cx="388.3" cy="91.1" r="1.75"/>
<circle cx="363" cy="112.8" r="1.75"/>
<circle cx="287.9" cy="118.3" r="1.75"/>
<circle cx="370.7" cy="64.4" r="1.75"/>
<circle cx="352.5" cy="89.8" r="1.75"/>
<circle cx="388.7" cy="102.9" r="1.75"/>
<circle cx="327.3" cy="117.3" r="1.75"/>
<circle cx="375.9" cy="107.4" r="1.75"/>
<circle cx="322" cy="111.1" r="1.75"/>
<circle cx="348.4" cy="43.7" r="1.75"/>
<circle cx="340.7" cy="44.5" r="1.75"/>
<circle cx="373.9" cy="102.1" r="1.75"/>
<circle cx="291.3" cy="115.6" r="1.75"/>
<circle cx="369.9" cy="88" r="1.75"/>
<circle cx="354.7" cy="126.7" r="1.75"/>
<circle cx="365.4" cy="121" r="1.75"/>
<circle cx="332.7" cy="59.3" r="1.75"/>
<circle cx="360.3" cy="112.6" r="1.75"/>
<circle cx="355" cy="125.7" r="1.75"/>
<circle cx="311" cy="104" r="1.75"/>
<circle cx="378.3" cy="106.8" r="1.75"/>
<circle cx="296.3" cy="65.4" r="1.75"/>
<circle cx="314.1" cy="68.6" r="1.75"/>
<circle cx="363.4" cy="76.4" r="1.75"/>
<circle cx="300.5" cy="145.1" r="1.75"/>
<circle cx="350.6" cy="50.8" r="1.75"/>
<circle cx="322.6" cy="60.5" r="1.75"/>
<circle cx="339.8" cy="137.8" r="1.75"/>
<circle cx="338" cy="81.1" r="1.75"/>
<circle cx="336.4" cy="127.2" r="1.75"/>
<circle cx="366.6" cy="39.1" r="1.75"/>
<circle cx="307.5" cy="134.6" r="1.75"/>
<circle cx="354" cy="78.6" r="1.75"/>
<circle cx="391.5" cy="94.5" r="1.75"/>
<circle cx="354.1" cy="76.5" r="1.75"/>
<circle cx="341" cy="70.1" r="1.75"/>
<circle cx="314.9" cy="81.1" r="1.75"/>
<circle cx="293.6" cy="132" r="1.75"/>
<circle cx="286.4" cy="122.3" r="1.75"/>
<circle cx="337.8" cy="55.5" r="1.75"/>
<circle cx="334.5" cy="83.7" r="1.75"/>
<circle cx="359.4" cy="76.4" r="1.75"/>
<circle cx="345" cy="36.4" r="1.75"/>
<circle cx="356.3" cy="77.7" r="1.75"/>
<circle cx="396" cy="91.9" r="1.75"/>
<circle cx="295.2" cy="122" r="1.75"/>
<circle cx="324.7" cy="97.9" r="1.75"/>
<circle cx="369" cy="79.3" r="1.75"/>
<circle cx="342.9" cy="36.9" r="1.75"/>
<circle cx="338.7" cy="89" r="1.75"/>
<circle cx="301.1" cy="74.4" r="1.75"/>
<circle cx="340.4" cy="67.8" r="1.75"/>
<circle cx="365.6" cy="130.7" r="1.75"/>
<circle cx="377.2" cy="85.1" r="1.75"/>
<circle cx="362.4" cy="112.2" r="1.75"/>
<circle cx="371.5" cy="84.5" r="1.75"/>
<circle cx="321.8" cy="67.2" r="1.75"/>
<circle cx="366.8" cy="78.9" r="1.75"/>
<circle cx="279.7" cy="81.8" r="1.75"/>
<circle cx="368.8" cy="100.1" r="1.75"/>
<circle cx="391" cy="95.9" r="1.75"/>
<circle cx="341.2" cy="114.5" r="1.75"/>
<circle cx="356.8" cy="52" r="1.75"/>
<circle cx="345.3" cy="85.9" r="1.75"/>
<circle cx="338.4" cy="89.8" r="1.75"/>
<circle cx="376.6" cy="70.8" r="1.75"/>
<circle cx="310.7" cy="54.6" r="1.75"/>
<circle cx="280.1" cy="96.8" r="1.75"/>
<circle cx="350.3" cy="135.2" r="1.75"/>
<circle cx="356.7" cy="72.1" r="1.75"/>
<circle cx="293.9" cy="49.6" r="1.75"/>
<circle cx="285.3" cy="104" r="1.75"/>
<circle cx="298.4" cy="130" r="1.75"/>
<circle cx="305.5" cy="101.8" r="1.75"/>
<circle cx="297.9" cy="129.3" r="1.75"/>
<circle cx="349.9" cy="41.7" r="1.75"/>
<circle cx="317.7" cy="111.6" r="1.75"/>
<circle cx="370.7" cy="130.2" r="1.75"/>
<circle cx="371.5" cy="36.1" r="1.75"/>
<circle cx="383.1" cy="123.5" r="1.75"/>
<circle cx="352" cy="35.9" r="1.75"/>
<circle cx="346.1" cy="102.9" r="1.75"/>
<circle cx="350.4" cy="62.8" r="1.75"/>
<circle cx="301.5" cy="56.4" r="1.75"/>
<circle cx="361" cy="112.5" r="1.75"/>
<circle cx="352.6" cy="38.3" r="1.75"/>
<circle cx="357.2" cy="131.3" r="1.75"/>
<circle cx="300.1" cy="144.6" r="1.75"/>
<circle cx="295.4" cy="83.9" r="1.75"/>
<circle cx="336.5" cy="119.7" r="1.75"/>
<circle cx="368.4" cy="65" r="1.75"/>
<circle cx="333.9" cy="86.4" r="1.75"/>
<circle cx="316.9" cy="54.8" r="1.75"/>
<circle cx="294.8" cy="149.9" r="1.75"/>
<circle cx="373.3" cy="87.3" r="1.75"/>
<circle cx="335.4" cy="82.2" r="1.75"/>
<circle cx="277.6" cy="93.6" r="1.75"/>
<circle cx="306.6" cy="141.7" r="1.75"/>
<circle cx="356.4" cy="64.9" r="1.75"/>
<circle cx="383.5" cy="101.1" r="1.75"/>
<circle cx="356.9" cy="119.7" r="1.75"/>
<circle cx="369.4" cy="57" r="1.75"/>
<circle cx="387.6" cy="120.3" r="1.75"/>
<circle cx="373.2" cy="120.4" r="1.75"/>
<circle cx="304.1" cy="149" r="1.75"/>
<circle cx="310.7" cy="67.9" r="1.75"/>
<circle cx="365.3" cy="48.9" r="1.75"/>
<circle cx="300.4" cy="135.9" r="1.75"/>
<circle cx="302" cy="61.3" r="1.75"/>
<circle cx="359.9" cy="60.5" r="1.75"/>
<circle cx="281.7" cy="107.9" r="1.75"/>
<circle cx="286.8" cy="91.9" r="1.75"/>
<circle cx="300.1" cy="138.3" r="1.75"/>
<circle cx="370.5" cy="60.4" r="1.75"/>
<circle cx="351.8" cy="125.3" r="1.75"/>
<circle cx="312.4" cy="62.3" r="1.75"/>
<circle cx="319.5" cy="121.2" r="1.75"/>
<circle cx="321.2" cy="120.5" r="1.75"/>
<circle cx="322.4" cy="96.7" r="1.75"/>
<circle cx="299.5" cy="55.6" r="1.75"/>
<circle cx="319.5" cy="133.7" r="1.75"/>
<circle cx="319.6" cy="70.4" r="1.75"/>
<circle cx="347.8" cy="86.3" r="1.75"/>
<circle cx="320.6" cy="98.9" r="1.75"/>
<circle cx="297.5" cy="127.7" r="1.75"/>
<circle cx="315.2" cy="62.8" r="1.75"/>
<circle cx="356.7" cy="45.6" r="1.75"/>
<circle cx="296.1" cy="62.3" r="1.75"/>
<circle cx="383.8" cy="87.2" r="1.75"/>
<circle cx="287.4" cy="124" r="1.75"/>
<circle cx="371" cy="120.3" r="1.75"/>
<circle cx="351.6" cy="62.2" r="1.75"/>
<circle cx="319.5" cy="105.8" r="1.75"/>
<circle cx="304" cy="126" r="1.75"/>
<circle cx="394" cy="106.5" r="1.75"/>
<circle cx="295" cy="65.2" r="1.75"/>
<circle cx="350.8" cy="84.7" r="1.75"/>
<circle cx="324.6" cy="76.1" r="1.75"/>
<circle cx="305.8" cy="113.1" r="1.75"/>
<circle cx="367.9" cy="60.8" r="1.75"/>
<circle cx="351.6" cy="117.9" r="1.75"/>
<circle cx="351.3" cy="96.6" r="1.75"/>
<circle cx="306.6" cy="62.8" r="1.75"/>
<circle cx="328.2" cy="55.8" r="1.75"/>
<circle cx="297.9" cy="58.7" r="1.75"/>
<circle cx="354.3" cy="115.3" r="1.75"/>
<circle cx="296" cy="94.4" r="1.75"/>
<circle cx="357.9" cy="118" r="1.75"/>
<circle cx="363.4" cy="122" r="1.75"/>
<circle cx="368.8" cy="84.8" r="1.75"/>
<circle cx="366.5" cy="118.5" r="1.75"/>
<circle cx="375" cy="116.7" r="1.75"/>
<circle cx="361.5" cy="89" r="1.75"/>
<circle cx="381.8" cy="72.3" r="1.75"/>
<circle cx="318.6" cy="102.5" r="1.75"/>
<circle cx="358.9" cy="88.4" r="1.75"/>
<circle cx="336.2" cy="74" r="1.75"/>
<circle cx="321.5" cy="100.8" r="1.75"/>
<circle cx="294.1" cy="88.6" r="1.75"/>
<circle cx="292.6" cy="92.4" r="1.75"/>
<circle cx="338.6" cy="80.5" r="1.75"/>
<circle cx="314.8" cy="127.2" r="1.75"/>
<circle cx="304.2" cy="94.4" r="1.75"/>
<circle cx="328.6" cy="113.1" r="1.75"/>
<circle cx="338.7" cy="125" r="1.75"/>
<circle cx="339.4" cy="87.9" r="1.75"/>
<circle cx="333.5" cy="107.6" r="1.75"/>
<circle cx="298.5" cy="64.7" r="1.75"/>
<circle cx="314.7" cy="67" r="1.75"/>
<circle cx="397.9" cy="105.4" r="1.75"/>
<circle cx="356.8" cy="103.4" r="1.75"/>
<circle cx="348.4" cy="36.4" r="1.75"/>
<circle cx="353" cy="126.9" r="1.75"/>
<circle cx="319.9" cy="76.7" r="1.75"/>
<circle cx="307.5" cy="122.9" r="1.75"/>
<circle cx="371.3" cy="96" r="1.75"/>
<circle cx="340.4" cy="66.3" r="1.75"/>
<circle cx="347.6" cy="68.1" r="1.75"/>
<circle cx="300.3" cy="150" r="1.75"/>
<circle cx="365.2" cy="51.7" r="1.75"/>
<circle cx="297.9" cy="102.4" r="1.75"/>
<circle cx="387.8" cy="122.8" r="1.75"/>
<circle cx="357.2" cy="90" r="1.75"/>
<circle cx="303.2" cy="64.1" r="1.75"/>
<circle cx="347.5" cy="67.4" r="1.75"/>
<circle cx="365.7" cy="60.8" r="1.75"/>
<circle cx="355.4" cy="56.4" r="1.75"/>
<circle cx="324.9" cy="65.4" r="1.75"/>
<circle cx="320.7" cy="102.8" r="1.75"/>
<circle cx="372.1" cy="84.5" r="1.75"/>
<circle cx="394.9" cy="112.2" r="1.75"/>
<circle cx="370.8" cy="131.9" r="1.75"/>
<circle cx="320.1" cy="122.9" r="1.75"/>
<circle cx="336.7" cy="65.6" r="1.75"/>
<circle cx="361.4" cy="116" r="1.75"/>
<circle cx="333.2" cy="109.9" r="1.75"/>
<circle cx="312.9" cy="59.1" r="1.75"/>
<circle cx="359.8" cy="71.7" r="1.75"/>
<circle cx="391.3" cy="119.5" r="1.75"/>
<circle cx="290.8" cy="92.3" r="1.75"/>
<circle cx="352.3" cy="52" r="1.75"/>
<circle cx="359.9" cy="125.7" r="1.75"/>
<circle cx="326.5" cy="60.9" r="1.75"/>
<circle cx="370.1" cy="49.1" r="1.75"/>
<circle cx="364.2" cy="56.8" r="1.75"/>
<circle cx="376.4" cy="97.1" r="1.75"/>
<circle cx="320.7" cy="64.7" r="1.75"/>
<circle cx="385.3" cy="123.1" r="1.75"/>
<circle cx="369.2" cy="90.6" r="1.75"/>
<circle cx="288.2" cy="116.7" r="1.75"/>
<circle cx="352.9" cy="95.9" r="1.75"/>
<circle cx="356.1" cy="44" r="1.75"/>
<circle cx="306.8" cy="109.5" r="1.75"/>
<circle cx="340.7" cy="136" r="1.75"/>
<circle cx="302.8" cy="74.2" r="1.75"/>
<circle cx="323" cy="66.7" r="1.75"/>
<circle cx="362.2" cy="71.5" r="1.75"/>
<circle cx="325.9" cy="125.5" r="1.75"/>
<circle cx="283.3" cy="109.6" r="1.75"/>
<circle cx="338.5" cy="80.4" r="1.75"/>
<circle cx="331.3" cy="51.6" r="1.75"/>
<circle cx="290.2" cy="117.4" r="1.75"/>
<circle cx="315.9" cy="61" r="1.75"/>
<circle cx="299.8" cy="106.8" r="1.75"/>
<circle cx="365.3" cy="104.1" r="1.75"/>
<circle cx="371.3" cy="79.5" r="1.75"/>
<circle cx="384.4" cy="90.4" r="1.75"/>
<circle cx="305" cy="135.4" r="1.75"/>
<circle cx="357.3" cy="67.2" r="1.75"/>
<circle cx="361.1" cy="115.9" r="1.75"/>
<circle cx="303.5" cy="71.5" r="1.75"/>
<circle cx="321.2" cy="115.5" r="1.75"/>
<circle cx="401.1" cy="109.9" r="1.75"/>
<circle cx="309.7" cy="147.9" r="1.75"/>
<circle cx="367.6" cy="74.7" r="1.75"/>
<circle cx="352.4" cy="83.9" r="1.75"/>
<circle cx="337.4" cy="72.7" r="1.75"/>
<circle cx="280.9" cy="104.3" r="1.75"/>
<circle cx="344.1" cy="75.7" r="1.75"/>
<circle cx="330.5" cy="104.1" r="1.75"/>
<circle cx="351.8" cy="99.7" r="1.75"/>
<circle cx="341.3" cy="56.3" r="1.75"/>
<circle cx="309" cy="112.2" r="1.75"/>
<circle cx="280.1" cy="85.3" r="1.75"/>
<circle cx="302.4" cy="104.8" r="1.75"/>
<circle cx="320.1" cy="68.3" r="1.75"/>
<circle cx="320.3" cy="56.4" r="1.75"/>
<circle cx="277.5" cy="87.5" r="1.75"/>
<circle cx="383.1" cy="122.2" r="1.75"/>
<circle cx="344.8" cy="45.7" r="1.75"/>
<circle cx="333.4" cy="61.6" r="1.75"/>
<circle cx="298.9" cy="95.1" r="1.75"/>
<circle cx="335" cy="84.1" r="1.75"/>
<circle cx="387.2" cy="85.7" r="1.75"/>
<circle cx="302.4" cy="71.1" r="1.75"/>
<circle cx="335.7" cy="46.7" r="1.75"/>
<circle cx="355.8" cy="95.2" r="1.75"/>
<circle cx="375.2" cy="84.8" r="1.75"/>
<circle cx="384" cy="113.4" r="1.75"/>
<circle cx="353.1" cy="42.9" r="1.75"/>
<circle cx="315.1" cy="64.4" r="1.75"/>
<circle cx="365.7" cy="112.9" r="1.75"/>
<circle cx="283.5" cy="84.7" r="1.75"/>
<circle cx="285.9" cy="105.9" r="1.75"/>
<circle cx="380.3" cy="129.8" r="1.75"/>
<circle cx="336.2" cy="89.2" r="1.75"/>
<circle cx="288.5" cy="103.4" r="1.75"/>
<circle cx="381.4" cy="128" r="1.75"/>
<circle cx="298.8" cy="141.9" r="1.75"/>
<circle cx="357.5" cy="105" r="1.75"/>
<circle cx="367.4" cy="79.4" r="1.75"/>
<circle cx="326.5" cy="97.2" r="1.75"/>
<circle cx="385.5" cy="105.1" r="1.75"/>
<circle cx="336.3" cy="79.6" r="1.75"/>
<circle cx="286.8" cy="75.9" r="1.75"/>
<circle cx="334.1" cy="110.2" r="1.75"/>
<circle cx="305.4" cy="94.3" r="1.75"/>
<circle cx="340.2" cy="126.8" r="1.75"/>
<circle cx="373.2" cy="74.6" r="1.75"/>
<circle cx="354" cy="63.5" r="1.75"/>
<circle cx="290.3" cy="88.1" r="1.75"/>
<circle cx="290.1" cy="57.4" r="1.75"/>
<circle cx="338.9" cy="117.9" r="1.75"/>
<circle cx="317.9" cy="113.7" r="1.75"/>
<circle cx="378" cy="108.9" r="1.75"/>
<circle cx="359.7" cy="120.5" r="1.75"/>
<circle cx="340.7" cy="39" r="1.75"/>
<circle cx="292.9" cy="96.1" r="1.75"/>
<circle cx="359.8" cy="35.4" r="1.75"/>
<circle cx="352.6" cy="137.4" r="1.75"/>
<circle cx="337.8" cy="121.6" r="1.75"/>
<circle cx="276.6" cy="95.2" r="1.75"/>
<circle cx="371.8" cy="126" r="1.75"/>
<circle cx="312.9" cy="105.4" r="1.75"/>
<circle cx="351.4" cy="77" r="1.75"/>
<circle cx="295.9" cy="121" r="1.75"/>
<circle cx="374" cy="88.9" r="1.75"/>
<circle cx="353.6" cy="89.1" r="1.75"/>
<circle cx="344.7" cy="63.7" r="1.75"/>
<circle cx="289.2" cy="127.5" r="1.75"/>
<circle cx="331.8" cy="72.8" r="1.75"/>
<circle cx="344.5" cy="36.8" r="1.75"/>
<circle cx="371.4" cy="71.7" r="1.75"/>
<circle cx="316.1" cy="62.9" r="1.75"/>
<circle cx="361.1" cy="127.7" r="1.75"/>
<circle cx="335.5" cy="134.6" r="1.75"/>
<circle cx="326.6" cy="95.5" r="1.75"/>
<circle cx="380.6" cy="67.7" r="1.75"/>
<circle cx="335.2" cy="73.6" r="1.75"/>
<circle cx="384.8" cy="125.1" r="1.75"/>
<circle cx="290.1" cy="140.2" r="1.75"/>
<circle cx="289.7" cy="113.7" r="1.75"/>
<circle cx="353.5" cy="117.9" r="1.75"/>
<circle cx="289.8" cy="98.8" r="1.75"/>
<circle cx="385.4" cy="128.6" r="1.75"/>
<circle cx="385.3" cy="114.8" r="1.75"/>
<circle cx="380.9" cy="92.3" r="1.75"/>
<circle cx="335.7" cy="103.7" r="1.75"/>
<circle cx="309.3" cy="131.1" r="1.75"/>
<circle cx="359.1" cy="104.8" r="1.75"/>
<circle cx="337.1" cy="43.4" r="1.75"/>
<circle cx="320.7" cy="88" r="1.75"/>
<circle cx="358.6" cy="110.1" r="1.75"/>
<circle cx="354.9" cy="111.8" r="1.75"/>
<circle cx="313" cy="138.3" r="1.75"/>
<circle cx="371.1" cy="38.6" r="1.75"/>
<circle cx="324.8" cy="91.2" r="1.75"/>
<circle cx="332.8" cy="77.2" r="1.75"/>
<circle cx="297.8" cy="98.3" r="1.75"/>
<circle cx="357.3" cy="45" r="1.75"/>
<circle cx="332.3" cy="102.7" r="1.75"/>
<circle cx="351.4" cy="129.5" r="1.75"/>
<circle cx="314" cy="106.8" r="1.75"/>
<circle cx="384.7" cy="103.2" r="1.75"/>
<circle cx="283.8" cy="117.8" r="1.75"/>
<circle cx="289.6" cy="143.2" r="1.75"/>
<circle cx="287.1" cy="103.4" r="1.75"/>
<circle cx="356.9" cy="125" r="1.75"/>
<circle cx="351.8" cy="135.6" r="1.75"/>
<circle cx="298" cy="70.3" r="1.75"/>
<circle cx="359" cy="72.2" r="1.75"/>
<circle cx="371" cy="79.8" r="1.75"/>
<circle cx="350" cy="97.1" r="1.75"/>
<circle cx="346.1" cy="103.7" r="1.75"/>
<circle cx="303.8" cy="50.2" r="1.75"/>
<circle cx="328.7" cy="101.8" r="1.75"/>
<circle cx="383.4" cy="97.1" r="1.75"/>
<circle cx="338.9" cy="86.6" r="1.75"/>
<circle cx="374.7" cy="108.4" r="1.75"/>
<circle cx="372.8" cy="70.5" r="1.75"/>
<circle cx="307.9" cy="75.9" r="1.75"/>
<circle cx="298.9" cy="113.7" r="1.75"/>
<circle cx="296.2" cy="60.1" r="1.75"/>
<circle cx="382.1" cy="88.2" r="1.75"/>
<circle cx="311.8" cy="104.7" r="1.75"/>
<circle cx="369.6" cy="100.3" r="1.75"/>
<circle cx="351.4" cy="127" r="1.75"/>
<circle cx="345.7" cy="107.9" r="1.75"/>
<circle cx="395.9" cy="98.5" r="1.75"/>
<circle cx="288.5" cy="72.8" r="1.75"/>
<circle cx="317.5" cy="101.7" r="1.75"/>
<circle cx="375.7" cy="101.9" r="1.75"/>
<circle cx="320.5" cy="111.4" r="1.75"/>
<circle cx="374.4" cy="87.3" r="1.75"/>
<circle cx="354.5" cy="118.5" r="1.75"/>
<circle cx="364.8" cy="43.8" r="1.75"/>
<circle cx="341.5" cy="107.4" r="1.75"/>
<circle cx="361.1" cy="36.1" r="1.75"/>
<circle cx="356.6" cy="107" r="1.75"/>
<circle cx="318" cy="68.3" r="1.75"/>
<circle cx="298.3" cy="144.4" r="1.75"/>
<circle cx="329.3" cy="51.5" r="1.75"/>
<circle cx="348.3" cy="40.2" r="1.75"/>
<circle cx="305.6" cy="102" r="1.75"/>
<circle cx="359.2" cy="61.3" r="1.75"/>
<circle cx="295.3" cy="65.2" r="1.75"/>
<circle cx="325.8" cy="95.9" r="1.75"/>
<circle cx="375.4" cy="91.7" r="1.75"/>
<circle cx="372.3" cy="121.1" r="1.75"/>
<circle cx="349.8" cy="96.3" r="1.75"/>
<circle cx="353.7" cy="37.3" r="1.75"/>
<circle cx="354.5" cy="42.9" r="1.75"/>
<circle cx="310" cy="120.8" r="1.75"/>
<circle cx="293.6" cy="54" r="1.75"/>
<circle cx="378.1" cy="109" r="1.75"/>
<circle cx="383.6" cy="92.1" r="1.75"/>
<circle cx="329.5" cy="130.9" r="1.75"/>
<circle cx="322" cy="129.8" r="1.75"/>
<circle cx="349.5" cy="43.7" r="1.75"/>
<circle cx="276.9" cy="89.2" r="1.75"/>
<circle cx="279.7" cy="88.8" r="1.75"/>
<circle cx="371.7" cy="68.9" r="1.75"/>
<circle cx="362.8" cy="77.3" r="1.75"/>
<circle cx="353" cy="51.5" r="1.75"/>
<circle cx="330" cy="50.3" r="1.75"/>
<circle cx="327.2" cy="104.3" r="1.75"/>
<circle cx="353.7" cy="122.7" r="1.75"/>
<circle cx="370.8" cy="40.1" r="1.75"/>
<circle cx="352.3" cy="123.6" r="1.75"/>
<circle cx="376.6" cy="101.4" r="1.75"/>
<circle cx="371.3" cy="127.7" r="1.75"/>
<circle cx="284.7" cy="94.3" r="1.75"/>
<circle cx="292.4" cy="83.9" r="1.75"/>
<circle cx="319.9" cy="101" r="1.75"/>
<circle cx="323.6" cy="108.2" r="1.75"/>
<circle cx="343.7" cy="107.7" r="1.75"/>
<circle cx="322.6" cy="99.9" r="1.75"/>
<circle cx="284.8" cy="111.5" r="1.75"/>
<circle cx="378.1" cy="131" r="1.75"/>
<circle cx="353.3" cy="70.8" r="1.75"/>
<circle cx="291.7" cy="82.3" r="1.75"/>
<circle cx="355.6" cy="35.6" r="1.75"/>
<circle cx="316.2" cy="134.2" r="1.75"/>
<circle cx="288.4" cy="92.2" r="1.75"/>
<circle cx="305" cy="107.8" r="1.75"/>
<circle cx="400.8" cy="107.5" r="1.75"/>
<circle cx="300.6" cy="131" r="1.75"/>
<circle cx="362" cy="111.2" r="1.75"/>
<circle cx="340.1" cy="84.5" r="1.75"/>
<circle cx="342.8" cy="134.6" r="1.75"/>
<circle cx="349.8" cy="73.1" r="1.75"/>
<circle cx="324.3" cy="62.9" r="1.75"/>
<circle cx="295.4" cy="124" r="1.75"/>
<circle cx="340.5" cy="91.9" r="1.75"/>
<circle cx="298.3" cy="50.5" r="1.75"/>
<circle cx="288.6" cy="70.4" r="1.75"/>
<circle cx="344.9" cy="92.5" r="1.75"/>
<circle cx="328.1" cy="91.8" r="1.75"/>
<circle cx="280.6" cy="80.2" r="1.75"/>
<circle cx="360.1" cy="33.6" r="1.75"/>
<circle cx="315" cy="67.8" r="1.75"/>
<circle cx="360.9" cy="89" r="1.75"/>
<circle cx="384.4" cy="107.4" r="1.75"/>
<circle cx="326" cy="71.4" r="1.75"/>
<circle cx="295.4" cy="134.3" r="1.75"/>
<circle cx="380.6" cy="125.8" r="1.75"/>
<circle cx="375.1" cy="104.4" r="1.75"/>
<circle cx="379.4" cy="111.6" r="1.75"/>
<circle cx="330.3" cy="93" r="1.75"/>
<circle cx="372" cy="47.2" r="1.75"/>
<circle cx="333" cy="95.3" r="1.75"/>
<circle cx="355" cy="125.5" r="1.75"/>
<circle cx="297.3" cy="134.6" r="1.75"/>
<circle cx="387.4" cy="80.9" r="1.75"/>
<circle cx="337.4" cy="96.1" r="1.75"/>
<circle cx="305.1" cy="75.3" r="1.75"/>
<circle cx="297.9" cy="56" r="1.75"/>
<circle cx="345.6" cy="67.1" r="1.75"/>
<circle cx="366.3" cy="74.6" r="1.75"/>
<circle cx="293.3" cy="138.9" r="1.75"/>
<circle cx="363.1" cy="123.5" r="1.75"/>
<circle cx="293.4" cy="130.9" r="1.75"/>
<circle cx="293.8" cy="110.7" r="1.75"/>
<circle cx="342.8" cy="136.2" r="1.75"/>
<circle cx="364" cy="100.1" r="1.75"/>
<circle cx="366.5" cy="121.5" r="1.75"/>
<circle cx="403.9" cy="107.5" r="1.75"/>
<circle cx="363.6" cy="78.8" r="1.75"/>
<circle cx="325" cy="81.4" r="1.75"/>
<circle cx="293.8" cy="145.2" r="1.75"/>
<circle cx="366.1" cy="109.9" r="1.75"/>
<circle cx="358.3" cy="37.3" r="1.75"/>
<circle cx="329.7" cy="81.2" r="1.75"/>
<circle cx="289.4" cy="96.5" r="1.75"/>
<circle cx="358.8" cy="60.6" r="1.75"/>
<circle cx="350" cy="37.1" r="1.75"/>
<circle cx="369.8" cy="102.1" r="1.75"/>
<circle cx="360.2" cy="113.1" r="1.75"/>
<circle cx="370.8" cy="69.2" r="1.75"/>
<circle cx="326.9" cy="128" r="1.75"/>
<circle cx="352.5" cy="64.3" r="1.75"/>
<circle cx="288.3" cy="116.6" r="1.75"/>
<circle cx="312.5" cy="143.4" r="1.75"/>
<circle cx="383.8" cy="84.3" r="1.75"/>
<circle cx="285.1" cy="82.2" r="1.75"/>
<circle cx="322.4" cy="87.9" r="1.75"/>
<circle cx="351.5" cy="85.5" r="1.75"/>
<circle cx="364.8" cy="58.2" r="1.75"/>
<circle cx="370" cy="88.9" r="1.75"/>
<circle cx="350.5" cy="105.3" r="1.75"/>
<circle cx="343.5" cy="108" r="1.75"/>
<circle cx="328.2" cy="80.2" r="1.75"/>
<circle cx="316.9" cy="61" r="1.75"/>
<circle cx="311.7" cy="71.7" r="1.75"/>
<circle cx="334.2" cy="87.3" r="1.75"/>
<circle cx="357.3" cy="108.2" r="1.75"/>
<circle cx="335.7" cy="81.7" r="1.75"/>
<circle cx="341.1" cy="109.5" r="1.75"/>
<circle cx="379.6" cy="132.6" r="1.75"/>
<circle cx="292" cy="57.4" r="1.75"/>
<circle cx="354.7" cy="135.5" r="1.75"/>
<circle cx="332.6" cy="128.8" r="1.75"/>
<circle cx="352.5" cy="31.5" r="1.75"/>
<circle cx="323.2" cy="128.8" r="1.75"/>
<circle cx="300.1" cy="108.6" r="1.75"/>
<circle cx="357.6" cy="78" r="1.75"/>
<circle cx="296.9" cy="99.5" r="1.75"/>
<circle cx="369" cy="33.8" r="1.75"/>
<circle cx="362.4" cy="57.8" r="1.75"/>
<circle cx="342.1" cy="91.3" r="1.75"/>
<circle cx="370" cy="79.6" r="1.75"/>
<circle cx="375.9" cy="67.9" r="1.75"/>
<circle cx="295.1" cy="69.7" r="1.75"/>
<circle cx="397.2" cy="114.3" r="1.75"/>
<circle cx="364" cy="117.4" r="1.75"/>
<circle cx="291.2" cy="75" r="1.75"/>
<circle cx="380.6" cy="105.1" r="1.75"/>
<circle cx="400.2" cy="104.5" r="1.75"/>
<circle cx="295.9" cy="92.7" r="1.75"/>
<circle cx="383.1" cy="116.7" r="1.75"/>
<circle cx="290.3" cy="88.2" r="1.75"/>
<circle cx="344.5" cy="42.6" r="1.75"/>
<circle cx="344.9" cy="67.1" r="1.75"/>
<circle cx="358.9" cy="128.4" r="1.75"/>
<circle cx="380.5" cy="91.5" r="1.75"/>
<circle cx="383.4" cy="115.5" r="1.75"/>
<circle cx="318.6" cy="90.1" r="1.75"/>
<circle cx="346.2" cy="98.5" r="1.75"/>
<circle cx="295.6" cy="122.8" r="1.75"/>
<circle cx="295.1" cy="74.9" r="1.75"/>
<circle cx="385.7" cy="99.7" r="1.75"/>
<circle cx="370.8" cy="90.4" r="1.75"/>
<circle cx="335.9" cy="128.3" r="1.75"/>
<circle cx="319.6" cy="115.4" r="1.75"/>
<circle cx="395.3" cy="111.6" r="1.75"/>
<circle cx="293.3" cy="134.2" r="1.75"/>
<circle cx="289.2" cy="100.6" r="1.75"/>
<circle cx="367.3" cy="95.8" r="1.75"/>
<circle cx="316" cy="98.2" r="1.75"/>
<circle cx="354.2" cy="85" r="1.75"/>
<circle cx="311.3" cy="54" r="1.75"/>
<circle cx="290.5" cy="53.2" r="1.75"/>
<circle cx="345.9" cy="129.8" r="1.75"/>
<circle cx="318" cy="79.9" r="1.75"/>
<circle cx="295.7" cy="124.1" r="1.75"/>
<circle cx="304.1" cy="60" r="1.75"/>
<circle cx="317.1" cy="134.5" r="1.75"/>
<circle cx="307.1" cy="57.5" r="1.75"/>
<circle cx="319.9" cy="113" r="1.75"/>
<circle cx="354.4" cy="123.9" r="1.75"/>
<circle cx="360.3" cy="47.5" r="1.75"/>
<circle cx="364.1" cy="50.2" r="1.75"/>
<circle cx="298.1" cy="91.4" r="1.75"/>
<circle cx="381.5" cy="73.7" r="1.75"/>
<circle cx="364.4" cy="67.8" r="1.75"/>
<circle cx="383.5" cy="92" r="1.75"/>
<circle cx="394.1" cy="98" r="1.75"/>
<circle cx="365.3" cy="56.8" r="1.75"/>
<circle cx="307.3" cy="107.9" r="1.75"/>
<circle cx="359.7" cy="91.8" r="1.75"/>
<circle cx="330.5" cy="131.7" r="1.75"/>
<circle cx="360.5" cy="125.7" r="1.75"/>
<circle cx="312.1" cy="61.5" r="1.75"/>
<circle cx="359.2" cy="99.3" r="1.75"/>
<circle cx="287.9" cy="73" r="1.75"/>
<circle cx="357.7" cy="98.7" r="1.75"/>
<circle cx="312.2" cy="86.1" r="1.75"/>
<circle cx="344.8" cy="138.5" r="1.75"/>
<circle cx="342.6" cy="63" r="1.75"/>
<circle cx="380" cy="115.6" r="1.75"/>
<circle cx="301.7" cy="137.7" r="1.75"/>
<circle cx="338" cy="115.3" r="1.75"/>
<circle cx="277.5" cy="92.6" r="1.75"/>
<circle cx="376.8" cy="128.1" r="1.75"/>
<circle cx="378.2" cy="83" r="1.75"/>
<circle cx="306" cy="134.8" r="1.75"/>
<circle cx="298.2" cy="54.6" r="1.75"/>
<circle cx="329.7" cy="109.4" r="1.75"/>
<circle cx="308" cy="54.6" r="1.75"/>
<circle cx="384" cy="100" r="1.75"/>
<circle cx="331.1" cy="123.5" r="1.75"/>
<circle cx="282.4" cy="110.8" r="1.75"/>
<circle cx="362.3" cy="48.8" r="1.75"/>
<circle cx="366.8" cy="112.3" r="1.75"/>
<circle cx="340.3" cy="60.8" r="1.75"/>
<circle cx="340.9" cy="57.8" r="1.75"/>
<circle cx="355.3" cy="129.9" r="1.75"/>
<circle cx="355.9" cy="35.1" r="1.75"/>
<circle cx="284.6" cy="79.2" r="1.75"/>
<circle cx="364.1" cy="92.2" r="1.75"/>
<circle cx="364" cy="80.9" r="1.75"/>
<circle cx="299.7" cy="140" r="1.75"/>
<circle cx="320.5" cy="86.5" r="1.75"/>
<circle cx="366.1" cy="106.9" r="1.75"/>
<circle cx="354.9" cy="61.5" r="1.75"/>
<circle cx="393.7" cy="118.7" r="1.75"/>
<circle cx="377.1" cy="112.2" r="1.75"/>
<circle cx="295.4" cy="53.8" r="1.75"/>
<circle cx="340.4" cy="122" r="1.75"/>
<circle cx="337" cy="84.2" r="1.75"/>
<circle cx="341.3" cy="64.2" r="1.75"/>
<circle cx="385.2" cy="108.2" r="1.75"/>
<circle cx="309.4" cy="77.1" r="1.75"/>
<circle cx="318.9" cy="61.2" r="1.75"/>
<circle cx="377" cy="104.6" r="1.75"/>
<circle cx="334.7" cy="135.6" r="1.75"/>
<circle cx="305.5" cy="116.3" r="1.75"/>
<circle cx="303.8" cy="123.5" r="1.75"/>
<circle cx="355.1" cy="111" r="1.75"/>
<circle cx="378" cy="86.5" r="1.75"/>
<circle cx="359.7" cy="129.3" r="1.75"/>
<circle cx="393" cy="106.4" r="1.75"/>
<circle cx="280.7" cy="87.9" r="1.75"/>
<circle cx="391.3" cy="114.9" r="1.75"/>
<circle cx="295.1" cy="123.2" r="1.75"/>
<circle cx="371.7" cy="45" r="1.75"/>
<circle cx="292" cy="99.3" r="1.75"/>
<circle cx="374" cy="73.1" r="1.75"/>
<circle cx="369.4" cy="73.5" r="1.75"/>
<circle cx="371.1" cy="79.9" r="1.75"/>
<circle cx="343.5" cy="37.9" r="1.75"/>
<circle cx="365.2" cy="120.5" r="1.75"/>
<circle cx="288.2" cy="66.7" r="1.75"/>
<circle cx="302.2" cy="50.1" r="1.75"/>
<circle cx="381.2" cy="128.1" r="1.75"/>
<circle cx="373.4" cy="112.9" r="1.75"/>
<circle cx="292.6" cy="135.8" r="1.75"/>
<circle cx="283.9" cy="74.1" r="1.75"/>
<circle cx="308.4" cy="147.8" r="1.75"/>
<circle cx="360.3" cy="39.7" r="1.75"/>
<circle cx="342.8" cy="57.7" r="1.75"/>
<circle cx="356.7" cy="49.3" r="1.75"/>
<circle cx="296.4" cy="130.1" r="1.75"/>
<circle cx="348.6" cy="83.8" r="1.75"/>
<circle cx="353.1" cy="66.8" r="1.75"/>
<circle cx="276" cy="87.6" r="1.75"/>
<circle cx="332.2" cy="108.7" r="1.75"/>
<circle cx="389" cy="83.1" r="1.75"/>
<circle cx="321.9" cy="113.9" r="1.75"/>
<circle cx="366.7" cy="83.9" r="1.75"/>
<circle cx="293.1" cy="55.9" r="1.75"/>
<circle cx="327.7" cy="86.5" r="1.75"/>
<circle cx="359.2" cy="123.3" r="1.75"/>
<circle cx="367.3" cy="55.1" r="1.75"/>
<circle cx="385.6" cy="96.3" r="1.75"/>
<circle cx="289.6" cy="138.6" r="1.75"/>
<circle cx="293.4" cy="79.9" r="1.75"/>
<circle cx="384.3" cy="86.7" r="1.75"/>
<circle cx="394.1" cy="117.7" r="1.75"/>
<circle cx="290.7" cy="90" r="1.75"/>
<circle cx="299.6" cy="110.6" r="1.75"/>
<circle cx="306.4" cy="97.2" r="1.75"/>
<circle cx="401.5" cy="111.3" r="1.75"/>
<circle cx="305.7" cy="135.7" r="1.75"/>
<circle cx="332.8" cy="116.4" r="1.75"/>
<circle cx="315" cy="117.6" r="1.75"/>
<circle cx="349" cy="70.7" r="1.75"/>
<circle cx="294.3" cy="98.7" r="1.75"/>
<circle cx="307" cy="135.4" r="1.75"/>
<circle cx="302.8" cy="73" r="1.75"/>
<circle cx="346.7" cy="45.8" r="1.75"/>
<circle cx="348.7" cy="104.5" r="1.75"/>
<circle cx="313" cy="88.2" r="1.75"/>
<circle cx="307.6" cy="134.4" r="1.75"/>
<circle cx="336" cy="99.8" r="1.75"/>
<circle cx="355.4" cy="133.9" r="1.75"/>
<circle cx="363.4" cy="122.5" r="1.75"/>
<circle cx="342.8" cy="90.8" r="1.75"/>
<circle cx="332.8" cy="93.8" r="1.75"/>
<circle cx="318.2" cy="135.2" r="1.75"/>
<circle cx="332.8" cy="82.5" r="1.75"/>
<circle cx="303.7" cy="146.7" r="1.75"/>
<circle cx="327.6" cy="54.1" r="1.75"/>
<circle cx="355.5" cy="107.6" r="1.75"/>
<circle cx="378.8" cy="110.2" r="1.75"/>
<circle cx="307.8" cy="88.4" r="1.75"/>
<circle cx="381.8" cy="83.1" r="1.75"/>
<circle cx="367.7" cy="55.1" r="1.75"/>
<circle cx="354.9" cy="35.5" r="1.75"/>
<circle cx="297.8" cy="78.3" r="1.75"/>
<circle cx="301.3" cy="74.5" r="1.75"/>
<circle cx="331.7" cy="53.8" r="1.75"/>
<circle cx="297.8" cy="149.3" r="1.75"/>
<circle cx="296.5" cy="148.6" r="1.75"/>
<circle cx="328" cy="99.2" r="1.75"/>
<circle cx="378.5" cy="74.7" r="1.75"/>
<circle cx="386.1" cy="106.3" r="1.75"/>
<circle cx="371.2" cy="124.3" r="1.75"/>
<circle cx="367.2" cy="68.6" r="1.75"/>
<circle cx="286.4" cy="84" r="1.75"/>
<circle cx="361.8" cy="128.4" r="1.75"/>
<circle cx="356.3" cy="76" r="1.75"/>
<circle cx="335.9" cy="53.3" r="1.75"/>
<circle cx="347.9" cy="100.1" r="1.75"/>
<circle cx="331.8" cy="122.4" r="1.75"/>
<circle cx="377.2" cy="113.9" r="1.75"/>
<circle cx="372.7" cy="126.3" r="1.75"/>
<circle cx="340.3" cy="64.6" r="1.75"/>
<circle cx="374.4" cy="77.3" r="1.75"/>
<circle cx="338" cy="80" r="1.75"/>
<circle cx="306.1" cy="106.2" r="1.75"/>
<circle cx="319.8" cy="88.9" r="1.75"/>
<circle cx="288.3" cy="123.5" r="1.75"/>
<circle cx="338.2" cy="138.3" r="1.75"/>
<circle cx="322.7" cy="118.1" r="1.75"/>
<circle cx="347.2" cy="41.1" r="1.75"/>
<circle cx="331.5" cy="133.6" r="1.75"/>
<circle cx="356.4" cy="107" r="1.75"/>
<circle cx="325.6" cy="116.1" r="1.75"/>
<circle cx="353.1" cy="97.7" r="1.75"/>
<circle cx="395.8" cy="95" r="1.75"/>
<circle cx="316.7" cy="64.2" r="1.75"/>
<circle cx="385.7" cy="116.7" r="1.75"/>
<circle cx="292.1" cy="90.7" r="1.75"/>
<circle cx="358.7" cy="132.9" r="1.75"/>
<circle cx="340" cy="139" r="1.75"/>
<circle cx="312.1" cy="58" r="1.75"/>
<circle cx="382.1" cy="100.1" r="1.75"/>
<circle cx="283.1" cy="103" r="1.75"/>
<circle cx="366.1" cy="117.3" r="1.75"/>
<circle cx="347.4" cy="101.9" r="1.75"/>
<circle cx="370.3" cy="85.4" r="1.75"/>
<circle cx="370.7" cy="86.9" r="1.75"/>
<circle cx="296" cy="105.4" r="1.75"/>
<circle cx="349" cy="58.6" r="1.75"/>
<circle cx="291.6" cy="80.9" r="1.75"/>
<circle cx="361.8" cy="124.9" r="1.75"/>
<circle cx="291.4" cy="69.9" r="1.75"/>
<circle cx="325.8" cy="67.1" r="1.75"/>
<circle cx="356.9" cy="76.5" r="1.75"/>
<circle cx="332.7" cy="92.9" r="1.75"/>
<circle cx="323.7" cy="106.5" r="1.75"/>
<circle cx="380.6" cy="104" r="1.75"/>
<circle cx="353.8" cy="71.9" r="1.75"/>
<circle cx="285.4" cy="81" r="1.75"/>
<circle cx="365.7" cy="103.8" r="1.75"/>
<circle cx="292.1" cy="83.8" r="1.75"/>
<circle cx="284" cy="97.6" r="1.75"/>
<circle cx="347.8" cy="98.9" r="1.75"/>
<circle cx="308.1" cy="85.7" r="1.75"/>
<circle cx="332.4" cy="60.2" r="1.75"/>
<circle cx="331.8" cy="104.1" r="1.75"/>
<circle cx="319" cy="114.1" r="1.75"/>
<circle cx="392.2" cy="94.8" r="1.75"/>
<circle cx="383.1" cy="111.8" r="1.75"/>
<circle cx="348.9" cy="93.3" r="1.75"/>
<circle cx="324" cy="72.8" r="1.75"/>
<circle cx="327.2" cy="95" r="1.75"/>
<circle cx="348.3" cy="70.7" r="1.75"/>
<circle cx="389.7" cy="99.6" r="1.75"/>
<circle cx="340.5" cy="53.3" r="1.75"/>
<circle cx="322.2" cy="90.1" r="1.75"/>
<circle cx="385.9" cy="126.2" r="1.75"/>
<circle cx="311.5" cy="72.2" r="1.75"/>
<circle cx="307.4" cy="134.9" r="1.75"/>
<circle cx="294.6" cy="60.3" r="1.75"/>
<circle cx="323.8" cy="106.5" r="1.75"/>
<circle cx="371.5" cy="87.9" r="1.75"/>
<circle cx="337.4" cy="54" r="1.75"/>
<circle cx="323.8" cy="99.3" r="1.75"/>
<circle cx="295.5" cy="92.4" r="1.75"/>
<circle cx="294" cy="114.8" r="1.75"/>
<circle cx="352.5" cy="35.9" r="1.75"/>
<circle cx="351.2" cy="46.2" r="1.75"/>
<circle cx="280.2" cy="93.2" r="1.75"/>
<circle cx="387.6" cy="93.1" r="1.75"/>
<circle cx="317.7" cy="124.9" r="1.75"/>
<circle cx="378.3" cy="75.3" r="1.75"/>
<circle cx="322.8" cy="78.6" r="1.75"/>
<circle cx="322.5" cy="67.2" r="1.75"/>
<circle cx="344.9" cy="47.2" r="1.75"/>
<circle cx="340.5" cy="84.8" r="1.75"/>
<circle cx="299.6" cy="49.5" r="1.75"/>
<circle cx="285.6" cy="93.1" r="1.75"/>
<circle cx="368.6" cy="34.8" r="1.75"/>
<circle cx="374.4" cy="70.4" r="1.75"/>
<circle cx="362.7" cy="44.9" r="1.75"/>
<circle cx="314.5" cy="115.1" r="1.75"/>
<circle cx="375.1" cy="114.7" r="1.75"/>
<circle cx="296.6" cy="143.6" r="1.75"/>
<circle cx="382.9" cy="111.6" r="1.75"/>
<circle cx="328.2" cy="87.8" r="1.75"/>
<circle cx="330.3" cy="55" r="1.75"/>
<circle cx="366.9" cy="127" r="1.75"/>
<circle cx="340.2" cy="49.2" r="1.75"/>
<circle cx="331.1" cy="109.4" r="1.75"/>
<circle cx="390.5" cy="99.4" r="1.75"/>
<circle cx="349.5" cy="102.2" r="1.75"/>
<circle cx="374.8" cy="87.6" r="1.75"/>
<circle cx="309.9" cy="116.1" r="1.75"/>
<circle cx="384.2" cy="111.1" r="1.75"/>
<circle cx="381.9" cy="121.2" r="1.75"/>
<circle cx="342.2" cy="132.4" r="1.75"/>
<circle cx="397.3" cy="113.1" r="1.75"/>
<circle cx="318.5" cy="123.9" r="1.75"/>
<circle cx="348.5" cy="62" r="1.75"/>
<circle cx="326.6" cy="93.1" r="1.75"/>
<circle cx="289.4" cy="141.8" r="1.75"/>
<circle cx="354.3" cy="40.7" r="1.75"/>
<circle cx="359" cy="76" r="1.75"/>
<circle cx="328.2" cy="72.4" r="1.75"/>
<circle cx="291.5" cy="134.2" r="1.75"/>
<circle cx="279.9" cy="96.7" r="1.75"/>
<circle cx="367.3" cy="113.8" r="1.75"/>
<circle cx="373.8" cy="103.2" r="1.75"/>
<circle cx="396" cy="107.4" r="1.75"/>
<circle cx="308.7" cy="118.5" r="1.75"/>
<circle cx="290.8" cy="82.1" r="1.75"/>
<circle cx="355.7" cy="133.2" r="1.75"/>
<circle cx="363" cy="107.8" r="1.75"/>
<circle cx="350.6" cy="108" r="1.75"/>
<circle cx="278.1" cy="84.1" r="1.75"/>
<circle cx="295" cy="55" r="1.75"/>
<circle cx="337.3" cy="127.1" r="1.75"/>
<circle cx="372.2" cy="128" r="1.75"/>
<circle cx="344.1" cy="60.8" r="1.75"/>
<circle cx="351" cy="40.8" r="1.75"/>
<circle cx="305.2" cy="68.2" r="1.75"/>
<circle cx="379.9" cy="105.6" r="1.75"/>
<circle cx="396.6" cy="117.5" r="1.75"/>
<circle cx="301.7" cy="56" r="1.75"/>
<circle cx="345.3" cy="125.1" r="1.75"/>
<circle cx="367.3" cy="80.8" r="1.75"/>
<circle cx="372.8" cy="113.9" r="1.75"/>
<circle cx="314.6" cy="139.9" r="1.75"/>
<circle cx="307.8" cy="119.1" r="1.75"/>
<circle cx="390.6" cy="89.9" r="1.75"/>
<circle cx="362.2" cy="114.1" r="1.75"/>
<circle cx="337.6" cy="50" r="1.75"/>
<circle cx="386.5" cy="118" r="1.75"/>
<circle cx="370.1" cy="38.8" r="1.75"/>
<circle cx="294.6" cy="135.9" r="1.75"/>
<circle cx="369" cy="71.9" r="1.75"/>
<circle cx="340.3" cy="46.5" r="1.75"/>
<circle cx="324.3" cy="57.5" r="1.75"/>
<circle cx="317" cy="120.7" r="1.75"/>
<circle cx="320.3" cy="124.2" r="1.75"/>
<circle cx="343" cy="112.9" r="1.75"/>
<circle cx="363" cy="116.5" r="1.75"/>
<circle cx="327.5" cy="99.1" r="1.75"/>
<circle cx="357.6" cy="126.9" r="1.75"/>
<circle cx="279.3" cy="87.3" r="1.75"/>
<circle cx="396.1" cy="105.6" r="1.75"/>
<circle cx="332.6" cy="76" r="1.75"/>
<circle cx="296" cy="120.1" r="1.75"/>
<circle cx="304.8" cy="99.9" r="1.75"/>
<circle cx="312.4" cy="119.8" r="1.75"/>
<circle cx="374.3" cy="89.5" r="1.75"/>
<circle cx="357.8" cy="102.9" r="1.75"/>
<circle cx="314.8" cy="133.7" r="1.75"/>
<circle cx="296.4" cy="111.8" r="1.75"/>
<circle cx="331.9" cy="128.4" r="1.75"/>
<circle cx="350.2" cy="39.9" r="1.75"/>
<circle cx="370.1" cy="82.7" r="1.75"/>
<circle cx="327.1" cy="116.4" r="1.75"/>
<circle cx="321.3" cy="80.6" r="1.75"/>
<circle cx="385.2" cy="94" r="1.75"/>
<circle cx="351.9" cy="126.7" r="1.75"/>
<circle cx="347.8" cy="86.8" r="1.75"/>
<circle cx="376.2" cy="78.1" r="1.75"/>
<circle cx="329.8" cy="73.2" r="1.75"/>
<circle cx="347.8" cy="129.8" r="1.75"/>
<circle cx="355" cy="35.1" r="1.75"/>
<circle cx="281.7" cy="94.6" r="1.75"/>
<circle cx="345.6" cy="44.3" r="1.75"/>
<circle cx="311.4" cy="59.2" r="1.75"/>
<circle cx="365.7" cy="104.2" r="1.75"/>
<circle cx="287.9" cy="68.6" r="1.75"/>
<circle cx="338" cy="108.5" r="1.75"/>
<circle cx="328.9" cy="75.9" r="1.75"/>
<circle cx="366.8" cy="131.2" r="1.75"/>
<circle cx="370.3" cy="94.6" r="1.75"/>
<circle cx="352.3" cy="89.6" r="1.75"/>
<circle cx="326.1" cy="116.5" r="1.75"/>
<circle cx="374.4" cy="101.3" r="1.75"/>
<circle cx="350.8" cy="38" r="1.75"/>
<circle cx="326" cy="65.6" r="1.75"/>
<circle cx="298.2" cy="61.6" r="1.75"/>
<circle cx="361.4" cy="120.5" r="1.75"/>
<circle cx="276.9" cy="92.6" r="1.75"/>
<circle cx="307.3" cy="53.1" r="1.75"/>
<circle cx="294.5" cy="59.5" r="1.75"/>
<circle cx="289" cy="71.7" r="1.75"/>
<circle cx="305.9" cy="98.1" r="1.75"/>
<circle cx="309.5" cy="70.1" r="1.75"/>
<circle cx="324.1" cy="55.6" r="1.75"/>
<circle cx="341.4" cy="75" r="1.75"/>
<circle cx="300.1" cy="149" r="1.75"/>
<circle cx="357" cy="51.2" r="1.75"/>
<circle cx="292.4" cy="132.1" r="1.75"/>
<circle cx="295.6" cy="108.3" r="1.75"/>
<circle cx="312.3" cy="107.2" r="1.75"/>
<circle cx="354.2" cy="100.8" r="1.75"/>
<circle cx="293" cy="80.1" r="1.75"/>
<circle cx="395.8" cy="96.2" r="1.75"/>
<circle cx="304.2" cy="106.7" r="1.75"/>
<circle cx="360.5" cy="32.7" r="1.75"/>
<circle cx="340.6" cy="129.6" r="1.75"/>
<circle cx="308.6" cy="58.2" r="1.75"/>
<circle cx="303.7" cy="97.9" r="1.75"/>
<circle cx="353.6" cy="64.1" r="1.75"/>
<circle cx="379.5" cy="91.1" r="1.75"/>
<circle cx="333.3" cy="72.5" r="1.75"/>
<circle cx="294.6" cy="135.3" r="1.75"/>
<circle cx="396.1" cy="109.5" r="1.75"/>
<circle cx="351.4" cy="132.9" r="1.75"/>
<circle cx="320.8" cy="124.8" r="1.75"/>
<circle cx="312.4" cy="77.8" r="1.75"/>
<circle cx="294.5" cy="147.3" r="1.75"/>
<circle cx="317.2" cy="76" r="1.75"/>
<circle cx="290.4" cy="82.8" r="1.75"/>
<circle cx="306" cy="102.7" r="1.75"/>
<circle cx="300.6" cy="63.8" r="1.75"/>
<circle cx="337.6" cy="129.6" r="1.75"/>
<circle cx="399.5" cy="105.8" r="1.75"/>
<circle cx="370" cy="57.7" r="1.75"/>
<circle cx="328.8" cy="90.2" r="1.75"/>
<circle cx="303.9" cy="49.6" r="1.75"/>
<circle cx="347.6" cy="81.9" r="1.75"/>
<circle cx="359.8" cy="122.2" r="1.75"/>
<circle cx="307.3" cy="107.9" r="1.75"/>
<circle cx="305.9" cy="63.4" r="1.75"/>
<circle cx="349.8" cy="74.2" r="1.75"/>
<circle cx="335.7" cy="130.8" r="1.75"/>
<circle cx="292.4" cy="111.7" r="1.75"/>
<circle cx="357" cy="131.5" r="1.75"/>
<circle cx="383.5" cy="119.7" r="1.75"/>
<circle cx="367.8" cy="116.5" r="1.75"/>
<circle cx="375.3" cy="117.9" r="1.75"/>
<circle cx="334.6" cy="134.5" r="1.75"/>
<circle cx="289.1" cy="102.9" r="1.75"/>
<circle cx="365.5" cy="33.5" r="1.75"/>
<circle cx="357.4" cy="127.5" r="1.75"/>
<circle cx="319.2" cy="123.8" r="1.75"/>
<circle cx="339.7" cy="136" r="1.75"/>
<circle cx="296" cy="93.3" r="1.75"/>
<circle cx="400.6" cy="103.5" r="1.75"/>
<circle cx="340.3" cy="55.9" r="1.75"/>
<circle cx="327.2" cy="95" r="1.75"/>
<circle cx="352.2" cy="96.8" r="1.75"/>
<circle cx="280.4" cy="97.8" r="1.75"/>
<circle cx="344.9" cy="130" r="1.75"/>
<circle cx="332.2" cy="126" r="1.75"/>
<circle cx="332.7" cy="97.9" r="1.75"/>
<circle cx="331.9" cy="60.8" r="1.75"/>
<circle cx="348.1" cy="56" r="1.75"/>
<circle cx="294.1" cy="136.2" r="1.75"/>
<circle cx="387.9" cy="95.2" r="1.75"/>
<circle cx="320.1" cy="87.9" r="1.75"/>
<circle cx="386.7" cy="84.6" r="1.75"/>
<circle cx="364.6" cy="64.8" r="1.75"/>
<circle cx="286.3" cy="74" r="1.75"/>
<circle cx="337.1" cy="114.2" r="1.75"/>
<circle cx="347.8" cy="39" r="1.75"/>
<circle cx="354.7" cy="72.8" r="1.75"/>
<circle cx="378.5" cy="87.3" r="1.75"/>
<circle cx="355.1" cy="90.8" r="1.75"/>
<circle cx="325.9" cy="67" r="1.75"/>
<circle cx="374" cy="98.4" r="1.75"/>
<circle cx="368.8" cy="68.3" r="1.75"/>
<circle cx="335.7" cy="123.8" r="1.75"/>
<circle cx="332.5" cy="59" r="1.75"/>
<circle cx="336.5" cy="103" r="1.75"/>
<circle cx="358.6" cy="51.6" r="1.75"/>
<circle cx="291.8" cy="88.1" r="1.75"/>
<circle cx="363.2" cy="60.5" r="1.75"/>
<circle cx="387.8" cy="83" r="1.75"/>
<circle cx="350.2" cy="100.6" r="1.75"/>
<circle cx="327.5" cy="97.7" r="1.75"/>
<circle cx="327.9" cy="91.1" r="1.75"/>
<circle cx="357.7" cy="100.9" r="1.75"/>
<circle cx="314.7" cy="120.4" r="1.75"/>
<circle cx="372.1" cy="36.8" r="1.75"/>
<circle cx="343.8" cy="130.2" r="1.75"/>
<circle cx="373.8" cy="132" r="1.75"/>
<circle cx="297.7" cy="103.9" r="1.75"/>
<circle cx="344.1" cy="44.8" r="1.75"/>
<circle cx="336.8" cy="80.1" r="1.75"/>
<circle cx="296.1" cy="93.8" r="1.75"/>
<circle cx="342.1" cy="137.8" r="1.75"/>
<circle cx="303.7" cy="139.4" r="1.75"/>
<circle cx="368.9" cy="68.3" r="1.75"/>
<circle cx="312.7" cy="59.3" r="1.75"/>
<circle cx="369.9" cy="120.4" r="1.75"/>
<circle cx="330" cy="110.5" r="1.75"/>
<circle cx="383.4" cy="103.5" r="1.75"/>
<circle cx="341.1" cy="131.4" r="1.75"/>
<circle cx="365.7" cy="97.8" r="1.75"/>
<circle cx="333.9" cy="113.5" r="1.75"/>
<circle cx="293.2" cy="146.2" r="1.75"/>
<circle cx="358.9" cy="112.9" r="1.75"/>
<circle cx="286" cy="95" r="1.75"/>
<circle cx="333.5" cy="52" r="1.75"/>
<circle cx="359.8" cy="71.5" r="1.75"/>
<circle cx="349.8" cy="33.3" r="1.75"/>
<circle cx="368.2" cy="114.6" r="1.75"/>
<circle cx="308.2" cy="141.9" r="1.75"/>
<circle cx="396.6" cy="106" r="1.75"/>
<circle cx="354.3" cy="84.6" r="1.75"/>
<circle cx="319.9" cy="72.5" r="1.75"/>
<circle cx="378.1" cy="109.4" r="1.75"/>
<circle cx="320.6" cy="112.3" r="1.75"/>
<circle cx="370.3" cy="54" r="1.75"/>
<circle cx="295.6" cy="133.5" r="1.75"/>
<circle cx="290.6" cy="54.2" r="1.75"/>
<circle cx="343.3" cy="89.1" r="1.75"/>
<circle cx="301.5" cy="143.4" r="1.75"/>
<circle cx="375.6" cy="71.8" r="1.75"/>
<circle cx="344.7" cy="136.3" r="1.75"/>
<circle cx="330.1" cy="71.8" r="1.75"/>
<circle cx="341.9" cy="129.6" r="1.75"/>
<circle cx="371.7" cy="48" r="1.75"/>
<circle cx="337.5" cy="134.1" r="1.75"/>
<circle cx="364" cy="85.9" r="1.75"/>
<circle cx="366" cy="73.9" r="1.75"/>
<circle cx="340.1" cy="62.3" r="1.75"/>
<circle cx="355.2" cy="40.4" r="1.75"/>
<circle cx="290.3" cy="99" r="1.75"/>
<circle cx="349.8" cy="40.8" r="1.75"/>
<circle cx="358.2" cy="123.3" r="1.75"/>
<circle cx="365.9" cy="90.2" r="1.75"/>
<circle cx="285.4" cy="93.4" r="1.75"/>
<circle cx="328.5" cy="83.3" r="1.75"/>
<circle cx="345.5" cy="93.9" r="1.75"/>
<circle cx="347.7" cy="53.4" r="1.75"/>
<circle cx="305.3" cy="128.4" r="1.75"/>
<circle cx="289.7" cy="86.6" r="1.75"/>
<circle cx="309.6" cy="106.7" r="1.75"/>
<circle cx="387.8" cy="96.9" r="1.75"/>
<circle cx="296.5" cy="94.2" r="1.75"/>
<circle cx="353.3" cy="96" r="1.75"/>
<circle cx="301.5" cy="149" r="1.75"/>
<circle cx="379.4" cy="99.6" r="1.75"/>
<circle cx="375.4" cy="118.5" r="1.75"/>
<circle cx="348.7" cy="67.5" r="1.75"/>
<circle cx="358.8" cy="116.1" r="1.75"/>
<circle cx="343.5" cy="68.1" r="1.75"/>
<circle cx="282.6" cy="102" r="1.75"/>
<circle cx="320.6" cy="109.1" r="1.75"/>
<circle cx="304.6" cy="140.9" r="1.75"/>
<circle cx="346.3" cy="128.9" r="1.75"/>
<circle cx="298.8" cy="98.7" r="1.75"/>
<circle cx="313.4" cy="118.3" r="1.75"/>
<circle cx="296.9" cy="133.2" r="1.75"/>
<circle cx="382.2" cy="75.1" r="1.75"/>
<circle cx="307.1" cy="88" r="1.75"/>
<circle cx="362.3" cy="113.9" r="1.75"/>
<circle cx="355.8" cy="121.9" r="1.75"/>
<circle cx="342" cy="84" r="1.75"/>
<circle cx="345.2" cy="129.1" r="1.75"/>
<circle cx="393.9" cy="98.2" r="1.75"/>
<circle cx="348" cy="69.2" r="1.75"/>
<circle cx="380.2" cy="68.8" r="1.75"/>
<circle cx="366.7" cy="78.1" r="1.75"/>
<circle cx="289" cy="93.4" r="1.75"/>
<circle cx="350.8" cy="100.3" r="1.75"/>
<circle cx="312.9" cy="137.8" r="1.75"/>
<circle cx="325.5" cy="70.9" r="1.75"/>
<circle cx="306.9" cy="135.3" r="1.75"/>
<circle cx="304.4" cy="76.7" r="1.75"/>
<circle cx="393.5" cy="107" r="1.75"/>
<circle cx="345.1" cy="81" r="1.75"/>
<circle cx="300.2" cy="145.5" r="1.75"/>
<circle cx="303.7" cy="94.5" r="1.75"/>
<circle cx="341.8" cy="116.9" r="1.75"/>
<circle cx="344.8" cy="50.8" r="1.75"/>
<circle cx="352.4" cy="75.3" r="1.75"/>
<circle cx="308.7" cy="142.5" r="1.75"/>
<circle cx="382.3" cy="101.7" r="1.75"/>
<circle cx="369.1" cy="79" r="1.75"/>
<circle cx="320.6" cy="76.3" r="1.75"/>
<circle cx="351.6" cy="119.9" r="1.75"/>
<circle cx="310.6" cy="134.5" r="1.75"/>
<circle cx="317.6" cy="129" r="1.75"/>
<circle cx="359.5" cy="127.4" r="1.75"/>
<circle cx="396.7" cy="92" r="1.75"/>
<circle cx="309.5" cy="56.7" r="1.75"/>
<circle cx="357.4" cy="131.4" r="1.75"/>
<circle cx="304.4" cy="71" r="1.75"/>
<circle cx="364.3" cy="95.4" r="1.75"/>
<circle cx="281.3" cy="105.7" r="1.75"/>
<circle cx="283.6" cy="112.3" r="1.75"/>
<circle cx="346" cy="55.7" r="1.75"/>
<circle cx="280.8" cy="110.8" r="1.75"/>
<circle cx="326.6" cy="104.5" r="1.75"/>
<circle cx="318.6" cy="88" r="1.75"/>
<circle cx="300.6" cy="124.2" r="1.75"/>
<circle cx="291.4" cy="90.2" r="1.75"/>
<circle cx="402" cy="99" r="1.75"/>
<circle cx="367.4" cy="63.4" r="1.75"/>
<circle cx="304.8" cy="130.9" r="1.75"/>
<circle cx="302.4" cy="116.2" r="1.75"/>
<circle cx="379.4" cy="97.1" r="1.75"/>
<circle cx="380.3" cy="82.9" r="1.75"/>
<circle cx="306.7" cy="88.6" r="1.75"/>
<circle cx="347.3" cy="48.5" r="1.75"/>
<circle cx="368.1" cy="68.3" r="1.75"/>
<circle cx="327.2" cy="79.6" r="1.75"/>
<circle cx="386.3" cy="115.4" r="1.75"/>
<circle cx="396.8" cy="103.6" r="1.75"/>
<circle cx="283.3" cy="115.9" r="1.75"/>
<circle cx="385" cy="96.8" r="1.75"/>
<circle cx="347.1" cy="107.1" r="1.75"/>
<circle cx="335.2" cy="57.7" r="1.75"/>
<circle cx="362.8" cy="130.5" r="1.75"/>
<circle cx="337.3" cy="66.9" r="1.75"/>
<circle cx="297.7" cy="64.9" r="1.75"/>
<circle cx="301.3" cy="69.3" r="1.75"/>
<circle cx="359.6" cy="60.4" r="1.75"/>
<circle cx="360.2" cy="54.8" r="1.75"/>
<circle cx="301.7" cy="128.4" r="1.75"/>
<circle cx="290.8" cy="69.4" r="1.75"/>
<circle cx="294.2" cy="54.7" r="1.75"/>
<circle cx="380.8" cy="80" r="1.75"/>
<circle cx="314.2" cy="134.8" r="1.75"/>
<circle cx="307.7" cy="75.6" r="1.75"/>
<circle cx="386.4" cy="124.4" r="1.75"/>
<circle cx="293.7" cy="74.6" r="1.75"/>
<circle cx="322.1" cy="117.1" r="1.75"/>
<circle cx="303.6" cy="144.6" r="1.75"/>
<circle cx="343.6" cy="137.4" r="1.75"/>
<circle cx="298" cy="150.7" r="1.75"/>
<circle cx="325" cy="82.5" r="1.75"/>
<circle cx="314.2" cy="107.7" r="1.75"/>
<circle cx="369.8" cy="70.2" r="1.75"/>
<circle cx="314.7" cy="127.1" r="1.75"/>
<circle cx="351.8" cy="51.1" r="1.75"/>
<circle cx="335.9" cy="58.7" r="1.75"/>
<circle cx="309.2" cy="61.7" r="1.75"/>
<circle cx="395.5" cy="112.9" r="1.75"/>
<circle cx="288.9" cy="82.1" r="1.75"/>
<circle cx="288.9" cy="120.6" r="1.75"/>
<circle cx="334.3" cy="133.1" r="1.75"/>
<circle cx="368.4" cy="49.9" r="1.75"/>
<circle cx="301.5" cy="57" r="1.75"/>
<circle cx="306.8" cy="101" r="1.75"/>
<circle cx="351.9" cy="107.5" r="1.75"/>
<circle cx="306.3" cy="114.5" r="1.75"/>
<circle cx="381.8" cy="117.3" r="1.75"/>
<circle cx="363.6" cy="123.8" r="1.75"/>
<circle cx="340.3" cy="98.9" r="1.75"/>
<circle cx="315.6" cy="115.4" r="1.75"/>
<circle cx="371.4" cy="105.5" r="1.75"/>
<circle cx="322.1" cy="83.8" r="1.75"/>
<circle cx="319.4" cy="64.3" r="1.75"/>
<circle cx="321.3" cy="131.4" r="1.75"/>
<circle cx="366.8" cy="69.3" r="1.75"/>
<circle cx="290.1" cy="97.6" r="1.75"/>
<circle cx="337.6" cy="128.2" r="1.75"/>
<circle cx="348.1" cy="134.7" r="1.75"/>
<circle cx="348" cy="56.2" r="1.75"/>
<circle cx="350.6" cy="137.9" r="1.75"/>
<circle cx="333.3" cy="59.2" r="1.75"/>
<circle cx="315.2" cy="97.7" r="1.75"/>
<circle cx="332.4" cy="123.6" r="1.75"/>
<circle cx="354.5" cy="131.1" r="1.75"/>
<circle cx="346.1" cy="53.8" r="1.75"/>
<circle cx="283.2" cy="76" r="1.75"/>
<circle cx="291.6" cy="111.6" r="1.75"/>
<circle cx="383.7" cy="81" r="1.75"/>
<circle cx="394.8" cy="113.3" r="1.75"/>
<circle cx="307.9" cy="137.2" r="1.75"/>
<circle cx="366.2" cy="125.2" r="1.75"/>
<circle cx="340.4" cy="127.1" r="1.75"/>
<circle cx="345.5" cy="39.3" r="1.75"/>
<circle cx="343.5" cy="34.7" r="1.75"/>
<circle cx="367.7" cy="85.7" r="1.75"/>
<circle cx="337.8" cy="75.9" r="1.75"/>
<circle cx="301.3" cy="129.8" r="1.75"/>
<circle cx="303.4" cy="86.4" r="1.75"/>
<circle cx="377.1" cy="76.7" r="1.75"/>
<circle cx="371.6" cy="54.5" r="1.75"/>
<circle cx="334.4" cy="73.5" r="1.75"/>
<circle cx="375" cy="70.6" r="1.75"/>
<circle cx="295.3" cy="74.4" r="1.75"/>
<circle cx="326.2" cy="84.1" r="1.75"/>
<circle cx="383.2" cy="107.1" r="1.75"/>
<circle cx="354.9" cy="76.9" r="1.75"/>
<circle cx="292.3" cy="84.2" r="1.75"/>
<circle cx="374.1" cy="92.9" r="1.75"/>
<circle cx="356.1" cy="42.7" r="1.75"/>
<circle cx="392.8" cy="122.3" r="1.75"/>
<circle cx="315.2" cy="86.5" r="1.75"/>
<circle cx="291.4" cy="129.7" r="1.75"/>
<circle cx="328.2" cy="118.5" r="1.75"/>
<circle cx="294.4" cy="116.1" r="1.75"/>
<circle cx="291.9" cy="80.7" r="1.75"/>
<circle cx="325.3" cy="84.3" r="1.75"/>
<circle cx="313.4" cy="131.5" r="1.75"/>
<circle cx="292.4" cy="139.3" r="1.75"/>
<circle cx="356.8" cy="46.5" r="1.75"/>
<circle cx="352.6" cy="53.2" r="1.75"/>
<circle cx="354.8" cy="65.8" r="1.75"/>
<circle cx="381.4" cy="126.8" r="1.75"/>
<circle cx="283.5" cy="85.9" r="1.75"/>
<circle cx="334.3" cy="62.2" r="1.75"/>
<circle cx="303.8" cy="123.9" r="1.75"/>
<circle cx="342.1" cy="57" r="1.75"/>
<circle cx="341" cy="89.4" r="1.75"/>
<circle cx="374.5" cy="123.4" r="1.75"/>
<circle cx="396.7" cy="105.5" r="1.75"/>
<circle cx="295.5" cy="63.8" r="1.75"/>
<circle cx="326.8" cy="77.2" r="1.75"/>
<circle cx="380.3" cy="115.1" r="1.75"/>
<circle cx="295.5" cy="96.4" r="1.75"/>
<circle cx="310" cy="111.3" r="1.75"/>
<circle cx="300.4" cy="139.3" r="1.75"/>
<circle cx="373.4" cy="69.1" r="1.75"/>
<circle cx="302.1" cy="113.9" r="1.75"/>
<circle cx="316" cy="66" r="1.75"/>
<circle cx="350.1" cy="64.9" r="1.75"/>
<circle cx="329.2" cy="70.2" r="1.75"/>
<circle cx="387.8" cy="97.1" r="1.75"/>
<circle cx="317.4" cy="71.1" r="1.75"/>
<circle cx="311.9" cy="85.7" r="1.75"/>
<circle cx="298" cy="147.8" r="1.75"/>
<circle cx="327.7" cy="66.9" r="1.75"/>
<circle cx="327.5" cy="78.5" r="1.75"/>
<circle cx="381.6" cy="82" r="1.75"/>
<circle cx="334" cy="72.4" r="1.75"/>
<circle cx="318.5" cy="79.7" r="1.75"/>
<circle cx="291.9" cy="137.3" r="1.75"/>
<circle cx="289.3" cy="113.7" r="1.75"/>
<circle cx="299.7" cy="138.1" r="1.75"/>
<circle cx="294.3" cy="149.2" r="1.75"/>
<circle cx="333.7" cy="66.5" r="1.75"/>
<circle cx="358.8" cy="44.8" r="1.75"/>
<circle cx="288.3" cy="116" r="1.75"/>
<circle cx="305.3" cy="102.4" r="1.75"/>
<circle cx="306.3" cy="116.9" r="1.75"/>
<circle cx="380.6" cy="92.4" r="1.75"/>
<circle cx="325.8" cy="62.3" r="1.75"/>
<circle cx="343.5" cy="46.5" r="1.75"/>
<circle cx="374.9" cy="109.3" r="1.75"/>
<circle cx="369.8" cy="67.8" r="1.75"/>
<circle cx="319.5" cy="123.9" r="1.75"/>
<circle cx="295.3" cy="102.3" r="1.75"/>
<circle cx="302.9" cy="146" r="1.75"/>
<circle cx="400.1" cy="110.1" r="1.75"/>
<circle cx="398.4" cy="101" r="1.75"/>
<circle cx="304.5" cy="77.3" r="1.75"/>
<circle cx="366.3" cy="131.8" r="1.75"/>
<circle cx="336" cy="107.9" r="1.75"/>
<circle cx="283.2" cy="87.4" r="1.75"/>
<circle cx="376.8" cy="76" r="1.75"/>
<circle cx="310.5" cy="111.5" r="1.75"/>
<circle cx="379.6" cy="78.9" r="1.75"/>
<circle cx="339.5" cy="45.8" r="1.75"/>
<circle cx="297.3" cy="56.3" r="1.75"/>
<circle cx="328.3" cy="129.6" r="1.75"/>
<circle cx="333.7" cy="53.2" r="1.75"/>
<circle cx="302.3" cy="143.4" r="1.75"/>
<circle cx="286.4" cy="101.1" r="1.75"/>
<circle cx="340.6" cy="65" r="1.75"/>
<circle cx="289.1" cy="99.7" r="1.75"/>
<circle cx="395.9" cy="101.1" r="1.75"/>
<circle cx="319" cy="75.3" r="1.75"/>
<circle cx="334.5" cy="120.7" r="1.75"/>
<circle cx="304" cy="65.3" r="1.75"/>
<circle cx="312.1" cy="73.3" r="1.75"/>
<circle cx="292.3" cy="146.8" r="1.75"/>
<circle cx="281.6" cy="88.9" r="1.75"/>
<circle cx="345.5" cy="34.2" r="1.75"/>
<circle cx="359.6" cy="50.2" r="1.75"/>
<circle cx="381.5" cy="128" r="1.75"/>
<circle cx="364.8" cy="70" r="1.75"/>
<circle cx="300.3" cy="125.5" r="1.75"/>
<circle cx="279.5" cy="82.6" r="1.75"/>
<circle cx="344.7" cy="76.7" r="1.75"/>
<circle cx="335.9" cy="90.2" r="1.75"/>
<circle cx="351.3" cy="67.4" r="1.75"/>
<circle cx="288.9" cy="93" r="1.75"/>
<circle cx="344.8" cy="135.9" r="1.75"/>
<circle cx="312.7" cy="139.6" r="1.75"/>
<circle cx="307.3" cy="124.1" r="1.75"/>
<circle cx="349.9" cy="42.7" r="1.75"/>
<circle cx="283.8" cy="77.2" r="1.75"/>
<circle cx="312" cy="115.9" r="1.75"/>
<circle cx="289.1" cy="57" r="1.75"/>
<circle cx="353.7" cy="128.7" r="1.75"/>
<circle cx="391.6" cy="97.6" r="1.75"/>
<circle cx="312.4" cy="69.9" r="1.75"/>
<circle cx="373.4" cy="85.7" r="1.75"/>
<circle cx="319.2" cy="57.5" r="1.75"/>
<circle cx="380.9" cy="123.1" r="1.75"/>
<circle cx="371.5" cy="104.7" r="1.75"/>
<circle cx="341" cy="53.3" r="1.75"/>
<circle cx="309" cy="60.8" r="1.75"/>
<circle cx="343" cy="109.1" r="1.75"/>
<circle cx="306.8" cy="110.9" r="1.75"/>
<circle cx="345" cy="129.5" r="1.75"/>
<circle cx="361.6" cy="125" r="1.75"/>
<circle cx="292.5" cy="128.7" r="1.75"/>
<circle cx="293.3" cy="124.9" r="1.75"/>
<circle cx="340.3" cy="74.5" r="1.75"/>
<circle cx="356.5" cy="34.5" r="1.75"/>
<circle cx="358.9" cy="107.2" r="1.75"/>
<circle cx="396.4" cy="111.3" r="1.75"/>
<circle cx="320.4" cy="63.6" r="1.75"/>
<circle cx="288.8" cy="80.5" r="1.75"/>
<circle cx="323.2" cy="69.2" r="1.75"/>
<circle cx="391.8" cy="97.9" r="1.75"/>
<circle cx="328.8" cy="61.4" r="1.75"/>
<circle cx="343.3" cy="68.4" r="1.75"/>
<circle cx="357.7" cy="52.2" r="1.75"/>
<circle cx="352" cy="132.4" r="1.75"/>
<circle cx="361.9" cy="110.1" r="1.75"/>
<circle cx="381.9" cy="80" r="1.75"/>
<circle cx="357.5" cy="129.3" r="1.75"/>
<circle cx="341.3" cy="85.8" r="1.75"/>
<circle cx="326.4" cy="95.8" r="1.75"/>
<circle cx="352" cy="43.9" r="1.75"/>
<circle cx="334.7" cy="91.3" r="1.75"/>
<circle cx="281.6" cy="78.8" r="1.75"/>
<circle cx="341.5" cy="107.7" r="1.75"/>
<circle cx="369.6" cy="41.5" r="1.75"/>
<circle cx="312.8" cy="72.8" r="1.75"/>
<circle cx="369.2" cy="63.6" r="1.75"/>
<circle cx="350.8" cy="95.2" r="1.75"/>
<circle cx="382.1" cy="102.4" r="1.75"/>
<circle cx="310.1" cy="142.6" r="1.75"/>
<circle cx="322.3" cy="101.4" r="1.75"/>
<circle cx="290.9" cy="131.2" r="1.75"/>
<circle cx="311" cy="58.4" r="1.75"/>
<circle cx="316.3" cy="76.9" r="1.75"/>
<circle cx="317.1" cy="112.5" r="1.75"/>
<circle cx="376.4" cy="112.9" r="1.75"/>
<circle cx="365.4" cy="116.8" r="1.75"/>
<circle cx="324.7" cy="72.1" r="1.75"/>
<circle cx="348.1" cy="137.9" r="1.75"/>
<circle cx="301.8" cy="106.6" r="1.75"/>
<circle cx="297.5" cy="70.6" r="1.75"/>
<circle cx="311" cy="115.8" r="1.75"/>
<circle cx="287" cy="106.7" r="1.75"/>
<circle cx="345.3" cy="109.6" r="1.75"/>
<circle cx="325.1" cy="56.3" r="1.75"/>
<circle cx="322" cy="70.2" r="1.75"/>
<circle cx="343.1" cy="58" r="1.75"/>
<circle cx="290.9" cy="110.9" r="1.75"/>
<circle cx="340.3" cy="58.8" r="1.75"/>
<circle cx="318.4" cy="113.7" r="1.75"/>
<circle cx="303.3" cy="72.4" r="1.75"/>
<circle cx="357.6" cy="50.5" r="1.75"/>
<circle cx="306.4" cy="57.3" r="1.75"/>
<circle cx="388.2" cy="102.5" r="1.75"/>
<circle cx="314.9" cy="131.7" r="1.75"/>
<circle cx="343.1" cy="117" r="1.75"/>
<circle cx="323.4" cy="107.4" r="1.75"/>
<circle cx="288.4" cy="123.4" r="1.75"/>
<circle cx="300.3" cy="96.8" r="1.75"/>
<circle cx="381.2" cy="116.4" r="1.75"/>
<circle cx="379.3" cy="126.4" r="1.75"/>
<circle cx="339.6" cy="51.9" r="1.75"/>
<circle cx="326" cy="85.8" r="1.75"/>
<circle cx="300.1" cy="72.8" r="1.75"/>
<circle cx="370.7" cy="104.5" r="1.75"/>
<circle cx="370.6" cy="46.5" r="1.75"/>
<circle cx="278.8" cy="104.7" r="1.75"/>
<circle cx="285.8" cy="70.3" r="1.75"/>
<circle cx="371.5" cy="65.9" r="1.75"/>
<circle cx="367" cy="62.4" r="1.75"/>
<circle cx="345.8" cy="67.1" r="1.75"/>
<circle cx="390.5" cy="109" r="1.75"/>
<circle cx="327.1" cy="109.3" r="1.75"/>
<circle cx="348.9" cy="135.1" r="1.75"/>
<circle cx="387" cy="84.8" r="1.75"/>
<circle cx="296.2" cy="148.9" r="1.75"/>
<circle cx="395.1" cy="115.5" r="1.75"/>
<circle cx="350.9" cy="65.4" r="1.75"/>
<circle cx="314.8" cy="118.8" r="1.75"/>
<circle cx="357.7" cy="43.1" r="1.75"/>
<circle cx="310" cy="107.5" r="1.75"/>
<circle cx="369.6" cy="96.8" r="1.75"/>
<circle cx="352.8" cy="65.6" r="1.75"/>
<circle cx="303.9" cy="104.3" r="1.75"/>
<circle cx="400.2" cy="106.4" r="1.75"/>
<circle cx="324.4" cy="101.8" r="1.75"/>
<circle cx="334" cy="113.8" r="1.75"/>
<circle cx="362.7" cy="68.9" r="1.75"/>
<circle cx="377.4" cy="67.5" r="1.75"/>
<circle cx="291.6" cy="116.8" r="1.75"/>
<circle cx="316.8" cy="111.5" r="1.75"/>
<circle cx="330.8" cy="85.7" r="1.75"/>
<circle cx="294.6" cy="144.8" r="1.75"/>
<circle cx="313.6" cy="66.7" r="1.75"/>
<circle cx="380.9" cy="86.6" r="1.75"/>
<circle cx="301.8" cy="72.9" r="1.75"/>
<circle cx="312.4" cy="100.1" r="1.75"/>
<circle cx="395.8" cy="96" r="1.75"/>
<circle cx="376.8" cy="109.2" r="1.75"/>
<circle cx="363" cy="36.1" r="1.75"/>
<circle cx="334.2" cy="65.3" r="1.75"/>
<circle cx="384.1" cy="117.5" r="1.75"/>
<circle cx="389.6" cy="84.6" r="1.75"/>
<circle cx="353.3" cy="109.1" r="1.75"/>
<circle cx="348.3" cy="134.5" r="1.75"/>
<circle cx="358.1" cy="113.8" r="1.75"/>
<circle cx="348.2" cy="138.6" r="1.75"/>
<circle cx="368.8" cy="110.4" r="1.75"/>
<circle cx="320.8" cy="128.1" r="1.75"/>
<circle cx="346.9" cy="78.2" r="1.75"/>
<circle cx="371.6" cy="127.3" r="1.75"/>
<circle cx="357.3" cy="58.4" r="1.75"/>
<circle cx="369" cy="41.2" r="1.75"/>
<circle cx="315.4" cy="101.2" r="1.75"/>
<circle cx="285.9" cy="107.3" r="1.75"/>
<circle cx="317.4" cy="115" r="1.75"/>
<circle cx="289.4" cy="105.3" r="1.75"/>
<circle cx="288.1" cy="82" r="1.75"/>
<circle cx="295" cy="83.7" r="1.75"/>
<circle cx="315.9" cy="116.9" r="1.75"/>
<circle cx="311.8" cy="64.1" r="1.75"/>
<circle cx="350.7" cy="55.7" r="1.75"/>
<circle cx="318.9" cy="61.3" r="1.75"/>
<circle cx="324.8" cy="89.2" r="1.75"/>
<circle cx="351" cy="130.2" r="1.75"/>
<circle cx="294.1" cy="53.7" r="1.75"/>
<circle cx="386.5" cy="106.2" r="1.75"/>
<circle cx="366" cy="69.5" r="1.75"/>
<circle cx="295.7" cy="130.5" r="1.75"/>
<circle cx="376.6" cy="126.3" r="1.75"/>
<circle cx="289.4" cy="135.6" r="1.75"/>
<circle cx="323.2" cy="117.4" r="1.75"/>
<circle cx="364.2" cy="118.5" r="1.75"/>
<circle cx="339.9" cy="57.6" r="1.75"/>
<circle cx="375.4" cy="66.6" r="1.75"/>
<circle cx="338.6" cy="84.1" r="1.75"/>
<circle cx="374.4" cy="114.1" r="1.75"/>
<circle cx="298" cy="142.7" r="1.75"/>
<circle cx="373.5" cy="67.3" r="1.75"/>
<circle cx="340.4" cy="138.7" r="1.75"/>
<circle cx="299.7" cy="133.6" r="1.75"/>
<circle cx="397" cy="94.2" r="1.75"/>
<circle cx="379.5" cy="108.3" r="1.75"/>
<circle cx="379.4" cy="108.3" r="1.75"/>
<circle cx="315.9" cy="140.3" r="1.75"/>
<circle cx="311.4" cy="77.5" r="1.75"/>
<circle cx="303.5" cy="59.3" r="1.75"/>
<circle cx="374.3" cy="99.6" r="1.75"/>
<circle cx="343.7" cy="108.7" r="1.75"/>
<circle cx="328.2" cy="131.7" r="1.75"/>
<circle cx="316.9" cy="73.8" r="1.75"/>
<circle cx="299.9" cy="106.3" r="1.75"/>
<circle cx="391" cy="107.5" r="1.75"/>
</g>
<circle cx="313" cy="56.2" r="2.05" fill="#3F2271"/>
<circle cx="309.9" cy="62.7" r="2.05" fill="#3F2271"/>
<circle cx="298.8" cy="65" r="2.05" fill="#3F2271"/>
<circle cx="299.4" cy="68.4" r="2.05" fill="#3F2271"/>
<circle cx="293.4" cy="68.4" r="2.05" fill="#3B5A9A"/>
<circle cx="301.1" cy="72.4" r="2.05" fill="#3F2271"/>
<circle cx="304.5" cy="73.1" r="2.05" fill="#3F2271"/>
<circle cx="306.2" cy="75.4" r="2.05" fill="#3F2271"/>
<circle cx="299.4" cy="77.4" r="2.05" fill="#2A8A8E"/>
<circle cx="314" cy="74.5" r="2.05" fill="#3F2271"/>
<circle cx="315.3" cy="78.1" r="2.05" fill="#3B5A9A"/>
<circle cx="326.4" cy="59.2" r="2.05" fill="#3F2271"/>
<circle cx="329.8" cy="56.9" r="2.05" fill="#3B5A9A"/>
<circle cx="323.4" cy="68.8" r="2.05" fill="#3B5A9A"/>
<circle cx="322.7" cy="72.2" r="2.05" fill="#3F2271"/>
<circle cx="335.6" cy="75.8" r="2.05" fill="#3F2271"/>
<circle cx="336.2" cy="64.3" r="2.05" fill="#3F2271"/>
<circle cx="336.2" cy="58.9" r="2.05" fill="#3F2271"/>
<circle cx="284.2" cy="79.2" r="2.05" fill="#3F2271"/>
<circle cx="283.9" cy="82.6" r="2.05" fill="#3F2271"/>
<circle cx="287.6" cy="84.6" r="2.05" fill="#3F2271"/>
<circle cx="292.3" cy="87.3" r="2.05" fill="#3B5A9A"/>
<circle cx="282.9" cy="88" r="2.05" fill="#3B5A9A"/>
<circle cx="288.3" cy="91.8" r="2.05" fill="#5DC863"/>
<circle cx="291.6" cy="92.4" r="2.05" fill="#3F2271"/>
<circle cx="275" cy="93.4" r="2.05" fill="#3F2271"/>
<circle cx="284.2" cy="93.4" r="2.05" fill="#3B5A9A"/>
<circle cx="289.6" cy="95.4" r="2.05" fill="#2A8A8E"/>
<circle cx="295" cy="96.1" r="2.05" fill="#3F2271"/>
<circle cx="301.8" cy="96.8" r="2.05" fill="#3F2271"/>
<circle cx="302.5" cy="88" r="2.05" fill="#3F2271"/>
<circle cx="318" cy="81.2" r="2.05" fill="#3F2271"/>
<circle cx="319.4" cy="83" r="2.05" fill="#3F2271"/>
<circle cx="322" cy="83.5" r="2.05" fill="#3B5A9A"/>
<circle cx="325.4" cy="88" r="2.05" fill="#2A8A8E"/>
<circle cx="315.3" cy="89.3" r="2.05" fill="#3F2271"/>
<circle cx="316.6" cy="95.4" r="2.05" fill="#3F2271"/>
<circle cx="320.7" cy="95.4" r="2.05" fill="#3B5A9A"/>
<circle cx="324.1" cy="94.1" r="2.05" fill="#3B5A9A"/>
<circle cx="326.1" cy="96.8" r="2.05" fill="#3F2271"/>
<circle cx="332.9" cy="94.1" r="2.05" fill="#2FB08A"/>
<circle cx="335.6" cy="98.1" r="2.05" fill="#5DC863"/>
<circle cx="336.2" cy="91.4" r="2.05" fill="#3F2271"/>
<circle cx="352.9" cy="34.2" r="2.05" fill="#3F2271"/>
<circle cx="356.9" cy="33.8" r="2.05" fill="#3B5A9A"/>
<circle cx="361" cy="35.8" r="2.05" fill="#2A8A8E"/>
<circle cx="364.1" cy="32.4" r="2.05" fill="#2A8A8E"/>
<circle cx="367.8" cy="34.7" r="2.05" fill="#3F2271"/>
<circle cx="357.6" cy="39.2" r="2.05" fill="#3B5A9A"/>
<circle cx="360.3" cy="39.9" r="2.05" fill="#3F2271"/>
<circle cx="363.7" cy="38.5" r="2.05" fill="#3B5A9A"/>
<circle cx="364.4" cy="41.9" r="2.05" fill="#3B5A9A"/>
<circle cx="362.4" cy="42.6" r="2.05" fill="#3F2271"/>
<circle cx="366.4" cy="39.9" r="2.05" fill="#3F2271"/>
<circle cx="355.2" cy="45.9" r="2.05" fill="#3F2271"/>
<circle cx="352" cy="48.6" r="2.05" fill="#3F2271"/>
<circle cx="355.2" cy="52" r="2.05" fill="#3B5A9A"/>
<circle cx="341.4" cy="53.6" r="2.05" fill="#3B5A9A"/>
<circle cx="342.8" cy="57.4" r="2.05" fill="#3B5A9A"/>
<circle cx="348.4" cy="57.4" r="2.05" fill="#3F2271"/>
<circle cx="352.2" cy="56.1" r="2.05" fill="#3F2271"/>
<circle cx="348.8" cy="59.9" r="2.05" fill="#3F2271"/>
<circle cx="337.4" cy="59.5" r="2.05" fill="#3F2271"/>
<circle cx="337.6" cy="64.9" r="2.05" fill="#3F2271"/>
<circle cx="353.3" cy="68" r="2.05" fill="#3F2271"/>
<circle cx="336.7" cy="75.7" r="2.05" fill="#3F2271"/>
<circle cx="337.4" cy="88.1" r="2.05" fill="#3F2271"/>
<circle cx="341.4" cy="89.2" r="2.05" fill="#3F2271"/>
<circle cx="339" cy="91.9" r="2.05" fill="#3F2271"/>
<circle cx="343.8" cy="92.2" r="2.05" fill="#3B5A9A"/>
<circle cx="346.5" cy="96.2" r="2.05" fill="#3B5A9A"/>
<circle cx="348.4" cy="98.9" r="2.05" fill="#3F2271"/>
<circle cx="349.5" cy="100.9" r="2.05" fill="#3F2271"/>
<circle cx="344.8" cy="103" r="2.05" fill="#3F2271"/>
<circle cx="351.5" cy="103" r="2.05" fill="#3B5A9A"/>
<circle cx="338.7" cy="104.6" r="2.05" fill="#2A8A8E"/>
<circle cx="338.7" cy="108.4" r="2.05" fill="#3B5A9A"/>
<circle cx="336.7" cy="113.1" r="2.05" fill="#3B5A9A"/>
<circle cx="351.1" cy="109.1" r="2.05" fill="#3B5A9A"/>
<circle cx="352" cy="113.8" r="2.05" fill="#3B5A9A"/>
<circle cx="356" cy="104.3" r="2.05" fill="#3F2271"/>
<circle cx="356.3" cy="108.4" r="2.05" fill="#3F2271"/>
<circle cx="359.6" cy="107" r="2.05" fill="#3F2271"/>
<circle cx="357.4" cy="112.4" r="2.05" fill="#3F2271"/>
<circle cx="362.4" cy="105" r="2.05" fill="#3B5A9A"/>
<circle cx="365" cy="105" r="2.05" fill="#3F2271"/>
<circle cx="371.8" cy="90.5" r="2.05" fill="#3F2271"/>
<circle cx="371.4" cy="94.9" r="2.05" fill="#3F2271"/>
<circle cx="381.9" cy="96.9" r="2.05" fill="#3F2271"/>
<circle cx="370.5" cy="101.6" r="2.05" fill="#3F2271"/>
<circle cx="369.8" cy="108.1" r="2.05" fill="#3F2271"/>
<circle cx="366.8" cy="111.8" r="2.05" fill="#3F2271"/>
<circle cx="365" cy="115.8" r="2.05" fill="#3F2271"/>
<circle cx="362.4" cy="118.5" r="2.05" fill="#3B5A9A"/>
<circle cx="365.7" cy="119.9" r="2.05" fill="#3B5A9A"/>
<circle cx="369.1" cy="117.8" r="2.05" fill="#3F2271"/>
<circle cx="371.4" cy="118.1" r="2.05" fill="#3F2271"/>
<circle cx="373.8" cy="111.1" r="2.05" fill="#3F2271"/>
<circle cx="376.3" cy="110.8" r="2.05" fill="#3F2271"/>
<circle cx="375.2" cy="113.8" r="2.05" fill="#3F2271"/>
<circle cx="377.2" cy="114.9" r="2.05" fill="#3F2271"/>
<circle cx="381.9" cy="107.7" r="2.05" fill="#3B5A9A"/>
<circle cx="383.6" cy="112.4" r="2.05" fill="#3B5A9A"/>
<circle cx="385.3" cy="107.7" r="2.05" fill="#3F2271"/>
<circle cx="386.3" cy="110.8" r="2.05" fill="#3F2271"/>
<circle cx="381.3" cy="118.5" r="2.05" fill="#3B5A9A"/>
<circle cx="389.4" cy="117.8" r="2.05" fill="#3F2271"/>
<circle cx="393.4" cy="118.9" r="2.05" fill="#3F2271"/>
<circle cx="390.7" cy="122.6" r="2.05" fill="#3F2271"/>
<circle cx="389.4" cy="125.9" r="2.05" fill="#3B5A9A"/>
<circle cx="397.5" cy="107.7" r="2.05" fill="#3F2271"/>
<circle cx="401.5" cy="108.4" r="2.05" fill="#3F2271"/>
<circle cx="400.6" cy="111.8" r="2.05" fill="#3F2271"/>
<circle cx="403.6" cy="103" r="2.05" fill="#3F2271"/>
<circle cx="363.7" cy="125.9" r="2.05" fill="#3B5A9A"/>
<circle cx="369.1" cy="128" r="2.05" fill="#2A8A8E"/>
<circle cx="370.5" cy="125.9" r="2.05" fill="#3F2271"/>
<circle cx="373.8" cy="126.6" r="2.05" fill="#3F2271"/>
<circle cx="376.5" cy="125.3" r="2.05" fill="#3B5A9A"/>
<circle cx="379.2" cy="128" r="2.05" fill="#3F2271"/>
<circle cx="381.9" cy="125.9" r="2.05" fill="#3F2271"/>
<circle cx="384" cy="127.6" r="2.05" fill="#3F2271"/>
<circle cx="377.9" cy="131.1" r="2.05" fill="#3F2271"/>
<circle cx="382.6" cy="130.7" r="2.05" fill="#3B5A9A"/>
<circle cx="360.3" cy="130" r="2.05" fill="#3F2271"/>
<circle cx="342.5" cy="125" r="2.05" fill="#3B5A9A"/>
<circle cx="337.1" cy="127.3" r="2.05" fill="#3B5A9A"/>
<circle cx="343.4" cy="130.7" r="2.05" fill="#3F2271"/>
<circle cx="344.1" cy="133.4" r="2.05" fill="#3F2271"/>
<circle cx="338.4" cy="135.8" r="2.05" fill="#3F2271"/>
<circle cx="350.9" cy="138.8" r="2.05" fill="#3F2271"/>
<circle cx="277.5" cy="98" r="2.05" fill="#3F2271"/>
<circle cx="282.2" cy="96.4" r="2.05" fill="#3B5A9A"/>
<circle cx="285.6" cy="99.1" r="2.05" fill="#3B5A9A"/>
<circle cx="289.6" cy="96.4" r="2.05" fill="#3F2271"/>
<circle cx="293" cy="100.4" r="2.05" fill="#3B5A9A"/>
<circle cx="278.1" cy="101.8" r="2.05" fill="#3F2271"/>
<circle cx="282.2" cy="101.1" r="2.05" fill="#3F2271"/>
<circle cx="297.5" cy="103.8" r="2.05" fill="#2FB08A"/>
<circle cx="292.3" cy="107.8" r="2.05" fill="#3B5A9A"/>
<circle cx="280.2" cy="107.2" r="2.05" fill="#3F2271"/>
<circle cx="281.5" cy="109.9" r="2.05" fill="#3B5A9A"/>
<circle cx="283.5" cy="111.2" r="2.05" fill="#3F2271"/>
<circle cx="285.6" cy="115.5" r="2.05" fill="#3F2271"/>
<circle cx="288.9" cy="115.3" r="2.05" fill="#3F2271"/>
<circle cx="306.5" cy="109.2" r="2.05" fill="#3F2271"/>
<circle cx="307.2" cy="112.3" r="2.05" fill="#3F2271"/>
<circle cx="303.1" cy="115.9" r="2.05" fill="#3F2271"/>
<circle cx="296.4" cy="118" r="2.05" fill="#3B5A9A"/>
<circle cx="293.7" cy="121.4" r="2.05" fill="#3B5A9A"/>
<circle cx="297.1" cy="122" r="2.05" fill="#3B5A9A"/>
<circle cx="291.6" cy="126.8" r="2.05" fill="#3F2271"/>
<circle cx="312.6" cy="112.6" r="2.05" fill="#3F2271"/>
<circle cx="316" cy="111.5" r="2.05" fill="#3B5A9A"/>
<circle cx="314" cy="115.3" r="2.05" fill="#5DC863"/>
<circle cx="318.3" cy="108.5" r="2.05" fill="#3F2271"/>
<circle cx="320.4" cy="105.1" r="2.05" fill="#3F2271"/>
<circle cx="319.4" cy="120" r="2.05" fill="#3B5A9A"/>
<circle cx="323.4" cy="119.6" r="2.05" fill="#3B5A9A"/>
<circle cx="322.7" cy="122.7" r="2.05" fill="#3F2271"/>
<circle cx="325.4" cy="124.1" r="2.05" fill="#3B5A9A"/>
<circle cx="328.1" cy="124.1" r="2.05" fill="#3B5A9A"/>
<circle cx="326.4" cy="128.1" r="2.05" fill="#3B5A9A"/>
<circle cx="328.1" cy="120.7" r="2.05" fill="#3F2271"/>
<circle cx="334.9" cy="120" r="2.05" fill="#3F2271"/>
<circle cx="336.2" cy="127.4" r="2.05" fill="#3B5A9A"/>
<circle cx="333.5" cy="136.2" r="2.05" fill="#3F2271"/>
<circle cx="326.1" cy="101.8" r="2.05" fill="#3F2271"/>
<circle cx="327.5" cy="105.1" r="2.05" fill="#3F2271"/>
<circle cx="331.5" cy="110.5" r="2.05" fill="#3F2271"/>
<circle cx="336.2" cy="99.1" r="2.05" fill="#5DC863"/>
<circle cx="333.5" cy="103.8" r="2.05" fill="#3B5A9A"/>
<circle cx="318.7" cy="96.4" r="2.05" fill="#3F2271"/>
<circle cx="321.4" cy="96.4" r="2.05" fill="#3F2271"/>
<circle cx="329.5" cy="97.7" r="2.05" fill="#3F2271"/>
<circle cx="303.8" cy="130.4" r="2.05" fill="#3B5A9A"/>
<circle cx="307.2" cy="131.8" r="2.05" fill="#3B5A9A"/>
<circle cx="302.5" cy="134.5" r="2.05" fill="#3F2271"/>
<circle cx="289.6" cy="135.5" r="2.05" fill="#3F2271"/>
<circle cx="293" cy="134.2" r="2.05" fill="#3F2271"/>
<circle cx="297.1" cy="136.2" r="2.05" fill="#3B5A9A"/>
<circle cx="292.3" cy="138.9" r="2.05" fill="#3F2271"/>
<circle cx="299.8" cy="138.2" r="2.05" fill="#2A8A8E"/>
<circle cx="291" cy="142.3" r="2.05" fill="#3F2271"/>
<circle cx="294.4" cy="143" r="2.05" fill="#3F2271"/>
<circle cx="299.8" cy="142.3" r="2.05" fill="#3B5A9A"/>
<circle cx="303.8" cy="141" r="2.05" fill="#3F2271"/>
<circle cx="306.5" cy="140.3" r="2.05" fill="#3F2271"/>
<circle cx="309.9" cy="142.3" r="2.05" fill="#3B5A9A"/>
<circle cx="314.6" cy="141.6" r="2.05" fill="#3B5A9A"/>
<circle cx="316" cy="138.5" r="2.05" fill="#3F2271"/>
<circle cx="291.6" cy="145.7" r="2.05" fill="#3F2271"/>
<circle cx="295" cy="146.4" r="2.05" fill="#3F2271"/>
<circle cx="299.8" cy="146.4" r="2.05" fill="#3B5A9A"/>
<circle cx="303.8" cy="145.7" r="2.05" fill="#3F2271"/>
<circle cx="309.9" cy="146.4" r="2.05" fill="#3F2271"/>
<circle cx="299.8" cy="149.7" r="2.05" fill="#3F2271"/>
<circle cx="297.1" cy="143.6" r="2.05" fill="#3F2271"/>
<circle cx="368.4" cy="38.2" r="2.05" fill="#F2E52A"/>
<circle cx="369.8" cy="43.2" r="2.05" fill="#2FB08A"/>
<line x1="256.5" y1="20" x2="256.5" y2="168.5" stroke="#444" stroke-width="1.2" />
<line x1="256" y1="168.5" x2="420.7" y2="168.5" stroke="#444" stroke-width="1.2" />
<line x1="254.2" y1="26.6" x2="256.5" y2="26.6" stroke="#111" stroke-width="1.3" />
<text x="249.3" y="30.1" font-size="11" text-anchor="end" font-weight="normal" font-style="normal" fill="#1a1a1a" >6</text>
<line x1="254.2" y1="60.4" x2="256.5" y2="60.4" stroke="#111" stroke-width="1.3" />
<text x="249.3" y="63.9" font-size="11" text-anchor="end" font-weight="normal" font-style="normal" fill="#1a1a1a" >3</text>
<line x1="254.2" y1="94" x2="256.5" y2="94" stroke="#111" stroke-width="1.3" />
<text x="249.3" y="97.5" font-size="11" text-anchor="end" font-weight="normal" font-style="normal" fill="#1a1a1a" >0</text>
<line x1="254.2" y1="127.8" x2="256.5" y2="127.8" stroke="#111" stroke-width="1.3" />
<text x="249.3" y="131.3" font-size="11" text-anchor="end" font-weight="normal" font-style="normal" fill="#1a1a1a" >−3</text>
<line x1="254.2" y1="161.7" x2="256.5" y2="161.7" stroke="#111" stroke-width="1.3" />
<text x="249.3" y="165.2" font-size="11" text-anchor="end" font-weight="normal" font-style="normal" fill="#1a1a1a" >−6</text>
<line x1="296" y1="168.5" x2="296" y2="170.8" stroke="#111" stroke-width="1.3" />
<text x="296" y="181.2" font-size="11" text-anchor="middle" font-weight="normal" font-style="normal" fill="#1a1a1a" >−4</text>
<line x1="338.3" y1="168.5" x2="338.3" y2="170.8" stroke="#111" stroke-width="1.3" />
<text x="338.3" y="181.2" font-size="11" text-anchor="middle" font-weight="normal" font-style="normal" fill="#1a1a1a" >0</text>
<line x1="380.8" y1="168.5" x2="380.8" y2="170.8" stroke="#111" stroke-width="1.3" />
<text x="380.8" y="181.2" font-size="11" text-anchor="middle" font-weight="normal" font-style="normal" fill="#1a1a1a" >4</text>
<text x="342.5" y="191" font-size="11" text-anchor="middle" font-weight="normal" font-style="normal" fill="#1a1a1a" >UMAP_1</text>
<text x="236.3" y="96" font-size="11" text-anchor="middle" font-weight="normal" font-style="normal" fill="#1a1a1a" transform="rotate(-90 236.3 96)">UMAP_2</text>
<defs><linearGradient id="vir" x1="0" y1="1" x2="0" y2="0"><stop offset="0" stop-color="#440154"/><stop offset="0.25" stop-color="#3B528B"/><stop offset="0.5" stop-color="#21908C"/><stop offset="0.75" stop-color="#5DC963"/><stop offset="1" stop-color="#FDE725"/></linearGradient></defs>
<rect x="418" y="73" width="9" height="45.8" fill="url(#vir)"/>
<line x1="425" y1="76.7" x2="427" y2="76.7" stroke="#fff" stroke-width="0.8" />
<text x="430.6" y="80.6" font-size="11.2" text-anchor="start" font-weight="normal" font-style="normal" fill="#1a1a1a" >0.18</text>
<line x1="425" y1="92.7" x2="427" y2="92.7" stroke="#fff" stroke-width="0.8" />
<text x="430.6" y="96.6" font-size="11.2" text-anchor="start" font-weight="normal" font-style="normal" fill="#1a1a1a" >0.16</text>
<line x1="425" y1="106.4" x2="427" y2="106.4" stroke="#fff" stroke-width="0.8" />
<text x="430.6" y="110.3" font-size="11.2" text-anchor="start" font-weight="normal" font-style="normal" fill="#1a1a1a" >0.14</text>
<line x1="512.5" y1="119.4" x2="684" y2="119.4" stroke="#222" stroke-width="1.1" stroke-dasharray="4 2.5"/>
<polygon points="522.5,74.8 522.5,76.2 522.5,77.6 522.5,79.1 522.5,80.5 522.5,81.9 522.5,83.3 522.5,84.8 522.5,86.2 522.5,87.6 522.6,89 522.7,90.5 522.9,91.9 523.1,93.3 523.3,94.7 523.5,96.1 523.7,97.6 523.9,99 524.2,100.4 524.5,101.8 524.8,103.3 525.1,104.7 525.4,106.1 525.7,107.5 526,109 526.3,110.4 526.6,111.8 526.9,113.2 527.2,114.7 527.4,116.1 527.6,117.5 527.8,118.9 527.9,120.3 528,121.8 528.1,123.2 528.1,124.6 528,126 527.9,127.5 527.7,128.9 527.4,130.3 527.1,131.7 526.8,133.2 526.4,134.6 526,136 525.5,137.4 525.1,138.8 524.7,140.3 524.3,141.7 524,143.1 523.7,144.5 523.4,146 523.1,147.4 522.9,148.8 522.7,150.2 522.5,151.7 522.5,153.1 522.5,154.5 522.5,155.9 522.5,157.4 522.5,158.8 522.5,160.2 521.2,160.2 521.2,158.8 521.2,157.4 521.2,155.9 521.2,154.5 521.2,153.1 521.2,151.7 521.1,150.2 520.9,148.8 520.7,147.4 520.4,146 520.1,144.5 519.8,143.1 519.5,141.7 519.1,140.3 518.7,138.8 518.3,137.4 517.8,136 517.4,134.6 517,133.2 516.7,131.7 516.4,130.3 516.1,128.9 515.9,127.5 515.8,126 515.7,124.6 515.7,123.2 515.8,121.8 515.9,120.3 516,118.9 516.2,117.5 516.4,116.1 516.6,114.7 516.9,113.2 517.2,111.8 517.5,110.4 517.8,109 518.1,107.5 518.4,106.1 518.7,104.7 519,103.3 519.3,101.8 519.6,100.4 519.9,99 520.1,97.6 520.3,96.1 520.5,94.7 520.7,93.3 520.9,91.9 521.1,90.5 521.2,89 521.2,87.6 521.2,86.2 521.2,84.8 521.2,83.3 521.2,81.9 521.2,80.5 521.2,79.1 521.2,77.6 521.2,76.2 521.2,74.8" fill="#F28A86" fill-opacity="0.88" stroke="#F07470" stroke-width="1.1"/>
<circle cx="523.9" cy="135.1" r="0.6" fill="#F5A4A2"/>
<circle cx="523.1" cy="138.4" r="0.6" fill="#F5A4A2"/>
<circle cx="525" cy="122.4" r="0.6" fill="#F5A4A2"/>
<circle cx="522.1" cy="107.2" r="0.6" fill="#F5A4A2"/>
<circle cx="519.7" cy="139.9" r="0.6" fill="#F5A4A2"/>
<circle cx="525.5" cy="132.9" r="0.6" fill="#F5A4A2"/>
<circle cx="520.8" cy="138.1" r="0.6" fill="#F5A4A2"/>
<circle cx="524.6" cy="119.5" r="0.6" fill="#F5A4A2"/>
<circle cx="518.7" cy="127.2" r="0.6" fill="#F5A4A2"/>
<circle cx="520.7" cy="134" r="0.6" fill="#F5A4A2"/>
<circle cx="521.2" cy="95.2" r="0.6" fill="#F5A4A2"/>
<circle cx="522.9" cy="94.7" r="0.6" fill="#F5A4A2"/>
<circle cx="522.4" cy="91.6" r="0.6" fill="#F5A4A2"/>
<circle cx="519.1" cy="112.4" r="0.6" fill="#F5A4A2"/>
<circle cx="516.9" cy="119.4" r="0.6" fill="#F5A4A2"/>
<circle cx="520.9" cy="117.6" r="0.6" fill="#F5A4A2"/>
<circle cx="518.8" cy="127.4" r="0.6" fill="#F5A4A2"/>
<circle cx="523.6" cy="103.7" r="0.6" fill="#F5A4A2"/>
<circle cx="521.5" cy="134.5" r="0.6" fill="#F5A4A2"/>
<circle cx="523.3" cy="118.2" r="0.6" fill="#F5A4A2"/>
<circle cx="522.4" cy="131.2" r="0.6" fill="#F5A4A2"/>
<circle cx="526.6" cy="119.5" r="0.6" fill="#F5A4A2"/>
<circle cx="523.4" cy="104.4" r="0.6" fill="#F5A4A2"/>
<circle cx="521.9" cy="108" r="0.6" fill="#F5A4A2"/>
<circle cx="522.2" cy="119" r="0.6" fill="#F5A4A2"/>
<circle cx="521.5" cy="145.2" r="0.6" fill="#F5A4A2"/>
<circle cx="521.8" cy="133.6" r="0.6" fill="#F5A4A2"/>
<circle cx="524" cy="112.1" r="0.6" fill="#F5A4A2"/>
<circle cx="522.8" cy="137.6" r="0.6" fill="#F5A4A2"/>
<circle cx="521.4" cy="93" r="0.6" fill="#F5A4A2"/>
<circle cx="522.5" cy="144.6" r="0.6" fill="#F5A4A2"/>
<circle cx="522.6" cy="95.3" r="0.6" fill="#F5A4A2"/>
<circle cx="522.4" cy="105.5" r="0.6" fill="#F5A4A2"/>
<circle cx="518.2" cy="122.7" r="0.6" fill="#F5A4A2"/>
<circle cx="519.4" cy="109.9" r="0.6" fill="#F5A4A2"/>
<circle cx="522.5" cy="95.6" r="0.6" fill="#F5A4A2"/>
<circle cx="517.2" cy="122.1" r="0.6" fill="#F5A4A2"/>
<circle cx="522.8" cy="116.4" r="0.6" fill="#F5A4A2"/>
<circle cx="523.1" cy="127" r="0.6" fill="#F5A4A2"/>
<circle cx="522.8" cy="138" r="0.6" fill="#F5A4A2"/>
<circle cx="520.1" cy="124.1" r="0.6" fill="#F5A4A2"/>
<circle cx="519.5" cy="103.4" r="0.6" fill="#F5A4A2"/>
<circle cx="522.1" cy="132.3" r="0.6" fill="#F5A4A2"/>
<circle cx="523.9" cy="131.2" r="0.6" fill="#F5A4A2"/>
<circle cx="526.3" cy="128.4" r="0.6" fill="#F5A4A2"/>
<circle cx="521.4" cy="139.8" r="0.6" fill="#F5A4A2"/>
<circle cx="523.5" cy="119.2" r="0.6" fill="#F5A4A2"/>
<circle cx="521.8" cy="102.5" r="0.6" fill="#F5A4A2"/>
<circle cx="520.6" cy="100.2" r="0.6" fill="#F5A4A2"/>
<circle cx="524.8" cy="117.3" r="0.6" fill="#F5A4A2"/>
<circle cx="518.8" cy="127.8" r="0.6" fill="#F5A4A2"/>
<circle cx="519.3" cy="120.7" r="0.6" fill="#F5A4A2"/>
<circle cx="523.2" cy="131.7" r="0.6" fill="#F5A4A2"/>
<circle cx="518.2" cy="129.3" r="0.6" fill="#F5A4A2"/>
<circle cx="521.8" cy="159.9" r="0.6" fill="#F5A4A2"/>
<circle cx="522.1" cy="140.2" r="0.6" fill="#F5A4A2"/>
<circle cx="521.6" cy="109.7" r="0.6" fill="#F5A4A2"/>
<circle cx="518.7" cy="126.7" r="0.6" fill="#F5A4A2"/>
<circle cx="518.8" cy="113.5" r="0.6" fill="#F5A4A2"/>
<circle cx="519" cy="118.4" r="0.6" fill="#F5A4A2"/>
<circle cx="522.1" cy="92.5" r="0.6" fill="#F5A4A2"/>
<circle cx="523.5" cy="143.7" r="0.6" fill="#F5A4A2"/>
<circle cx="523.8" cy="114.1" r="0.6" fill="#F5A4A2"/>
<circle cx="519.1" cy="131.6" r="0.6" fill="#F5A4A2"/>
<circle cx="520.8" cy="140.4" r="0.6" fill="#F5A4A2"/>
<circle cx="519.5" cy="124.1" r="0.6" fill="#F5A4A2"/>
<circle cx="525.8" cy="111.6" r="0.6" fill="#F5A4A2"/>
<circle cx="522" cy="160.1" r="0.6" fill="#F5A4A2"/>
<circle cx="517.5" cy="124.6" r="0.6" fill="#F5A4A2"/>
<circle cx="519.8" cy="126.5" r="0.6" fill="#F5A4A2"/>
<polygon points="537.9,26 537.9,28.1 537.9,30.3 537.9,32.4 537.9,34.5 537.9,36.7 537.9,38.8 537.9,40.9 537.9,43.1 537.9,45.2 537.9,47.3 537.9,49.5 537.9,51.6 537.9,53.7 537.9,55.9 537.9,58 537.9,60.1 537.9,62.3 537.9,64.4 537.9,66.5 537.9,68.7 537.9,70.8 537.9,72.9 537.9,75.1 537.9,77.2 537.9,79.3 537.9,81.5 537.9,83.6 537.9,85.7 537.9,87.9 538.2,90 538.4,92.1 538.7,94.3 539.1,96.4 539.5,98.5 540,100.7 540.5,102.8 541,104.9 541.6,107.1 542.1,109.2 542.6,111.3 543,113.5 543.3,115.6 543.5,117.7 543.7,119.9 543.7,122 543.6,124.1 543.3,126.3 543,128.4 542.6,130.5 542.1,132.7 541.6,134.8 541.1,136.9 540.5,139.1 540,141.2 539.6,143.3 539.1,145.5 538.8,147.6 538.4,149.7 538.2,151.9 538,154 536.6,154 536.4,151.9 536.1,149.7 535.8,147.6 535.4,145.5 535,143.3 534.5,141.2 534,139.1 533.5,136.9 533,134.8 532.4,132.7 532,130.5 531.6,128.4 531.2,126.3 531,124.1 530.9,122 530.9,119.9 531,117.7 531.3,115.6 531.6,113.5 532,111.3 532.5,109.2 533,107.1 533.5,104.9 534.1,102.8 534.6,100.7 535,98.5 535.4,96.4 535.8,94.3 536.1,92.1 536.4,90 536.6,87.9 536.6,85.7 536.6,83.6 536.6,81.5 536.6,79.3 536.6,77.2 536.6,75.1 536.6,72.9 536.6,70.8 536.6,68.7 536.6,66.5 536.6,64.4 536.6,62.3 536.6,60.1 536.6,58 536.6,55.9 536.6,53.7 536.6,51.6 536.6,49.5 536.6,47.3 536.6,45.2 536.6,43.1 536.6,40.9 536.6,38.8 536.6,36.7 536.6,34.5 536.6,32.4 536.6,30.3 536.6,28.1 536.6,26" fill="#DF9D4C" fill-opacity="0.88" stroke="#D98B2B" stroke-width="1.1"/>
<circle cx="541.4" cy="111.3" r="0.6" fill="#E6B375"/>
<circle cx="541.6" cy="115.6" r="0.6" fill="#E6B375"/>
<circle cx="536.4" cy="96.6" r="0.6" fill="#E6B375"/>
<circle cx="534.4" cy="126.1" r="0.6" fill="#E6B375"/>
<circle cx="534.4" cy="114.8" r="0.6" fill="#E6B375"/>
<circle cx="538.7" cy="146.2" r="0.6" fill="#E6B375"/>
<circle cx="533.6" cy="131" r="0.6" fill="#E6B375"/>
<circle cx="540.1" cy="125.7" r="0.6" fill="#E6B375"/>
<circle cx="535.9" cy="108.2" r="0.6" fill="#E6B375"/>
<circle cx="538.3" cy="135.2" r="0.6" fill="#E6B375"/>
<circle cx="536.6" cy="111.5" r="0.6" fill="#E6B375"/>
<circle cx="535.3" cy="127.6" r="0.6" fill="#E6B375"/>
<circle cx="537.9" cy="145.2" r="0.6" fill="#E6B375"/>
<circle cx="538.1" cy="141.2" r="0.6" fill="#E6B375"/>
<circle cx="536.3" cy="133.5" r="0.6" fill="#E6B375"/>
<circle cx="536.6" cy="109.6" r="0.6" fill="#E6B375"/>
<circle cx="535.1" cy="100.2" r="0.6" fill="#E6B375"/>
<circle cx="537" cy="135.2" r="0.6" fill="#E6B375"/>
<circle cx="534.1" cy="105.8" r="0.6" fill="#E6B375"/>
<circle cx="539.5" cy="117.6" r="0.6" fill="#E6B375"/>
<circle cx="535.9" cy="142.8" r="0.6" fill="#E6B375"/>
<circle cx="532.2" cy="122.3" r="0.6" fill="#E6B375"/>
<circle cx="533.5" cy="123.6" r="0.6" fill="#E6B375"/>
<circle cx="539.2" cy="126.7" r="0.6" fill="#E6B375"/>
<circle cx="538.9" cy="118.8" r="0.6" fill="#E6B375"/>
<circle cx="537.1" cy="105.1" r="0.6" fill="#E6B375"/>
<circle cx="537" cy="86.4" r="0.6" fill="#E6B375"/>
<circle cx="541.3" cy="121.3" r="0.6" fill="#E6B375"/>
<circle cx="532.8" cy="111.7" r="0.6" fill="#E6B375"/>
<circle cx="535.9" cy="97.1" r="0.6" fill="#E6B375"/>
<circle cx="540.3" cy="136.3" r="0.6" fill="#E6B375"/>
<circle cx="541.3" cy="124.1" r="0.6" fill="#E6B375"/>
<circle cx="539.4" cy="125.5" r="0.6" fill="#E6B375"/>
<circle cx="540" cy="113.8" r="0.6" fill="#E6B375"/>
<circle cx="534.2" cy="131.9" r="0.6" fill="#E6B375"/>
<circle cx="536.6" cy="93.1" r="0.6" fill="#E6B375"/>
<circle cx="541.1" cy="128.3" r="0.6" fill="#E6B375"/>
<circle cx="537.1" cy="94.3" r="0.6" fill="#E6B375"/>
<circle cx="541.8" cy="128.1" r="0.6" fill="#E6B375"/>
<circle cx="541.2" cy="115.1" r="0.6" fill="#E6B375"/>
<circle cx="537.8" cy="117.7" r="0.6" fill="#E6B375"/>
<circle cx="539.2" cy="126.4" r="0.6" fill="#E6B375"/>
<circle cx="534.9" cy="117.6" r="0.6" fill="#E6B375"/>
<circle cx="540.7" cy="125.7" r="0.6" fill="#E6B375"/>
<circle cx="536.2" cy="142.5" r="0.6" fill="#E6B375"/>
<circle cx="542.5" cy="123.3" r="0.6" fill="#E6B375"/>
<circle cx="541.1" cy="128.9" r="0.6" fill="#E6B375"/>
<circle cx="538.9" cy="117.8" r="0.6" fill="#E6B375"/>
<circle cx="541.1" cy="127.9" r="0.6" fill="#E6B375"/>
<circle cx="538.5" cy="144.9" r="0.6" fill="#E6B375"/>
<circle cx="536.8" cy="122.8" r="0.6" fill="#E6B375"/>
<circle cx="536.7" cy="93.3" r="0.6" fill="#E6B375"/>
<circle cx="535.5" cy="108.1" r="0.6" fill="#E6B375"/>
<circle cx="537.6" cy="109.5" r="0.6" fill="#E6B375"/>
<circle cx="536.4" cy="102.9" r="0.6" fill="#E6B375"/>
<circle cx="538.7" cy="133.9" r="0.6" fill="#E6B375"/>
<circle cx="541.3" cy="115.6" r="0.6" fill="#E6B375"/>
<circle cx="534.4" cy="116.4" r="0.6" fill="#E6B375"/>
<circle cx="532.7" cy="124.3" r="0.6" fill="#E6B375"/>
<circle cx="535.7" cy="126.1" r="0.6" fill="#E6B375"/>
<circle cx="536" cy="127.9" r="0.6" fill="#E6B375"/>
<circle cx="537.9" cy="97.3" r="0.6" fill="#E6B375"/>
<circle cx="539.1" cy="129.1" r="0.6" fill="#E6B375"/>
<circle cx="537.6" cy="104.6" r="0.6" fill="#E6B375"/>
<circle cx="535.3" cy="139.8" r="0.6" fill="#E6B375"/>
<circle cx="538.5" cy="106.8" r="0.6" fill="#E6B375"/>
<circle cx="539.7" cy="116.8" r="0.6" fill="#E6B375"/>
<circle cx="536.8" cy="122.1" r="0.6" fill="#E6B375"/>
<circle cx="536.2" cy="139.1" r="0.6" fill="#E6B375"/>
<polygon points="553.3,70 553.3,71.3 553.3,72.7 553.3,74 553.3,75.4 553.3,76.8 553.3,78.1 553.3,79.5 553.3,80.8 553.3,82.2 553.3,83.5 553.3,84.8 553.4,86.2 553.5,87.5 553.6,88.9 553.8,90.2 554,91.6 554.2,93 554.5,94.3 554.7,95.7 555,97 555.3,98.3 555.6,99.7 555.9,101 556.3,102.4 556.6,103.8 557,105.1 557.3,106.5 557.6,107.8 557.9,109.2 558.2,110.5 558.4,111.8 558.6,113.2 558.8,114.5 558.9,115.9 559,117.2 559.1,118.6 559,120 559,121.3 558.9,122.7 558.7,124 558.5,125.3 558.3,126.7 558.1,128.1 557.8,129.4 557.5,130.8 557.1,132.1 556.8,133.4 556.5,134.8 556.1,136.2 555.8,137.5 555.5,138.8 555.2,140.2 554.9,141.6 554.6,142.9 554.4,144.2 554.1,145.6 553.9,146.9 553.7,148.3 553.6,149.7 553.4,151 551.9,151 551.7,149.7 551.6,148.3 551.4,146.9 551.2,145.6 550.9,144.2 550.7,142.9 550.4,141.6 550.1,140.2 549.8,138.8 549.5,137.5 549.2,136.2 548.8,134.8 548.5,133.4 548.2,132.1 547.8,130.8 547.5,129.4 547.3,128.1 547,126.7 546.8,125.3 546.6,124 546.4,122.7 546.3,121.3 546.3,120 546.3,118.6 546.3,117.2 546.4,115.9 546.5,114.5 546.7,113.2 546.9,111.8 547.1,110.5 547.4,109.2 547.7,107.8 548,106.5 548.4,105.1 548.7,103.8 549,102.4 549.4,101 549.7,99.7 550,98.3 550.3,97 550.6,95.7 550.8,94.3 551.1,93 551.3,91.6 551.5,90.2 551.7,88.9 551.8,87.5 552,86.2 552,84.8 552,83.5 552,82.2 552,80.8 552,79.5 552,78.1 552,76.8 552,75.4 552,74 552,72.7 552,71.3 552,70" fill="#B1AA4F" fill-opacity="0.88" stroke="#A39A2E" stroke-width="1.1"/>
<circle cx="550.3" cy="133" r="0.6" fill="#C3BD77"/>
<circle cx="553.8" cy="137.8" r="0.6" fill="#C3BD77"/>
<circle cx="553.6" cy="106" r="0.6" fill="#C3BD77"/>
<circle cx="553.2" cy="108.6" r="0.6" fill="#C3BD77"/>
<circle cx="553.2" cy="139" r="0.6" fill="#C3BD77"/>
<circle cx="552.9" cy="124.6" r="0.6" fill="#C3BD77"/>
<circle cx="552.1" cy="139.1" r="0.6" fill="#C3BD77"/>
<circle cx="551.2" cy="100" r="0.6" fill="#C3BD77"/>
<circle cx="553.5" cy="140.4" r="0.6" fill="#C3BD77"/>
<circle cx="553.1" cy="141.2" r="0.6" fill="#C3BD77"/>
<circle cx="551.2" cy="100.4" r="0.6" fill="#C3BD77"/>
<circle cx="553" cy="126.1" r="0.6" fill="#C3BD77"/>
<circle cx="553.6" cy="133.4" r="0.6" fill="#C3BD77"/>
<circle cx="553.6" cy="137.7" r="0.6" fill="#C3BD77"/>
<circle cx="550.8" cy="119.2" r="0.6" fill="#C3BD77"/>
<circle cx="554.5" cy="126.4" r="0.6" fill="#C3BD77"/>
<circle cx="552.5" cy="91" r="0.6" fill="#C3BD77"/>
<circle cx="551.6" cy="117.3" r="0.6" fill="#C3BD77"/>
<circle cx="549.9" cy="127.6" r="0.6" fill="#C3BD77"/>
<circle cx="553.6" cy="113.4" r="0.6" fill="#C3BD77"/>
<circle cx="553.1" cy="106.8" r="0.6" fill="#C3BD77"/>
<circle cx="552.2" cy="105.8" r="0.6" fill="#C3BD77"/>
<circle cx="554.6" cy="101.7" r="0.6" fill="#C3BD77"/>
<circle cx="552.9" cy="88.1" r="0.6" fill="#C3BD77"/>
<circle cx="552.6" cy="78.6" r="0.6" fill="#C3BD77"/>
<circle cx="553.9" cy="126.7" r="0.6" fill="#C3BD77"/>
<circle cx="552" cy="136.4" r="0.6" fill="#C3BD77"/>
<circle cx="553.9" cy="100.1" r="0.6" fill="#C3BD77"/>
<circle cx="552.9" cy="88.6" r="0.6" fill="#C3BD77"/>
<circle cx="552.8" cy="96.9" r="0.6" fill="#C3BD77"/>
<circle cx="552.2" cy="139.5" r="0.6" fill="#C3BD77"/>
<circle cx="557.3" cy="115.6" r="0.6" fill="#C3BD77"/>
<circle cx="548.8" cy="128.8" r="0.6" fill="#C3BD77"/>
<circle cx="556.5" cy="115.4" r="0.6" fill="#C3BD77"/>
<circle cx="550.7" cy="131.3" r="0.6" fill="#C3BD77"/>
<circle cx="554.2" cy="107.8" r="0.6" fill="#C3BD77"/>
<circle cx="552.2" cy="129.9" r="0.6" fill="#C3BD77"/>
<circle cx="554.4" cy="114.7" r="0.6" fill="#C3BD77"/>
<circle cx="548.9" cy="122.2" r="0.6" fill="#C3BD77"/>
<circle cx="552.5" cy="136.2" r="0.6" fill="#C3BD77"/>
<circle cx="551.5" cy="119.9" r="0.6" fill="#C3BD77"/>
<circle cx="549.2" cy="125.9" r="0.6" fill="#C3BD77"/>
<circle cx="551.9" cy="126.1" r="0.6" fill="#C3BD77"/>
<circle cx="550.8" cy="125.6" r="0.6" fill="#C3BD77"/>
<circle cx="549.9" cy="116.6" r="0.6" fill="#C3BD77"/>
<circle cx="550.8" cy="101.7" r="0.6" fill="#C3BD77"/>
<circle cx="549.8" cy="110.9" r="0.6" fill="#C3BD77"/>
<circle cx="552.6" cy="145.7" r="0.6" fill="#C3BD77"/>
<circle cx="552.3" cy="130.1" r="0.6" fill="#C3BD77"/>
<circle cx="553.3" cy="89.2" r="0.6" fill="#C3BD77"/>
<circle cx="548.7" cy="111.4" r="0.6" fill="#C3BD77"/>
<circle cx="549.7" cy="109.5" r="0.6" fill="#C3BD77"/>
<circle cx="556.2" cy="123.2" r="0.6" fill="#C3BD77"/>
<circle cx="555.6" cy="102.7" r="0.6" fill="#C3BD77"/>
<circle cx="549.6" cy="135.7" r="0.6" fill="#C3BD77"/>
<circle cx="550.6" cy="109.8" r="0.6" fill="#C3BD77"/>
<circle cx="554.8" cy="123.8" r="0.6" fill="#C3BD77"/>
<circle cx="554.1" cy="143" r="0.6" fill="#C3BD77"/>
<circle cx="553.8" cy="107.1" r="0.6" fill="#C3BD77"/>
<circle cx="552.6" cy="77.8" r="0.6" fill="#C3BD77"/>
<circle cx="555.4" cy="126" r="0.6" fill="#C3BD77"/>
<circle cx="554.5" cy="107.4" r="0.6" fill="#C3BD77"/>
<circle cx="549.4" cy="123" r="0.6" fill="#C3BD77"/>
<circle cx="557.4" cy="114.6" r="0.6" fill="#C3BD77"/>
<circle cx="553.5" cy="130.6" r="0.6" fill="#C3BD77"/>
<circle cx="552.5" cy="133.4" r="0.6" fill="#C3BD77"/>
<circle cx="552.4" cy="149.6" r="0.6" fill="#C3BD77"/>
<circle cx="552" cy="90" r="0.6" fill="#C3BD77"/>
<circle cx="551" cy="135" r="0.6" fill="#C3BD77"/>
<circle cx="549.4" cy="109.5" r="0.6" fill="#C3BD77"/>
<polygon points="568.7,40 568.7,41.7 568.7,43.4 568.7,45.1 568.7,46.9 568.7,48.6 568.7,50.3 568.7,52 568.7,53.7 568.7,55.4 568.7,57.1 568.7,58.8 568.7,60.6 568.7,62.3 568.7,64 568.7,65.7 568.7,67.4 568.7,69.1 568.7,70.8 568.7,72.6 568.7,74.3 568.7,76 568.7,77.7 568.7,79.4 568.8,81.1 569.1,82.8 569.3,84.5 569.6,86.3 569.9,88 570.3,89.7 570.7,91.4 571.2,93.1 571.6,94.8 572.1,96.5 572.6,98.3 573.1,100 573.5,101.7 574,103.4 574.3,105.1 574.6,106.8 574.9,108.5 575,110.2 575,112 575,113.7 574.8,115.4 574.6,117.1 574.2,118.8 573.8,120.5 573.3,122.2 572.8,124 572.2,125.7 571.7,127.4 571.2,129.1 570.7,130.8 570.2,132.5 569.8,134.2 569.5,135.9 569.2,137.7 568.9,139.4 568.7,141.1 568.7,142.8 567.4,142.8 567.4,141.1 567.2,139.4 566.9,137.7 566.6,135.9 566.3,134.2 565.9,132.5 565.4,130.8 564.9,129.1 564.4,127.4 563.9,125.7 563.3,124 562.8,122.2 562.3,120.5 561.9,118.8 561.5,117.1 561.3,115.4 561.1,113.7 561,112 561.1,110.2 561.2,108.5 561.5,106.8 561.8,105.1 562.1,103.4 562.5,101.7 563,100 563.5,98.3 564,96.5 564.5,94.8 564.9,93.1 565.4,91.4 565.8,89.7 566.1,88 566.5,86.3 566.8,84.5 567,82.8 567.2,81.1 567.4,79.4 567.4,77.7 567.4,76 567.4,74.3 567.4,72.6 567.4,70.8 567.4,69.1 567.4,67.4 567.4,65.7 567.4,64 567.4,62.3 567.4,60.6 567.4,58.8 567.4,57.1 567.4,55.4 567.4,53.7 567.4,52 567.4,50.3 567.4,48.6 567.4,46.9 567.4,45.1 567.4,43.4 567.4,41.7 567.4,40" fill="#7BC366" fill-opacity="0.88" stroke="#62B84A" stroke-width="1.1"/>
<circle cx="569.2" cy="128.8" r="0.6" fill="#98D089"/>
<circle cx="570.8" cy="109.8" r="0.6" fill="#98D089"/>
<circle cx="569.3" cy="113.4" r="0.6" fill="#98D089"/>
<circle cx="564" cy="118.1" r="0.6" fill="#98D089"/>
<circle cx="569.3" cy="88.1" r="0.6" fill="#98D089"/>
<circle cx="566.8" cy="133.8" r="0.6" fill="#98D089"/>
<circle cx="571.1" cy="121.5" r="0.6" fill="#98D089"/>
<circle cx="562.8" cy="117.4" r="0.6" fill="#98D089"/>
<circle cx="563.6" cy="113.1" r="0.6" fill="#98D089"/>
<circle cx="568.3" cy="119.2" r="0.6" fill="#98D089"/>
<circle cx="570.5" cy="118.4" r="0.6" fill="#98D089"/>
<circle cx="569.5" cy="126.4" r="0.6" fill="#98D089"/>
<circle cx="568.3" cy="88.7" r="0.6" fill="#98D089"/>
<circle cx="570.3" cy="125.7" r="0.6" fill="#98D089"/>
<circle cx="569" cy="112.1" r="0.6" fill="#98D089"/>
<circle cx="570.9" cy="126.8" r="0.6" fill="#98D089"/>
<circle cx="566" cy="99.2" r="0.6" fill="#98D089"/>
<circle cx="566.1" cy="100.2" r="0.6" fill="#98D089"/>
<circle cx="571.6" cy="121.6" r="0.6" fill="#98D089"/>
<circle cx="569.4" cy="126.9" r="0.6" fill="#98D089"/>
<circle cx="566.3" cy="100.4" r="0.6" fill="#98D089"/>
<circle cx="567.2" cy="103.4" r="0.6" fill="#98D089"/>
<circle cx="565.1" cy="113" r="0.6" fill="#98D089"/>
<circle cx="567.4" cy="139.9" r="0.6" fill="#98D089"/>
<circle cx="569.2" cy="132.3" r="0.6" fill="#98D089"/>
<circle cx="567.9" cy="109.9" r="0.6" fill="#98D089"/>
<circle cx="573.4" cy="105.6" r="0.6" fill="#98D089"/>
<circle cx="569.1" cy="131.7" r="0.6" fill="#98D089"/>
<circle cx="570.5" cy="110.4" r="0.6" fill="#98D089"/>
<circle cx="569.1" cy="107" r="0.6" fill="#98D089"/>
<circle cx="567.6" cy="130.8" r="0.6" fill="#98D089"/>
<circle cx="570.6" cy="119" r="0.6" fill="#98D089"/>
<circle cx="565" cy="96.9" r="0.6" fill="#98D089"/>
<circle cx="569.7" cy="107.6" r="0.6" fill="#98D089"/>
<circle cx="572.4" cy="113.6" r="0.6" fill="#98D089"/>
<circle cx="568.7" cy="92.9" r="0.6" fill="#98D089"/>
<circle cx="565" cy="106.6" r="0.6" fill="#98D089"/>
<circle cx="569.1" cy="96.7" r="0.6" fill="#98D089"/>
<circle cx="567.2" cy="125.3" r="0.6" fill="#98D089"/>
<circle cx="568.5" cy="98.4" r="0.6" fill="#98D089"/>
<circle cx="570.1" cy="114" r="0.6" fill="#98D089"/>
<circle cx="571.2" cy="101" r="0.6" fill="#98D089"/>
<circle cx="568.2" cy="132.6" r="0.6" fill="#98D089"/>
<circle cx="571.1" cy="125.1" r="0.6" fill="#98D089"/>
<circle cx="564.3" cy="110.4" r="0.6" fill="#98D089"/>
<circle cx="565.5" cy="93.5" r="0.6" fill="#98D089"/>
<circle cx="568.4" cy="133.4" r="0.6" fill="#98D089"/>
<circle cx="568.4" cy="137.5" r="0.6" fill="#98D089"/>
<circle cx="567.7" cy="85.3" r="0.6" fill="#98D089"/>
<circle cx="564.1" cy="101.3" r="0.6" fill="#98D089"/>
<circle cx="565.9" cy="130.9" r="0.6" fill="#98D089"/>
<circle cx="566" cy="127.9" r="0.6" fill="#98D089"/>
<circle cx="567.5" cy="97.4" r="0.6" fill="#98D089"/>
<circle cx="565.8" cy="104.5" r="0.6" fill="#98D089"/>
<circle cx="568.4" cy="142.1" r="0.6" fill="#98D089"/>
<circle cx="565.1" cy="111.5" r="0.6" fill="#98D089"/>
<circle cx="568.2" cy="98.5" r="0.6" fill="#98D089"/>
<circle cx="567" cy="95.3" r="0.6" fill="#98D089"/>
<circle cx="570.4" cy="124.2" r="0.6" fill="#98D089"/>
<circle cx="570.9" cy="104.7" r="0.6" fill="#98D089"/>
<circle cx="572.5" cy="116" r="0.6" fill="#98D089"/>
<circle cx="571.9" cy="103.9" r="0.6" fill="#98D089"/>
<circle cx="570.6" cy="94.4" r="0.6" fill="#98D089"/>
<circle cx="565.7" cy="129.8" r="0.6" fill="#98D089"/>
<circle cx="566.1" cy="113" r="0.6" fill="#98D089"/>
<circle cx="570.1" cy="112.9" r="0.6" fill="#98D089"/>
<circle cx="570" cy="129.1" r="0.6" fill="#98D089"/>
<circle cx="574" cy="111.8" r="0.6" fill="#98D089"/>
<circle cx="571.3" cy="114.4" r="0.6" fill="#98D089"/>
<polygon points="584.1,73 584.1,74.4 584.1,75.8 584.1,77.2 584.1,78.6 584.1,80 584.1,81.4 584.2,82.8 584.3,84.2 584.5,85.6 584.7,87 584.9,88.4 585.1,89.8 585.3,91.2 585.6,92.6 585.9,94 586.2,95.4 586.5,96.8 586.9,98.2 587.2,99.6 587.5,101 587.9,102.4 588.2,103.8 588.5,105.2 588.8,106.6 589.1,108 589.4,109.4 589.6,110.8 589.8,112.2 589.9,113.6 590,115 590,116.4 590,117.8 589.9,119.2 589.8,120.6 589.7,122 589.5,123.4 589.3,124.8 589,126.2 588.7,127.6 588.4,129 588.1,130.4 587.7,131.8 587.4,133.2 587,134.6 586.7,136 586.4,137.4 586.1,138.8 585.8,140.2 585.5,141.6 585.2,143 585,144.4 584.8,145.8 584.6,147.2 584.4,148.6 584.2,150 584.1,151.4 584.1,152.8 584.1,154.2 584.1,155.6 584.1,157 582.8,157 582.8,155.6 582.8,154.2 582.8,152.8 582.7,151.4 582.6,150 582.4,148.6 582.3,147.2 582.1,145.8 581.9,144.4 581.6,143 581.4,141.6 581.1,140.2 580.8,138.8 580.5,137.4 580.1,136 579.8,134.6 579.5,133.2 579.1,131.8 578.8,130.4 578.4,129 578.1,127.6 577.8,126.2 577.6,124.8 577.3,123.4 577.1,122 577,120.6 576.9,119.2 576.8,117.8 576.8,116.4 576.9,115 576.9,113.6 577.1,112.2 577.3,110.8 577.5,109.4 577.7,108 578,106.6 578.3,105.2 578.6,103.8 579,102.4 579.3,101 579.6,99.6 580,98.2 580.3,96.8 580.6,95.4 580.9,94 581.2,92.6 581.5,91.2 581.8,89.8 582,88.4 582.2,87 582.4,85.6 582.5,84.2 582.7,82.8 582.8,81.4 582.8,80 582.8,78.6 582.8,77.2 582.8,75.8 582.8,74.4 582.8,73" fill="#57C082" fill-opacity="0.88" stroke="#37B56B" stroke-width="1.1"/>
<circle cx="583.8" cy="151.5" r="0.6" fill="#7DCE9E"/>
<circle cx="580.8" cy="107.9" r="0.6" fill="#7DCE9E"/>
<circle cx="585.8" cy="103.2" r="0.6" fill="#7DCE9E"/>
<circle cx="581.7" cy="141.3" r="0.6" fill="#7DCE9E"/>
<circle cx="581.2" cy="135.6" r="0.6" fill="#7DCE9E"/>
<circle cx="583.7" cy="149.4" r="0.6" fill="#7DCE9E"/>
<circle cx="586.5" cy="104.6" r="0.6" fill="#7DCE9E"/>
<circle cx="583.8" cy="139.2" r="0.6" fill="#7DCE9E"/>
<circle cx="584.5" cy="104.7" r="0.6" fill="#7DCE9E"/>
<circle cx="584.6" cy="126.7" r="0.6" fill="#7DCE9E"/>
<circle cx="583.7" cy="100.1" r="0.6" fill="#7DCE9E"/>
<circle cx="581.2" cy="127.5" r="0.6" fill="#7DCE9E"/>
<circle cx="579.7" cy="126.6" r="0.6" fill="#7DCE9E"/>
<circle cx="583.9" cy="137.5" r="0.6" fill="#7DCE9E"/>
<circle cx="581.2" cy="127.4" r="0.6" fill="#7DCE9E"/>
<circle cx="583.3" cy="85.3" r="0.6" fill="#7DCE9E"/>
<circle cx="587.1" cy="131.4" r="0.6" fill="#7DCE9E"/>
<circle cx="580.4" cy="109.2" r="0.6" fill="#7DCE9E"/>
<circle cx="585.3" cy="119.6" r="0.6" fill="#7DCE9E"/>
<circle cx="586.7" cy="112.5" r="0.6" fill="#7DCE9E"/>
<circle cx="585" cy="92.9" r="0.6" fill="#7DCE9E"/>
<circle cx="588.4" cy="109.4" r="0.6" fill="#7DCE9E"/>
<circle cx="579" cy="126" r="0.6" fill="#7DCE9E"/>
<circle cx="582.8" cy="136.2" r="0.6" fill="#7DCE9E"/>
<circle cx="584.7" cy="123.2" r="0.6" fill="#7DCE9E"/>
<circle cx="579.3" cy="125.1" r="0.6" fill="#7DCE9E"/>
<circle cx="586.9" cy="118.2" r="0.6" fill="#7DCE9E"/>
<circle cx="580.6" cy="118.8" r="0.6" fill="#7DCE9E"/>
<circle cx="584.4" cy="138.9" r="0.6" fill="#7DCE9E"/>
<circle cx="584.6" cy="127.6" r="0.6" fill="#7DCE9E"/>
<circle cx="584.5" cy="95.9" r="0.6" fill="#7DCE9E"/>
<circle cx="581.5" cy="110.4" r="0.6" fill="#7DCE9E"/>
<circle cx="586.1" cy="131.8" r="0.6" fill="#7DCE9E"/>
<circle cx="585.1" cy="94.1" r="0.6" fill="#7DCE9E"/>
<circle cx="583.6" cy="128.2" r="0.6" fill="#7DCE9E"/>
<circle cx="584.8" cy="98.7" r="0.6" fill="#7DCE9E"/>
<circle cx="588" cy="113.1" r="0.6" fill="#7DCE9E"/>
<circle cx="580.1" cy="114.8" r="0.6" fill="#7DCE9E"/>
<circle cx="581.2" cy="97.5" r="0.6" fill="#7DCE9E"/>
<circle cx="584.3" cy="118.7" r="0.6" fill="#7DCE9E"/>
<circle cx="583.7" cy="89.5" r="0.6" fill="#7DCE9E"/>
<circle cx="582.2" cy="99.4" r="0.6" fill="#7DCE9E"/>
<circle cx="583.6" cy="75.7" r="0.6" fill="#7DCE9E"/>
<circle cx="585.5" cy="99" r="0.6" fill="#7DCE9E"/>
<circle cx="582.6" cy="143.8" r="0.6" fill="#7DCE9E"/>
<circle cx="579.7" cy="118.7" r="0.6" fill="#7DCE9E"/>
<circle cx="579" cy="111.4" r="0.6" fill="#7DCE9E"/>
<circle cx="580.7" cy="126.5" r="0.6" fill="#7DCE9E"/>
<circle cx="586.8" cy="118.4" r="0.6" fill="#7DCE9E"/>
<circle cx="580.1" cy="130.1" r="0.6" fill="#7DCE9E"/>
<circle cx="583.5" cy="118.6" r="0.6" fill="#7DCE9E"/>
<circle cx="580.6" cy="122.4" r="0.6" fill="#7DCE9E"/>
<circle cx="580.9" cy="104" r="0.6" fill="#7DCE9E"/>
<circle cx="583.3" cy="114.3" r="0.6" fill="#7DCE9E"/>
<circle cx="583.5" cy="149.9" r="0.6" fill="#7DCE9E"/>
<circle cx="582.7" cy="132.8" r="0.6" fill="#7DCE9E"/>
<circle cx="583.4" cy="76" r="0.6" fill="#7DCE9E"/>
<circle cx="582.6" cy="103.6" r="0.6" fill="#7DCE9E"/>
<circle cx="586.4" cy="120.4" r="0.6" fill="#7DCE9E"/>
<circle cx="584.2" cy="133.7" r="0.6" fill="#7DCE9E"/>
<circle cx="579.6" cy="110.7" r="0.6" fill="#7DCE9E"/>
<circle cx="583.2" cy="154.2" r="0.6" fill="#7DCE9E"/>
<circle cx="583" cy="123.2" r="0.6" fill="#7DCE9E"/>
<circle cx="582.7" cy="78" r="0.6" fill="#7DCE9E"/>
<circle cx="580.4" cy="99.5" r="0.6" fill="#7DCE9E"/>
<circle cx="581.9" cy="109.8" r="0.6" fill="#7DCE9E"/>
<circle cx="579.9" cy="120.4" r="0.6" fill="#7DCE9E"/>
<circle cx="579.8" cy="113.5" r="0.6" fill="#7DCE9E"/>
<circle cx="585.4" cy="121.3" r="0.6" fill="#7DCE9E"/>
<circle cx="584.7" cy="102.3" r="0.6" fill="#7DCE9E"/>
<polygon points="599.4,42 599.4,43.8 599.4,45.6 599.4,47.4 599.4,49.1 599.4,50.9 599.4,52.7 599.4,54.5 599.4,56.3 599.4,58 599.4,59.8 599.4,61.6 599.4,63.4 599.4,65.2 599.4,67 599.4,68.8 599.4,70.5 599.4,72.3 599.4,74.1 599.4,75.9 599.4,77.7 599.4,79.5 599.5,81.2 599.7,83 599.9,84.8 600.1,86.6 600.4,88.4 600.6,90.2 601,91.9 601.3,93.7 601.7,95.5 602.1,97.3 602.5,99.1 602.9,100.8 603.3,102.6 603.7,104.4 604,106.2 604.4,108 604.7,109.8 604.9,111.5 605.1,113.3 605.2,115.1 605.2,116.9 605.2,118.7 605.1,120.5 604.9,122.2 604.7,124 604.4,125.8 604,127.6 603.7,129.4 603.3,131.2 602.9,132.9 602.5,134.7 602.1,136.5 601.7,138.3 601.3,140.1 601,141.9 600.6,143.7 600.4,145.4 600.1,147.2 599.9,149 597.7,149 597.5,147.2 597.2,145.4 597,143.7 596.6,141.9 596.3,140.1 595.9,138.3 595.5,136.5 595.1,134.7 594.7,132.9 594.3,131.2 593.9,129.4 593.6,127.6 593.2,125.8 592.9,124 592.7,122.2 592.5,120.5 592.4,118.7 592.4,116.9 592.4,115.1 592.5,113.3 592.7,111.5 592.9,109.8 593.2,108 593.6,106.2 593.9,104.4 594.3,102.6 594.7,100.8 595.1,99.1 595.5,97.3 595.9,95.5 596.3,93.7 596.6,91.9 597,90.2 597.2,88.4 597.5,86.6 597.7,84.8 597.9,83 598.1,81.2 598.1,79.5 598.1,77.7 598.1,75.9 598.1,74.1 598.1,72.3 598.1,70.5 598.1,68.8 598.1,67 598.1,65.2 598.1,63.4 598.1,61.6 598.1,59.8 598.1,58 598.1,56.3 598.1,54.5 598.1,52.7 598.1,50.9 598.1,49.1 598.1,47.4 598.1,45.6 598.1,43.8 598.1,42" fill="#4FC9AF" fill-opacity="0.88" stroke="#2EBFA0" stroke-width="1.1"/>
<circle cx="601.2" cy="129.2" r="0.6" fill="#77D5C1"/>
<circle cx="602.6" cy="105" r="0.6" fill="#77D5C1"/>
<circle cx="597.4" cy="104.9" r="0.6" fill="#77D5C1"/>
<circle cx="598" cy="146.1" r="0.6" fill="#77D5C1"/>
<circle cx="596.6" cy="99.1" r="0.6" fill="#77D5C1"/>
<circle cx="599.4" cy="142" r="0.6" fill="#77D5C1"/>
<circle cx="598.1" cy="110.2" r="0.6" fill="#77D5C1"/>
<circle cx="597.7" cy="125.9" r="0.6" fill="#77D5C1"/>
<circle cx="599.4" cy="80" r="0.6" fill="#77D5C1"/>
<circle cx="596.3" cy="126.3" r="0.6" fill="#77D5C1"/>
<circle cx="600.4" cy="142.2" r="0.6" fill="#77D5C1"/>
<circle cx="602.2" cy="115" r="0.6" fill="#77D5C1"/>
<circle cx="602.1" cy="103.1" r="0.6" fill="#77D5C1"/>
<circle cx="604.2" cy="114.6" r="0.6" fill="#77D5C1"/>
<circle cx="602.1" cy="110.4" r="0.6" fill="#77D5C1"/>
<circle cx="601.5" cy="110.4" r="0.6" fill="#77D5C1"/>
<circle cx="599.5" cy="82.3" r="0.6" fill="#77D5C1"/>
<circle cx="599.1" cy="115.3" r="0.6" fill="#77D5C1"/>
<circle cx="598.8" cy="98.5" r="0.6" fill="#77D5C1"/>
<circle cx="602.3" cy="118.6" r="0.6" fill="#77D5C1"/>
<circle cx="598.9" cy="91.1" r="0.6" fill="#77D5C1"/>
<circle cx="599.2" cy="76.8" r="0.6" fill="#77D5C1"/>
<circle cx="600.3" cy="91.4" r="0.6" fill="#77D5C1"/>
<circle cx="597.9" cy="113.9" r="0.6" fill="#77D5C1"/>
<circle cx="596.8" cy="107.9" r="0.6" fill="#77D5C1"/>
<circle cx="594.6" cy="116.1" r="0.6" fill="#77D5C1"/>
<circle cx="598.6" cy="126.5" r="0.6" fill="#77D5C1"/>
<circle cx="603.4" cy="124.5" r="0.6" fill="#77D5C1"/>
<circle cx="598.9" cy="80.6" r="0.6" fill="#77D5C1"/>
<circle cx="595" cy="128.9" r="0.6" fill="#77D5C1"/>
<circle cx="602.8" cy="118" r="0.6" fill="#77D5C1"/>
<circle cx="598.4" cy="104.3" r="0.6" fill="#77D5C1"/>
<circle cx="599.1" cy="143.7" r="0.6" fill="#77D5C1"/>
<circle cx="595.9" cy="133" r="0.6" fill="#77D5C1"/>
<circle cx="599.4" cy="95.2" r="0.6" fill="#77D5C1"/>
<circle cx="598.3" cy="85.7" r="0.6" fill="#77D5C1"/>
<circle cx="597.9" cy="119" r="0.6" fill="#77D5C1"/>
<circle cx="599.9" cy="145.5" r="0.6" fill="#77D5C1"/>
<circle cx="598.7" cy="133.3" r="0.6" fill="#77D5C1"/>
<circle cx="597.8" cy="135.3" r="0.6" fill="#77D5C1"/>
<circle cx="602.9" cy="117" r="0.6" fill="#77D5C1"/>
<circle cx="596.1" cy="122.4" r="0.6" fill="#77D5C1"/>
<circle cx="600.4" cy="129.7" r="0.6" fill="#77D5C1"/>
<circle cx="603" cy="128.9" r="0.6" fill="#77D5C1"/>
<circle cx="596.5" cy="123.1" r="0.6" fill="#77D5C1"/>
<circle cx="600.1" cy="141.7" r="0.6" fill="#77D5C1"/>
<circle cx="599.7" cy="89" r="0.6" fill="#77D5C1"/>
<circle cx="599.2" cy="119.1" r="0.6" fill="#77D5C1"/>
<circle cx="595.2" cy="114.4" r="0.6" fill="#77D5C1"/>
<circle cx="600.9" cy="117.4" r="0.6" fill="#77D5C1"/>
<circle cx="593.9" cy="118.5" r="0.6" fill="#77D5C1"/>
<circle cx="599.8" cy="92.7" r="0.6" fill="#77D5C1"/>
<circle cx="600" cy="138.1" r="0.6" fill="#77D5C1"/>
<circle cx="599.2" cy="87.4" r="0.6" fill="#77D5C1"/>
<circle cx="596" cy="106.7" r="0.6" fill="#77D5C1"/>
<circle cx="599.9" cy="131.1" r="0.6" fill="#77D5C1"/>
<circle cx="597.1" cy="99.1" r="0.6" fill="#77D5C1"/>
<circle cx="598.2" cy="145.4" r="0.6" fill="#77D5C1"/>
<circle cx="601.1" cy="129.7" r="0.6" fill="#77D5C1"/>
<circle cx="602" cy="124.6" r="0.6" fill="#77D5C1"/>
<circle cx="600.8" cy="121.2" r="0.6" fill="#77D5C1"/>
<circle cx="599.5" cy="114.4" r="0.6" fill="#77D5C1"/>
<circle cx="599.4" cy="91.2" r="0.6" fill="#77D5C1"/>
<circle cx="598.3" cy="103.4" r="0.6" fill="#77D5C1"/>
<circle cx="598.7" cy="149" r="0.6" fill="#77D5C1"/>
<polygon points="614.8,68.9 614.8,70.1 614.8,71.3 614.8,72.5 614.8,73.7 614.8,74.9 614.8,76.1 614.8,77.3 614.9,78.5 615,79.7 615.1,80.9 615.3,82.1 615.5,83.3 615.6,84.5 615.8,85.7 616.1,86.9 616.3,88.1 616.6,89.3 616.8,90.5 617.1,91.7 617.4,92.9 617.7,94.1 618,95.3 618.3,96.5 618.6,97.7 618.9,98.9 619.1,100.1 619.4,101.3 619.7,102.5 619.9,103.7 620.1,104.9 620.2,106.1 620.4,107.3 620.5,108.5 620.6,109.7 620.6,110.9 620.6,112.1 620.5,113.3 620.4,114.5 620.3,115.7 620.1,116.9 619.9,118.1 619.7,119.3 619.4,120.5 619.2,121.7 618.9,122.9 618.6,124.1 618.3,125.3 617.9,126.5 617.6,127.7 617.3,128.9 617,130.1 616.7,131.3 616.5,132.5 616.2,133.7 616,134.9 615.7,136.1 615.5,137.3 615.4,138.5 615.2,139.7 615,140.9 613.3,140.9 613.2,139.7 613,138.5 612.8,137.3 612.6,136.1 612.4,134.9 612.1,133.7 611.9,132.5 611.6,131.3 611.3,130.1 611,128.9 610.7,127.7 610.4,126.5 610.1,125.3 609.8,124.1 609.5,122.9 609.2,121.7 608.9,120.5 608.7,119.3 608.4,118.1 608.2,116.9 608.1,115.7 607.9,114.5 607.8,113.3 607.8,112.1 607.8,110.9 607.8,109.7 607.9,108.5 608,107.3 608.1,106.1 608.3,104.9 608.5,103.7 608.7,102.5 609,101.3 609.2,100.1 609.5,98.9 609.8,97.7 610.1,96.5 610.4,95.3 610.7,94.1 611,92.9 611.3,91.7 611.5,90.5 611.8,89.3 612.1,88.1 612.3,86.9 612.5,85.7 612.7,84.5 612.9,83.3 613.1,82.1 613.2,80.9 613.4,79.7 613.5,78.5 613.5,77.3 613.5,76.1 613.5,74.9 613.5,73.7 613.5,72.5 613.5,71.3 613.5,70.1 613.5,68.9" fill="#40C8E4" fill-opacity="0.88" stroke="#1CBEE0" stroke-width="1.1"/>
<circle cx="609.7" cy="102.5" r="0.6" fill="#6BD4EA"/>
<circle cx="614.9" cy="76.7" r="0.6" fill="#6BD4EA"/>
<circle cx="617.5" cy="113.6" r="0.6" fill="#6BD4EA"/>
<circle cx="617.3" cy="106.1" r="0.6" fill="#6BD4EA"/>
<circle cx="613.4" cy="128" r="0.6" fill="#6BD4EA"/>
<circle cx="614.9" cy="88.3" r="0.6" fill="#6BD4EA"/>
<circle cx="616.6" cy="118.5" r="0.6" fill="#6BD4EA"/>
<circle cx="610.3" cy="107.9" r="0.6" fill="#6BD4EA"/>
<circle cx="613.1" cy="129.9" r="0.6" fill="#6BD4EA"/>
<circle cx="612.7" cy="104.7" r="0.6" fill="#6BD4EA"/>
<circle cx="617.6" cy="111.6" r="0.6" fill="#6BD4EA"/>
<circle cx="609.8" cy="118.8" r="0.6" fill="#6BD4EA"/>
<circle cx="615.6" cy="127.1" r="0.6" fill="#6BD4EA"/>
<circle cx="616.4" cy="119.7" r="0.6" fill="#6BD4EA"/>
<circle cx="613.6" cy="117.4" r="0.6" fill="#6BD4EA"/>
<circle cx="614.2" cy="89.8" r="0.6" fill="#6BD4EA"/>
<circle cx="613.4" cy="103.8" r="0.6" fill="#6BD4EA"/>
<circle cx="611.2" cy="116.4" r="0.6" fill="#6BD4EA"/>
<circle cx="611.7" cy="118.7" r="0.6" fill="#6BD4EA"/>
<circle cx="612.2" cy="96.1" r="0.6" fill="#6BD4EA"/>
<circle cx="610.8" cy="120.1" r="0.6" fill="#6BD4EA"/>
<circle cx="617.1" cy="120.8" r="0.6" fill="#6BD4EA"/>
<circle cx="615.1" cy="138.2" r="0.6" fill="#6BD4EA"/>
<circle cx="614.7" cy="103.1" r="0.6" fill="#6BD4EA"/>
<circle cx="615.2" cy="95.6" r="0.6" fill="#6BD4EA"/>
<circle cx="611.5" cy="115.9" r="0.6" fill="#6BD4EA"/>
<circle cx="615.2" cy="94.9" r="0.6" fill="#6BD4EA"/>
<circle cx="618.2" cy="108.8" r="0.6" fill="#6BD4EA"/>
<circle cx="615.1" cy="106.3" r="0.6" fill="#6BD4EA"/>
<circle cx="616.4" cy="103.6" r="0.6" fill="#6BD4EA"/>
<circle cx="610.1" cy="105.3" r="0.6" fill="#6BD4EA"/>
<circle cx="614.6" cy="109.8" r="0.6" fill="#6BD4EA"/>
<circle cx="616.6" cy="107.3" r="0.6" fill="#6BD4EA"/>
<circle cx="614.4" cy="92.3" r="0.6" fill="#6BD4EA"/>
<circle cx="617.6" cy="116.3" r="0.6" fill="#6BD4EA"/>
<circle cx="616.3" cy="100.9" r="0.6" fill="#6BD4EA"/>
<circle cx="612.3" cy="120.1" r="0.6" fill="#6BD4EA"/>
<circle cx="616.9" cy="119" r="0.6" fill="#6BD4EA"/>
<circle cx="616.7" cy="107.2" r="0.6" fill="#6BD4EA"/>
<circle cx="612.2" cy="106.5" r="0.6" fill="#6BD4EA"/>
<circle cx="610.5" cy="119.9" r="0.6" fill="#6BD4EA"/>
<circle cx="612.7" cy="101.1" r="0.6" fill="#6BD4EA"/>
<circle cx="614.4" cy="94.2" r="0.6" fill="#6BD4EA"/>
<circle cx="610.1" cy="115.4" r="0.6" fill="#6BD4EA"/>
<circle cx="619.5" cy="110.5" r="0.6" fill="#6BD4EA"/>
<circle cx="614" cy="116" r="0.6" fill="#6BD4EA"/>
<circle cx="615.3" cy="108.9" r="0.6" fill="#6BD4EA"/>
<circle cx="609.8" cy="121" r="0.6" fill="#6BD4EA"/>
<circle cx="614.4" cy="124.6" r="0.6" fill="#6BD4EA"/>
<circle cx="615" cy="131.8" r="0.6" fill="#6BD4EA"/>
<circle cx="616.6" cy="119.7" r="0.6" fill="#6BD4EA"/>
<circle cx="616.7" cy="99.2" r="0.6" fill="#6BD4EA"/>
<circle cx="616.5" cy="120.7" r="0.6" fill="#6BD4EA"/>
<circle cx="611.6" cy="93.1" r="0.6" fill="#6BD4EA"/>
<circle cx="614.7" cy="119" r="0.6" fill="#6BD4EA"/>
<circle cx="614.7" cy="131.4" r="0.6" fill="#6BD4EA"/>
<circle cx="612.3" cy="106.7" r="0.6" fill="#6BD4EA"/>
<circle cx="611" cy="113.9" r="0.6" fill="#6BD4EA"/>
<circle cx="616.8" cy="105.1" r="0.6" fill="#6BD4EA"/>
<circle cx="614.5" cy="100.7" r="0.6" fill="#6BD4EA"/>
<circle cx="616.4" cy="93.7" r="0.6" fill="#6BD4EA"/>
<circle cx="613.1" cy="125.8" r="0.6" fill="#6BD4EA"/>
<circle cx="612.5" cy="122.7" r="0.6" fill="#6BD4EA"/>
<circle cx="613.6" cy="125.8" r="0.6" fill="#6BD4EA"/>
<circle cx="617" cy="99.4" r="0.6" fill="#6BD4EA"/>
<circle cx="613.6" cy="136.2" r="0.6" fill="#6BD4EA"/>
<circle cx="615.2" cy="132.9" r="0.6" fill="#6BD4EA"/>
<polygon points="630.2,47.7 630.2,49.3 630.2,50.8 630.2,52.4 630.2,53.9 630.2,55.5 630.2,57 630.2,58.6 630.2,60.1 630.2,61.7 630.2,63.2 630.2,64.8 630.2,66.3 630.2,67.9 630.2,69.4 630.2,71 630.2,72.6 630.4,74.1 630.5,75.7 630.7,77.2 630.9,78.8 631.2,80.3 631.4,81.9 631.7,83.4 632,85 632.3,86.5 632.6,88.1 633,89.6 633.3,91.2 633.7,92.7 634,94.3 634.4,95.9 634.7,97.4 635,99 635.2,100.5 635.4,102.1 635.6,103.6 635.7,105.2 635.8,106.7 635.9,108.3 635.8,109.8 635.8,111.4 635.6,112.9 635.5,114.5 635.3,116 635,117.6 634.7,119.2 634.4,120.7 634.1,122.3 633.7,123.8 633.4,125.4 633,126.9 632.7,128.5 632.4,130 632,131.6 631.7,133.1 631.5,134.7 631.2,136.2 631,137.8 630.8,139.3 630.6,140.9 628.6,140.9 628.4,139.3 628.2,137.8 627.9,136.2 627.7,134.7 627.4,133.1 627.1,131.6 626.8,130 626.4,128.5 626.1,126.9 625.7,125.4 625.4,123.8 625,122.3 624.7,120.7 624.4,119.2 624.1,117.6 623.9,116 623.7,114.5 623.5,112.9 623.4,111.4 623.3,109.8 623.3,108.3 623.3,106.7 623.4,105.2 623.5,103.6 623.7,102.1 623.9,100.5 624.2,99 624.5,97.4 624.8,95.9 625.1,94.3 625.4,92.7 625.8,91.2 626.1,89.6 626.5,88.1 626.8,86.5 627.1,85 627.4,83.4 627.7,81.9 628,80.3 628.2,78.8 628.4,77.2 628.6,75.7 628.7,74.1 628.9,72.6 628.9,71 628.9,69.4 628.9,67.9 628.9,66.3 628.9,64.8 628.9,63.2 628.9,61.7 628.9,60.1 628.9,58.6 628.9,57 628.9,55.5 628.9,53.9 628.9,52.4 628.9,50.8 628.9,49.3 628.9,47.7" fill="#59A8E1" fill-opacity="0.88" stroke="#3A98DC" stroke-width="1.1"/>
<circle cx="634.6" cy="108.9" r="0.6" fill="#7EBCE8"/>
<circle cx="630.2" cy="132.8" r="0.6" fill="#7EBCE8"/>
<circle cx="627" cy="92.6" r="0.6" fill="#7EBCE8"/>
<circle cx="634.9" cy="110.1" r="0.6" fill="#7EBCE8"/>
<circle cx="630.6" cy="108.8" r="0.6" fill="#7EBCE8"/>
<circle cx="631.2" cy="94.4" r="0.6" fill="#7EBCE8"/>
<circle cx="628" cy="120.9" r="0.6" fill="#7EBCE8"/>
<circle cx="626.6" cy="100.1" r="0.6" fill="#7EBCE8"/>
<circle cx="629.9" cy="73.2" r="0.6" fill="#7EBCE8"/>
<circle cx="627.9" cy="86.1" r="0.6" fill="#7EBCE8"/>
<circle cx="626.1" cy="103.3" r="0.6" fill="#7EBCE8"/>
<circle cx="629.5" cy="113.7" r="0.6" fill="#7EBCE8"/>
<circle cx="627.1" cy="116.8" r="0.6" fill="#7EBCE8"/>
<circle cx="628.9" cy="120.4" r="0.6" fill="#7EBCE8"/>
<circle cx="630.6" cy="116.7" r="0.6" fill="#7EBCE8"/>
<circle cx="628.7" cy="97.7" r="0.6" fill="#7EBCE8"/>
<circle cx="632.5" cy="104.4" r="0.6" fill="#7EBCE8"/>
<circle cx="632" cy="123.4" r="0.6" fill="#7EBCE8"/>
<circle cx="631.9" cy="104.1" r="0.6" fill="#7EBCE8"/>
<circle cx="629.3" cy="69.9" r="0.6" fill="#7EBCE8"/>
<circle cx="630.7" cy="110.8" r="0.6" fill="#7EBCE8"/>
<circle cx="630.7" cy="132.2" r="0.6" fill="#7EBCE8"/>
<circle cx="630.9" cy="135.8" r="0.6" fill="#7EBCE8"/>
<circle cx="630.6" cy="90.1" r="0.6" fill="#7EBCE8"/>
<circle cx="629.5" cy="94.8" r="0.6" fill="#7EBCE8"/>
<circle cx="630.2" cy="78.2" r="0.6" fill="#7EBCE8"/>
<circle cx="628.5" cy="124.1" r="0.6" fill="#7EBCE8"/>
<circle cx="628.7" cy="92.8" r="0.6" fill="#7EBCE8"/>
<circle cx="629.5" cy="90.3" r="0.6" fill="#7EBCE8"/>
<circle cx="628.8" cy="92.9" r="0.6" fill="#7EBCE8"/>
<circle cx="634.2" cy="106.3" r="0.6" fill="#7EBCE8"/>
<circle cx="630.8" cy="80.4" r="0.6" fill="#7EBCE8"/>
<circle cx="631" cy="127" r="0.6" fill="#7EBCE8"/>
<circle cx="629.9" cy="110" r="0.6" fill="#7EBCE8"/>
<circle cx="628.5" cy="97.9" r="0.6" fill="#7EBCE8"/>
<circle cx="632.9" cy="98.8" r="0.6" fill="#7EBCE8"/>
<circle cx="632.1" cy="90.2" r="0.6" fill="#7EBCE8"/>
<circle cx="630.2" cy="75.2" r="0.6" fill="#7EBCE8"/>
<circle cx="630.7" cy="135.6" r="0.6" fill="#7EBCE8"/>
<circle cx="630.4" cy="77.6" r="0.6" fill="#7EBCE8"/>
<circle cx="629.2" cy="92.2" r="0.6" fill="#7EBCE8"/>
<circle cx="632" cy="118.1" r="0.6" fill="#7EBCE8"/>
<circle cx="629.4" cy="135.7" r="0.6" fill="#7EBCE8"/>
<circle cx="625.2" cy="104.6" r="0.6" fill="#7EBCE8"/>
<circle cx="625.9" cy="113" r="0.6" fill="#7EBCE8"/>
<circle cx="624.4" cy="113.5" r="0.6" fill="#7EBCE8"/>
<circle cx="633.2" cy="95.7" r="0.6" fill="#7EBCE8"/>
<circle cx="626.4" cy="117.8" r="0.6" fill="#7EBCE8"/>
<circle cx="631.6" cy="130.1" r="0.6" fill="#7EBCE8"/>
<circle cx="628.9" cy="85.5" r="0.6" fill="#7EBCE8"/>
<circle cx="628.5" cy="106.6" r="0.6" fill="#7EBCE8"/>
<circle cx="634.6" cy="106.7" r="0.6" fill="#7EBCE8"/>
<circle cx="633" cy="116.8" r="0.6" fill="#7EBCE8"/>
<circle cx="630.9" cy="115.2" r="0.6" fill="#7EBCE8"/>
<circle cx="625.3" cy="100.5" r="0.6" fill="#7EBCE8"/>
<circle cx="630.7" cy="106.9" r="0.6" fill="#7EBCE8"/>
<circle cx="626.2" cy="101.5" r="0.6" fill="#7EBCE8"/>
<circle cx="628.8" cy="103" r="0.6" fill="#7EBCE8"/>
<circle cx="628.7" cy="136.6" r="0.6" fill="#7EBCE8"/>
<circle cx="632.1" cy="92.8" r="0.6" fill="#7EBCE8"/>
<circle cx="631.1" cy="118.6" r="0.6" fill="#7EBCE8"/>
<circle cx="627.8" cy="98.6" r="0.6" fill="#7EBCE8"/>
<circle cx="627.6" cy="128.6" r="0.6" fill="#7EBCE8"/>
<circle cx="632.9" cy="111.8" r="0.6" fill="#7EBCE8"/>
<circle cx="628.6" cy="104.2" r="0.6" fill="#7EBCE8"/>
<circle cx="626.1" cy="95.4" r="0.6" fill="#7EBCE8"/>
<circle cx="631.9" cy="92.8" r="0.6" fill="#7EBCE8"/>
<circle cx="632.2" cy="128" r="0.6" fill="#7EBCE8"/>
<polygon points="645.9,91.4 646.1,92.4 646.2,93.4 646.3,94.3 646.5,95.3 646.7,96.3 646.9,97.3 647.1,98.3 647.3,99.2 647.5,100.2 647.7,101.2 647.9,102.2 648.2,103.2 648.4,104.1 648.6,105.1 648.9,106.1 649.1,107.1 649.4,108.1 649.6,109 649.8,110 650.1,111 650.3,112 650.5,113 650.6,113.9 650.8,114.9 651,115.9 651.1,116.9 651.2,117.9 651.3,118.8 651.3,119.8 651.3,120.8 651.3,121.8 651.3,122.8 651.3,123.7 651.2,124.7 651.1,125.7 650.9,126.7 650.8,127.7 650.6,128.6 650.4,129.6 650.2,130.6 650,131.6 649.8,132.6 649.5,133.5 649.3,134.5 649,135.5 648.8,136.5 648.5,137.5 648.3,138.4 648,139.4 647.8,140.4 647.5,141.4 647.3,142.4 647.1,143.3 646.9,144.3 646.7,145.3 646.5,146.3 646.3,147.3 646.2,148.2 646,149.2 645.9,150.2 644,150.2 643.8,149.2 643.7,148.2 643.5,147.3 643.4,146.3 643.2,145.3 643,144.3 642.8,143.3 642.6,142.4 642.4,141.4 642.1,140.4 641.9,139.4 641.6,138.4 641.4,137.5 641.1,136.5 640.9,135.5 640.6,134.5 640.4,133.5 640.1,132.6 639.9,131.6 639.7,130.6 639.4,129.6 639.3,128.6 639.1,127.7 638.9,126.7 638.8,125.7 638.7,124.7 638.6,123.7 638.6,122.8 638.5,121.8 638.5,120.8 638.6,119.8 638.6,118.8 638.7,117.9 638.8,116.9 638.9,115.9 639.1,114.9 639.2,113.9 639.4,113 639.6,112 639.8,111 640,110 640.3,109 640.5,108.1 640.8,107.1 641,106.1 641.2,105.1 641.5,104.1 641.7,103.2 642,102.2 642.2,101.2 642.4,100.2 642.6,99.2 642.8,98.3 643,97.3 643.2,96.3 643.4,95.3 643.5,94.3 643.7,93.4 643.8,92.4 643.9,91.4" fill="#9E94D0" fill-opacity="0.88" stroke="#8C80C8" stroke-width="1.1"/>
<circle cx="646.5" cy="142.1" r="0.6" fill="#B4ACDB"/>
<circle cx="644.5" cy="143.6" r="0.6" fill="#B4ACDB"/>
<circle cx="640.4" cy="119.6" r="0.6" fill="#B4ACDB"/>
<circle cx="642.6" cy="132.2" r="0.6" fill="#B4ACDB"/>
<circle cx="642.2" cy="131" r="0.6" fill="#B4ACDB"/>
<circle cx="647.9" cy="135.3" r="0.6" fill="#B4ACDB"/>
<circle cx="648.8" cy="133.1" r="0.6" fill="#B4ACDB"/>
<circle cx="643.9" cy="130.1" r="0.6" fill="#B4ACDB"/>
<circle cx="645.8" cy="103.8" r="0.6" fill="#B4ACDB"/>
<circle cx="642.5" cy="103.2" r="0.6" fill="#B4ACDB"/>
<circle cx="644.4" cy="116.3" r="0.6" fill="#B4ACDB"/>
<circle cx="644.7" cy="91.5" r="0.6" fill="#B4ACDB"/>
<circle cx="649.1" cy="112.9" r="0.6" fill="#B4ACDB"/>
<circle cx="644.8" cy="129.8" r="0.6" fill="#B4ACDB"/>
<circle cx="646" cy="148" r="0.6" fill="#B4ACDB"/>
<circle cx="646.9" cy="140.1" r="0.6" fill="#B4ACDB"/>
<circle cx="649" cy="117.9" r="0.6" fill="#B4ACDB"/>
<circle cx="648.3" cy="134.3" r="0.6" fill="#B4ACDB"/>
<circle cx="642.7" cy="132.3" r="0.6" fill="#B4ACDB"/>
<circle cx="644.3" cy="99.8" r="0.6" fill="#B4ACDB"/>
<circle cx="647.5" cy="130.1" r="0.6" fill="#B4ACDB"/>
<circle cx="645.4" cy="130.6" r="0.6" fill="#B4ACDB"/>
<circle cx="642.9" cy="141.7" r="0.6" fill="#B4ACDB"/>
<circle cx="648.3" cy="128.9" r="0.6" fill="#B4ACDB"/>
<circle cx="644.3" cy="93.2" r="0.6" fill="#B4ACDB"/>
<circle cx="647.1" cy="112.1" r="0.6" fill="#B4ACDB"/>
<circle cx="646.2" cy="119.6" r="0.6" fill="#B4ACDB"/>
<circle cx="642.5" cy="128.3" r="0.6" fill="#B4ACDB"/>
<circle cx="640.6" cy="115.8" r="0.6" fill="#B4ACDB"/>
<circle cx="643.5" cy="142.7" r="0.6" fill="#B4ACDB"/>
<circle cx="647" cy="110.8" r="0.6" fill="#B4ACDB"/>
<circle cx="646.8" cy="105.6" r="0.6" fill="#B4ACDB"/>
<circle cx="647.3" cy="127" r="0.6" fill="#B4ACDB"/>
<circle cx="644.1" cy="107.7" r="0.6" fill="#B4ACDB"/>
<circle cx="643.7" cy="122.7" r="0.6" fill="#B4ACDB"/>
<circle cx="645.6" cy="125.4" r="0.6" fill="#B4ACDB"/>
<circle cx="649.1" cy="130.7" r="0.6" fill="#B4ACDB"/>
<circle cx="641.6" cy="106.8" r="0.6" fill="#B4ACDB"/>
<circle cx="648.9" cy="113" r="0.6" fill="#B4ACDB"/>
<circle cx="647.2" cy="115.7" r="0.6" fill="#B4ACDB"/>
<circle cx="647.8" cy="134" r="0.6" fill="#B4ACDB"/>
<circle cx="642" cy="126.3" r="0.6" fill="#B4ACDB"/>
<circle cx="650.1" cy="125.5" r="0.6" fill="#B4ACDB"/>
<circle cx="646.4" cy="113.7" r="0.6" fill="#B4ACDB"/>
<circle cx="645" cy="120.7" r="0.6" fill="#B4ACDB"/>
<circle cx="643.6" cy="126.2" r="0.6" fill="#B4ACDB"/>
<circle cx="649.9" cy="125.2" r="0.6" fill="#B4ACDB"/>
<circle cx="644.5" cy="143.8" r="0.6" fill="#B4ACDB"/>
<circle cx="646.1" cy="118" r="0.6" fill="#B4ACDB"/>
<circle cx="641.6" cy="128.2" r="0.6" fill="#B4ACDB"/>
<circle cx="643.2" cy="143.4" r="0.6" fill="#B4ACDB"/>
<circle cx="646.1" cy="114.2" r="0.6" fill="#B4ACDB"/>
<circle cx="645.3" cy="97.5" r="0.6" fill="#B4ACDB"/>
<circle cx="640.9" cy="125.5" r="0.6" fill="#B4ACDB"/>
<circle cx="643.5" cy="98.1" r="0.6" fill="#B4ACDB"/>
<circle cx="648.9" cy="124.5" r="0.6" fill="#B4ACDB"/>
<circle cx="640.4" cy="118.9" r="0.6" fill="#B4ACDB"/>
<circle cx="644.1" cy="110.9" r="0.6" fill="#B4ACDB"/>
<circle cx="642.5" cy="105.3" r="0.6" fill="#B4ACDB"/>
<circle cx="645.5" cy="104.6" r="0.6" fill="#B4ACDB"/>
<circle cx="645" cy="111.7" r="0.6" fill="#B4ACDB"/>
<circle cx="646.3" cy="118.2" r="0.6" fill="#B4ACDB"/>
<circle cx="640.3" cy="120.4" r="0.6" fill="#B4ACDB"/>
<circle cx="646.9" cy="113.4" r="0.6" fill="#B4ACDB"/>
<circle cx="646.5" cy="142.5" r="0.6" fill="#B4ACDB"/>
<circle cx="643.6" cy="119.7" r="0.6" fill="#B4ACDB"/>
<polygon points="661,78.1 661,79.5 661,80.8 661,82.2 661,83.6 661,84.9 661,86.3 661,87.6 661,89 661,90.4 661,91.7 661,93.1 661,94.5 661.1,95.8 661.3,97.2 661.5,98.5 661.7,99.9 661.9,101.3 662.2,102.6 662.4,104 662.7,105.4 663,106.7 663.4,108.1 663.7,109.5 664.1,110.8 664.4,112.2 664.8,113.5 665.1,114.9 665.5,116.3 665.8,117.6 666.1,119 666.4,120.4 666.6,121.7 666.8,123.1 667,124.5 667.1,125.8 667.1,127.2 667.1,128.5 667,129.9 666.8,131.3 666.4,132.6 666.1,134 665.6,135.4 665.1,136.7 664.6,138.1 664,139.4 663.5,140.8 663,142.2 662.6,143.5 662.2,144.9 661.8,146.3 661.5,147.6 661.2,149 661,150.4 661,151.7 661,153.1 661,154.4 661,155.8 661,157.2 661,158.5 661,159.9 659.7,159.9 659.7,158.5 659.7,157.2 659.7,155.8 659.7,154.4 659.7,153.1 659.7,151.7 659.6,150.4 659.4,149 659.1,147.6 658.8,146.3 658.5,144.9 658.1,143.5 657.6,142.2 657.1,140.8 656.6,139.4 656.1,138.1 655.5,136.7 655,135.4 654.6,134 654.2,132.6 653.9,131.3 653.7,129.9 653.5,128.5 653.5,127.2 653.6,125.8 653.7,124.5 653.8,123.1 654,121.7 654.3,120.4 654.5,119 654.8,117.6 655.2,116.3 655.5,114.9 655.9,113.5 656.2,112.2 656.6,110.8 656.9,109.5 657.3,108.1 657.6,106.7 657.9,105.4 658.2,104 658.5,102.6 658.7,101.3 659,99.9 659.2,98.5 659.3,97.2 659.5,95.8 659.6,94.5 659.7,93.1 659.7,91.7 659.7,90.4 659.7,89 659.7,87.6 659.7,86.3 659.7,84.9 659.7,83.6 659.7,82.2 659.7,80.8 659.7,79.5 659.7,78.1" fill="#BC81C3" fill-opacity="0.88" stroke="#B06AB8" stroke-width="1.1"/>
<circle cx="660.9" cy="124.9" r="0.6" fill="#CB9ED0"/>
<circle cx="658.7" cy="143.3" r="0.6" fill="#CB9ED0"/>
<circle cx="660.4" cy="92.2" r="0.6" fill="#CB9ED0"/>
<circle cx="660.5" cy="127.3" r="0.6" fill="#CB9ED0"/>
<circle cx="657.9" cy="131.7" r="0.6" fill="#CB9ED0"/>
<circle cx="662.8" cy="112.7" r="0.6" fill="#CB9ED0"/>
<circle cx="662" cy="142.7" r="0.6" fill="#CB9ED0"/>
<circle cx="660.4" cy="153.7" r="0.6" fill="#CB9ED0"/>
<circle cx="656.7" cy="122.6" r="0.6" fill="#CB9ED0"/>
<circle cx="663.5" cy="127.3" r="0.6" fill="#CB9ED0"/>
<circle cx="656.2" cy="125.2" r="0.6" fill="#CB9ED0"/>
<circle cx="661.5" cy="108.1" r="0.6" fill="#CB9ED0"/>
<circle cx="660.6" cy="156.6" r="0.6" fill="#CB9ED0"/>
<circle cx="659.7" cy="125.9" r="0.6" fill="#CB9ED0"/>
<circle cx="655.6" cy="120.5" r="0.6" fill="#CB9ED0"/>
<circle cx="665.4" cy="131.6" r="0.6" fill="#CB9ED0"/>
<circle cx="660.2" cy="116.5" r="0.6" fill="#CB9ED0"/>
<circle cx="664.4" cy="136.3" r="0.6" fill="#CB9ED0"/>
<circle cx="661" cy="146.5" r="0.6" fill="#CB9ED0"/>
<circle cx="660.6" cy="116.6" r="0.6" fill="#CB9ED0"/>
<circle cx="661.5" cy="112.7" r="0.6" fill="#CB9ED0"/>
<circle cx="658.1" cy="107.4" r="0.6" fill="#CB9ED0"/>
<circle cx="661.3" cy="109.3" r="0.6" fill="#CB9ED0"/>
<circle cx="665" cy="131.9" r="0.6" fill="#CB9ED0"/>
<circle cx="660.1" cy="130.8" r="0.6" fill="#CB9ED0"/>
<circle cx="662.4" cy="113.3" r="0.6" fill="#CB9ED0"/>
<circle cx="659.1" cy="128.4" r="0.6" fill="#CB9ED0"/>
<circle cx="661.2" cy="114.3" r="0.6" fill="#CB9ED0"/>
<circle cx="661.9" cy="106.7" r="0.6" fill="#CB9ED0"/>
<circle cx="659.4" cy="128.5" r="0.6" fill="#CB9ED0"/>
<circle cx="663.5" cy="119.4" r="0.6" fill="#CB9ED0"/>
<circle cx="662.5" cy="123.3" r="0.6" fill="#CB9ED0"/>
<circle cx="656.5" cy="117.6" r="0.6" fill="#CB9ED0"/>
<circle cx="657.8" cy="119.9" r="0.6" fill="#CB9ED0"/>
<circle cx="661.2" cy="125.9" r="0.6" fill="#CB9ED0"/>
<circle cx="660.9" cy="152.1" r="0.6" fill="#CB9ED0"/>
<circle cx="657.8" cy="138" r="0.6" fill="#CB9ED0"/>
<circle cx="662.8" cy="123" r="0.6" fill="#CB9ED0"/>
<circle cx="660.1" cy="103.7" r="0.6" fill="#CB9ED0"/>
<circle cx="658.6" cy="139.6" r="0.6" fill="#CB9ED0"/>
<circle cx="660.8" cy="149.9" r="0.6" fill="#CB9ED0"/>
<circle cx="662.4" cy="119.7" r="0.6" fill="#CB9ED0"/>
<circle cx="659.7" cy="155.6" r="0.6" fill="#CB9ED0"/>
<circle cx="656.2" cy="119" r="0.6" fill="#CB9ED0"/>
<circle cx="660.3" cy="150.5" r="0.6" fill="#CB9ED0"/>
<circle cx="662.4" cy="133.8" r="0.6" fill="#CB9ED0"/>
<circle cx="663.8" cy="135.1" r="0.6" fill="#CB9ED0"/>
<circle cx="661.6" cy="132.9" r="0.6" fill="#CB9ED0"/>
<circle cx="663.5" cy="131.9" r="0.6" fill="#CB9ED0"/>
<circle cx="663.7" cy="133.7" r="0.6" fill="#CB9ED0"/>
<circle cx="659.7" cy="157.8" r="0.6" fill="#CB9ED0"/>
<circle cx="660.2" cy="153.9" r="0.6" fill="#CB9ED0"/>
<circle cx="662.5" cy="109.2" r="0.6" fill="#CB9ED0"/>
<circle cx="657.5" cy="109.6" r="0.6" fill="#CB9ED0"/>
<circle cx="655.4" cy="127.7" r="0.6" fill="#CB9ED0"/>
<circle cx="661.8" cy="135.6" r="0.6" fill="#CB9ED0"/>
<circle cx="661.7" cy="137.1" r="0.6" fill="#CB9ED0"/>
<circle cx="662.1" cy="139.4" r="0.6" fill="#CB9ED0"/>
<circle cx="661" cy="106.6" r="0.6" fill="#CB9ED0"/>
<circle cx="657.4" cy="122.6" r="0.6" fill="#CB9ED0"/>
<circle cx="657.9" cy="133.6" r="0.6" fill="#CB9ED0"/>
<circle cx="658.3" cy="131.8" r="0.6" fill="#CB9ED0"/>
<circle cx="662.3" cy="125.2" r="0.6" fill="#CB9ED0"/>
<circle cx="661.6" cy="134" r="0.6" fill="#CB9ED0"/>
<circle cx="661.8" cy="143.2" r="0.6" fill="#CB9ED0"/>
<circle cx="657.6" cy="113.2" r="0.6" fill="#CB9ED0"/>
<circle cx="659.1" cy="120.9" r="0.6" fill="#CB9ED0"/>
<circle cx="657" cy="135.9" r="0.6" fill="#CB9ED0"/>
<polygon points="676.4,73.9 676.4,75.2 676.4,76.4 676.5,77.7 676.6,79 676.7,80.3 676.8,81.5 677,82.8 677.1,84.1 677.3,85.3 677.4,86.6 677.6,87.9 677.8,89.2 678,90.4 678.2,91.7 678.4,93 678.6,94.2 678.8,95.5 679,96.8 679.2,98.1 679.5,99.3 679.7,100.6 679.9,101.9 680.1,103.1 680.3,104.4 680.5,105.7 680.6,107 680.8,108.2 680.9,109.5 681,110.8 681.1,112 681.2,113.3 681.3,114.6 681.3,115.9 681.3,117.1 681.3,118.4 681.2,119.7 681.2,121 681.1,122.2 681,123.5 680.9,124.8 680.7,126 680.5,127.3 680.4,128.6 680.2,129.9 680,131.1 679.7,132.4 679.5,133.7 679.3,134.9 679.1,136.2 678.8,137.5 678.6,138.8 678.4,140 678.2,141.3 678,142.6 677.8,143.8 677.6,145.1 677.4,146.4 677.2,147.7 677.1,148.9 676.9,150.2 674.5,150.2 674.3,148.9 674.2,147.7 674,146.4 673.8,145.1 673.6,143.8 673.4,142.6 673.2,141.3 673,140 672.8,138.8 672.6,137.5 672.3,136.2 672.1,134.9 671.9,133.7 671.7,132.4 671.4,131.1 671.2,129.9 671,128.6 670.9,127.3 670.7,126 670.5,124.8 670.4,123.5 670.3,122.2 670.2,121 670.2,119.7 670.1,118.4 670.1,117.1 670.1,115.9 670.1,114.6 670.2,113.3 670.3,112 670.4,110.8 670.5,109.5 670.6,108.2 670.8,107 670.9,105.7 671.1,104.4 671.3,103.1 671.5,101.9 671.7,100.6 671.9,99.3 672.2,98.1 672.4,96.8 672.6,95.5 672.8,94.2 673,93 673.2,91.7 673.4,90.4 673.6,89.2 673.8,87.9 674,86.6 674.1,85.3 674.3,84.1 674.4,82.8 674.6,81.5 674.7,80.3 674.8,79 674.9,77.7 675,76.4 675.1,75.2 675.1,73.9" fill="#EB7CB5" fill-opacity="0.88" stroke="#E864A8" stroke-width="1.1"/>
<circle cx="677.5" cy="136.2" r="0.6" fill="#F09AC6"/>
<circle cx="673.5" cy="108.6" r="0.6" fill="#F09AC6"/>
<circle cx="676" cy="100.2" r="0.6" fill="#F09AC6"/>
<circle cx="671.7" cy="118.9" r="0.6" fill="#F09AC6"/>
<circle cx="672.5" cy="101" r="0.6" fill="#F09AC6"/>
<circle cx="678.4" cy="126.2" r="0.6" fill="#F09AC6"/>
<circle cx="676.8" cy="127.3" r="0.6" fill="#F09AC6"/>
<circle cx="676" cy="110.7" r="0.6" fill="#F09AC6"/>
<circle cx="676.4" cy="91.8" r="0.6" fill="#F09AC6"/>
<circle cx="674" cy="129.8" r="0.6" fill="#F09AC6"/>
<circle cx="679" cy="100.6" r="0.6" fill="#F09AC6"/>
<circle cx="678.2" cy="136.1" r="0.6" fill="#F09AC6"/>
<circle cx="679.5" cy="121" r="0.6" fill="#F09AC6"/>
<circle cx="678" cy="93.9" r="0.6" fill="#F09AC6"/>
<circle cx="675" cy="127.3" r="0.6" fill="#F09AC6"/>
<circle cx="673.4" cy="107.7" r="0.6" fill="#F09AC6"/>
<circle cx="675.7" cy="77.4" r="0.6" fill="#F09AC6"/>
<circle cx="674.4" cy="129.5" r="0.6" fill="#F09AC6"/>
<circle cx="678.6" cy="122.9" r="0.6" fill="#F09AC6"/>
<circle cx="679.5" cy="127" r="0.6" fill="#F09AC6"/>
<circle cx="673.5" cy="118.4" r="0.6" fill="#F09AC6"/>
<circle cx="672.3" cy="115.8" r="0.6" fill="#F09AC6"/>
<circle cx="675.6" cy="103.2" r="0.6" fill="#F09AC6"/>
<circle cx="675.2" cy="120.2" r="0.6" fill="#F09AC6"/>
<circle cx="675.7" cy="99.8" r="0.6" fill="#F09AC6"/>
<circle cx="672.9" cy="98.3" r="0.6" fill="#F09AC6"/>
<circle cx="677.6" cy="137.9" r="0.6" fill="#F09AC6"/>
<circle cx="674.1" cy="109.1" r="0.6" fill="#F09AC6"/>
<circle cx="679.3" cy="104.1" r="0.6" fill="#F09AC6"/>
<circle cx="679.8" cy="117.6" r="0.6" fill="#F09AC6"/>
<circle cx="672.6" cy="124.6" r="0.6" fill="#F09AC6"/>
<circle cx="679" cy="125.2" r="0.6" fill="#F09AC6"/>
<circle cx="676.8" cy="95.8" r="0.6" fill="#F09AC6"/>
<circle cx="674.3" cy="100.3" r="0.6" fill="#F09AC6"/>
<circle cx="673.4" cy="125" r="0.6" fill="#F09AC6"/>
<circle cx="676.5" cy="120.2" r="0.6" fill="#F09AC6"/>
<circle cx="673" cy="122.7" r="0.6" fill="#F09AC6"/>
<circle cx="671.1" cy="119.8" r="0.6" fill="#F09AC6"/>
<circle cx="672.6" cy="127.8" r="0.6" fill="#F09AC6"/>
<circle cx="674.1" cy="121" r="0.6" fill="#F09AC6"/>
<circle cx="672.8" cy="135.4" r="0.6" fill="#F09AC6"/>
<circle cx="673.9" cy="91.6" r="0.6" fill="#F09AC6"/>
<circle cx="675.3" cy="104.8" r="0.6" fill="#F09AC6"/>
<circle cx="675.9" cy="137.1" r="0.6" fill="#F09AC6"/>
<circle cx="673.4" cy="111.7" r="0.6" fill="#F09AC6"/>
<circle cx="675" cy="87.4" r="0.6" fill="#F09AC6"/>
<circle cx="677.3" cy="142.7" r="0.6" fill="#F09AC6"/>
<circle cx="679.8" cy="115.9" r="0.6" fill="#F09AC6"/>
<circle cx="677.6" cy="128.1" r="0.6" fill="#F09AC6"/>
<circle cx="674.9" cy="89.5" r="0.6" fill="#F09AC6"/>
<circle cx="672.9" cy="122.7" r="0.6" fill="#F09AC6"/>
<circle cx="674" cy="137.3" r="0.6" fill="#F09AC6"/>
<circle cx="671.7" cy="127.1" r="0.6" fill="#F09AC6"/>
<circle cx="672.6" cy="125.5" r="0.6" fill="#F09AC6"/>
<circle cx="677.7" cy="116.4" r="0.6" fill="#F09AC6"/>
<circle cx="677.6" cy="110.3" r="0.6" fill="#F09AC6"/>
<circle cx="676.5" cy="129" r="0.6" fill="#F09AC6"/>
<circle cx="678" cy="137.9" r="0.6" fill="#F09AC6"/>
<circle cx="671.9" cy="108.2" r="0.6" fill="#F09AC6"/>
<circle cx="672.8" cy="109.7" r="0.6" fill="#F09AC6"/>
<circle cx="677.1" cy="142.2" r="0.6" fill="#F09AC6"/>
<circle cx="674.6" cy="146.6" r="0.6" fill="#F09AC6"/>
<circle cx="673.2" cy="123.4" r="0.6" fill="#F09AC6"/>
<circle cx="675.2" cy="101.6" r="0.6" fill="#F09AC6"/>
<circle cx="678.2" cy="116.8" r="0.6" fill="#F09AC6"/>
<line x1="517.7" y1="123.2" x2="526.1" y2="123.2" stroke="#111" stroke-width="1.6" />
<line x1="533.1" y1="121.3" x2="541.5" y2="121.3" stroke="#111" stroke-width="1.6" />
<line x1="548.5" y1="119.4" x2="556.9" y2="119.4" stroke="#111" stroke-width="1.6" />
<line x1="563.8" y1="112.4" x2="572.2" y2="112.4" stroke="#111" stroke-width="1.6" />
<line x1="579.2" y1="120.6" x2="587.6" y2="120.6" stroke="#111" stroke-width="1.6" />
<line x1="594.6" y1="118.6" x2="603" y2="118.6" stroke="#111" stroke-width="1.6" />
<line x1="610" y1="111.4" x2="618.4" y2="111.4" stroke="#111" stroke-width="1.6" />
<line x1="625.4" y1="110.2" x2="633.8" y2="110.2" stroke="#111" stroke-width="1.6" />
<line x1="640.7" y1="121.2" x2="649.1" y2="121.2" stroke="#111" stroke-width="1.6" />
<line x1="656.1" y1="126.2" x2="664.5" y2="126.2" stroke="#111" stroke-width="1.6" />
<line x1="671.5" y1="119.5" x2="679.9" y2="119.5" stroke="#111" stroke-width="1.6" />
<line x1="512.4" y1="20.3" x2="512.4" y2="167" stroke="#444" stroke-width="1.2" />
<line x1="512" y1="167" x2="684.5" y2="167" stroke="#444" stroke-width="1.2" />
<line x1="510.1" y1="71" x2="512.4" y2="71" stroke="#111" stroke-width="1.3" />
<text x="508.5" y="74.8" font-size="11" text-anchor="end" font-weight="normal" font-style="normal" fill="#1a1a1a" >0.15</text>
<line x1="510.1" y1="126.6" x2="512.4" y2="126.6" stroke="#111" stroke-width="1.3" />
<text x="508.5" y="130.4" font-size="11" text-anchor="end" font-weight="normal" font-style="normal" fill="#1a1a1a" >0.10</text>
<line x1="521.9" y1="167" x2="521.9" y2="169.3" stroke="#111" stroke-width="1.3" />
<text x="521.9" y="178.2" font-size="11" text-anchor="middle" font-weight="normal" font-style="normal" fill="#1a1a1a" >0</text>
<line x1="537.3" y1="167" x2="537.3" y2="169.3" stroke="#111" stroke-width="1.3" />
<text x="537.3" y="178.2" font-size="11" text-anchor="middle" font-weight="normal" font-style="normal" fill="#1a1a1a" >1</text>
<line x1="552.7" y1="167" x2="552.7" y2="169.3" stroke="#111" stroke-width="1.3" />
<text x="552.7" y="178.2" font-size="11" text-anchor="middle" font-weight="normal" font-style="normal" fill="#1a1a1a" >2</text>
<line x1="568" y1="167" x2="568" y2="169.3" stroke="#111" stroke-width="1.3" />
<text x="568" y="178.2" font-size="11" text-anchor="middle" font-weight="normal" font-style="normal" fill="#1a1a1a" >3</text>
<line x1="583.4" y1="167" x2="583.4" y2="169.3" stroke="#111" stroke-width="1.3" />
<text x="583.4" y="178.2" font-size="11" text-anchor="middle" font-weight="normal" font-style="normal" fill="#1a1a1a" >4</text>
<line x1="598.8" y1="167" x2="598.8" y2="169.3" stroke="#111" stroke-width="1.3" />
<text x="598.8" y="178.2" font-size="11" text-anchor="middle" font-weight="normal" font-style="normal" fill="#1a1a1a" >5</text>
<line x1="614.2" y1="167" x2="614.2" y2="169.3" stroke="#111" stroke-width="1.3" />
<text x="614.2" y="178.2" font-size="11" text-anchor="middle" font-weight="normal" font-style="normal" fill="#1a1a1a" >6</text>
<line x1="629.6" y1="167" x2="629.6" y2="169.3" stroke="#111" stroke-width="1.3" />
<text x="629.6" y="178.2" font-size="11" text-anchor="middle" font-weight="normal" font-style="normal" fill="#1a1a1a" >7</text>
<line x1="644.9" y1="167" x2="644.9" y2="169.3" stroke="#111" stroke-width="1.3" />
<text x="644.9" y="178.2" font-size="11" text-anchor="middle" font-weight="normal" font-style="normal" fill="#1a1a1a" >8</text>
<line x1="660.3" y1="167" x2="660.3" y2="169.3" stroke="#111" stroke-width="1.3" />
<text x="660.3" y="178.2" font-size="11" text-anchor="middle" font-weight="normal" font-style="normal" fill="#1a1a1a" >9</text>
<line x1="675.7" y1="167" x2="675.7" y2="169.3" stroke="#111" stroke-width="1.3" />
<text x="675.7" y="178.2" font-size="11" text-anchor="middle" font-weight="normal" font-style="normal" fill="#1a1a1a" >10</text>
<text x="600" y="191" font-size="10.2" text-anchor="middle" font-weight="normal" font-style="normal" fill="#1a1a1a" >Cluster</text>
<text x="471.5" y="98" font-size="10.8" text-anchor="middle" font-weight="normal" font-style="normal" fill="#1a1a1a" transform="rotate(-90 471.5 98)">Expression induced</text>
<text x="484.5" y="96.5" font-size="10.8" text-anchor="middle" font-weight="normal" font-style="normal" fill="#1a1a1a" transform="rotate(-90 484.5 96.5)">osmoconsensus</text>
<text x="522" y="19.5" font-size="8.6" text-anchor="middle" font-weight="normal" font-style="normal" fill="#1a1a1a" >****</text>
<text x="537.8" y="19.5" font-size="8.6" text-anchor="middle" font-weight="normal" font-style="normal" fill="#1a1a1a" >****</text>
<text x="553.5" y="17.9" font-size="9.2" text-anchor="middle" font-weight="normal" font-style="normal" fill="#1a1a1a" >ns</text>
<text x="569.2" y="19.5" font-size="8.6" text-anchor="middle" font-weight="normal" font-style="normal" fill="#1a1a1a" >****</text>
<text x="585" y="19.5" font-size="8.6" text-anchor="middle" font-weight="normal" font-style="normal" fill="#1a1a1a" >*</text>
<text x="600.8" y="17.9" font-size="9.2" text-anchor="middle" font-weight="normal" font-style="normal" fill="#1a1a1a" >ns</text>
<text x="616.5" y="19.5" font-size="8.6" text-anchor="middle" font-weight="normal" font-style="normal" fill="#1a1a1a" >****</text>
<text x="632.2" y="19.5" font-size="8.6" text-anchor="middle" font-weight="normal" font-style="normal" fill="#1a1a1a" >****</text>
<text x="648" y="17.9" font-size="9.2" text-anchor="middle" font-weight="normal" font-style="normal" fill="#1a1a1a" >ns</text>
<text x="663.8" y="19.5" font-size="8.6" text-anchor="middle" font-weight="normal" font-style="normal" fill="#1a1a1a" >****</text>
<text x="679.5" y="17.9" font-size="9.2" text-anchor="middle" font-weight="normal" font-style="normal" fill="#1a1a1a" >ns</text>
<text x="-0.6" y="9.9" font-size="14.5" text-anchor="start" font-weight="bold" font-style="normal" fill="#000" >a</text>
<text x="218.3" y="9.9" font-size="14.5" text-anchor="start" font-weight="bold" font-style="normal" fill="#000" >b</text>
<text x="460.3" y="9.6" font-size="14.5" text-anchor="start" font-weight="bold" font-style="normal" fill="#000" >c</text>
<text x="-0.4" y="214.8" font-size="14.5" text-anchor="start" font-weight="bold" font-style="normal" fill="#000" >d</text>
<text x="218.2" y="216" font-size="14.5" text-anchor="start" font-weight="bold" font-style="normal" fill="#000" >e</text>
<text x="459.5" y="215.3" font-size="14.5" text-anchor="start" font-weight="bold" font-style="normal" fill="#000" >f</text>
<g fill="#BDBDBD">
<circle cx="92.6" cy="345" r="3.2"/>
<circle cx="86.3" cy="348.6" r="3.2"/>
<circle cx="89.4" cy="354" r="3.2"/>
<circle cx="91.2" cy="359.4" r="3.2"/>
<circle cx="85.8" cy="369.3" r="3.2"/>
<circle cx="89.4" cy="369.3" r="3.2"/>
<circle cx="93" cy="369.3" r="3.2"/>
<circle cx="95.7" cy="369.3" r="3.2"/>
<circle cx="87.5" cy="366" r="3.2"/>
<circle cx="98" cy="368" r="3.2"/>
<circle cx="122.7" cy="313.5" r="3.2"/>
<circle cx="123.3" cy="322.5" r="3.2"/>
<circle cx="120" cy="341.4" r="3.2"/>
<circle cx="122" cy="345" r="3.2"/>
<circle cx="118" cy="350" r="3.2"/>
<circle cx="121" cy="355" r="3.2"/>
<circle cx="116" cy="358" r="3.2"/>
<circle cx="120" cy="360" r="3.2"/>
<circle cx="124" cy="362" r="3.2"/>
<circle cx="114" cy="364" r="3.2"/>
<circle cx="118" cy="366" r="3.2"/>
<circle cx="122" cy="367" r="3.2"/>
<circle cx="112.8" cy="369" r="3.2"/>
<circle cx="116" cy="370" r="3.2"/>
<circle cx="120" cy="370" r="3.2"/>
<circle cx="124" cy="369" r="3.2"/>
<circle cx="113" cy="361" r="3.2"/>
<circle cx="115" cy="353" r="3.2"/>
<circle cx="119" cy="347" r="3.2"/>
<circle cx="123" cy="337" r="3.2"/>
<circle cx="121" cy="333" r="3.2"/>
<circle cx="117" cy="362" r="3.2"/>
<circle cx="111" cy="368" r="3.2"/>
<circle cx="125" cy="366" r="3.2"/>
</g>
<line x1="77.3" y1="344" x2="84.5" y2="338.4" stroke="#777" stroke-width="1"/>
<circle cx="72.2" cy="318.6" r="3.4" fill="#5F7BC9" fill-opacity="0.92"/>
<circle cx="72.7" cy="340.5" r="3.4" fill="#5F7BC9" fill-opacity="0.92"/>
<circle cx="79" cy="340.5" r="3.4" fill="#5F7BC9" fill-opacity="0.92"/>
<circle cx="73.3" cy="349" r="3.4" fill="#5F7BC9" fill-opacity="0.92"/>
<circle cx="78.2" cy="347.2" r="3.4" fill="#5F7BC9" fill-opacity="0.92"/>
<circle cx="80.9" cy="351.4" r="3.4" fill="#5F7BC9" fill-opacity="0.92"/>
<circle cx="76.4" cy="345" r="3.4" fill="#5F7BC9" fill-opacity="0.92"/>
<circle cx="75" cy="352" r="3.4" fill="#5F7BC9" fill-opacity="0.92"/>
<circle cx="154" cy="229.9" r="3.4" fill="#EE5A47" fill-opacity="0.92"/>
<circle cx="133.3" cy="255" r="3.4" fill="#EE5A47" fill-opacity="0.92"/>
<circle cx="131.3" cy="279.9" r="3.4" fill="#EE5A47" fill-opacity="0.92"/>
<circle cx="128.6" cy="298.5" r="3.4" fill="#EE5A47" fill-opacity="0.92"/>
<circle cx="131.7" cy="303.2" r="3.4" fill="#EE5A47" fill-opacity="0.92"/>
<circle cx="129.2" cy="311.3" r="3.4" fill="#EE5A47" fill-opacity="0.92"/>
<circle cx="130.2" cy="317" r="3.4" fill="#EE5A47" fill-opacity="0.92"/>
<circle cx="126.6" cy="332.5" r="3.4" fill="#EE5A47" fill-opacity="0.92"/>
<circle cx="128.6" cy="343.7" r="3.4" fill="#EE5A47" fill-opacity="0.92"/>
<circle cx="126.6" cy="354.4" r="3.4" fill="#EE5A47" fill-opacity="0.92"/>
<circle cx="130.2" cy="358.5" r="3.4" fill="#EE5A47" fill-opacity="0.92"/>
<circle cx="126.2" cy="365" r="3.4" fill="#EE5A47" fill-opacity="0.92"/>
<circle cx="127.5" cy="322" r="3.4" fill="#EE5A47" fill-opacity="0.92"/>
<line x1="87.2" y1="229.7" x2="87.2" y2="377" stroke="#111" stroke-width="1.7" stroke-dasharray="9 7.4 2.2 7.15"/>
<line x1="125.6" y1="229.7" x2="125.6" y2="377" stroke="#111" stroke-width="1.7" stroke-dasharray="9 7.4 2.2 7.15"/>
<line x1="34.3" y1="364.2" x2="180" y2="364.2" stroke="#111" stroke-width="1.7" stroke-dasharray="2.2 7.2 9.2 7.2"/>
<line x1="33.8" y1="223" x2="33.8" y2="377.5" stroke="#444" stroke-width="1.2" />
<line x1="33.3" y1="377.5" x2="179" y2="377.5" stroke="#444" stroke-width="1.2" />
<line x1="31.5" y1="229.3" x2="33.8" y2="229.3" stroke="#111" stroke-width="1.3" />
<text x="30" y="233.1" font-size="11" text-anchor="end" font-weight="normal" font-style="normal" fill="#1a1a1a" >30</text>
<line x1="31.5" y1="276.5" x2="33.8" y2="276.5" stroke="#111" stroke-width="1.3" />
<text x="30" y="280.3" font-size="11" text-anchor="end" font-weight="normal" font-style="normal" fill="#1a1a1a" >20</text>
<line x1="31.5" y1="323.4" x2="33.8" y2="323.4" stroke="#111" stroke-width="1.3" />
<text x="30" y="327.2" font-size="11" text-anchor="end" font-weight="normal" font-style="normal" fill="#1a1a1a" >10</text>
<line x1="31.5" y1="370.4" x2="33.8" y2="370.4" stroke="#111" stroke-width="1.3" />
<text x="30" y="374.2" font-size="11" text-anchor="end" font-weight="normal" font-style="normal" fill="#1a1a1a" >0</text>
<line x1="41.2" y1="377.5" x2="41.2" y2="379.8" stroke="#111" stroke-width="1.3" />
<text x="41.2" y="388.8" font-size="11" text-anchor="middle" font-weight="normal" font-style="normal" fill="#1a1a1a" >−2</text>
<line x1="73.9" y1="377.5" x2="73.9" y2="379.8" stroke="#111" stroke-width="1.3" />
<text x="73.9" y="388.8" font-size="11" text-anchor="middle" font-weight="normal" font-style="normal" fill="#1a1a1a" >−1</text>
<line x1="106.4" y1="377.5" x2="106.4" y2="379.8" stroke="#111" stroke-width="1.3" />
<text x="106.4" y="388.8" font-size="11" text-anchor="middle" font-weight="normal" font-style="normal" fill="#1a1a1a" >0</text>
<line x1="139.2" y1="377.5" x2="139.2" y2="379.8" stroke="#111" stroke-width="1.3" />
<text x="139.2" y="388.8" font-size="11" text-anchor="middle" font-weight="normal" font-style="normal" fill="#1a1a1a" >1</text>
<line x1="172" y1="377.5" x2="172" y2="379.8" stroke="#111" stroke-width="1.3" />
<text x="172" y="388.8" font-size="11" text-anchor="middle" font-weight="normal" font-style="normal" fill="#1a1a1a" >2</text>
<text x="106" y="403.6" font-size="11" text-anchor="middle" font-weight="normal" font-style="normal" fill="#1a1a1a" >log2(fold change)</text>
<text x="14.5" y="296" font-size="11" text-anchor="middle" font-weight="normal" font-style="normal" fill="#1a1a1a" transform="rotate(-90 14.5 296)">−log10 (adj. pval)</text>
<circle cx="43.4" cy="225.9" r="3.7" fill="#6381CC"/>
<text x="49.5" y="229.9" font-size="11" text-anchor="start" font-weight="normal" font-style="normal" fill="#1a1a1a" >Down</text>
<circle cx="43.4" cy="238.7" r="3.7" fill="#C0C0C0"/>
<text x="49.5" y="242.7" font-size="11" text-anchor="start" font-weight="normal" font-style="normal" fill="#1a1a1a" >Stable</text>
<circle cx="43.4" cy="251.8" r="3.7" fill="#F0604C"/>
<text x="49.5" y="255.8" font-size="11" text-anchor="start" font-weight="normal" font-style="normal" fill="#1a1a1a" >Up</text>
<text x="154.4" y="239.8" font-size="10.9" text-anchor="start" font-weight="normal" font-style="italic" fill="#E8453C" >YGP1</text>
<text x="131.1" y="248.9" font-size="10.9" text-anchor="start" font-weight="normal" font-style="italic" fill="#E8453C" >PNC1</text>
<text x="130" y="273.6" font-size="10.9" text-anchor="start" font-weight="normal" font-style="italic" fill="#E8453C" >LSP1</text>
<text x="129" y="296.7" font-size="10.9" text-anchor="start" font-weight="normal" font-style="italic" fill="#E8453C" >HOR7</text>
<text x="123" y="370.4" font-size="10.9" text-anchor="start" font-weight="normal" font-style="italic" fill="#E8453C" >YPL158C</text>
<text x="50.5" y="312.3" font-size="10.9" text-anchor="start" font-weight="normal" font-style="italic" fill="#5B78C8" >HTA2</text>
<text x="53.2" y="334.2" font-size="10.9" text-anchor="start" font-weight="normal" font-style="italic" fill="#5B78C8" >HHF1</text>
<text x="52.9" y="361.3" font-size="10.9" text-anchor="start" font-weight="normal" font-style="italic" fill="#5B78C8" >HTA1</text>
<text x="85.4" y="341" font-size="10.9" text-anchor="start" font-weight="normal" font-style="italic" fill="#5B78C8" >HHT1</text>
<text x="83" y="359.3" font-size="10.9" text-anchor="start" font-weight="normal" font-style="italic" fill="#5B78C8" >HTB1</text>
<polygon points="260.1,347.1 260.8,347.3 261.5,345.9 262.2,346.1 262.9,344.7 263.6,344.9 264.3,346.3 265,346.1 265.7,345.6 266.4,344.7 267.1,346.7 267.8,346.2 268.5,347 269.2,345.4 269.9,347.2 270.6,344.6 271.3,345.8 272,345.6 272.7,347 273.4,346.6 274.1,345.9 274.8,344.8 275.5,345.7 276.2,346.5 276.9,344.5 277.6,345.4 278.3,345.2 279,345 279.7,344.1 280.4,342.4 281.1,344.8 281.8,343.9 282.5,343.9 283.2,345 283.9,344.1 284.6,344.1 285.3,344.6 286,345.3 286.7,347.2 287.4,347.9 288.1,347 288.8,347.5 289.5,347.9 290.2,345.7 290.9,346.8 291.6,344 292.3,342.3 293,343.1 293.7,339.3 294.4,339.2 295.1,338.4 295.8,337.4 296.5,337.1 297.2,335.5 297.9,335.4 298.6,332.9 299.3,331.1 300,331 300.7,327.4 301.4,324.5 302.1,322 302.8,318.7 303.5,315.8 304.2,311.8 304.9,310.5 305.6,309.4 306.3,307.9 307,306.8 307.7,306.1 308.4,306.1 309.1,303.2 309.8,302.5 310.5,298.8 311.2,296.3 311.9,294.7 312.6,290.1 313.3,288.2 314,284.9 314.7,282.1 315.4,279.6 316.1,278.1 316.8,277.6 317.5,274.5 318.2,274 318.9,275.2 319.6,275.3 320.3,276.9 321,275.9 321.7,277.5 322.4,279.9 323.1,279.4 323.8,280.2 324.5,283.3 325.2,282.7 325.9,285.3 326.6,287.3 327.3,286.8 328,288.7 328.7,288.2 329.4,289 330.1,290.5 330.8,289.6 331.5,289.5 332.2,291.8 332.9,293.3 333.6,294.2 334.3,297.5 335,299.5 335.7,301.4 336.4,302.7 337.1,306.4 337.8,308.4 338.5,307.7 339.2,309.1 339.9,310.1 340.6,308.5 341.3,308.7 342,310.1 342.7,309.2 343.4,310.2 344.1,311.1 344.8,313.1 345.5,314.7 346.2,313.6 346.9,314.2 347.6,316.2 348.3,316.6 349,317.1 349.7,318.8 350.4,318.2 351.1,319.3 351.8,320.3 352.5,321.6 353.2,320.6 353.9,321.5 354.6,320.4 355.3,322 356,321.4 356.7,322.1 357.4,321.5 358.1,321.1 358.8,322.6 359.5,322.9 360.2,321.8 360.9,322.8 361.6,322 362.3,323.2 363,323.6 363.7,322.5 364.4,321.7 365.1,322 365.8,323.3 366.5,323.9 367.2,325.1 367.9,324.7 368.6,324.8 369.3,323.3 370,325.9 370.7,323.8 371.4,325.4 372.1,325.8 372.8,326.5 373.5,324.7 374.2,327.2 374.9,326.3 375.6,326.7 376.3,327.9 377,328 377.7,326 378.4,326.7 379.1,327.1 379.8,326.8 380.5,329.2 381.2,327.6 381.9,327.6 382.6,329.2 383.3,328.6 384,327.2 384.7,329.1 385.4,327.8 386.1,329.5 386.8,328.1 387.5,329.3 388.2,328.7 388.9,329.2 389.6,327.9 390.3,328.4 391,329.2 391.7,328.8 392.4,329.8 393.1,328.9 393.8,330.6 394.5,330 395.2,330.1 395.9,330.9 396.6,332.1 397.3,332 398,330.9 398.7,332.4 399.4,331.1 400.1,332.1 400.8,331 401.5,331.6 402.2,332.2 402.9,333.5 403.6,334.7 404.3,333.5 405,333.2 405.7,332.9 406.4,335.2 407.1,335.6 407.8,333.5 408.5,334.4 409.2,335.3 409.9,334.8 410.6,336.7 411.3,335.7 412,335.5 412.7,335.8 413.4,337.2 414.1,337.4 414.8,336.1 415.5,335.4 416.2,337.6 416.9,338 417.6,337.8 418.3,335.8 419,337 419.7,336.8 420.4,335.3 421.1,336.4 421.8,337.5 422.5,336.2 423.2,338.3 423.9,337.6 424.6,336.4 425.3,338 426,338.5 426.7,337.2 427.4,337.8 428.1,336.1 428.8,338.7 429.5,336.7 430.2,338 430.9,336.9 431.6,338.1 432.3,337.5 433,338.6 433.7,339 434.4,338.5 435.1,337.6 435.8,339 436.5,339.5 437.2,339.1 437.9,340.1 438.6,339.6 439.3,339 440,339.1 440.7,339.1 441.4,340.1 442.1,341 442.8,341.1 443.5,340.3 444.2,340.8 444.9,339.8 445.6,340.8 446.3,339.4 447,340 447.7,339.9 448.4,339.7 449.1,340.4 449.8,340.7 450.5,341.1 451.2,341.9 451.9,339.8 452.6,340.7 453.3,341.9 454,339.5 454.7,340.5 454.7,362.5 454,362.6 453.3,361.9 452.6,362.2 451.9,362.5 451.2,362.4 450.5,361.6 449.8,362.8 449.1,362.7 448.4,362.6 447.7,361.6 447,361.7 446.3,361.9 445.6,362.9 444.9,362 444.2,362.2 443.5,362.3 442.8,361.6 442.1,362.9 441.4,362.1 440.7,362.7 440,361.4 439.3,362.2 438.6,362.8 437.9,363.1 437.2,361.9 436.5,361.8 435.8,362 435.1,361.8 434.4,361.8 433.7,362.7 433,361.4 432.3,362.2 431.6,363 430.9,361.8 430.2,362.7 429.5,363 428.8,361.9 428.1,362.5 427.4,361.6 426.7,362.9 426,362.9 425.3,361.5 424.6,362.9 423.9,362.1 423.2,361.5 422.5,361.8 421.8,361.3 421.1,361.6 420.4,361.7 419.7,362.2 419,361.7 418.3,362.8 417.6,362.3 416.9,362.9 416.2,361.3 415.5,361.4 414.8,361.5 414.1,361.5 413.4,362 412.7,362.8 412,362.5 411.3,361.6 410.6,362.6 409.9,361.4 409.2,362.7 408.5,361.2 407.8,362.6 407.1,361.7 406.4,362.1 405.7,362.1 405,362 404.3,362.1 403.6,361.9 402.9,362.9 402.2,362.2 401.5,362.3 400.8,362.2 400.1,361.4 399.4,362 398.7,362.2 398,362 397.3,361.4 396.6,362.6 395.9,362.6 395.2,362 394.5,361.5 393.8,362.1 393.1,361.5 392.4,362 391.7,362.3 391,362.3 390.3,362.1 389.6,361.9 388.9,362.3 388.2,362.6 387.5,362.3 386.8,362.5 386.1,362.2 385.4,361.3 384.7,362.8 384,361.8 383.3,362.6 382.6,362.4 381.9,361.8 381.2,361.7 380.5,362.2 379.8,362.1 379.1,361.2 378.4,362.6 377.7,361.6 377,362.2 376.3,361.1 375.6,362.4 374.9,361 374.2,362.2 373.5,362.2 372.8,361.1 372.1,362.5 371.4,361.8 370.7,362.4 370,361.6 369.3,360.9 368.6,360.9 367.9,360.8 367.2,362.2 366.5,362.1 365.8,362 365.1,362.2 364.4,360.9 363.7,361 363,360.7 362.3,360.8 361.6,361.7 360.9,361.3 360.2,361.5 359.5,361.2 358.8,361.2 358.1,361.7 357.4,361.5 356.7,361.5 356,360.5 355.3,361.6 354.6,360.4 353.9,361.6 353.2,361.5 352.5,360.4 351.8,361.7 351.1,361.4 350.4,360.2 349.7,361.2 349,361.3 348.3,360.2 347.6,361.7 346.9,361.3 346.2,360.1 345.5,361 344.8,361.2 344.1,361 343.4,360.3 342.7,361.3 342,361.4 341.3,360.9 340.6,360.1 339.9,360.2 339.2,361.2 338.5,360 337.8,360.6 337.1,361.4 336.4,360 335.7,360.2 335,361.2 334.3,359.7 333.6,360.1 332.9,359.8 332.2,359.6 331.5,360.7 330.8,359.4 330.1,359.6 329.4,359.7 328.7,360 328,360.3 327.3,359.8 326.6,359.6 325.9,359.7 325.2,359.5 324.5,358.9 323.8,360 323.1,358.8 322.4,358.9 321.7,359 321,359.6 320.3,359.6 319.6,359.6 318.9,359.5 318.2,358.8 317.5,359.5 316.8,358.9 316.1,359 315.4,360.3 314.7,359.7 314,359.9 313.3,359.5 312.6,359 311.9,360.3 311.2,360.3 310.5,361.5 309.8,362.4 309.1,363.1 308.4,363.9 307.7,364 307,364.7 306.3,365.7 305.6,366.2 304.9,365.8 304.2,366.2 303.5,366.1 302.8,365.7 302.1,366.5 301.4,367 300.7,367.9 300,368.4 299.3,368.3 298.6,368.7 297.9,367.8 297.2,368.3 296.5,368.4 295.8,367 295.1,366.7 294.4,366.2 293.7,365.3 293,364.5 292.3,364.4 291.6,363.1 290.9,363.2 290.2,364 289.5,364 288.8,362.3 288.1,363 287.4,362.7 286.7,363.6 286,362.5 285.3,362.6 284.6,362 283.9,362.3 283.2,361.8 282.5,362.8 281.8,362.4 281.1,361 280.4,362.4 279.7,360.7 279,362.2 278.3,361.2 277.6,362 276.9,361.7 276.2,361.7 275.5,361.4 274.8,361.7 274.1,361.1 273.4,362.2 272.7,360.7 272,360.8 271.3,361 270.6,362.3 269.9,361.4 269.2,362.2 268.5,361.5 267.8,360.7 267.1,361.8 266.4,361.4 265.7,361.4 265,362.1 264.3,360.5 263.6,361.6 262.9,362 262.2,360.5 261.5,362 260.8,361.5 260.1,361.2" fill="#BFC0E8" fill-opacity="0.6"/>
<polygon points="260.1,333.3 260.8,334 261.5,333.1 262.2,333.7 262.9,333.6 263.6,334.8 264.3,333.4 265,333.1 265.7,333.3 266.4,334.5 267.1,333.6 267.8,334.4 268.5,335.5 269.2,335.6 269.9,335.5 270.6,335.2 271.3,335.3 272,334.3 272.7,333.8 273.4,334.2 274.1,334.6 274.8,333.9 275.5,334.9 276.2,334.4 276.9,333.6 277.6,334.6 278.3,334.1 279,329.8 279.7,329.1 280.4,330.4 281.1,331 281.8,331.4 282.5,332.2 283.2,334.2 283.9,335.5 284.6,335.2 285.3,333.6 286,335.6 286.7,334.9 287.4,335.9 288.1,336.1 288.8,336.4 289.5,335.8 290.2,335.4 290.9,333.1 291.6,329.4 292.3,325.8 293,322.2 293.7,322.3 294.4,320.6 295.1,314.5 295.8,307.7 296.5,298.9 297.2,292.8 297.9,284.9 298.6,280 299.3,279.2 300,275.8 300.7,275.8 301.4,273.1 302.1,268.2 302.8,265 303.5,259.6 304.2,256.6 304.9,254.2 305.6,252.3 306.3,249.6 307,250.5 307.7,248 308.4,247.5 309.1,244.4 309.8,244.4 310.5,242.8 311.2,241.3 311.9,238.8 312.6,238.9 313.3,239.9 314,241.2 314.7,240.4 315.4,240.7 316.1,243.1 316.8,246.2 317.5,247.6 318.2,249 318.9,250.3 319.6,252.1 320.3,253.4 321,252.8 321.7,252.9 322.4,255.5 323.1,253.5 323.8,255.2 324.5,255 325.2,255.9 325.9,257.2 326.6,261.4 327.3,262.1 328,262.7 328.7,262.8 329.4,266.1 330.1,265.8 330.8,264.5 331.5,267.5 332.2,268.1 332.9,270 333.6,271.1 334.3,272.6 335,277.1 335.7,277.8 336.4,280 337.1,281.8 337.8,284.4 338.5,284.7 339.2,287.2 339.9,287.3 340.6,287.9 341.3,286.5 342,287.7 342.7,288.6 343.4,289.4 344.1,288.3 344.8,289.1 345.5,289.4 346.2,290.9 346.9,291.2 347.6,292.7 348.3,291.6 349,294.1 349.7,293.2 350.4,292.8 351.1,293.3 351.8,295.1 352.5,294.8 353.2,293.1 353.9,293.9 354.6,293.5 355.3,293.9 356,295.7 356.7,295 357.4,296.2 358.1,298.1 358.8,298.8 359.5,300.6 360.2,300.6 360.9,300 361.6,303.5 362.3,303.2 363,305.6 363.7,306.7 364.4,306.2 365.1,308.4 365.8,310 366.5,310.8 367.2,310.3 367.9,311.5 368.6,314 369.3,314.2 370,312.9 370.7,315.7 371.4,315.4 372.1,316.3 372.8,315.7 373.5,316.5 374.2,316.2 374.9,316.9 375.6,318 376.3,318.1 377,318.5 377.7,316.5 378.4,318.8 379.1,319.2 379.8,316.7 380.5,319.2 381.2,317.4 381.9,319.9 382.6,319 383.3,319.9 384,318.3 384.7,319 385.4,318.9 386.1,318.6 386.8,318.3 387.5,319.9 388.2,319.3 388.9,319.9 389.6,321 390.3,319.1 391,320 391.7,319.6 392.4,321.6 393.1,320.9 393.8,321.4 394.5,321 395.2,323.1 395.9,322.7 396.6,322.6 397.3,324.1 398,323 398.7,322.8 399.4,324 400.1,323.7 400.8,324.1 401.5,325.6 402.2,325.5 402.9,323.9 403.6,326 404.3,326 405,327.2 405.7,327.1 406.4,327.4 407.1,325.4 407.8,326.1 408.5,325.8 409.2,325.5 409.9,326.7 410.6,325.8 411.3,326.9 412,327.3 412.7,325.9 413.4,326.1 414.1,326.1 414.8,327.6 415.5,327 416.2,328.3 416.9,326.8 417.6,327.3 418.3,329.3 419,327.7 419.7,330.2 420.4,330.7 421.1,329.2 421.8,330.7 422.5,330.3 423.2,330.2 423.9,332.2 424.6,330.4 425.3,332 426,331.8 426.7,332.3 427.4,331.3 428.1,331.5 428.8,332.9 429.5,333.6 430.2,333.1 430.9,332.8 431.6,333.8 432.3,333.6 433,331.9 433.7,332.1 434.4,331.3 435.1,331.4 435.8,331.7 436.5,333.3 437.2,333.9 437.9,333.6 438.6,333.2 439.3,333.2 440,333.2 440.7,333.9 441.4,332.5 442.1,334.3 442.8,333.9 443.5,332.8 444.2,333.1 444.9,334.7 445.6,335 446.3,333.5 447,335.9 447.7,335.6 448.4,334.6 449.1,334.6 449.8,335.8 450.5,336.2 451.2,335.8 451.9,334.3 452.6,335.2 453.3,333.8 454,334.3 454.7,333.8 454.7,355.9 454,356.4 453.3,356.9 452.6,357.5 451.9,356.5 451.2,356 450.5,357.5 449.8,356.9 449.1,356.5 448.4,356.6 447.7,356.9 447,356.8 446.3,357 445.6,357.2 444.9,357.3 444.2,356.2 443.5,357.6 442.8,357 442.1,357.6 441.4,357.5 440.7,356.6 440,356.2 439.3,357.3 438.6,357.1 437.9,356.1 437.2,356.8 436.5,357 435.8,356.1 435.1,357.4 434.4,356.4 433.7,356.8 433,356 432.3,356.1 431.6,356.1 430.9,356.3 430.2,356.6 429.5,356 428.8,356.6 428.1,357.5 427.4,357.1 426.7,357 426,357.4 425.3,357.3 424.6,356.5 423.9,356.9 423.2,357.1 422.5,357.3 421.8,356.5 421.1,356 420.4,356.4 419.7,356.9 419,356.8 418.3,356.6 417.6,357 416.9,356.9 416.2,356.3 415.5,356 414.8,356.7 414.1,355.9 413.4,356.5 412.7,357.1 412,356.8 411.3,355.8 410.6,356.8 409.9,356 409.2,357.3 408.5,356.1 407.8,356 407.1,356.7 406.4,357.3 405.7,356.4 405,356.7 404.3,356.5 403.6,355.7 402.9,355.9 402.2,356.5 401.5,356.6 400.8,356.6 400.1,355.7 399.4,356.9 398.7,356.3 398,356.8 397.3,356.1 396.6,356.5 395.9,357.2 395.2,356.9 394.5,355.7 393.8,356.9 393.1,355.9 392.4,355.9 391.7,355.8 391,355.7 390.3,356.3 389.6,356.8 388.9,356.8 388.2,356.7 387.5,356.5 386.8,356.8 386.1,356.3 385.4,357.1 384.7,356.6 384,356.4 383.3,357.2 382.6,356 381.9,356.4 381.2,356.1 380.5,355.5 379.8,355.8 379.1,355.7 378.4,357.1 377.7,356.9 377,355.5 376.3,356.3 375.6,355.2 374.9,356.8 374.2,356.4 373.5,356.3 372.8,356.4 372.1,355.1 371.4,354.9 370.7,356.1 370,354.9 369.3,354.7 368.6,355.2 367.9,355.8 367.2,354.6 366.5,355 365.8,355.1 365.1,354.9 364.4,354.9 363.7,354.6 363,354.2 362.3,354.2 361.6,354.8 360.9,355.2 360.2,354.7 359.5,353.9 358.8,354.2 358.1,353.3 357.4,354.2 356.7,354.4 356,353 355.3,352.9 354.6,352.9 353.9,354.1 353.2,354.3 352.5,352.7 351.8,353.6 351.1,354 350.4,353.9 349.7,353.8 349,353.5 348.3,352.3 347.6,353.2 346.9,353.7 346.2,353.2 345.5,352.9 344.8,352.1 344.1,353.6 343.4,352.2 342.7,352.2 342,353.3 341.3,353.3 340.6,352.3 339.9,353.5 339.2,353.3 338.5,352.3 337.8,352.1 337.1,351.3 336.4,352.5 335.7,350.9 335,351.9 334.3,350.2 333.6,351.2 332.9,351.2 332.2,350.1 331.5,350.4 330.8,350 330.1,350.3 329.4,350.6 328.7,349 328,350.1 327.3,350.5 326.6,349 325.9,349.2 325.2,348.7 324.5,348.7 323.8,348.9 323.1,349.5 322.4,349.2 321.7,349 321,349.1 320.3,347.5 319.6,348.6 318.9,348.8 318.2,348.5 317.5,348.4 316.8,348.9 316.1,348.2 315.4,348.8 314.7,350.7 314,351.5 313.3,351.5 312.6,353.2 311.9,354.5 311.2,354.1 310.5,356.3 309.8,356.4 309.1,356.7 308.4,357.5 307.7,358.8 307,359.5 306.3,359.3 305.6,360.4 304.9,359.1 304.2,359.9 303.5,361.3 302.8,361.7 302.1,362.5 301.4,363.3 300.7,365 300,364.6 299.3,364.5 298.6,364.9 297.9,364.7 297.2,365.3 296.5,364.7 295.8,364.6 295.1,364.3 294.4,362.3 293.7,362.6 293,361.4 292.3,361.5 291.6,361.2 290.9,360.7 290.2,360.3 289.5,359.4 288.8,359.9 288.1,360.8 287.4,360.7 286.7,360.1 286,360.2 285.3,359.7 284.6,359.3 283.9,359 283.2,359.3 282.5,359.6 281.8,358.7 281.1,358.7 280.4,359 279.7,360 279,359.7 278.3,359.5 277.6,359 276.9,358.5 276.2,359.1 275.5,358.6 274.8,358.6 274.1,359.7 273.4,359.5 272.7,358.6 272,358.4 271.3,358.8 270.6,358.9 269.9,359.2 269.2,359.9 268.5,359.5 267.8,359.2 267.1,358.6 266.4,359.5 265.7,359.4 265,359.8 264.3,359 263.6,359.9 262.9,359.4 262.2,359.2 261.5,359.9 260.8,359.6 260.1,359.9" fill="#F9B4A8" fill-opacity="0.45"/>
<line x1="277.6" y1="230.4" x2="277.6" y2="375.5" stroke="#6A6A6A" stroke-width="1.5" stroke-dasharray="13.6 8.7"/>
<polyline points="260.1,354.4 260.8,354.2 261.5,354.1 262.2,354.5 262.9,354.3 263.6,354.3 264.3,353.9 265,353.9 265.7,354.3 266.4,353.9 267.1,354 267.8,354.4 268.5,354.2 269.2,354.5 269.9,354 270.6,354.1 271.3,353.9 272,354 272.7,354.1 273.4,354 274.1,354.2 274.8,354.5 275.5,354.1 276.2,354.5 276.9,354.4 277.6,354 278.3,351.3 279,350.3 279.7,350.9 280.4,351.4 281.1,352.9 281.8,353.9 282.5,353.7 283.2,354.2 283.9,353.7 284.6,353.9 285.3,353.8 286,353.8 286.7,354.1 287.4,354.1 288.1,354.7 288.8,354.2 289.5,354.4 290.2,354.3 290.9,354.8 291.6,354.2 292.3,353.8 293,354 293.7,353.4 294.4,352.8 295.1,352.1 295.8,352.1 296.5,351.9 297.2,351.8 297.9,351.3 298.6,350.5 299.3,349.7 300,348.5 300.7,347.1 301.4,345.7 302.1,344.4 302.8,343.6 303.5,342.6 304.2,342.1 304.9,342.1 305.6,340.8 306.3,339.6 307,337.4 307.7,335.3 308.4,333.3 309.1,331.5 309.8,330 310.5,328.9 311.2,328.3 311.9,328.5 312.6,327.6 313.3,325.8 314,324 314.7,322.5 315.4,320.8 316.1,318.9 316.8,317.9 317.5,317 318.2,316.7 318.9,316.5 319.6,317 320.3,317.6 321,317.8 321.7,318.3 322.4,319.5 323.1,319.9 323.8,320.8 324.5,321.1 325.2,321.7 325.9,322.3 326.6,322.4 327.3,322.7 328,322.7 328.7,323.3 329.4,324.2 330.1,324.9 330.8,325.8 331.5,326.4 332.2,327.9 332.9,328.2 333.6,329.5 334.3,330.2 335,331 335.7,331.3 336.4,331.7 337.1,332 337.8,332.1 338.5,332.2 339.2,332.4 339.9,333.1 340.6,333.4 341.3,333.7 342,334.6 342.7,335.4 343.4,335.9 344.1,336.1 344.8,336.7 345.5,336.9 346.2,337.3 346.9,337.9 347.6,338 348.3,338 349,338.1 349.7,337.8 350.4,337.9 351.1,338 351.8,338.7 352.5,338.5 353.2,339.2 353.9,339.4 354.6,339.5 355.3,340.2 356,340.5 356.7,340.3 357.4,341 358.1,341.2 358.8,341.4 359.5,341.6 360.2,342.3 360.9,342.3 361.6,342.5 362.3,342.6 363,343 363.7,342.8 364.4,342.6 365.1,343 365.8,343 366.5,343.3 367.2,343.2 367.9,343.1 368.6,343.6 369.3,343.2 370,343.3 370.7,344 371.4,343.6 372.1,344.2 372.8,344.1 373.5,344.3 374.2,344.8 374.9,344.7 375.6,344.9 376.3,345 377,345.5 377.7,345.4 378.4,345.4 379.1,345.7 379.8,345.9 380.5,346.3 381.2,346.1 381.9,346.2 382.6,346 383.3,346 384,346.1 384.7,346.5 385.4,346.2 386.1,346.3 386.8,346.8 387.5,346.4 388.2,346.7 388.9,347.2 389.6,346.9 390.3,347.6 391,347.6 391.7,347.5 392.4,347.8 393.1,348 393.8,348.1 394.5,348.3 395.2,348.6 395.9,348.8 396.6,349 397.3,348.7 398,348.7 398.7,348.9 399.4,348.8 400.1,349.1 400.8,349.2 401.5,349.1 402.2,348.8 402.9,349.5 403.6,349.2 404.3,349.5 405,349.2 405.7,349.6 406.4,349.7 407.1,349.8 407.8,349.8 408.5,349.7 409.2,350.1 409.9,349.9 410.6,350.5 411.3,350.5 412,350.7 412.7,350.8 413.4,350.4 414.1,350.6 414.8,351 415.5,351.1 416.2,350.9 416.9,350.7 417.6,350.7 418.3,350.7 419,350.9 419.7,351.2 420.4,351.1 421.1,351.2 421.8,351 422.5,351.1 423.2,351.4 423.9,351.4 424.6,351.1 425.3,351.6 426,351.2 426.7,351.2 427.4,351.2 428.1,351.6 428.8,351.6 429.5,351.6 430.2,351.6 430.9,351.4 431.6,351.7 432.3,352 433,351.6 433.7,351.9 434.4,351.8 435.1,351.7 435.8,352.2 436.5,351.7 437.2,351.8 437.9,351.9 438.6,351.9 439.3,352 440,352.2 440.7,351.9 441.4,352.3 442.1,352 442.8,351.9 443.5,352 444.2,352 444.9,351.7 445.6,351.8 446.3,352.3 447,351.9 447.7,352 448.4,352.4 449.1,352.2 449.8,352.3 450.5,352.4 451.2,352.1 451.9,351.9 452.6,352.3 453.3,351.9 454,352 454.7,352.4" fill="none" stroke="#4F6BB2" stroke-width="2.6" stroke-linejoin="round"/>
<polyline points="260.1,346.6 260.8,346.4 261.5,346.5 262.2,346.4 262.9,346.3 263.6,346.7 264.3,346.8 265,346.2 265.7,346.6 266.4,346.6 267.1,346.1 267.8,346.4 268.5,346.2 269.2,346.4 269.9,346.3 270.6,346.7 271.3,346.3 272,346.2 272.7,346.4 273.4,346.3 274.1,346.3 274.8,346.7 275.5,346.2 276.2,346.4 276.9,346.6 277.6,346.7 278.3,342.4 279,339 279.7,339.3 280.4,340.3 281.1,342 281.8,343.3 282.5,344.9 283.2,345.1 283.9,345.3 284.6,345.1 285.3,345.3 286,346 286.7,346.2 287.4,346.3 288.1,346 288.8,346.4 289.5,346.3 290.2,346.4 290.9,345.8 291.6,345.2 292.3,344.5 293,343.6 293.7,343 294.4,342.3 295.1,342.3 295.8,341.5 296.5,340 297.2,337.7 297.9,335.4 298.6,333.2 299.3,330.5 300,328.8 300.7,328.3 301.4,327.8 302.1,325.7 302.8,323.1 303.5,319.2 304.2,315.8 304.9,312.5 305.6,309.7 306.3,307.2 307,306.3 307.7,306.5 308.4,304.9 309.1,303.5 309.8,301.7 310.5,299.7 311.2,297.7 311.9,296.5 312.6,296.6 313.3,296.3 314,296.9 314.7,296.7 315.4,297.3 316.1,297.2 316.8,297.4 317.5,298 318.2,297.7 318.9,298.3 319.6,298.8 320.3,299 321,300 321.7,300.6 322.4,301.1 323.1,301.5 323.8,302.2 324.5,302.4 325.2,302 325.9,302.8 326.6,302.9 327.3,303.8 328,305.2 328.7,306.3 329.4,307.5 330.1,308.7 330.8,310.1 331.5,311.4 332.2,312.7 332.9,313.7 333.6,315.2 334.3,316.2 335,316.9 335.7,317.8 336.4,318.2 337.1,317.9 337.8,318.3 338.5,318.4 339.2,319.1 339.9,319.2 340.6,319.5 341.3,320.4 342,320.5 342.7,321 343.4,321.9 344.1,322 344.8,322.5 345.5,322.7 346.2,323.2 346.9,323.2 347.6,323.2 348.3,323.8 349,323.8 349.7,323.6 350.4,323.6 351.1,324.4 351.8,324.6 352.5,324.9 353.2,325.5 353.9,325.9 354.6,326.4 355.3,326.8 356,327.1 356.7,327.8 357.4,328.2 358.1,328.4 358.8,329.4 359.5,329.5 360.2,329.7 360.9,330.4 361.6,330.8 362.3,330.7 363,331.3 363.7,331.5 364.4,331.5 365.1,331.3 365.8,331.8 366.5,331.7 367.2,331.8 367.9,331.6 368.6,332.1 369.3,332 370,332.8 370.7,333 371.4,333 372.1,333.2 372.8,333.8 373.5,334.3 374.2,334.8 374.9,334.8 375.6,335.4 376.3,335.3 377,335.6 377.7,336.3 378.4,336.5 379.1,336.4 379.8,336.7 380.5,336.8 381.2,337.2 381.9,337.4 382.6,337.4 383.3,337 384,337.4 384.7,337.5 385.4,337.6 386.1,337.7 386.8,337.9 387.5,337.8 388.2,338.6 388.9,338.9 389.6,338.5 390.3,338.8 391,339 391.7,339.7 392.4,339.6 393.1,339.9 393.8,340.6 394.5,340.5 395.2,340.7 395.9,341 396.6,341.3 397.3,341.6 398,341.7 398.7,341.9 399.4,342.1 400.1,341.8 400.8,342 401.5,341.6 402.2,342.2 402.9,341.7 403.6,342 404.3,341.9 405,342 405.7,342.2 406.4,342.5 407.1,343.1 407.8,342.7 408.5,343.3 409.2,343.3 409.9,343.2 410.6,343.5 411.3,343.7 412,343.5 412.7,343.8 413.4,344.1 414.1,344.3 414.8,344 415.5,344.3 416.2,344.2 416.9,344.5 417.6,344.6 418.3,344.4 419,344.2 419.7,344.7 420.4,344.3 421.1,344.2 421.8,344.4 422.5,344.4 423.2,345 423.9,344.7 424.6,344.6 425.3,345.2 426,345.1 426.7,345.2 427.4,345.1 428.1,345.2 428.8,345.2 429.5,345.1 430.2,345.7 430.9,345.7 431.6,345.7 432.3,345.7 433,345.8 433.7,345.2 434.4,345.3 435.1,345.8 435.8,345.6 436.5,345.7 437.2,345.7 437.9,345.7 438.6,345.5 439.3,345.6 440,345.7 440.7,345.9 441.4,345.8 442.1,345.9 442.8,345.7 443.5,345.6 444.2,345.8 444.9,346.1 445.6,346 446.3,345.9 447,345.8 447.7,345.7 448.4,346 449.1,345.7 449.8,345.8 450.5,346 451.2,346.1 451.9,346 452.6,345.9 453.3,346.1 454,345.9 454.7,346" fill="none" stroke="#E0582A" stroke-width="2.6" stroke-linejoin="round"/>
<rect x="260.3" y="231" width="194.8" height="144.8" fill="none" stroke="#555" stroke-width="1"/>
<line x1="260.3" y1="375.8" x2="262.3" y2="375.8" stroke="#555" stroke-width="1" />
<line x1="453.1" y1="375.8" x2="455.1" y2="375.8" stroke="#555" stroke-width="1" />
<text x="256.5" y="379.6" font-size="11" text-anchor="end" font-weight="normal" font-style="normal" fill="#1a1a1a" >0</text>
<line x1="260.3" y1="347" x2="262.3" y2="347" stroke="#555" stroke-width="1" />
<line x1="453.1" y1="347" x2="455.1" y2="347" stroke="#555" stroke-width="1" />
<text x="256.5" y="350.8" font-size="11" text-anchor="end" font-weight="normal" font-style="normal" fill="#1a1a1a" >50</text>
<line x1="260.3" y1="318.2" x2="262.3" y2="318.2" stroke="#555" stroke-width="1" />
<line x1="453.1" y1="318.2" x2="455.1" y2="318.2" stroke="#555" stroke-width="1" />
<text x="256.5" y="322" font-size="11" text-anchor="end" font-weight="normal" font-style="normal" fill="#1a1a1a" >100</text>
<line x1="260.3" y1="289.4" x2="262.3" y2="289.4" stroke="#555" stroke-width="1" />
<line x1="453.1" y1="289.4" x2="455.1" y2="289.4" stroke="#555" stroke-width="1" />
<text x="256.5" y="293.2" font-size="11" text-anchor="end" font-weight="normal" font-style="normal" fill="#1a1a1a" >150</text>
<line x1="260.3" y1="260.6" x2="262.3" y2="260.6" stroke="#555" stroke-width="1" />
<line x1="453.1" y1="260.6" x2="455.1" y2="260.6" stroke="#555" stroke-width="1" />
<text x="256.5" y="264.4" font-size="11" text-anchor="end" font-weight="normal" font-style="normal" fill="#1a1a1a" >200</text>
<line x1="260.3" y1="231.8" x2="262.3" y2="231.8" stroke="#555" stroke-width="1" />
<line x1="453.1" y1="231.8" x2="455.1" y2="231.8" stroke="#555" stroke-width="1" />
<text x="256.5" y="235.6" font-size="11" text-anchor="end" font-weight="normal" font-style="normal" fill="#1a1a1a" >250</text>
<line x1="277.6" y1="375.8" x2="277.6" y2="373.8" stroke="#555" stroke-width="1" />
<line x1="277.6" y1="231" x2="277.6" y2="233" stroke="#555" stroke-width="1" />
<text x="277.6" y="388.5" font-size="11" text-anchor="middle" font-weight="normal" font-style="normal" fill="#1a1a1a" >0</text>
<line x1="312.6" y1="375.8" x2="312.6" y2="373.8" stroke="#555" stroke-width="1" />
<line x1="312.6" y1="231" x2="312.6" y2="233" stroke="#555" stroke-width="1" />
<text x="312.6" y="388.5" font-size="11" text-anchor="middle" font-weight="normal" font-style="normal" fill="#1a1a1a" >5</text>
<line x1="347.6" y1="375.8" x2="347.6" y2="373.8" stroke="#555" stroke-width="1" />
<line x1="347.6" y1="231" x2="347.6" y2="233" stroke="#555" stroke-width="1" />
<text x="347.6" y="388.5" font-size="11" text-anchor="middle" font-weight="normal" font-style="normal" fill="#1a1a1a" >10</text>
<line x1="382.6" y1="375.8" x2="382.6" y2="373.8" stroke="#555" stroke-width="1" />
<line x1="382.6" y1="231" x2="382.6" y2="233" stroke="#555" stroke-width="1" />
<text x="382.6" y="388.5" font-size="11" text-anchor="middle" font-weight="normal" font-style="normal" fill="#1a1a1a" >15</text>
<line x1="417.6" y1="375.8" x2="417.6" y2="373.8" stroke="#555" stroke-width="1" />
<line x1="417.6" y1="231" x2="417.6" y2="233" stroke="#555" stroke-width="1" />
<text x="417.6" y="388.5" font-size="11" text-anchor="middle" font-weight="normal" font-style="normal" fill="#1a1a1a" >20</text>
<line x1="452.6" y1="375.8" x2="452.6" y2="373.8" stroke="#555" stroke-width="1" />
<line x1="452.6" y1="231" x2="452.6" y2="233" stroke="#555" stroke-width="1" />
<text x="452.6" y="388.5" font-size="11" text-anchor="middle" font-weight="normal" font-style="normal" fill="#1a1a1a" >25</text>
<text x="365.5" y="404" font-size="11.4" text-anchor="middle" font-weight="normal" font-style="normal" fill="#1a1a1a" >Time (min)</text>
<text x="231" y="301" font-size="10.3" text-anchor="middle" font-weight="normal" font-style="normal" fill="#1a1a1a" transform="rotate(-90 231 301)">Mean p<tspan font-style="italic">HSP12</tspan> reporter signal</text>
<line x1="331" y1="236.2" x2="347.6" y2="236.2" stroke="#2F7FC8" stroke-width="1.6" />
<rect x="331" y="241" width="16.6" height="4.4" fill="#D6D6EE"/>
<line x1="331" y1="250.4" x2="347.6" y2="250.4" stroke="#E0582A" stroke-width="1.6" />
<rect x="331" y="255.3" width="16.6" height="4.7" fill="#FCDAD4"/>
<line x1="332.5" y1="265.3" x2="346.5" y2="265.3" stroke="#707070" stroke-width="1.3" />
<text x="349.8" y="239.3" font-size="7.55" text-anchor="start" font-weight="normal" font-style="normal" fill="#1a1a1a" >Mean p<tspan font-style="italic">HSP12</tspan> for low p<tspan font-style="italic">HOR7</tspan></text>
<text x="349.8" y="246.4" font-size="7.55" text-anchor="start" font-weight="normal" font-style="normal" fill="#1a1a1a" >Std deviation</text>
<text x="349.8" y="253.6" font-size="7.55" text-anchor="start" font-weight="normal" font-style="normal" fill="#1a1a1a" >Mean p<tspan font-style="italic">HSP12</tspan> for high p<tspan font-style="italic">HOR7</tspan></text>
<text x="349.8" y="260.7" font-size="7.55" text-anchor="start" font-weight="normal" font-style="normal" fill="#1a1a1a" >Std deviation</text>
<text x="349.8" y="268" font-size="7.55" text-anchor="start" font-weight="normal" font-style="normal" fill="#1a1a1a" >Induction time</text>
<rect x="515.6" y="240.5" width="17.5" height="138.5" fill="#D3D3D3" stroke="#222" stroke-width="1"/>
<rect x="515.6" y="318.8" width="17.5" height="60.2" fill="#F47C7C" stroke="#222" stroke-width="1"/>
<line x1="524.4" y1="318.8" x2="524.4" y2="316.4" stroke="#222" stroke-width="1" />
<line x1="521.9" y1="316.4" x2="526.9" y2="316.4" stroke="#222" stroke-width="1" />
<rect x="541.5" y="240.5" width="17.5" height="138.5" fill="#D3D3D3" stroke="#222" stroke-width="1"/>
<rect x="541.5" y="337.4" width="17.5" height="41.6" fill="#F47C7C" stroke="#222" stroke-width="1"/>
<line x1="550.2" y1="337.4" x2="550.2" y2="330.1" stroke="#222" stroke-width="1" />
<line x1="547.8" y1="330.1" x2="552.8" y2="330.1" stroke="#222" stroke-width="1" />
<rect x="567.3" y="240.5" width="17.5" height="138.5" fill="#D3D3D3" stroke="#222" stroke-width="1"/>
<rect x="567.3" y="268.8" width="17.5" height="110.2" fill="#F47C7C" stroke="#222" stroke-width="1"/>
<line x1="576" y1="268.8" x2="576" y2="266.1" stroke="#222" stroke-width="1" />
<line x1="573.5" y1="266.1" x2="578.5" y2="266.1" stroke="#222" stroke-width="1" />
<rect x="592.7" y="240.5" width="17.5" height="138.5" fill="#D3D3D3" stroke="#222" stroke-width="1"/>
<rect x="592.7" y="307.7" width="17.5" height="71.3" fill="#9B86C8" stroke="#222" stroke-width="1"/>
<line x1="601.5" y1="307.7" x2="601.5" y2="306.3" stroke="#222" stroke-width="1" />
<line x1="599" y1="306.3" x2="604" y2="306.3" stroke="#222" stroke-width="1" />
<rect x="618.4" y="240.5" width="17.5" height="138.5" fill="#D3D3D3" stroke="#222" stroke-width="1"/>
<rect x="618.4" y="308.4" width="17.5" height="70.6" fill="#9B86C8" stroke="#222" stroke-width="1"/>
<line x1="627.1" y1="308.4" x2="627.1" y2="305.9" stroke="#222" stroke-width="1" />
<line x1="624.6" y1="305.9" x2="629.6" y2="305.9" stroke="#222" stroke-width="1" />
<rect x="644.3" y="240.5" width="17.5" height="138.5" fill="#D3D3D3" stroke="#222" stroke-width="1"/>
<rect x="644.3" y="307.4" width="17.5" height="71.6" fill="#9B86C8" stroke="#222" stroke-width="1"/>
<line x1="653" y1="307.4" x2="653" y2="307" stroke="#222" stroke-width="1" />
<line x1="650.5" y1="307" x2="655.5" y2="307" stroke="#222" stroke-width="1" />
<text x="550" y="322.5" font-size="9" text-anchor="middle" font-weight="normal" font-style="normal" fill="#1a1a1a" >*</text>
<text x="575.8" y="261.5" font-size="9" text-anchor="middle" font-weight="normal" font-style="normal" fill="#1a1a1a" >***</text>
<text x="601.5" y="301.5" font-size="10.5" text-anchor="middle" font-weight="normal" font-style="normal" fill="#1a1a1a" >ns</text>
<text x="627.3" y="301.5" font-size="10.5" text-anchor="middle" font-weight="normal" font-style="normal" fill="#1a1a1a" >ns</text>
<text x="653" y="301.5" font-size="10.5" text-anchor="middle" font-weight="normal" font-style="normal" fill="#1a1a1a" >ns</text>
<line x1="511.8" y1="226.6" x2="511.8" y2="379" stroke="#222" stroke-width="1" />
<line x1="511.3" y1="379" x2="665.3" y2="379" stroke="#222" stroke-width="1" />
<line x1="509.3" y1="240.5" x2="511.8" y2="240.5" stroke="#222" stroke-width="1" />
<text x="508.2" y="244.3" font-size="11" text-anchor="end" font-weight="normal" font-style="normal" fill="#1a1a1a" >100</text>
<line x1="509.3" y1="275.1" x2="511.8" y2="275.1" stroke="#222" stroke-width="1" />
<text x="508.2" y="278.9" font-size="11" text-anchor="end" font-weight="normal" font-style="normal" fill="#1a1a1a" >75</text>
<line x1="509.3" y1="309.8" x2="511.8" y2="309.8" stroke="#222" stroke-width="1" />
<text x="508.2" y="313.6" font-size="11" text-anchor="end" font-weight="normal" font-style="normal" fill="#1a1a1a" >50</text>
<line x1="509.3" y1="344.4" x2="511.8" y2="344.4" stroke="#222" stroke-width="1" />
<text x="508.2" y="348.2" font-size="11" text-anchor="end" font-weight="normal" font-style="normal" fill="#1a1a1a" >20</text>
<line x1="509.3" y1="379" x2="511.8" y2="379" stroke="#222" stroke-width="1" />
<text x="508.2" y="382.8" font-size="11" text-anchor="end" font-weight="normal" font-style="normal" fill="#1a1a1a" >0</text>
<text x="524.4" y="388.9" font-size="9.8" text-anchor="middle" font-weight="normal" font-style="normal" fill="#1a1a1a" >0h</text>
<text x="524.4" y="400.8" font-size="9.8" text-anchor="middle" font-weight="normal" font-style="normal" fill="#1a1a1a" >YPD</text>
<text x="550.2" y="388.9" font-size="9.8" text-anchor="middle" font-weight="normal" font-style="normal" fill="#1a1a1a" >48h</text>
<text x="550.2" y="400.8" font-size="9.8" text-anchor="middle" font-weight="normal" font-style="normal" fill="#1a1a1a" >YPD</text>
<text x="576" y="388.9" font-size="9.8" text-anchor="middle" font-weight="normal" font-style="normal" fill="#1a1a1a" >48h</text>
<text x="576" y="400.8" font-size="9.8" text-anchor="middle" font-weight="normal" font-style="normal" fill="#1a1a1a" >NaCl</text>
<text x="601.5" y="388.9" font-size="9.8" text-anchor="middle" font-weight="normal" font-style="normal" fill="#1a1a1a" >0h</text>
<text x="601.5" y="400.8" font-size="9.8" text-anchor="middle" font-weight="normal" font-style="normal" fill="#1a1a1a" >YPD</text>
<text x="627.1" y="388.9" font-size="9.8" text-anchor="middle" font-weight="normal" font-style="normal" fill="#1a1a1a" >48h</text>
<text x="627.1" y="400.8" font-size="9.8" text-anchor="middle" font-weight="normal" font-style="normal" fill="#1a1a1a" >YPD</text>
<text x="653" y="388.9" font-size="9.8" text-anchor="middle" font-weight="normal" font-style="normal" fill="#1a1a1a" >48h</text>
<text x="653" y="400.8" font-size="9.8" text-anchor="middle" font-weight="normal" font-style="normal" fill="#1a1a1a" >NaCl</text>
<line x1="514.9" y1="404.3" x2="585.9" y2="404.3" stroke="#888" stroke-width="1.2" />
<line x1="593.2" y1="404.3" x2="665.3" y2="404.3" stroke="#888" stroke-width="1.2" />
<text x="551" y="415.6" font-size="9.8" text-anchor="middle" font-weight="normal" font-style="normal" fill="#1a1a1a" >Top 2%</text>
<text x="635" y="415.6" font-size="9.8" text-anchor="middle" font-weight="normal" font-style="normal" fill="#1a1a1a" >Top 2%</text>
<text x="551.3" y="427.8" font-size="9.8" text-anchor="middle" font-weight="normal" font-style="normal" fill="#1a1a1a" >p<tspan font-style="italic">HOR7</tspan> mCherry</text>
<text x="635" y="427.8" font-size="9.8" text-anchor="middle" font-weight="normal" font-style="normal" fill="#1a1a1a" >p<tspan font-style="italic">SAG1</tspan> mCherry</text>
<text x="488.3" y="302" font-size="11.4" text-anchor="middle" font-weight="normal" font-style="normal" fill="#1a1a1a" transform="rotate(-90 488.3 302)">Percentage of cells</text>
<rect x="516.7" y="434.5" width="5.5" height="5.5" fill="#D3D3D3" stroke="#333" stroke-width="0.8"/>
<text x="523" y="441" font-size="9.8" text-anchor="start" font-weight="normal" font-style="normal" fill="#1a1a1a" >WT (GFP)</text>
<rect x="581.8" y="434.5" width="5.5" height="5.5" fill="#F47C7C" stroke="#333" stroke-width="0.8"/>
<text x="588.1" y="441" font-size="9.8" text-anchor="start" font-weight="normal" font-style="normal" fill="#1a1a1a" >HOR7</text>
<rect x="638.5" y="434.5" width="5.5" height="5.5" fill="#9B86C8" stroke="#333" stroke-width="0.8"/>
<text x="644.8" y="441" font-size="9.8" text-anchor="start" font-weight="normal" font-style="normal" fill="#1a1a1a" >SAG1</text>
</svg></body></html>
